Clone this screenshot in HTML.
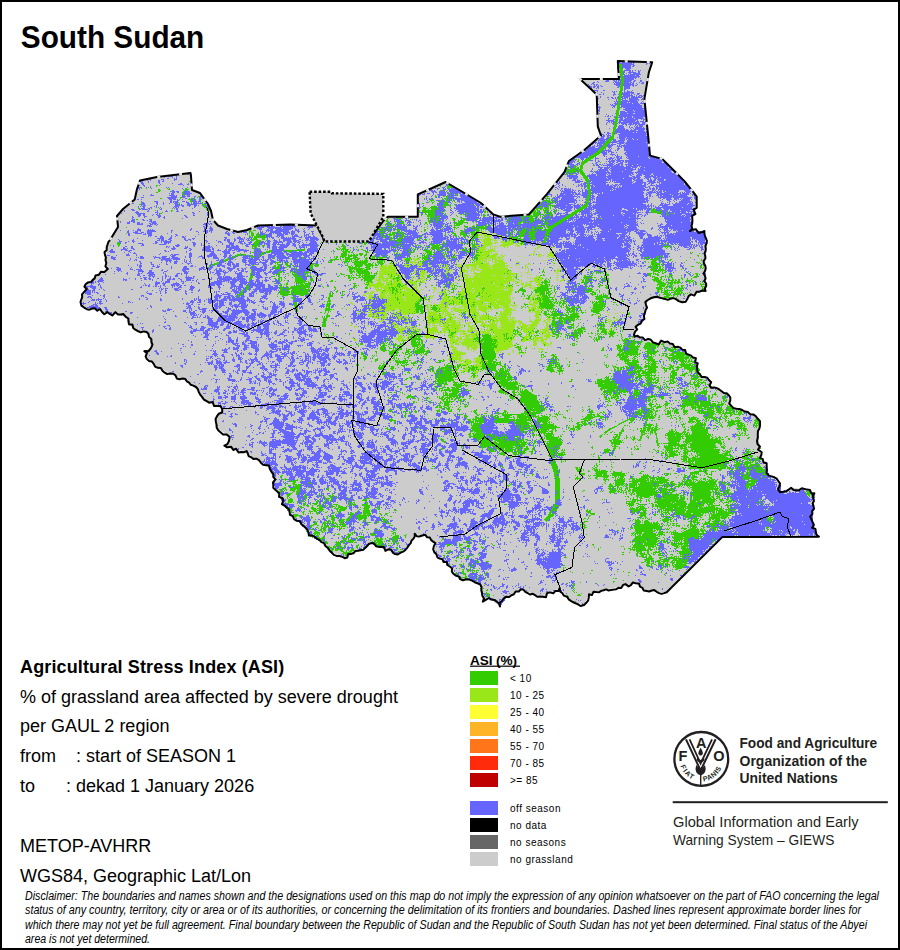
<!DOCTYPE html>
<html><head><meta charset="utf-8">
<style>
html,body{margin:0;padding:0;background:#fff;}
svg{display:block;}
text{font-family:"Liberation Sans",sans-serif;fill:#000;}
.lg{font-size:10px;letter-spacing:0.5px;}
.tx{font-size:18px;}
</style></head><body>
<svg width="900" height="950" viewBox="0 0 900 950">
<rect x="0" y="0" width="900" height="950" fill="#fff"/>
<g id="map">
<polygon points="140.0,180.5 157.0,177.0 190.5,173.0 191.0,176.0 192.0,190.0 200.0,193.0 208.0,204.0 211.0,211.0 213.0,220.0 218.0,225.5 227.0,229.0 238.0,232.0 247.0,230.0 258.0,225.5 275.5,225.0 290.0,224.4 316.7,225.6 323.3,237.8 324.4,241.5 366.7,241.5 370.0,239.0 383.3,221.0 387.8,216.7 417.8,216.7 417.8,194.4 425.6,191.0 445.6,182.0 461.0,191.0 481.0,203.0 493.3,214.4 500.0,216.7 528.9,214.4 546.7,194.4 564.4,172.2 568.9,161.0 584.4,150.0 601.0,135.6 597.8,126.7 596.7,94.4 580.0,78.9 618.9,78.9 617.8,61.0 652.2,62.2 648.9,72.2 644.4,98.9 648.9,143.3 650.0,155.6 662.2,158.9 675.6,172.2 684.4,181.1 693.3,192.2 696.7,196.7 696.7,207.8 692.2,215.6 690.0,231.0 704.4,231.0 705.6,251.0 705.6,291.0 691.0,294.4 682.2,302.2 675.6,298.9 660.0,297.8 647.8,300.0 645.6,310.0 644.4,318.9 635.6,326.7 634.4,336.7 655.6,343.3 664.4,342.2 677.8,346.7 691.1,355.6 697.8,363.3 700.0,374.4 708.9,380.0 711.1,387.8 726.7,393.3 731.1,405.6 742.2,410.0 753.3,414.4 760.0,421.1 760.0,425.6 757.8,434.4 760.0,446.7 760.0,457.8 766.7,466.7 768.9,475.6 780.0,483.3 780.0,492.2 791.1,487.8 804.4,488.9 814.4,493.3 812.2,511.1 812.2,527.8 818.9,536.7 722.2,537.1 666.7,592.2 646.7,591.1 640.0,586.7 635.6,583.2 606.0,589.4 589.0,594.3 584.0,605.0 572.0,601.6 567.0,596.7 559.8,588.0 542.7,596.7 520.7,589.4 506.0,596.7 500.0,606.5 488.9,598.0 482.8,601.6 480.3,584.5 469.3,579.6 460.0,579.0 446.8,562.0 434.5,552.6 435.4,543.1 429.8,537.4 414.7,533.7 409.0,545.0 397.7,554.4 378.8,546.9 371.2,543.1 358.0,550.7 344.8,558.2 329.7,550.7 324.0,543.1 308.9,535.6 301.3,524.2 290.0,514.8 284.4,505.6 275.6,490.0 273.3,474.4 268.9,465.6 253.3,458.9 246.7,451.1 233.3,450.0 224.4,445.6 228.9,441.1 226.7,434.4 216.7,427.8 215.6,418.9 222.2,408.9 206.7,401.1 200.0,394.4 193.3,385.6 175.6,375.6 157.8,367.8 146.7,358.9 144.4,351.1 151.1,347.8 148.9,336.7 146.7,332.0 137.8,331.0 129.0,324.4 125.5,316.7 117.8,314.4 102.0,312.0 100.0,309.0 84.4,307.8 80.5,302.0 82.0,294.4 86.7,289.0 84.4,286.7 95.5,275.5 104.4,272.0 107.8,269.0 105.5,260.0 106.7,250.0 110.0,240.0 118.0,227.0 117.0,216.0 123.0,209.0 134.7,199.5 137.0,189.0" fill="#cccccc" stroke="none"/>
<g fill="none" stroke-width="1" shape-rendering="crispEdges">
<path stroke="#6666ff" d="M619 62.5h1m2 0h13m11 0h1m2 0h1m2 0h1M618 63.5h14m1 0h1m12 0h2m1 0h1M617 64.5h2m3 0h12m12 0h1M617 65.5h2m3 0h9m2 0h2M617 66.5h2m3 0h9m1 0h2M617 67.5h2m3 0h9M617 68.5h1m4 0h1m2 0h6M617 69.5h1m8 0h4M618 70.5h1m5 0h7m1 0h1m2 0h1m2 0h1m1 0h1M618 71.5h1m4 0h2m4 0h2m1 0h1m5 0h2M623 72.5h2m3 0h8m2 0h2M618 73.5h1m4 0h1m2 0h1m2 0h2m2 0h7M619 74.5h1m3 0h2m3 0h1m1 0h11M624 75.5h11m1 0h3M619 76.5h2m2 0h17M619 77.5h2m3 0h13m1 0h1M588 78.5h1m1 0h1m1 0h1m11 0h7m4 0h3m1 0h1m4 0h10m1 0h1m4 0h1M594 79.5h2m1 0h1m6 0h8m3 0h6m3 0h10M606 80.5h3m4 0h2m1 0h1m1 0h3m3 0h8m2 0h2m4 0h2M597 81.5h1m7 0h4m5 0h3m1 0h1m1 0h1m3 0h7m2 0h2m5 0h2M593 82.5h2m3 0h1m14 0h1m1 0h6m3 0h5m1 0h2m1 0h1m5 0h1m2 0h2M592 83.5h2m20 0h1m1 0h5m3 0h7m1 0h2m2 0h1m4 0h3M586 84.5h1m1 0h1m2 0h1m1 0h2m1 0h2m16 0h6m3 0h11m3 0h1M587 85.5h1m1 0h1m4 0h1m1 0h1m1 0h1m1 0h1m15 0h4m3 0h8m1 0h2m1 0h2M588 86.5h4m1 0h3m1 0h2m2 0h2m15 0h2m4 0h6m3 0h1M589 87.5h1m1 0h1m1 0h2m2 0h2m18 0h2m5 0h6M591 88.5h1m4 0h1m1 0h1m25 0h6M591 89.5h1m32 0h2M594 90.5h4m5 0h2m17 0h1m1 0h1m2 0h1m4 0h1M597 91.5h1m14 0h1m1 0h1m1 0h1m7 0h1m2 0h3m1 0h1M601 92.5h1m11 0h2m7 0h1m1 0h10M597 93.5h1m5 0h1m10 0h1m7 0h8m1 0h3m3 0h3M597 94.5h1m1 0h2m2 0h1m9 0h3m2 0h1m3 0h8m1 0h1m2 0h1m2 0h2M613 95.5h1m9 0h10m3 0h1m2 0h3m1 0h2M600 96.5h1m17 0h1m3 0h8m1 0h4m1 0h1m1 0h2m1 0h2M600 97.5h1m6 0h2m2 0h2m2 0h1m1 0h1m3 0h2m1 0h4m1 0h1m1 0h11M597 98.5h2m13 0h2m1 0h1m1 0h1m4 0h4m1 0h1m1 0h9m4 0h1M597 99.5h1m10 0h1m7 0h1m4 0h2m2 0h1m3 0h10m2 0h2m1 0h1M596 100.5h1m19 0h1m5 0h6m1 0h8m1 0h1m4 0h1M596 101.5h1m17 0h1m1 0h2m3 0h17m4 0h1m1 0h1M596 102.5h1m18 0h1m1 0h1m3 0h6m1 0h1m1 0h8m3 0h1m1 0h1M614 103.5h4m3 0h11m1 0h6m1 0h5M596 104.5h1m1 0h1m11 0h1m1 0h1m2 0h2m3 0h20M597 105.5h1m13 0h5m5 0h21m2 0h1M596 106.5h1m2 0h1m13 0h2m6 0h21m3 0h1M597 107.5h4m11 0h1m1 0h1m5 0h2m1 0h19m2 0h2M599 108.5h1m25 0h21M597 109.5h1m1 0h1m23 0h20m1 0h2M598 110.5h2m25 0h8m1 0h12M597 111.5h1m1 0h1m20 0h5m2 0h7m1 0h11M620 112.5h26M597 113.5h1m1 0h1m15 0h1m4 0h7m1 0h5m2 0h11M606 114.5h1m13 0h25M608 115.5h1m3 0h1m6 0h26M605 116.5h1m1 0h2m1 0h1m3 0h1m4 0h13m1 0h12M614 117.5h1m3 0h5m1 0h2m1 0h5m1 0h10m3 0h1M608 118.5h2m10 0h3m2 0h9m1 0h9m2 0h1M608 119.5h1m4 0h2m4 0h4m1 0h14m3 0h1m1 0h2m1 0h1M606 120.5h8m5 0h17m1 0h1m5 0h1m2 0h1M608 121.5h2m1 0h4m4 0h2m2 0h12m1 0h3m1 0h4m1 0h1M607 122.5h1m1 0h1m1 0h1m1 0h1m4 0h21m3 0h5M606 123.5h1m5 0h2m3 0h1m1 0h1m1 0h6m2 0h3m1 0h7m2 0h3M606 124.5h1m6 0h1m8 0h2m1 0h2m1 0h6m1 0h2m1 0h7m1 0h1M619 125.5h4m3 0h1m3 0h1m4 0h1m1 0h1m1 0h4M618 126.5h6m5 0h1m4 0h1m1 0h2m1 0h4M613 127.5h1m4 0h6m5 0h1m1 0h2m2 0h7m1 0h1M609 128.5h1m7 0h8m5 0h1m2 0h1m1 0h10m1 0h2M616 129.5h9m1 0h2m3 0h1m2 0h11m1 0h2M616 130.5h13m1 0h6m2 0h6m3 0h1M615 131.5h30m1 0h2M604 132.5h1m2 0h2m6 0h18m1 0h2m1 0h11M601 133.5h1m5 0h4m4 0h2m3 0h26m1 0h1M601 134.5h3m2 0h1m1 0h1m9 0h30M601 135.5h1m1 0h2m2 0h4m8 0h27M601 136.5h4m2 0h2m1 0h1m8 0h29M601 137.5h3m3 0h3m7 0h1m1 0h7m1 0h21M599 138.5h5m2 0h3m10 0h6m1 0h6m1 0h16M596 139.5h1m2 0h9m5 0h3m4 0h5m1 0h1m1 0h5m1 0h3m1 0h11M595 140.5h1m2 0h7m1 0h1m6 0h3m2 0h7m2 0h22M594 141.5h1m3 0h1m1 0h6m6 0h12m3 0h22M593 142.5h4m1 0h7m5 0h7m2 0h6m1 0h20m1 0h2M593 143.5h1m1 0h1m1 0h7m5 0h1m2 0h1m4 0h7m1 0h24M592 144.5h1m4 0h1m1 0h3m1 0h1m4 0h2m1 0h5m3 0h2m3 0h1m1 0h23M590 145.5h1m3 0h1m2 0h6m4 0h6m4 0h1m1 0h1m1 0h27M589 146.5h2m1 0h3m1 0h2m1 0h3m5 0h5m5 0h5m1 0h25M587 147.5h1m1 0h6m3 0h3m7 0h3m7 0h1m2 0h1m2 0h24m1 0h1M587 148.5h13m5 0h1m3 0h1m1 0h1m5 0h3m4 0h26M585 149.5h1m1 0h12m6 0h1m2 0h1m1 0h1m6 0h2m5 0h26M584 150.5h14m5 0h8m4 0h1m1 0h1m6 0h26M585 151.5h12m5 0h3m1 0h1m1 0h4m14 0h24M581 152.5h1m1 0h13m5 0h6m1 0h1m2 0h3m2 0h1m8 0h25M580 153.5h14m8 0h5m4 0h1m12 0h2m1 0h23M578 154.5h1m1 0h13m10 0h4m3 0h5m2 0h1m7 0h26M577 155.5h14m12 0h2m7 0h1m2 0h1m1 0h1m8 0h24M577 156.5h11m1 0h1m14 0h1m1 0h1m9 0h4m1 0h1m5 0h11m1 0h10m3 0h1m1 0h1M575 157.5h13m7 0h1m14 0h2m2 0h1m1 0h3m1 0h2m4 0h1m1 0h20m1 0h6m3 0h1M573 158.5h2m5 0h4m2 0h1m8 0h4m7 0h1m1 0h6m3 0h5m5 0h22m1 0h9m1 0h3M571 159.5h4m6 0h3m11 0h1m10 0h2m1 0h2m1 0h1m2 0h1m1 0h3m9 0h34M569 160.5h1m1 0h3m1 0h1m6 0h1m7 0h3m2 0h1m2 0h1m10 0h1m1 0h4m1 0h8m1 0h37m1 0h1M568 161.5h7m20 0h1m2 0h2m6 0h1m1 0h7m2 0h4m1 0h2m1 0h37m1 0h1M568 162.5h5m1 0h1m4 0h1m16 0h2m11 0h2m1 0h2m2 0h2m2 0h3m2 0h2m1 0h34m2 0h3M569 163.5h3m5 0h3m12 0h1m2 0h2m7 0h1m1 0h1m2 0h4m1 0h1m3 0h5m5 0h40M568 164.5h6m2 0h2m1 0h1m13 0h1m2 0h2m1 0h2m1 0h1m4 0h7m2 0h4m1 0h2m2 0h12m1 0h31M570 165.5h4m1 0h1m1 0h1m16 0h1m1 0h3m4 0h10m1 0h6m1 0h2m3 0h1m1 0h4m1 0h36M567 166.5h2m1 0h4m24 0h2m7 0h1m1 0h15m2 0h12m1 0h1m1 0h29M570 167.5h4m24 0h5m1 0h6m1 0h20m1 0h5m3 0h4m1 0h23m1 0h2M565 168.5h2m4 0h1m2 0h1m17 0h1m7 0h2m2 0h5m1 0h23m2 0h1m2 0h1m1 0h30m1 0h1M566 169.5h1m1 0h1m2 0h1m20 0h1m5 0h10m1 0h1m1 0h14m1 0h10m2 0h35M576 170.5h2m13 0h1m5 0h1m1 0h9m2 0h23m5 0h6m1 0h29M565 171.5h1m2 0h1m9 0h1m11 0h3m1 0h1m1 0h10m1 0h2m2 0h11m1 0h9m5 0h34m2 0h1M564 172.5h2m1 0h2m4 0h2m2 0h1m15 0h1m1 0h15m1 0h23m1 0h37m2 0h1M563 173.5h2m3 0h3m1 0h2m1 0h2m1 0h1m13 0h1m3 0h11m1 0h25m3 0h1m1 0h14m1 0h22M187 174.5h2m374 0h1m1 0h1m1 0h1m1 0h1m6 0h2m11 0h1m1 0h5m1 0h9m1 0h1m1 0h1m1 0h20m1 0h2m3 0h5m1 0h8m2 0h25M176 175.5h1m390 0h10m10 0h9m1 0h9m2 0h21m1 0h2m4 0h6m3 0h5m1 0h2m1 0h25M168 176.5h5m3 0h1m390 0h11m9 0h42m3 0h3m1 0h4m4 0h12m1 0h23M164 177.5h1m7 0h1m3 0h1m392 0h9m11 0h17m1 0h25m1 0h8m4 0h6m2 0h7m1 0h20M167 178.5h2m5 0h1m1 0h1m390 0h1m1 0h3m1 0h4m12 0h18m1 0h15m1 0h12m1 0h3m4 0h1m1 0h3m1 0h1m3 0h3m1 0h24M147 179.5h1m1 0h2m10 0h3m10 0h3m396 0h3m1 0h1m3 0h1m8 0h21m1 0h20m1 0h2m1 0h7m4 0h2m1 0h2m2 0h2m1 0h7m2 0h17M140 180.5h2m5 0h1m2 0h1m7 0h2m3 0h1m10 0h1m397 0h4m1 0h3m9 0h20m1 0h1m1 0h20m2 0h9m5 0h4m1 0h3m2 0h6m1 0h18M140 181.5h3m5 0h1m9 0h2m2 0h2m395 0h1m15 0h8m6 0h2m1 0h14m4 0h1m1 0h1m1 0h1m1 0h16m1 0h1m2 0h7m4 0h8m2 0h1m1 0h24M141 182.5h2m5 0h1m9 0h2m285 0h1m110 0h2m1 0h1m15 0h5m4 0h2m3 0h1m1 0h17m1 0h1m4 0h19m2 0h11m3 0h7m1 0h3m1 0h25M139 183.5h1m1 0h3m15 0h1m12 0h1m7 0h2m6 0h1m254 0h1m2 0h1m110 0h3m21 0h1m1 0h4m2 0h17m14 0h12m1 0h10m1 0h2m2 0h2m1 0h3m5 0h1m1 0h23m1 0h1M142 184.5h2m16 0h1m17 0h5m4 0h2m3 0h1m253 0h2m107 0h2m1 0h1m3 0h1m10 0h1m4 0h1m1 0h2m1 0h3m6 0h14m1 0h2m3 0h1m2 0h3m1 0h23m2 0h2m1 0h1m3 0h1m4 0h1m2 0h25m1 0h1M138 185.5h2m3 0h2m38 0h1m8 0h1m253 0h2m107 0h1m3 0h1m2 0h1m15 0h2m1 0h2m1 0h3m3 0h3m1 0h15m1 0h2m1 0h4m1 0h1m1 0h1m1 0h24m4 0h5m1 0h32M144 186.5h1m5 0h1m41 0h1m252 0h1m112 0h1m6 0h1m10 0h1m1 0h1m2 0h2m1 0h3m4 0h3m1 0h18m1 0h2m1 0h1m1 0h1m2 0h24m2 0h2m5 0h34M138 187.5h3m5 0h1m3 0h1m15 0h1m1 0h1m18 0h1m254 0h3m8 0h2m100 0h2m2 0h1m24 0h2m5 0h24m2 0h1m1 0h25m1 0h3m1 0h1m3 0h1m2 0h2m1 0h30M138 188.5h2m11 0h1m30 0h1m252 0h1m1 0h2m4 0h1m1 0h1m3 0h1m1 0h6m100 0h1m3 0h2m1 0h3m1 0h1m1 0h1m10 0h1m2 0h1m6 0h21m1 0h32m4 0h2m1 0h3m1 0h2m1 0h32M139 189.5h1m45 0h1m245 0h1m5 0h1m5 0h3m2 0h10m97 0h1m2 0h1m2 0h1m2 0h7m1 0h1m9 0h1m2 0h2m3 0h23m1 0h1m1 0h30m1 0h2m1 0h1m1 0h3m1 0h1m1 0h33M172 190.5h2m12 0h1m242 0h4m1 0h1m6 0h1m1 0h1m5 0h10m101 0h1m1 0h1m1 0h7m1 0h2m1 0h1m2 0h2m2 0h1m2 0h3m3 0h19m1 0h1m1 0h32m1 0h3m3 0h2m1 0h1m2 0h1m1 0h2m1 0h16m5 0h7M170 191.5h1m1 0h3m1 0h3m5 0h6m241 0h5m3 0h6m1 0h1m2 0h13m87 0h1m11 0h12m1 0h1m3 0h1m1 0h1m1 0h1m2 0h3m4 0h51m6 0h4m1 0h1m1 0h2m1 0h3m1 0h2m1 0h13m6 0h8M172 192.5h3m2 0h2m5 0h6m242 0h2m1 0h2m2 0h7m1 0h1m2 0h14m84 0h2m11 0h1m1 0h13m3 0h1m2 0h6m3 0h11m1 0h41m3 0h9m1 0h5m2 0h14m2 0h1m1 0h1m1 0h1m1 0h4M169 193.5h1m1 0h3m9 0h9m6 0h1m225 0h1m2 0h3m3 0h1m5 0h7m1 0h1m1 0h1m1 0h3m1 0h3m1 0h2m1 0h2m83 0h1m1 0h1m10 0h11m1 0h2m1 0h2m1 0h2m2 0h6m3 0h3m1 0h2m1 0h1m1 0h2m1 0h41m2 0h1m1 0h4m4 0h3m1 0h21m1 0h7m1 0h1m2 0h1M151 194.5h1m19 0h3m10 0h6m230 0h1m1 0h3m8 0h1m3 0h9m2 0h6m1 0h1m4 0h6m80 0h6m5 0h1m2 0h4m1 0h9m1 0h6m1 0h6m4 0h1m4 0h46m3 0h2m1 0h2m6 0h13m1 0h8m1 0h9m3 0h2M143 195.5h1m6 0h4m15 0h6m1 0h1m5 0h2m3 0h3m10 0h2m215 0h3m12 0h1m5 0h8m1 0h1m1 0h1m1 0h5m1 0h1m2 0h8m77 0h3m3 0h1m5 0h1m1 0h14m1 0h1m2 0h1m3 0h6m3 0h4m4 0h46m2 0h1m2 0h2m5 0h3m1 0h2m1 0h9m1 0h5m1 0h8m5 0h1m1 0h2M171 196.5h6m5 0h4m1 0h3m4 0h2m4 0h3m215 0h1m7 0h1m4 0h1m6 0h2m8 0h6m6 0h10m74 0h2m5 0h1m3 0h1m1 0h20m1 0h2m3 0h4m3 0h1m1 0h3m2 0h47m3 0h1m1 0h2m1 0h1m5 0h1m1 0h28m6 0h1M141 197.5h3m23 0h10m5 0h3m9 0h1m4 0h5m222 0h1m9 0h1m1 0h2m1 0h1m6 0h2m1 0h6m4 0h11m71 0h1m10 0h1m1 0h4m2 0h12m3 0h1m1 0h1m3 0h4m3 0h4m2 0h48m2 0h2m10 0h14m1 0h19m2 0h2M168 198.5h8m9 0h2m4 0h2m1 0h1m4 0h2m1 0h1m1 0h1m221 0h1m2 0h1m1 0h2m11 0h1m3 0h6m1 0h19m69 0h1m1 0h1m3 0h1m2 0h6m1 0h1m1 0h13m2 0h1m9 0h1m3 0h1m1 0h3m1 0h52m1 0h1m10 0h1m2 0h2m1 0h5m3 0h5m2 0h1m1 0h8m3 0h3M137 199.5h2m2 0h1m27 0h3m1 0h3m1 0h1m4 0h1m8 0h2m1 0h1m4 0h2m223 0h1m1 0h1m2 0h2m1 0h1m9 0h1m4 0h1m1 0h1m3 0h1m1 0h20m67 0h2m10 0h4m3 0h15m9 0h1m3 0h4m1 0h1m1 0h52m14 0h1m3 0h6m2 0h3m1 0h1m1 0h1m1 0h8m1 0h1m3 0h1M170 200.5h2m5 0h2m13 0h4m3 0h1m227 0h1m8 0h4m1 0h4m4 0h1m1 0h1m1 0h1m3 0h3m1 0h15m65 0h1m1 0h1m7 0h1m1 0h4m2 0h18m2 0h1m2 0h1m6 0h2m1 0h1m3 0h49m1 0h3m11 0h1m6 0h3m3 0h1m2 0h1m4 0h9m6 0h1M141 201.5h1m12 0h4m12 0h2m1 0h5m4 0h3m1 0h1m6 0h4m1 0h3m5 0h1m233 0h5m1 0h1m1 0h2m7 0h3m1 0h1m2 0h13m67 0h2m6 0h1m2 0h20m1 0h1m8 0h1m4 0h1m2 0h2m1 0h52m14 0h1m6 0h2m3 0h1m4 0h13m4 0h1M142 202.5h2m12 0h2m5 0h1m6 0h2m1 0h1m1 0h3m8 0h3m4 0h4m1 0h1m7 0h2m209 0h2m7 0h2m11 0h4m5 0h3m8 0h1m1 0h1m3 0h12m63 0h1m1 0h5m8 0h3m1 0h16m1 0h1m7 0h2m3 0h2m1 0h54m1 0h1m13 0h1m5 0h1m1 0h1m6 0h1m2 0h12m1 0h1m2 0h2M131 203.5h3m7 0h4m11 0h2m5 0h1m5 0h1m4 0h4m9 0h3m1 0h1m1 0h9m2 0h4m209 0h3m18 0h6m7 0h1m10 0h17m62 0h6m1 0h3m1 0h1m2 0h1m1 0h12m5 0h2m12 0h4m4 0h47m8 0h1m9 0h3m1 0h1m3 0h1m2 0h1m2 0h13m1 0h4M141 204.5h4m12 0h1m5 0h1m11 0h3m1 0h1m1 0h1m5 0h3m1 0h6m10 0h2m208 0h3m17 0h6m7 0h1m3 0h1m1 0h1m1 0h13m1 0h2m1 0h6m57 0h2m1 0h8m7 0h17m1 0h1m2 0h2m1 0h1m1 0h1m1 0h1m3 0h3m2 0h1m1 0h51m2 0h1m2 0h1m8 0h3m1 0h6m3 0h14m1 0h5M141 205.5h1m1 0h3m10 0h1m18 0h5m1 0h3m3 0h4m3 0h3m1 0h1m3 0h1m2 0h4m208 0h3m3 0h1m13 0h6m6 0h1m6 0h18m2 0h4m2 0h1m53 0h6m1 0h4m8 0h11m1 0h4m2 0h7m1 0h2m6 0h3m1 0h53m1 0h2m1 0h2m1 0h1m5 0h9m5 0h22M138 206.5h1m3 0h3m9 0h1m1 0h1m17 0h5m3 0h2m5 0h1m4 0h2m10 0h4m207 0h3m2 0h1m16 0h4m1 0h1m11 0h20m1 0h2m1 0h2m2 0h1m50 0h3m1 0h1m2 0h6m6 0h19m1 0h7m7 0h3m1 0h58m1 0h1m1 0h1m1 0h1m2 0h1m3 0h31M138 207.5h1m4 0h2m5 0h2m4 0h1m3 0h1m12 0h1m1 0h2m1 0h1m15 0h1m13 0h2m207 0h3m15 0h2m1 0h6m6 0h1m3 0h1m1 0h20m1 0h2m1 0h3m1 0h2m49 0h2m1 0h2m2 0h1m3 0h1m8 0h4m1 0h13m1 0h6m6 0h1m1 0h59m1 0h1m2 0h1m3 0h27m1 0h9M141 208.5h4m3 0h2m11 0h1m12 0h1m1 0h2m14 0h1m15 0h3m208 0h1m18 0h6m10 0h25m55 0h2m4 0h1m14 0h1m2 0h7m1 0h6m2 0h1m1 0h3m6 0h7m1 0h29m2 0h9m1 0h2m1 0h14m2 0h2m1 0h5m2 0h29M131 209.5h3m5 0h2m1 0h6m1 0h1m10 0h2m14 0h2m30 0h1m1 0h1m225 0h1m2 0h6m5 0h1m5 0h20m1 0h2m1 0h2m1 0h2m69 0h1m6 0h2m1 0h7m3 0h1m9 0h10m2 0h26m5 0h9m1 0h6m1 0h2m1 0h4m5 0h6m2 0h5m1 0h24m1 0h1M124 210.5h1m7 0h3m13 0h1m8 0h1m8 0h1m10 0h1m3 0h2m28 0h1m223 0h10m5 0h2m3 0h1m2 0h21m1 0h2m1 0h1m63 0h1m3 0h1m4 0h1m6 0h9m10 0h8m1 0h1m3 0h26m1 0h4m2 0h11m1 0h1m1 0h1m3 0h4m6 0h4m2 0h6m2 0h10m1 0h9m4 0h1M124 211.5h1m11 0h2m9 0h2m8 0h1m7 0h3m8 0h3m20 0h1m8 0h1m226 0h6m1 0h2m8 0h1m4 0h19m1 0h7m55 0h1m7 0h1m5 0h2m11 0h4m10 0h11m2 0h1m3 0h40m9 0h3m10 0h1m1 0h5m1 0h1m1 0h1m2 0h14m1 0h8M135 212.5h4m16 0h3m34 0h2m13 0h1m212 0h3m12 0h6m9 0h2m1 0h1m5 0h5m1 0h11m2 0h5m56 0h2m5 0h3m5 0h1m3 0h1m6 0h3m11 0h1m1 0h9m1 0h1m3 0h26m2 0h18m1 0h1m2 0h6m11 0h4m1 0h13m1 0h5m2 0h1m2 0h1m1 0h1M121 213.5h1m14 0h9m12 0h1m1 0h1m33 0h2m12 0h2m212 0h2m12 0h9m8 0h1m5 0h6m1 0h1m1 0h1m1 0h10m2 0h1m9 0h1m48 0h1m14 0h1m1 0h5m1 0h2m1 0h2m13 0h11m1 0h28m1 0h1m2 0h8m1 0h2m1 0h1m8 0h2m12 0h1m1 0h5m1 0h3m2 0h1m1 0h17m1 0h1M137 214.5h4m2 0h2m8 0h1m2 0h2m1 0h1m33 0h1m13 0h1m227 0h8m1 0h1m6 0h1m12 0h2m1 0h13m3 0h1m4 0h1m1 0h1m2 0h1m44 0h1m6 0h1m1 0h3m6 0h3m1 0h1m4 0h4m6 0h2m1 0h2m1 0h3m1 0h1m1 0h3m1 0h2m1 0h2m2 0h24m1 0h13m2 0h4m3 0h1m1 0h1m13 0h1m1 0h3m1 0h1m1 0h13m3 0h7M138 215.5h3m2 0h2m7 0h1m4 0h4m23 0h2m7 0h2m12 0h2m212 0h1m13 0h3m1 0h6m1 0h1m3 0h1m16 0h13m1 0h1m5 0h2m4 0h1m27 0h1m18 0h1m2 0h2m1 0h1m1 0h1m3 0h1m3 0h1m3 0h7m8 0h3m4 0h2m1 0h1m1 0h6m4 0h16m1 0h9m1 0h12m1 0h2m3 0h1m1 0h2m16 0h4m1 0h14m1 0h3m1 0h6M132 216.5h1m5 0h2m4 0h3m11 0h3m3 0h1m20 0h2m216 0h1m1 0h1m29 0h1m4 0h8m17 0h12m1 0h1m10 0h2m6 0h2m4 0h6m1 0h7m1 0h2m1 0h1m2 0h1m11 0h1m9 0h4m1 0h2m2 0h11m6 0h1m1 0h1m1 0h3m1 0h6m1 0h5m6 0h2m1 0h35m1 0h2m2 0h1m2 0h1m15 0h1m1 0h22m1 0h7M132 217.5h2m10 0h1m13 0h2m3 0h2m21 0h2m19 0h2m187 0h2m1 0h1m3 0h1m1 0h1m27 0h1m1 0h2m1 0h2m1 0h7m13 0h1m5 0h12m1 0h1m2 0h3m1 0h6m1 0h5m6 0h2m1 0h2m1 0h10m1 0h1m2 0h4m7 0h1m6 0h7m1 0h13m6 0h9m1 0h3m1 0h11m1 0h1m1 0h31m1 0h6m1 0h1m26 0h26M132 218.5h1m31 0h1m17 0h1m210 0h2m2 0h1m4 0h1m2 0h2m24 0h2m1 0h1m1 0h1m3 0h6m1 0h1m17 0h16m1 0h12m1 0h2m4 0h2m2 0h2m2 0h1m1 0h10m3 0h5m6 0h2m1 0h1m4 0h6m1 0h12m7 0h5m2 0h1m1 0h13m3 0h1m1 0h3m3 0h39m23 0h26M132 219.5h3m7 0h2m5 0h1m1 0h1m242 0h4m1 0h2m5 0h1m5 0h1m1 0h1m1 0h1m14 0h1m2 0h2m2 0h6m2 0h1m14 0h1m4 0h10m4 0h1m1 0h13m1 0h1m1 0h2m1 0h2m2 0h2m2 0h5m1 0h7m2 0h4m7 0h1m1 0h1m1 0h1m1 0h1m3 0h2m3 0h1m1 0h9m7 0h5m1 0h18m2 0h1m1 0h40m1 0h1m27 0h26M131 220.5h3m9 0h2m2 0h1m2 0h2m242 0h1m1 0h4m1 0h1m3 0h4m7 0h1m2 0h2m9 0h3m1 0h2m3 0h1m2 0h2m23 0h10m2 0h24m6 0h9m1 0h3m1 0h1m1 0h1m1 0h2m6 0h6m1 0h1m2 0h2m1 0h11m6 0h6m1 0h1m1 0h1m1 0h60m6 0h1m22 0h1m1 0h23M120 221.5h1m8 0h1m1 0h4m14 0h3m1 0h3m53 0h2m179 0h1m3 0h1m1 0h4m5 0h1m2 0h3m7 0h1m12 0h2m1 0h2m1 0h7m10 0h1m17 0h2m2 0h4m2 0h7m2 0h2m1 0h7m5 0h2m1 0h2m1 0h9m3 0h6m4 0h9m2 0h1m1 0h11m6 0h3m1 0h1m4 0h1m1 0h18m1 0h42m1 0h1m27 0h25m1 0h1M120 222.5h1m6 0h3m3 0h2m2 0h3m11 0h5m51 0h1m180 0h2m7 0h5m5 0h5m1 0h1m6 0h1m9 0h1m1 0h4m2 0h5m3 0h1m3 0h1m25 0h1m1 0h8m1 0h5m2 0h2m3 0h1m1 0h2m5 0h10m7 0h1m2 0h2m2 0h11m2 0h1m2 0h8m6 0h7m1 0h19m1 0h2m1 0h28m1 0h15m3 0h1m25 0h15m1 0h10M127 223.5h3m7 0h3m1 0h2m6 0h2m1 0h5m47 0h5m1 0h2m176 0h1m1 0h1m6 0h1m1 0h1m7 0h1m1 0h1m10 0h1m12 0h12m2 0h2m1 0h1m3 0h1m23 0h11m1 0h3m2 0h1m1 0h1m1 0h5m2 0h1m1 0h5m1 0h4m5 0h6m1 0h3m1 0h7m1 0h2m5 0h5m7 0h75m1 0h1m3 0h1m1 0h1m13 0h1m3 0h1m5 0h25M137 224.5h6m7 0h3m1 0h2m1 0h1m45 0h5m1 0h1m1 0h1m78 0h1m95 0h2m2 0h1m5 0h6m1 0h2m3 0h3m9 0h1m9 0h2m1 0h9m1 0h1m1 0h3m30 0h8m2 0h2m1 0h1m2 0h2m3 0h5m4 0h6m1 0h3m2 0h18m3 0h4m2 0h6m6 0h24m1 0h1m1 0h12m1 0h27m1 0h11m22 0h3m3 0h26M147 225.5h4m5 0h1m48 0h3m51 0h1m2 0h6m1 0h8m6 0h8m1 0h4m12 0h5m3 0h1m71 0h1m4 0h1m2 0h6m1 0h2m2 0h4m2 0h1m3 0h1m1 0h1m11 0h1m1 0h9m3 0h1m1 0h1m1 0h2m25 0h7m1 0h1m3 0h1m6 0h1m1 0h9m2 0h28m1 0h1m3 0h1m6 0h3m6 0h16m1 0h9m3 0h1m2 0h4m1 0h30m1 0h2m2 0h9m20 0h3m4 0h6m1 0h20M147 226.5h1m1 0h3m51 0h2m1 0h2m2 0h1m9 0h1m35 0h4m1 0h9m1 0h4m5 0h2m1 0h13m12 0h5m3 0h1m69 0h4m1 0h1m1 0h13m7 0h2m1 0h2m3 0h1m8 0h1m3 0h9m2 0h5m1 0h1m26 0h1m8 0h4m4 0h24m1 0h1m1 0h10m2 0h3m1 0h1m1 0h2m1 0h2m11 0h21m1 0h6m4 0h8m1 0h28m2 0h9m2 0h1m19 0h1m1 0h32M204 227.5h2m4 0h2m45 0h7m3 0h14m1 0h11m1 0h1m12 0h6m4 0h1m62 0h2m2 0h3m3 0h1m1 0h1m2 0h1m1 0h10m8 0h2m15 0h1m1 0h1m1 0h6m1 0h1m2 0h5m16 0h1m1 0h2m1 0h1m1 0h1m1 0h1m10 0h5m1 0h5m1 0h7m2 0h8m1 0h8m1 0h6m2 0h2m8 0h1m9 0h20m1 0h9m1 0h10m4 0h25m1 0h2m1 0h9m15 0h1m6 0h9m1 0h22M138 228.5h1m52 0h1m12 0h2m3 0h4m44 0h5m6 0h6m1 0h7m1 0h10m2 0h1m8 0h1m4 0h1m72 0h1m2 0h4m2 0h1m1 0h1m3 0h10m6 0h4m15 0h1m2 0h6m3 0h8m15 0h5m2 0h1m3 0h1m7 0h25m1 0h2m1 0h3m2 0h2m1 0h2m2 0h2m1 0h2m3 0h1m2 0h1m6 0h1m7 0h20m2 0h10m2 0h5m6 0h1m1 0h26m1 0h10m14 0h2m6 0h1m2 0h1m1 0h4m1 0h22M137 229.5h4m7 0h1m1 0h1m1 0h1m37 0h2m12 0h2m4 0h3m13 0h1m22 0h2m8 0h3m5 0h2m1 0h3m3 0h15m4 0h2m1 0h1m4 0h1m4 0h1m71 0h1m3 0h2m1 0h1m1 0h3m1 0h3m4 0h5m1 0h1m2 0h1m5 0h2m14 0h3m2 0h2m2 0h1m1 0h9m1 0h1m12 0h10m11 0h1m1 0h19m1 0h4m1 0h1m1 0h7m4 0h2m1 0h1m6 0h3m1 0h1m11 0h15m1 0h5m2 0h11m1 0h2m1 0h3m1 0h2m5 0h9m1 0h28m12 0h1m6 0h1m1 0h1m2 0h5m3 0h1m1 0h18M120 230.5h1m7 0h1m4 0h1m3 0h4m6 0h8m16 0h2m17 0h1m13 0h4m1 0h4m34 0h1m12 0h1m5 0h7m2 0h14m3 0h1m2 0h4m5 0h1m77 0h1m1 0h1m2 0h2m1 0h2m2 0h1m6 0h11m1 0h3m1 0h1m12 0h5m1 0h7m1 0h5m1 0h1m1 0h1m12 0h10m13 0h19m1 0h5m3 0h1m1 0h2m1 0h1m4 0h1m1 0h2m1 0h1m2 0h2m1 0h4m3 0h1m7 0h14m1 0h7m1 0h10m2 0h3m12 0h32m1 0h3m1 0h6m14 0h1m4 0h5m1 0h1m2 0h3m1 0h5m1 0h8M127 231.5h2m6 0h3m2 0h1m6 0h9m15 0h1m24 0h2m5 0h5m1 0h1m1 0h1m14 0h2m15 0h4m13 0h1m1 0h1m3 0h1m1 0h1m1 0h19m2 0h4m2 0h3m3 0h2m6 0h3m62 0h6m2 0h2m2 0h1m1 0h1m7 0h1m5 0h12m15 0h15m2 0h5m10 0h9m18 0h17m1 0h2m1 0h2m5 0h1m1 0h1m6 0h2m2 0h1m5 0h9m5 0h15m4 0h4m3 0h8m1 0h1m1 0h1m2 0h1m3 0h1m1 0h1m2 0h8m1 0h17m1 0h4m3 0h3m1 0h1m1 0h6m14 0h1m3 0h1m1 0h2m1 0h1m6 0h1m1 0h16m2 0h9M127 232.5h2m4 0h5m3 0h3m3 0h5m19 0h1m26 0h1m6 0h3m3 0h1m13 0h2m1 0h1m3 0h2m7 0h1m1 0h4m13 0h3m2 0h1m4 0h11m2 0h7m1 0h4m3 0h1m5 0h2m6 0h1m62 0h3m9 0h1m6 0h1m2 0h1m2 0h1m5 0h1m1 0h9m1 0h1m7 0h1m2 0h13m3 0h1m1 0h3m2 0h1m12 0h3m22 0h17m1 0h2m2 0h1m4 0h2m7 0h2m8 0h10m4 0h16m2 0h1m1 0h3m3 0h9m1 0h1m1 0h1m2 0h2m3 0h1m1 0h1m2 0h27m1 0h1m6 0h7m3 0h1m14 0h8m7 0h22m1 0h6M128 233.5h2m5 0h7m3 0h1m1 0h5m15 0h1m38 0h1m18 0h5m3 0h2m12 0h1m12 0h5m4 0h3m1 0h1m1 0h7m1 0h5m1 0h1m1 0h4m9 0h1m4 0h1m2 0h2m61 0h6m2 0h4m9 0h3m4 0h3m1 0h11m6 0h4m2 0h13m22 0h2m1 0h2m26 0h11m1 0h3m1 0h1m3 0h1m1 0h1m6 0h4m6 0h10m4 0h17m1 0h1m1 0h4m1 0h1m2 0h2m1 0h4m7 0h1m2 0h1m3 0h1m1 0h16m6 0h5m2 0h1m6 0h10m1 0h1m11 0h1m2 0h1m1 0h2m1 0h2m1 0h2m1 0h32M128 234.5h2m13 0h3m2 0h4m23 0h2m21 0h1m28 0h3m15 0h1m1 0h1m11 0h6m1 0h6m5 0h7m1 0h3m3 0h3m1 0h2m7 0h1m1 0h3m3 0h1m61 0h7m1 0h1m3 0h1m9 0h5m4 0h6m1 0h6m5 0h3m1 0h16m5 0h1m2 0h1m14 0h1m23 0h1m6 0h9m2 0h2m2 0h1m1 0h1m1 0h4m5 0h2m1 0h1m6 0h10m5 0h26m1 0h1m1 0h7m2 0h1m3 0h1m1 0h1m1 0h22m1 0h7m3 0h1m8 0h7m2 0h4m13 0h2m1 0h7m1 0h30M128 235.5h2m18 0h4m9 0h1m9 0h1m4 0h2m50 0h2m30 0h2m4 0h6m5 0h7m8 0h1m1 0h4m6 0h3m1 0h1m4 0h1m60 0h7m2 0h1m1 0h3m7 0h3m2 0h2m5 0h1m2 0h10m1 0h2m2 0h1m6 0h11m1 0h1m4 0h2m15 0h1m26 0h1m3 0h1m3 0h6m1 0h3m4 0h2m7 0h6m4 0h1m1 0h9m3 0h1m1 0h20m1 0h2m1 0h3m3 0h4m1 0h1m1 0h1m1 0h4m4 0h22m1 0h5m1 0h1m1 0h1m10 0h5m3 0h5m5 0h1m2 0h2m1 0h1m1 0h40M148 236.5h1m1 0h1m4 0h2m3 0h3m8 0h1m3 0h1m6 0h2m1 0h1m9 0h1m8 0h1m1 0h1m32 0h1m18 0h1m7 0h6m4 0h2m1 0h1m1 0h3m8 0h7m2 0h1m2 0h1m1 0h1m1 0h3m2 0h2m58 0h3m1 0h4m1 0h1m2 0h5m4 0h5m1 0h1m4 0h7m1 0h9m2 0h2m1 0h1m3 0h1m1 0h10m2 0h3m2 0h2m1 0h1m1 0h1m2 0h1m8 0h1m25 0h7m1 0h1m3 0h4m3 0h4m2 0h1m5 0h4m7 0h10m2 0h23m1 0h5m2 0h7m1 0h1m1 0h6m1 0h1m1 0h22m1 0h8m1 0h1m9 0h4m5 0h4m2 0h4m1 0h1m1 0h1m3 0h40M160 237.5h4m6 0h2m10 0h3m39 0h3m10 0h4m3 0h1m4 0h3m14 0h2m1 0h1m1 0h3m4 0h1m2 0h4m1 0h1m1 0h1m1 0h1m1 0h3m4 0h3m3 0h12m56 0h2m1 0h7m3 0h3m5 0h1m1 0h2m3 0h1m2 0h2m1 0h12m5 0h3m6 0h13m1 0h2m1 0h1m2 0h1m2 0h1m4 0h2m1 0h1m3 0h1m5 0h1m19 0h5m2 0h1m1 0h2m4 0h1m14 0h6m1 0h1m3 0h9m5 0h11m1 0h2m2 0h2m2 0h1m4 0h19m4 0h20m2 0h6m2 0h4m9 0h3m5 0h13m4 0h1m1 0h23m2 0h13M137 238.5h1m19 0h7m5 0h3m12 0h2m6 0h3m30 0h2m7 0h1m2 0h6m1 0h1m2 0h3m17 0h1m4 0h2m7 0h15m9 0h4m1 0h8m4 0h1m49 0h3m1 0h2m1 0h4m2 0h5m3 0h4m5 0h1m1 0h11m2 0h1m2 0h2m3 0h1m6 0h16m2 0h3m1 0h10m11 0h3m16 0h3m1 0h2m2 0h8m9 0h1m4 0h6m6 0h8m3 0h2m1 0h9m7 0h4m4 0h1m1 0h18m2 0h6m3 0h12m1 0h7m1 0h4m3 0h1m6 0h3m1 0h1m1 0h15m2 0h1m1 0h26m1 0h13M118 239.5h1m14 0h1m25 0h1m1 0h3m4 0h3m13 0h2m2 0h3m2 0h1m30 0h2m1 0h3m4 0h2m3 0h5m2 0h1m1 0h1m1 0h2m15 0h1m6 0h1m4 0h1m3 0h8m1 0h4m3 0h2m5 0h3m1 0h9m4 0h1m47 0h3m2 0h14m4 0h1m6 0h13m8 0h1m9 0h14m1 0h2m1 0h9m2 0h6m6 0h1m1 0h4m23 0h5m2 0h1m5 0h1m7 0h7m2 0h1m2 0h8m4 0h2m1 0h12m4 0h3m7 0h19m2 0h6m1 0h19m1 0h3m1 0h4m11 0h17m1 0h1m2 0h1m1 0h25m1 0h1m1 0h1m1 0h9M119 240.5h1m12 0h2m8 0h1m14 0h3m1 0h3m1 0h2m3 0h2m13 0h3m2 0h1m14 0h2m9 0h1m7 0h2m1 0h3m4 0h2m3 0h1m1 0h1m1 0h1m3 0h3m17 0h3m3 0h4m2 0h1m3 0h8m2 0h6m3 0h1m2 0h3m1 0h6m1 0h2m52 0h4m6 0h7m2 0h2m1 0h1m2 0h1m6 0h12m4 0h3m2 0h1m1 0h1m7 0h10m3 0h4m1 0h1m1 0h4m1 0h1m1 0h2m2 0h1m1 0h2m6 0h1m1 0h2m25 0h1m1 0h2m2 0h1m6 0h1m6 0h8m3 0h10m2 0h13m16 0h20m1 0h7m2 0h27m1 0h1m1 0h1m7 0h48m4 0h2m1 0h7M119 241.5h3m6 0h1m3 0h3m20 0h2m4 0h1m1 0h8m35 0h2m10 0h3m6 0h3m4 0h1m4 0h5m6 0h2m9 0h3m3 0h4m3 0h4m1 0h3m1 0h2m2 0h5m1 0h4m1 0h3m9 0h6m53 0h4m4 0h2m1 0h8m1 0h8m4 0h3m1 0h8m1 0h1m6 0h3m7 0h11m5 0h10m1 0h1m2 0h2m1 0h1m1 0h2m1 0h2m5 0h4m25 0h2m8 0h3m6 0h12m1 0h2m2 0h2m4 0h11m5 0h2m1 0h1m1 0h2m5 0h49m1 0h4m1 0h2m1 0h2m8 0h17m1 0h6m1 0h22m1 0h2m2 0h2m2 0h6M119 242.5h2m4 0h2m6 0h1m21 0h3m3 0h1m2 0h7m21 0h3m11 0h1m11 0h1m1 0h2m6 0h4m1 0h1m4 0h4m2 0h1m3 0h4m8 0h5m2 0h3m3 0h10m4 0h5m2 0h2m1 0h3m2 0h1m3 0h1m3 0h7m41 0h3m8 0h3m1 0h1m1 0h3m5 0h15m1 0h15m5 0h7m3 0h1m1 0h1m1 0h9m1 0h1m2 0h11m1 0h2m2 0h4m1 0h2m7 0h1m3 0h1m33 0h2m1 0h1m6 0h8m1 0h3m1 0h1m1 0h1m2 0h1m3 0h3m1 0h8m2 0h2m1 0h1m1 0h4m1 0h1m2 0h1m1 0h50m1 0h2m1 0h1m1 0h1m2 0h1m7 0h15m1 0h2m1 0h2m1 0h2m1 0h24m1 0h1m3 0h1m1 0h8M120 243.5h1m4 0h1m12 0h5m10 0h1m1 0h2m7 0h3m1 0h1m24 0h3m5 0h1m6 0h2m12 0h1m6 0h5m6 0h3m1 0h2m3 0h2m8 0h4m1 0h6m3 0h4m1 0h1m3 0h1m3 0h4m2 0h3m4 0h1m3 0h1m5 0h8m3 0h1m7 0h1m7 0h1m22 0h2m7 0h13m1 0h17m3 0h3m1 0h1m2 0h7m3 0h2m2 0h1m2 0h1m4 0h9m5 0h12m1 0h1m2 0h1m3 0h1m1 0h1m1 0h1m1 0h1m5 0h1m46 0h3m1 0h3m1 0h3m1 0h3m2 0h12m1 0h18m2 0h48m2 0h5m1 0h1m3 0h1m8 0h11m1 0h2m1 0h6m4 0h1m1 0h3m1 0h2m1 0h1m1 0h12m7 0h1m1 0h6M142 244.5h2m15 0h7m11 0h2m14 0h3m5 0h1m20 0h1m6 0h5m8 0h1m3 0h4m1 0h3m5 0h3m2 0h1m1 0h4m2 0h4m1 0h8m1 0h4m3 0h3m2 0h1m3 0h16m18 0h1m9 0h1m23 0h25m1 0h1m3 0h13m4 0h1m11 0h1m3 0h1m6 0h1m1 0h2m1 0h18m1 0h1m7 0h1m3 0h3m2 0h1m43 0h3m2 0h1m1 0h1m2 0h2m1 0h2m1 0h12m1 0h1m1 0h2m1 0h3m1 0h1m1 0h7m1 0h1m1 0h5m1 0h42m1 0h6m4 0h2m6 0h12m1 0h4m2 0h2m1 0h2m1 0h2m2 0h3m1 0h1m2 0h15m1 0h1m1 0h1m1 0h1m1 0h3M113 245.5h1m27 0h3m31 0h5m13 0h2m6 0h1m1 0h1m4 0h2m6 0h1m9 0h4m1 0h3m2 0h2m7 0h3m11 0h1m7 0h3m3 0h3m4 0h9m3 0h4m3 0h1m1 0h17m29 0h2m22 0h1m1 0h23m1 0h3m1 0h1m1 0h8m1 0h2m5 0h1m4 0h1m1 0h1m1 0h2m12 0h3m1 0h17m18 0h2m42 0h1m6 0h1m1 0h1m10 0h1m2 0h3m1 0h2m1 0h7m1 0h15m1 0h1m1 0h42m1 0h7m7 0h1m2 0h25m2 0h2m9 0h11m1 0h1m1 0h2m1 0h2m1 0h1m1 0h1M113 246.5h1m11 0h2m4 0h2m33 0h2m1 0h1m3 0h1m2 0h3m6 0h1m1 0h1m6 0h1m10 0h5m1 0h1m14 0h4m1 0h8m7 0h3m10 0h1m3 0h1m3 0h3m2 0h5m2 0h9m6 0h2m3 0h2m1 0h3m1 0h1m3 0h8m27 0h1m14 0h2m9 0h19m1 0h1m1 0h3m1 0h2m1 0h1m1 0h9m2 0h4m1 0h1m2 0h1m6 0h1m13 0h20m13 0h1m2 0h2m1 0h1m68 0h1m2 0h2m1 0h6m2 0h57m1 0h1m3 0h5m6 0h2m2 0h1m1 0h20m7 0h2m6 0h1m2 0h1m1 0h4m2 0h3m1 0h1m1 0h2m2 0h1m1 0h2M123 247.5h2m6 0h2m33 0h1m1 0h1m4 0h2m10 0h3m15 0h8m1 0h1m13 0h13m16 0h1m7 0h1m3 0h3m2 0h5m1 0h9m9 0h1m2 0h6m1 0h1m3 0h7m3 0h1m29 0h1m2 0h1m12 0h2m3 0h19m1 0h1m1 0h1m2 0h5m2 0h7m5 0h2m1 0h3m1 0h1m2 0h1m1 0h3m4 0h1m5 0h1m1 0h1m2 0h1m1 0h1m1 0h14m11 0h1m1 0h1m48 0h1m25 0h1m4 0h6m2 0h19m1 0h38m2 0h6m3 0h1m4 0h25m7 0h1m3 0h1m3 0h1m5 0h5m1 0h2m1 0h2m5 0h3M123 248.5h3m1 0h1m3 0h3m37 0h5m8 0h3m2 0h2m12 0h7m2 0h2m12 0h1m2 0h11m15 0h3m1 0h1m9 0h1m2 0h5m2 0h5m12 0h1m3 0h1m7 0h10m48 0h2m3 0h1m1 0h9m2 0h2m2 0h2m1 0h1m1 0h1m1 0h1m1 0h1m1 0h12m6 0h1m4 0h1m17 0h3m4 0h2m1 0h14m2 0h1m4 0h4m2 0h2m82 0h1m7 0h6m1 0h52m1 0h2m6 0h2m1 0h3m1 0h18m13 0h1m1 0h1m11 0h2m1 0h1m1 0h1m6 0h2M111 249.5h2m8 0h6m6 0h2m37 0h3m15 0h2m10 0h9m1 0h2m4 0h1m6 0h2m1 0h4m2 0h10m1 0h1m8 0h5m1 0h1m4 0h1m1 0h1m4 0h12m14 0h1m2 0h1m5 0h11m5 0h1m29 0h2m1 0h1m10 0h1m4 0h10m3 0h1m3 0h1m1 0h5m1 0h2m4 0h5m2 0h1m1 0h1m4 0h1m2 0h1m1 0h1m1 0h1m1 0h1m6 0h1m2 0h1m4 0h1m2 0h2m1 0h1m2 0h4m2 0h3m1 0h1m5 0h1m7 0h3m82 0h2m3 0h1m1 0h21m1 0h41m1 0h1m2 0h1m3 0h1m2 0h2m1 0h20m8 0h1m2 0h1m4 0h1m7 0h3m11 0h3M110 250.5h3m8 0h1m3 0h3m1 0h3m32 0h2m4 0h1m18 0h2m11 0h9m2 0h1m3 0h4m3 0h3m1 0h3m1 0h3m1 0h1m1 0h11m6 0h6m11 0h12m8 0h1m14 0h11m15 0h1m19 0h1m4 0h1m8 0h1m1 0h1m1 0h17m1 0h5m1 0h1m2 0h1m1 0h2m1 0h3m1 0h2m1 0h2m1 0h1m20 0h1m2 0h1m2 0h1m1 0h2m3 0h1m2 0h3m1 0h1m1 0h2m6 0h1m2 0h1m4 0h1m1 0h1m84 0h2m1 0h3m1 0h64m8 0h4m2 0h21m10 0h1m1 0h1m23 0h1M109 251.5h6m13 0h2m35 0h2m1 0h1m17 0h1m19 0h8m8 0h8m7 0h3m4 0h3m3 0h1m3 0h8m10 0h10m2 0h3m5 0h4m3 0h3m3 0h13m16 0h1m17 0h1m21 0h17m2 0h3m1 0h1m4 0h7m1 0h1m25 0h6m3 0h1m1 0h5m2 0h1m2 0h1m1 0h6m5 0h1m1 0h1m1 0h1m1 0h1m79 0h1m4 0h69m3 0h1m6 0h2m1 0h22M110 252.5h5m9 0h1m5 0h1m3 0h1m51 0h1m3 0h1m20 0h3m9 0h7m3 0h2m9 0h1m9 0h3m1 0h4m2 0h1m6 0h12m1 0h3m3 0h13m1 0h5m1 0h4m59 0h17m12 0h6m3 0h1m22 0h1m1 0h5m6 0h5m4 0h1m1 0h1m1 0h7m1 0h1m1 0h5m82 0h1m1 0h6m1 0h61m1 0h1m4 0h1m7 0h24M128 253.5h1m4 0h3m24 0h1m28 0h3m18 0h5m9 0h6m3 0h1m16 0h1m3 0h7m3 0h2m5 0h13m2 0h3m2 0h16m2 0h5m62 0h12m8 0h1m5 0h8m10 0h2m12 0h9m2 0h1m2 0h1m1 0h2m6 0h1m1 0h5m1 0h1m1 0h5m82 0h71m2 0h1m1 0h1m1 0h2m2 0h1m2 0h1m2 0h27m22 0h1m10 0h1M126 254.5h3m7 0h1m22 0h1m11 0h2m1 0h5m10 0h3m17 0h7m4 0h1m3 0h3m3 0h1m10 0h1m12 0h4m1 0h2m7 0h4m2 0h10m2 0h21m2 0h3m63 0h12m5 0h1m1 0h3m1 0h12m25 0h8m3 0h1m1 0h1m1 0h3m1 0h1m4 0h6m1 0h2m2 0h3m1 0h1m61 0h1m18 0h72m1 0h2m2 0h3m5 0h26m1 0h2M107 255.5h3m6 0h1m9 0h4m6 0h1m33 0h1m1 0h4m13 0h3m9 0h1m5 0h10m7 0h3m2 0h3m9 0h1m1 0h1m1 0h3m1 0h1m2 0h1m1 0h6m8 0h8m1 0h7m3 0h1m1 0h13m1 0h7m1 0h1m6 0h1m56 0h5m1 0h2m1 0h2m1 0h1m6 0h3m1 0h1m1 0h1m1 0h7m13 0h1m5 0h3m2 0h10m3 0h6m1 0h2m1 0h10m2 0h6m55 0h1m25 0h14m1 0h58m1 0h1m1 0h1m2 0h3m3 0h20m1 0h2m1 0h4M111 256.5h2m27 0h3m10 0h1m1 0h1m6 0h5m4 0h4m10 0h1m3 0h3m7 0h4m4 0h5m1 0h4m6 0h4m2 0h2m1 0h1m1 0h1m1 0h1m6 0h8m4 0h4m1 0h1m1 0h2m4 0h7m1 0h10m2 0h13m3 0h5m4 0h3m59 0h4m3 0h3m1 0h1m8 0h1m1 0h8m2 0h3m18 0h1m1 0h14m2 0h4m1 0h1m1 0h1m4 0h4m8 0h1m1 0h1m82 0h61m1 0h9m1 0h2m4 0h1m1 0h2m4 0h8m1 0h6m3 0h1m1 0h1m2 0h4m1 0h1m10 0h1M111 257.5h5m20 0h1m1 0h1m1 0h4m10 0h6m1 0h5m3 0h1m2 0h6m7 0h1m3 0h2m7 0h1m3 0h2m4 0h1m4 0h5m6 0h2m2 0h4m2 0h1m7 0h6m1 0h1m3 0h7m2 0h2m4 0h6m3 0h12m3 0h6m1 0h3m2 0h3m1 0h2m3 0h1m16 0h1m24 0h1m21 0h1m8 0h3m6 0h11m1 0h1m20 0h2m4 0h10m3 0h1m1 0h1m1 0h1m4 0h1m1 0h6m7 0h2m1 0h1m82 0h11m1 0h35m1 0h10m3 0h9m6 0h1m7 0h2m2 0h1m2 0h1m1 0h6m2 0h2m1 0h1m1 0h5M111 258.5h4m15 0h1m9 0h4m10 0h1m4 0h2m1 0h8m1 0h9m10 0h1m11 0h2m9 0h6m5 0h1m4 0h5m9 0h10m1 0h5m4 0h1m4 0h3m1 0h1m4 0h12m3 0h4m3 0h4m1 0h2m3 0h1m2 0h4m2 0h1m21 0h1m36 0h1m9 0h2m5 0h8m25 0h5m2 0h12m2 0h3m1 0h3m1 0h1m1 0h4m12 0h1m78 0h1m4 0h10m1 0h10m1 0h17m1 0h31m12 0h4m1 0h1m1 0h2m1 0h2m6 0h3m3 0h1M113 259.5h3m14 0h1m4 0h2m24 0h10m2 0h7m4 0h1m5 0h1m27 0h1m2 0h3m5 0h4m2 0h1m6 0h4m3 0h11m1 0h1m1 0h1m1 0h1m1 0h2m1 0h2m5 0h1m1 0h4m3 0h1m5 0h20m1 0h1m1 0h1m6 0h1m62 0h1m1 0h2m6 0h1m1 0h5m26 0h1m1 0h1m2 0h10m1 0h2m5 0h2m1 0h4m1 0h1m50 0h1m39 0h2m5 0h2m1 0h3m1 0h12m1 0h27m1 0h6m1 0h1m3 0h11m1 0h2m6 0h3m16 0h1m3 0h1m1 0h1m3 0h1m1 0h1m26 0h1M129 260.5h1m4 0h1m1 0h1m24 0h2m2 0h7m4 0h1m7 0h1m1 0h1m3 0h1m14 0h1m10 0h3m1 0h3m6 0h2m11 0h5m1 0h9m2 0h1m2 0h6m2 0h4m3 0h8m1 0h2m5 0h16m2 0h1m1 0h1m3 0h1m5 0h1m5 0h1m1 0h1m63 0h1m1 0h1m3 0h2m2 0h1m20 0h6m1 0h6m1 0h2m1 0h2m2 0h1m1 0h7m2 0h1m51 0h1m37 0h2m3 0h1m3 0h48m1 0h5m6 0h5m1 0h5m1 0h1m6 0h2m21 0h1m1 0h3M139 261.5h2m25 0h2m1 0h2m3 0h4m6 0h1m1 0h1m2 0h2m14 0h1m5 0h1m7 0h6m3 0h4m10 0h4m2 0h8m4 0h1m4 0h3m3 0h5m4 0h3m1 0h4m3 0h1m1 0h19m4 0h2m2 0h1m2 0h1m72 0h1m3 0h1m3 0h1m1 0h1m1 0h1m15 0h6m1 0h18m2 0h1m2 0h2m2 0h1m92 0h1m9 0h18m1 0h14m1 0h11m1 0h2m1 0h1m3 0h1m2 0h1m1 0h12m1 0h2m4 0h1m1 0h1m3 0h1m14 0h1m1 0h4m3 0h1M140 262.5h1m9 0h2m9 0h1m4 0h1m3 0h1m3 0h3m8 0h2m3 0h1m20 0h1m7 0h5m4 0h5m10 0h4m2 0h9m1 0h8m3 0h5m5 0h1m1 0h1m2 0h1m1 0h1m5 0h18m5 0h2m24 0h1m3 0h1m51 0h1m3 0h1m5 0h1m9 0h1m4 0h5m1 0h20m2 0h1m1 0h2m13 0h1m78 0h1m10 0h1m1 0h44m1 0h1m1 0h3m4 0h17m1 0h2m2 0h1m5 0h2m12 0h1m2 0h1m2 0h7m2 0h1m3 0h1m5 0h1M140 263.5h2m9 0h1m14 0h1m7 0h3m5 0h1m4 0h3m1 0h1m14 0h2m3 0h1m7 0h3m3 0h1m1 0h4m1 0h2m2 0h3m6 0h1m3 0h7m2 0h1m3 0h4m4 0h3m12 0h1m5 0h1m2 0h4m1 0h11m2 0h1m2 0h3m3 0h1m74 0h1m1 0h1m3 0h1m1 0h1m1 0h3m13 0h1m1 0h3m3 0h10m1 0h7m3 0h2m1 0h1m61 0h3m14 0h1m6 0h1m8 0h2m10 0h33m1 0h4m1 0h3m4 0h5m1 0h2m1 0h20m2 0h1m3 0h2m19 0h1m3 0h5m1 0h1m7 0h2M137 264.5h1m2 0h1m10 0h3m5 0h1m6 0h2m20 0h1m16 0h3m2 0h2m5 0h5m5 0h4m1 0h3m1 0h3m6 0h5m1 0h3m1 0h4m4 0h4m3 0h2m9 0h2m7 0h2m2 0h2m1 0h1m1 0h11m28 0h2m1 0h1m54 0h3m1 0h2m8 0h2m4 0h1m6 0h5m1 0h7m1 0h1m5 0h1m1 0h1m1 0h3m3 0h1m1 0h2m90 0h1m14 0h29m2 0h2m1 0h2m1 0h3m1 0h2m2 0h4m4 0h18m1 0h3m26 0h9m1 0h1m6 0h1m20 0h1M128 265.5h1m8 0h1m1 0h3m11 0h1m3 0h1m33 0h2m17 0h1m1 0h2m3 0h8m3 0h3m2 0h6m6 0h1m2 0h3m12 0h4m1 0h1m11 0h2m8 0h1m4 0h3m1 0h11m4 0h1m27 0h1m2 0h1m50 0h6m1 0h2m2 0h2m2 0h2m1 0h3m5 0h6m4 0h6m2 0h1m1 0h2m1 0h1m3 0h1m1 0h3m107 0h1m1 0h27m3 0h6m1 0h2m2 0h1m2 0h5m1 0h1m2 0h19m1 0h1m3 0h2m2 0h2m10 0h1m6 0h1m1 0h6m2 0h1m6 0h2m1 0h1m19 0h1M139 266.5h3m10 0h3m2 0h3m11 0h1m12 0h3m3 0h3m2 0h1m7 0h1m6 0h3m4 0h3m2 0h3m5 0h1m2 0h6m12 0h5m6 0h1m1 0h3m13 0h2m1 0h1m5 0h2m2 0h17m31 0h1m56 0h6m6 0h8m1 0h2m1 0h6m3 0h8m3 0h2m4 0h1m1 0h3m2 0h1m106 0h19m1 0h1m1 0h4m4 0h4m2 0h5m2 0h1m1 0h4m6 0h11m2 0h1m3 0h1m3 0h1m1 0h2m1 0h1m6 0h1m14 0h7m1 0h1m6 0h3M116 267.5h3m12 0h1m7 0h2m15 0h3m12 0h1m11 0h4m14 0h4m2 0h2m1 0h3m11 0h1m2 0h3m3 0h3m10 0h1m3 0h1m1 0h5m3 0h3m1 0h3m3 0h1m1 0h3m5 0h5m5 0h1m8 0h11m14 0h1m74 0h7m1 0h1m1 0h8m9 0h5m2 0h4m1 0h3m8 0h1m1 0h3m2 0h1m1 0h1m1 0h2m60 0h1m26 0h2m10 0h1m1 0h1m1 0h9m2 0h2m7 0h2m7 0h1m12 0h2m1 0h1m3 0h3m1 0h1m1 0h9m1 0h1m1 0h1m15 0h3m6 0h1m7 0h9m8 0h2M111 268.5h1m5 0h4m9 0h1m9 0h1m10 0h2m18 0h1m11 0h6m10 0h5m2 0h6m4 0h1m2 0h2m6 0h8m2 0h2m2 0h2m1 0h2m4 0h12m2 0h3m5 0h2m6 0h5m6 0h4m4 0h11m2 0h1m87 0h15m1 0h7m1 0h8m1 0h1m1 0h1m1 0h1m1 0h1m2 0h1m3 0h1m2 0h3m3 0h1m3 0h1m1 0h1m77 0h1m12 0h1m9 0h2m1 0h1m1 0h7m1 0h5m30 0h1m2 0h2m1 0h5m1 0h1m7 0h2m9 0h1m5 0h1m17 0h2m1 0h8m7 0h1m1 0h2M116 269.5h5m9 0h3m3 0h6m20 0h1m19 0h7m10 0h3m1 0h3m2 0h3m4 0h2m2 0h3m6 0h5m4 0h2m3 0h2m1 0h1m6 0h14m4 0h3m3 0h3m1 0h2m1 0h1m7 0h6m1 0h12m2 0h2m85 0h11m1 0h3m3 0h14m2 0h1m1 0h9m5 0h1m3 0h2m1 0h2m73 0h2m6 0h1m22 0h2m3 0h11m1 0h2m24 0h1m2 0h4m3 0h1m4 0h3m33 0h1m8 0h2m1 0h3m1 0h1m12 0h1M117 270.5h4m13 0h1m3 0h5m6 0h3m9 0h2m4 0h1m14 0h4m13 0h1m9 0h1m4 0h1m1 0h6m1 0h2m4 0h3m6 0h2m1 0h3m8 0h14m4 0h1m3 0h7m1 0h4m4 0h3m1 0h1m1 0h13m2 0h2m1 0h1m4 0h1m80 0h14m2 0h3m5 0h1m2 0h7m1 0h8m1 0h2m2 0h1m6 0h2m1 0h1m72 0h1m19 0h1m2 0h1m5 0h1m1 0h2m1 0h11m10 0h1m7 0h7m4 0h1m6 0h1m8 0h1m45 0h6m2 0h1m8 0h1M114 271.5h1m3 0h1m2 0h1m16 0h6m5 0h3m12 0h3m16 0h4m1 0h1m21 0h1m5 0h8m1 0h1m2 0h1m1 0h1m3 0h1m1 0h1m4 0h3m1 0h3m4 0h3m2 0h5m1 0h1m5 0h3m1 0h6m4 0h1m7 0h1m1 0h3m1 0h1m1 0h6m1 0h1m5 0h4m83 0h1m1 0h12m3 0h1m1 0h1m1 0h1m6 0h6m2 0h2m1 0h5m1 0h2m9 0h2m103 0h1m1 0h2m1 0h12m2 0h1m10 0h3m1 0h1m3 0h5m63 0h1m1 0h4m14 0h1m1 0h1M127 272.5h1m10 0h1m3 0h1m5 0h6m9 0h1m20 0h4m22 0h1m1 0h2m2 0h4m3 0h5m7 0h1m3 0h3m4 0h1m5 0h8m4 0h2m2 0h3m1 0h6m5 0h2m10 0h9m6 0h1m1 0h5m81 0h1m1 0h11m5 0h3m8 0h1m1 0h3m1 0h7m1 0h3m4 0h1m4 0h5m81 0h1m26 0h10m1 0h1m1 0h1m1 0h1m5 0h2m1 0h2m7 0h2m38 0h1m33 0h1m13 0h1m2 0h1M114 273.5h1m11 0h2m10 0h2m1 0h1m5 0h7m9 0h1m1 0h1m11 0h3m1 0h1m2 0h4m22 0h1m4 0h6m3 0h2m9 0h7m10 0h3m1 0h4m4 0h4m4 0h2m1 0h3m19 0h4m1 0h3m1 0h1m3 0h1m3 0h4m3 0h5m70 0h1m5 0h8m6 0h3m12 0h8m2 0h4m2 0h3m3 0h5m107 0h11m1 0h1m2 0h2m55 0h4m2 0h3m1 0h1m21 0h3m16 0h1m13 0h2m1 0h1M105 274.5h1m21 0h1m9 0h3m9 0h6m10 0h1m10 0h2m3 0h1m4 0h1m27 0h1m2 0h4m3 0h1m12 0h5m9 0h9m5 0h2m6 0h1m9 0h1m9 0h1m3 0h7m1 0h1m9 0h8m13 0h1m67 0h6m5 0h5m9 0h2m1 0h1m1 0h2m2 0h1m2 0h4m2 0h6m1 0h4m106 0h2m1 0h11m1 0h1m1 0h1m5 0h2m1 0h1m52 0h5m23 0h1m12 0h2m3 0h2m14 0h1M137 275.5h3m3 0h2m3 0h5m1 0h1m10 0h2m8 0h3m8 0h1m30 0h3m4 0h1m12 0h6m8 0h1m1 0h2m1 0h5m5 0h1m9 0h1m22 0h2m1 0h3m11 0h3m1 0h1m18 0h1m58 0h1m6 0h4m1 0h1m7 0h2m11 0h1m2 0h4m2 0h6m1 0h6m1 0h2m2 0h1m104 0h1m5 0h9m66 0h4m36 0h2m4 0h1m1 0h1M140 276.5h1m8 0h2m1 0h3m7 0h1m2 0h2m1 0h1m1 0h1m4 0h3m8 0h1m1 0h1m4 0h2m23 0h4m1 0h1m1 0h5m7 0h8m1 0h2m7 0h7m9 0h1m6 0h1m6 0h1m11 0h1m1 0h1m2 0h4m2 0h3m91 0h1m2 0h5m6 0h3m16 0h2m1 0h1m2 0h5m2 0h6m2 0h1m1 0h2m101 0h3m4 0h9m10 0h2m1 0h1m38 0h1m13 0h1m1 0h2m18 0h1m5 0h1m12 0h1m13 0h1m6 0h1M101 277.5h1m41 0h4m2 0h1m3 0h1m8 0h1m2 0h1m4 0h1m14 0h7m1 0h1m17 0h1m6 0h4m1 0h9m2 0h1m1 0h7m13 0h7m2 0h3m1 0h2m30 0h6m3 0h2m93 0h6m8 0h1m7 0h2m5 0h1m6 0h1m1 0h6m2 0h3m1 0h2m105 0h2m5 0h8m65 0h1m41 0h1M100 278.5h3m20 0h1m5 0h1m5 0h1m4 0h2m2 0h2m2 0h3m6 0h2m3 0h1m2 0h1m3 0h2m2 0h2m3 0h2m6 0h8m15 0h1m1 0h1m5 0h15m1 0h3m1 0h8m12 0h3m5 0h1m3 0h1m33 0h4m13 0h1m85 0h4m8 0h2m6 0h1m8 0h2m5 0h4m1 0h7m1 0h1m114 0h7m11 0h1m2 0h1m8 0h1m1 0h1m1 0h1m38 0h1M99 279.5h4m20 0h4m8 0h1m8 0h3m2 0h2m1 0h1m9 0h1m4 0h4m1 0h3m5 0h2m4 0h5m6 0h1m4 0h3m4 0h3m5 0h1m1 0h27m5 0h1m4 0h3m6 0h2m3 0h1m4 0h2m26 0h4m11 0h1m1 0h1m80 0h1m4 0h1m1 0h1m1 0h1m23 0h3m1 0h1m2 0h2m1 0h10m5 0h1m110 0h5m13 0h4m9 0h2m40 0h2m21 0h1m1 0h2M98 280.5h6m19 0h1m1 0h2m14 0h1m10 0h1m9 0h1m4 0h3m11 0h1m4 0h5m1 0h2m2 0h1m20 0h5m1 0h7m2 0h7m1 0h5m1 0h1m3 0h4m2 0h4m2 0h1m1 0h5m6 0h4m9 0h1m16 0h1m12 0h3m91 0h1m13 0h1m2 0h1m8 0h16m4 0h1m105 0h1m3 0h6m15 0h3m1 0h4m5 0h3m1 0h1m36 0h1M92 281.5h2m1 0h1m1 0h6m53 0h1m4 0h1m3 0h5m11 0h3m1 0h1m10 0h1m17 0h11m1 0h1m1 0h1m1 0h7m2 0h8m2 0h4m2 0h5m2 0h1m2 0h2m5 0h2m1 0h4m9 0h1m24 0h1m92 0h2m30 0h1m1 0h8m1 0h2m2 0h1m115 0h4m2 0h1m13 0h1m5 0h1m3 0h2m2 0h1m37 0h1m1 0h3m41 0h1m7 0h1m6 0h2M91 282.5h3m1 0h1m2 0h1m4 0h1m51 0h5m3 0h1m1 0h5m6 0h1m6 0h1m7 0h1m6 0h1m12 0h11m6 0h1m1 0h6m4 0h14m1 0h1m1 0h6m13 0h4m30 0h1m2 0h1m12 0h1m78 0h1m1 0h1m28 0h11m2 0h3m116 0h1m1 0h6m8 0h1m3 0h1m1 0h3m9 0h1m4 0h1m22 0h1m10 0h1m24 0h1m15 0h1m3 0h1m8 0h1M91 283.5h3m5 0h1m44 0h1m10 0h5m2 0h4m7 0h6m3 0h2m14 0h2m10 0h12m8 0h5m5 0h7m3 0h6m1 0h6m12 0h5m16 0h1m13 0h1m95 0h1m18 0h1m12 0h5m1 0h1m1 0h1m2 0h2m115 0h10m1 0h1m8 0h2m2 0h2m6 0h2m2 0h1m23 0h2m41 0h1m23 0h1M91 284.5h1m6 0h2m45 0h1m3 0h1m5 0h3m5 0h2m6 0h9m29 0h6m1 0h6m9 0h4m4 0h4m1 0h2m1 0h18m3 0h2m8 0h1m17 0h1m13 0h1m16 0h1m22 0h1m54 0h2m5 0h1m23 0h1m1 0h3m2 0h1m1 0h6m116 0h2m1 0h1m1 0h1m1 0h3m2 0h1m4 0h1m39 0h1m3 0h1m9 0h1m47 0h2m5 0h1m1 0h1m9 0h1M85 285.5h1m4 0h3m5 0h1m1 0h1m42 0h1m1 0h2m1 0h2m5 0h2m3 0h1m2 0h2m6 0h4m1 0h3m1 0h2m2 0h2m5 0h1m16 0h7m2 0h3m3 0h1m7 0h5m3 0h4m3 0h1m1 0h1m1 0h15m3 0h3m3 0h4m3 0h1m14 0h1m12 0h1m8 0h3m6 0h2m15 0h2m2 0h1m62 0h2m23 0h1m1 0h2m6 0h4m107 0h1m1 0h1m8 0h1m3 0h1m1 0h2m4 0h3m2 0h1m3 0h1m1 0h2m6 0h1m27 0h3m57 0h1m1 0h2m2 0h1M84 286.5h12m4 0h1m40 0h1m6 0h2m3 0h1m1 0h2m1 0h1m1 0h1m4 0h1m6 0h1m1 0h1m2 0h1m1 0h2m9 0h4m14 0h3m7 0h2m11 0h12m6 0h4m2 0h10m3 0h5m2 0h3m40 0h3m24 0h1m79 0h1m12 0h3m4 0h5m106 0h1m8 0h9m1 0h2m1 0h6m2 0h2m1 0h1m1 0h3m30 0h6m1 0h1m10 0h2m1 0h1m22 0h1m18 0h1m2 0h1M85 287.5h3m2 0h6m4 0h2m38 0h2m18 0h1m11 0h1m5 0h4m8 0h5m13 0h4m6 0h3m9 0h3m1 0h1m1 0h1m1 0h6m1 0h1m3 0h4m3 0h5m1 0h3m3 0h10m1 0h1m3 0h3m1 0h1m12 0h1m10 0h1m128 0h1m5 0h1m1 0h2m107 0h3m5 0h9m1 0h2m1 0h8m24 0h1m5 0h1m7 0h1m10 0h1m6 0h2m25 0h2m15 0h1M85 288.5h3m4 0h4m5 0h1m57 0h1m1 0h1m1 0h1m1 0h3m6 0h5m11 0h4m16 0h3m6 0h1m10 0h2m2 0h1m1 0h5m2 0h3m3 0h2m4 0h6m1 0h16m1 0h1m6 0h1m6 0h1m56 0h3m17 0h1m77 0h1m108 0h2m9 0h2m1 0h15m24 0h2m3 0h2m6 0h1m10 0h3m6 0h1m38 0h1m2 0h2M86 289.5h3m4 0h2m4 0h1m3 0h1m27 0h2m28 0h2m2 0h1m8 0h4m1 0h2m8 0h4m6 0h1m19 0h1m12 0h3m1 0h1m1 0h4m2 0h2m2 0h3m2 0h24m6 0h3m14 0h1m1 0h1m10 0h1m35 0h1m1 0h1m90 0h1m2 0h1m111 0h1m1 0h1m6 0h1m1 0h5m1 0h11m1 0h3m26 0h2m17 0h2m51 0h1M85 290.5h6m1 0h3m9 0h1m47 0h1m6 0h1m1 0h1m3 0h2m8 0h4m6 0h1m5 0h2m5 0h2m32 0h5m1 0h3m3 0h2m3 0h1m4 0h3m2 0h13m2 0h1m1 0h1m1 0h1m4 0h1m2 0h2m14 0h1m6 0h1m24 0h1m94 0h1m11 0h2m10 0h1m113 0h4m1 0h1m1 0h1m2 0h8m1 0h1m29 0h1m65 0h1m7 0h1M84 291.5h7m1 0h1m1 0h1m52 0h1m12 0h1m4 0h1m19 0h2m11 0h1m15 0h1m1 0h1m1 0h2m11 0h1m1 0h6m1 0h1m2 0h4m5 0h5m2 0h13m7 0h1m7 0h1m21 0h1m21 0h1m17 0h1m14 0h3m75 0h1m15 0h1m108 0h1m1 0h1m5 0h1m1 0h8m114 0h1M85 292.5h6m1 0h1m1 0h1m1 0h2m48 0h1m9 0h1m3 0h1m4 0h2m18 0h1m5 0h2m21 0h1m1 0h1m8 0h3m6 0h6m3 0h3m5 0h4m5 0h4m1 0h3m1 0h2m8 0h1m13 0h1m38 0h1m7 0h1m11 0h2m3 0h1m6 0h2m194 0h3m2 0h3m1 0h1m2 0h14m1 0h1m43 0h3m6 0h1m14 0h3m11 0h1M85 293.5h6m6 0h2m48 0h5m8 0h1m4 0h1m19 0h2m29 0h1m4 0h1m1 0h1m3 0h4m4 0h3m1 0h1m3 0h1m5 0h5m2 0h1m7 0h4m1 0h2m21 0h1m16 0h1m30 0h1m8 0h1m2 0h1m2 0h2m59 0h1m25 0h2m111 0h1m6 0h4m1 0h1m5 0h1m3 0h8m5 0h1m28 0h1m12 0h1m2 0h1m19 0h3M87 294.5h4m13 0h1m44 0h3m34 0h1m29 0h3m3 0h8m5 0h1m7 0h1m5 0h3m1 0h1m11 0h3m1 0h1m14 0h1m7 0h1m5 0h1m7 0h1m37 0h1m3 0h1m3 0h3m19 0h4m48 0h1m15 0h1m13 0h1m104 0h5m5 0h1m3 0h11m23 0h1m9 0h2m2 0h1m7 0h1m18 0h1m5 0h1m16 0h1m6 0h1m2 0h1M92 295.5h1m7 0h1m2 0h2m36 0h3m17 0h1m53 0h7m6 0h5m3 0h2m1 0h1m1 0h3m5 0h5m9 0h4m26 0h3m9 0h3m1 0h2m10 0h3m23 0h2m5 0h1m3 0h2m14 0h2m48 0h1m1 0h1m12 0h1m1 0h2m22 0h1m94 0h1m1 0h6m4 0h1m1 0h5m1 0h3m1 0h3m34 0h3m33 0h1m22 0h1M82 296.5h1m5 0h3m12 0h2m13 0h1m22 0h1m1 0h1m54 0h1m15 0h7m3 0h6m1 0h3m2 0h2m3 0h4m4 0h5m7 0h6m15 0h1m10 0h6m6 0h3m3 0h1m11 0h1m23 0h1m4 0h9m1 0h1m11 0h2m1 0h2m47 0h1m12 0h3m23 0h1m91 0h3m1 0h1m2 0h2m1 0h12m1 0h1m1 0h6m17 0h1m14 0h3m61 0h1M81 297.5h1m5 0h2m1 0h2m12 0h1m13 0h2m25 0h2m51 0h1m15 0h4m1 0h2m3 0h2m1 0h4m1 0h3m2 0h7m3 0h1m14 0h4m17 0h2m10 0h1m1 0h1m9 0h1m1 0h1m13 0h1m17 0h2m10 0h5m2 0h5m7 0h5m1 0h1m50 0h1m10 0h1m120 0h1m2 0h2m1 0h5m1 0h2m1 0h3m3 0h7m33 0h1M91 298.5h1m6 0h1m4 0h1m35 0h1m7 0h1m12 0h1m21 0h1m11 0h1m1 0h1m1 0h1m9 0h1m1 0h1m4 0h3m1 0h1m3 0h8m1 0h12m3 0h2m11 0h3m1 0h4m15 0h1m10 0h8m5 0h3m12 0h1m30 0h3m4 0h5m9 0h1m1 0h4m2 0h1m56 0h3m119 0h1m3 0h1m1 0h12m1 0h7m1 0h1m19 0h1m13 0h1m6 0h1m7 0h1m45 0h2M92 299.5h3m1 0h6m3 0h1m33 0h1m6 0h2m12 0h2m20 0h1m11 0h1m1 0h1m1 0h3m5 0h1m1 0h3m3 0h4m3 0h6m2 0h16m2 0h3m10 0h1m5 0h1m16 0h1m11 0h7m6 0h3m8 0h1m1 0h2m30 0h2m2 0h9m3 0h2m2 0h2m1 0h1m1 0h3m1 0h5m41 0h2m7 0h2m1 0h1m115 0h1m8 0h5m1 0h8m1 0h2m1 0h3m26 0h1m1 0h2m6 0h1m1 0h1m2 0h1M91 300.5h4m1 0h1m1 0h1m1 0h1m5 0h1m53 0h2m29 0h2m1 0h2m2 0h3m3 0h1m3 0h19m2 0h23m2 0h1m5 0h2m31 0h9m6 0h3m45 0h2m1 0h5m1 0h1m3 0h2m1 0h13m1 0h1m179 0h5m1 0h13m1 0h1m18 0h1m22 0h2m7 0h1m1 0h1M89 301.5h1m9 0h3m4 0h1m21 0h2m60 0h4m5 0h2m3 0h1m3 0h8m1 0h1m1 0h5m7 0h1m1 0h2m3 0h8m1 0h1m1 0h1m1 0h3m5 0h6m5 0h2m7 0h3m1 0h1m9 0h9m6 0h3m8 0h1m35 0h3m8 0h1m2 0h1m1 0h16m178 0h9m1 0h5m1 0h5m16 0h4m5 0h1m26 0h1M83 302.5h1m4 0h1m6 0h1m3 0h2m27 0h1m1 0h1m1 0h1m54 0h1m2 0h4m3 0h4m7 0h7m2 0h1m1 0h5m1 0h1m3 0h3m7 0h7m3 0h1m1 0h5m5 0h3m6 0h1m1 0h1m1 0h1m5 0h4m9 0h1m5 0h3m7 0h3m45 0h1m8 0h1m2 0h2m2 0h3m1 0h8m1 0h1m58 0h2m121 0h17m20 0h1m23 0h2m5 0h1M81 303.5h5m9 0h1m1 0h1m1 0h4m19 0h1m60 0h1m2 0h4m2 0h1m16 0h2m4 0h3m1 0h5m5 0h3m7 0h7m7 0h2m18 0h2m4 0h6m4 0h3m1 0h1m4 0h6m8 0h1m48 0h1m2 0h1m1 0h1m1 0h2m2 0h12m60 0h2m123 0h5m1 0h2m3 0h4m36 0h1m9 0h1m3 0h3M83 304.5h1m9 0h4m3 0h1m85 0h3m2 0h2m5 0h2m4 0h1m9 0h4m1 0h5m5 0h3m2 0h3m1 0h2m1 0h5m1 0h1m15 0h1m9 0h3m3 0h6m4 0h5m4 0h4m9 0h2m9 0h3m8 0h2m11 0h1m1 0h2m11 0h1m6 0h1m2 0h11m63 0h1m3 0h1m120 0h4m4 0h1m1 0h1m24 0h1m14 0h2m12 0h1M82 305.5h1m8 0h3m1 0h3m52 0h1m37 0h3m23 0h4m1 0h6m5 0h1m1 0h7m2 0h7m10 0h1m14 0h3m1 0h1m3 0h4m7 0h1m4 0h1m22 0h4m8 0h2m13 0h1m1 0h1m4 0h1m7 0h1m1 0h19m1 0h1m5 0h1m177 0h7m2 0h2m42 0h1M89 306.5h9m52 0h2m34 0h1m1 0h3m3 0h1m3 0h1m13 0h1m1 0h8m9 0h2m1 0h13m15 0h2m6 0h1m1 0h6m1 0h1m3 0h2m14 0h1m1 0h2m16 0h6m6 0h3m21 0h1m6 0h5m1 0h1m2 0h9m1 0h3m61 0h1m132 0h1M85 307.5h1m1 0h13m4 0h3m44 0h1m35 0h4m7 0h2m12 0h1m2 0h3m1 0h2m5 0h1m1 0h1m3 0h1m2 0h3m3 0h6m16 0h1m1 0h1m1 0h1m4 0h7m3 0h2m15 0h4m18 0h1m1 0h1m7 0h2m21 0h3m7 0h3m1 0h1m3 0h7m3 0h4m186 0h1m34 0h1m35 0h1M92 308.5h7m6 0h2m40 0h1m20 0h1m17 0h2m1 0h3m6 0h2m2 0h5m5 0h6m1 0h1m8 0h3m5 0h1m4 0h4m18 0h3m1 0h1m4 0h6m3 0h1m3 0h1m9 0h1m3 0h2m1 0h1m50 0h1m2 0h1m6 0h8m1 0h5m1 0h1m2 0h4m173 0h1m10 0h1m6 0h3m1 0h1m27 0h1m34 0h1M105 309.5h3m59 0h5m17 0h1m1 0h1m7 0h7m9 0h2m10 0h4m2 0h2m1 0h1m1 0h1m3 0h5m5 0h5m8 0h3m4 0h5m3 0h2m12 0h2m18 0h1m41 0h1m1 0h1m1 0h1m1 0h5m2 0h1m4 0h1m2 0h2m5 0h1m171 0h1m1 0h1m18 0h1m30 0h2M106 310.5h2m54 0h2m1 0h1m1 0h3m13 0h3m3 0h1m1 0h1m3 0h2m5 0h4m3 0h1m1 0h4m1 0h2m9 0h2m2 0h17m4 0h3m16 0h6m3 0h2m71 0h1m1 0h4m1 0h1m1 0h4m3 0h1m1 0h3m1 0h2m1 0h1m3 0h2m9 0h1m6 0h1m156 0h2m1 0h1m15 0h2m29 0h1M105 311.5h2m18 0h2m36 0h3m7 0h1m9 0h3m3 0h2m2 0h2m5 0h1m1 0h4m6 0h1m2 0h4m3 0h2m1 0h4m3 0h17m4 0h3m15 0h6m1 0h4m13 0h1m41 0h2m14 0h3m3 0h2m2 0h5m6 0h11m172 0h4m8 0h1m8 0h1M110 312.5h2m18 0h3m53 0h1m2 0h6m7 0h3m6 0h1m5 0h2m4 0h5m4 0h10m1 0h7m4 0h2m4 0h2m8 0h7m1 0h1m1 0h2m14 0h1m40 0h1m15 0h3m5 0h2m1 0h1m7 0h4m14 0h1m5 0h1m3 0h1m157 0h5M110 313.5h2m18 0h2m34 0h1m23 0h6m7 0h1m15 0h3m3 0h3m3 0h9m4 0h5m2 0h5m1 0h1m1 0h5m6 0h5m3 0h1m3 0h1m3 0h1m1 0h3m4 0h2m40 0h3m12 0h5m3 0h5m8 0h1m3 0h1m9 0h1m3 0h3m4 0h3m8 0h1m52 0h1m178 0h4M190 314.5h5m1 0h1m1 0h1m2 0h1m18 0h2m5 0h1m1 0h1m1 0h7m7 0h4m2 0h5m1 0h9m2 0h5m1 0h4m7 0h2m1 0h3m47 0h3m10 0h6m1 0h1m1 0h7m6 0h1m3 0h2m2 0h2m5 0h1m5 0h3m3 0h2m60 0h1m1 0h2m95 0h3m58 0h1m19 0h3M121 315.5h1m1 0h3m49 0h1m15 0h1m1 0h4m3 0h1m4 0h1m1 0h1m11 0h9m1 0h7m1 0h1m7 0h3m1 0h7m1 0h10m1 0h3m3 0h2m2 0h2m5 0h4m4 0h1m42 0h3m2 0h1m11 0h4m1 0h5m1 0h2m12 0h1m1 0h2m1 0h1m6 0h1m1 0h1m5 0h1m1 0h2m6 0h1m54 0h1m8 0h1m2 0h1m84 0h2m60 0h1m1 0h1m14 0h3m1 0h1M163 316.5h1m11 0h2m15 0h2m3 0h1m2 0h1m4 0h1m1 0h2m10 0h18m4 0h1m5 0h8m3 0h2m1 0h5m2 0h3m2 0h4m1 0h1m4 0h1m1 0h4m13 0h1m1 0h1m30 0h2m13 0h1m2 0h3m1 0h8m7 0h2m2 0h1m1 0h1m11 0h1m1 0h1m1 0h1m1 0h1m6 0h1m4 0h1m8 0h1m12 0h1m1 0h1m30 0h3m1 0h1m3 0h1m133 0h2m13 0h1m1 0h1m7 0h1m8 0h2m3 0h1M137 317.5h1m49 0h1m4 0h4m1 0h1m1 0h1m3 0h3m1 0h3m8 0h9m1 0h10m2 0h1m1 0h3m1 0h10m3 0h4m1 0h1m4 0h1m3 0h3m8 0h4m6 0h3m4 0h2m50 0h12m22 0h1m1 0h7m1 0h1m4 0h2m5 0h1m2 0h1m5 0h1m43 0h1m1 0h4m93 0h1m9 0h1m26 0h1m3 0h2m25 0h3m8 0h1m3 0h1M164 318.5h1m26 0h2m14 0h6m5 0h17m1 0h1m2 0h1m2 0h3m1 0h9m8 0h1m5 0h2m3 0h1m1 0h1m7 0h2m1 0h1m9 0h5m3 0h1m9 0h1m15 0h3m17 0h17m1 0h1m8 0h1m2 0h1m5 0h1m1 0h2m2 0h3m1 0h1m3 0h1m2 0h2m2 0h1m2 0h1m32 0h2m18 0h2m1 0h1m130 0h2m1 0h2m17 0h2m2 0h3m3 0h1M165 319.5h1m42 0h4m5 0h18m3 0h1m3 0h3m1 0h3m2 0h5m5 0h1m7 0h3m27 0h4m50 0h2m2 0h2m1 0h2m6 0h1m5 0h1m6 0h1m1 0h1m1 0h8m5 0h1m2 0h1m2 0h3m1 0h2m1 0h1m2 0h1m25 0h6m122 0h1m31 0h3m16 0h1m5 0h2m12 0h4M208 320.5h5m4 0h18m3 0h1m7 0h3m3 0h3m3 0h1m1 0h1m1 0h2m1 0h6m4 0h1m1 0h1m7 0h1m1 0h1m10 0h3m52 0h2m2 0h1m2 0h1m3 0h1m24 0h7m2 0h1m2 0h5m3 0h1m1 0h1m3 0h1m26 0h1m1 0h1m20 0h1m1 0h1m91 0h1m6 0h2m3 0h1m15 0h1m10 0h1m1 0h1m17 0h1m1 0h1m19 0h2M165 321.5h1m42 0h5m3 0h4m1 0h10m1 0h1m3 0h6m4 0h3m3 0h1m5 0h1m1 0h3m1 0h6m3 0h1m3 0h2m6 0h1m12 0h5m50 0h3m5 0h4m3 0h1m1 0h3m1 0h1m8 0h2m4 0h2m1 0h2m1 0h5m1 0h3m5 0h1m1 0h6m23 0h1m24 0h1m91 0h1m1 0h1m6 0h2m30 0h1m1 0h2m3 0h1m8 0h1m2 0h3m1 0h2m1 0h2m12 0h4M164 322.5h2m18 0h2m8 0h3m4 0h2m5 0h10m3 0h11m2 0h7m6 0h1m4 0h2m2 0h1m1 0h1m1 0h3m4 0h2m4 0h1m3 0h2m6 0h3m11 0h3m20 0h1m28 0h1m2 0h1m6 0h2m1 0h1m3 0h4m1 0h1m1 0h1m6 0h4m3 0h4m3 0h1m1 0h1m1 0h1m1 0h6m1 0h7m26 0h1m2 0h1m110 0h1m1 0h3m5 0h2m1 0h1m42 0h1m1 0h12m12 0h1M140 323.5h1m1 0h1m43 0h1m9 0h1m11 0h10m3 0h3m4 0h3m1 0h10m6 0h1m2 0h6m3 0h1m4 0h5m3 0h2m3 0h3m7 0h1m8 0h5m31 0h1m1 0h1m16 0h1m5 0h1m2 0h1m2 0h1m3 0h1m1 0h5m1 0h2m6 0h2m1 0h5m5 0h3m1 0h1m1 0h1m1 0h3m3 0h6m26 0h1m112 0h2m8 0h3m14 0h1m16 0h1m12 0h3m1 0h2m1 0h6M137 324.5h1m57 0h2m10 0h11m2 0h4m3 0h2m1 0h1m1 0h1m1 0h9m1 0h2m1 0h3m2 0h4m5 0h9m4 0h1m1 0h1m3 0h2m17 0h3m2 0h1m1 0h1m49 0h1m5 0h1m5 0h1m1 0h5m5 0h6m5 0h2m2 0h1m2 0h4m9 0h5m11 0h1m129 0h1m1 0h3m37 0h1m15 0h4m1 0h2m2 0h1M159 325.5h1m7 0h3m18 0h1m1 0h1m18 0h8m3 0h3m4 0h2m1 0h1m3 0h1m1 0h1m1 0h8m1 0h3m1 0h5m2 0h2m3 0h6m9 0h1m1 0h1m1 0h2m15 0h2m1 0h6m27 0h2m1 0h1m25 0h1m6 0h1m1 0h1m1 0h11m1 0h1m3 0h1m1 0h1m7 0h1m9 0h4m61 0h1m72 0h2m6 0h2m2 0h3m19 0h1m11 0h1m3 0h3m12 0h2m4 0h1M163 326.5h3m3 0h1m20 0h2m9 0h3m7 0h8m7 0h5m5 0h13m2 0h2m4 0h4m2 0h6m32 0h3m4 0h3m8 0h1m38 0h1m1 0h1m3 0h1m8 0h1m1 0h1m2 0h11m2 0h3m12 0h1m7 0h1m1 0h1m132 0h2m7 0h6m4 0h3m22 0h1m1 0h1m16 0h1m1 0h1M141 327.5h3m20 0h1m5 0h1m18 0h3m9 0h5m6 0h1m1 0h5m7 0h4m4 0h1m1 0h1m1 0h7m1 0h4m1 0h2m4 0h4m3 0h5m19 0h1m5 0h1m4 0h5m4 0h3m8 0h1m41 0h4m6 0h1m3 0h1m1 0h6m2 0h1m2 0h5m12 0h1m6 0h2m135 0h2m1 0h1m3 0h3m1 0h2m7 0h1m12 0h1m33 0h1m7 0h1M142 328.5h1m22 0h2m2 0h2m20 0h2m3 0h1m3 0h5m3 0h5m1 0h1m2 0h1m6 0h6m3 0h1m4 0h4m5 0h5m1 0h1m3 0h4m2 0h6m19 0h1m5 0h3m1 0h6m4 0h4m1 0h3m2 0h2m41 0h1m1 0h1m1 0h1m8 0h1m2 0h4m4 0h1m2 0h2m1 0h4m12 0h1m1 0h1m140 0h1m7 0h6m1 0h1m4 0h1M142 329.5h1m10 0h1m15 0h2m22 0h4m3 0h4m3 0h3m3 0h2m1 0h1m6 0h3m13 0h4m4 0h2m1 0h1m2 0h16m14 0h1m1 0h1m8 0h2m1 0h5m1 0h1m1 0h1m2 0h9m6 0h1m39 0h1m10 0h6m1 0h1m1 0h1m1 0h3m1 0h7m12 0h2m3 0h1m135 0h3m5 0h4m1 0h3m1 0h1m49 0h1M152 330.5h2m37 0h1m1 0h11m1 0h5m1 0h1m11 0h2m8 0h2m1 0h1m2 0h4m4 0h1m3 0h13m1 0h4m7 0h1m7 0h3m7 0h4m1 0h3m1 0h3m3 0h8m33 0h2m6 0h2m1 0h1m10 0h8m2 0h1m1 0h11m1 0h1m7 0h2m1 0h4m4 0h1m135 0h1m2 0h1m2 0h2m1 0h1m3 0h2M152 331.5h2m36 0h6m7 0h1m1 0h3m21 0h2m2 0h4m4 0h3m9 0h1m2 0h7m1 0h5m6 0h2m6 0h2m3 0h1m3 0h2m3 0h10m2 0h1m1 0h1m1 0h5m40 0h2m1 0h2m2 0h1m5 0h16m2 0h9m4 0h4m1 0h2m1 0h3m1 0h1m7 0h1m49 0h1m83 0h3m7 0h1m53 0h1M146 332.5h1m5 0h1m37 0h3m10 0h5m11 0h1m8 0h4m1 0h4m6 0h2m1 0h2m3 0h2m5 0h5m1 0h6m1 0h1m2 0h3m5 0h3m3 0h1m3 0h2m3 0h9m52 0h5m7 0h28m1 0h1m5 0h3m3 0h1m2 0h1m7 0h2m47 0h3m83 0h1m8 0h1m4 0h2m4 0h1M191 333.5h2m10 0h5m1 0h1m11 0h1m6 0h3m8 0h6m1 0h2m12 0h9m5 0h3m3 0h3m15 0h8m5 0h1m8 0h2m23 0h1m16 0h4m2 0h8m1 0h22m4 0h2m3 0h1m1 0h1m10 0h4m54 0h1m74 0h1m3 0h1m10 0h1m1 0h2m3 0h1m57 0h1M201 334.5h1m3 0h4m17 0h1m15 0h6m12 0h3m1 0h6m5 0h1m3 0h5m8 0h1m6 0h3m2 0h4m1 0h2m9 0h1m43 0h2m3 0h27m25 0h4m54 0h2m1 0h1m90 0h1m54 0h3m2 0h2M193 335.5h1m11 0h4m17 0h3m15 0h5m12 0h1m4 0h3m8 0h3m4 0h3m12 0h1m5 0h1m1 0h1m1 0h1m1 0h2m46 0h1m2 0h5m1 0h7m2 0h10m3 0h6m7 0h1m2 0h1m159 0h2m12 0h1m48 0h2m2 0h2M195 336.5h1m8 0h4m7 0h3m10 0h1m15 0h6m11 0h1m4 0h3m15 0h1m8 0h1m5 0h2m4 0h1m3 0h3m22 0h1m1 0h2m23 0h14m2 0h11m1 0h4m1 0h2m26 0h1m146 0h5m6 0h1m20 0h1m26 0h3m3 0h1M203 337.5h5m7 0h1m12 0h3m6 0h1m9 0h3m6 0h3m1 0h2m6 0h1m3 0h1m20 0h1m4 0h1m2 0h1m1 0h1m7 0h1m24 0h2m15 0h1m7 0h13m2 0h10m3 0h1m1 0h2m177 0h1m2 0h1m27 0h1m2 0h1m32 0h1M207 338.5h1m12 0h1m7 0h3m6 0h1m8 0h4m16 0h1m1 0h3m22 0h1m4 0h3m1 0h3m36 0h1m12 0h1m4 0h1m2 0h10m4 0h7m1 0h3m1 0h4m48 0h2m125 0h1m1 0h1m1 0h2m28 0h1M206 339.5h3m13 0h1m5 0h4m4 0h2m8 0h3m8 0h1m10 0h3m9 0h1m3 0h1m1 0h1m13 0h5m1 0h3m51 0h13m1 0h11m2 0h2m1 0h1m48 0h3m130 0h1m1 0h1m26 0h1m32 0h1m6 0h2M188 340.5h1m29 0h1m9 0h6m2 0h2m7 0h7m17 0h1m5 0h2m7 0h4m7 0h2m1 0h1m1 0h5m23 0h1m30 0h1m1 0h1m1 0h12m1 0h7m1 0h2m2 0h2m1 0h1m34 0h1m146 0h2m51 0h3m12 0h1m2 0h1M191 341.5h1m23 0h1m10 0h1m1 0h6m2 0h2m5 0h1m1 0h2m3 0h7m12 0h1m4 0h3m2 0h2m1 0h3m1 0h2m3 0h6m4 0h2m9 0h2m14 0h1m6 0h1m14 0h2m7 0h12m3 0h9m1 0h2m5 0h2m33 0h1m11 0h2m4 0h1m183 0h2m1 0h1m3 0h1m1 0h1M191 342.5h1m34 0h1m1 0h2m1 0h3m2 0h1m5 0h2m1 0h1m4 0h7m14 0h1m1 0h1m2 0h1m1 0h8m2 0h5m11 0h1m4 0h3m6 0h1m11 0h1m24 0h1m5 0h2m1 0h10m2 0h6m1 0h1m5 0h2m34 0h1m200 0h1m1 0h2m1 0h1m5 0h2M178 343.5h1m36 0h1m16 0h7m3 0h3m3 0h9m14 0h3m4 0h5m3 0h1m2 0h4m14 0h6m6 0h1m11 0h2m25 0h1m3 0h1m5 0h3m5 0h3m1 0h2m9 0h1m1 0h1m45 0h1m185 0h1m1 0h1m1 0h1m9 0h1M182 344.5h2m7 0h2m20 0h1m12 0h1m6 0h3m1 0h1m4 0h4m5 0h4m1 0h1m1 0h1m9 0h9m5 0h1m3 0h2m1 0h1m1 0h1m15 0h1m1 0h3m16 0h3m36 0h4m3 0h1m1 0h2m1 0h1m11 0h3m30 0h1m5 0h3m175 0h1m18 0h3m8 0h1M191 345.5h2m12 0h1m7 0h1m21 0h5m4 0h5m2 0h6m1 0h1m10 0h8m5 0h1m1 0h6m7 0h4m1 0h1m4 0h5m11 0h2m20 0h1m19 0h1m1 0h11m46 0h1m19 0h1m182 0h1m22 0h1M183 346.5h1m1 0h1m26 0h1m24 0h3m4 0h3m4 0h6m1 0h1m10 0h9m1 0h1m2 0h1m1 0h6m8 0h1m1 0h1m10 0h1m14 0h1m18 0h1m20 0h8m1 0h1m1 0h1m5 0h1m9 0h1m30 0h1m19 0h2m161 0h1m16 0h1m2 0h1m25 0h1M190 347.5h1m38 0h1m3 0h2m1 0h3m5 0h5m2 0h7m12 0h7m5 0h1m1 0h6m21 0h3m6 0h2m4 0h1m4 0h1m2 0h3m18 0h1m13 0h2m1 0h4m17 0h2m2 0h1m29 0h1m129 0h4m47 0h1m15 0h4m37 0h1m1 0h1M171 348.5h1m8 0h2m30 0h1m12 0h1m2 0h2m3 0h6m4 0h4m6 0h6m12 0h3m1 0h1m1 0h4m1 0h5m1 0h1m21 0h5m3 0h3m4 0h5m4 0h4m24 0h6m3 0h2m4 0h1m6 0h1m175 0h1m47 0h1m1 0h2m12 0h5m1 0h1m20 0h1m1 0h1m10 0h1m2 0h1m12 0h1M150 349.5h1m71 0h1m1 0h4m5 0h5m5 0h4m8 0h4m13 0h6m1 0h2m1 0h8m21 0h5m1 0h7m1 0h4m7 0h1m5 0h1m3 0h1m7 0h2m4 0h1m2 0h1m3 0h2m16 0h1m224 0h2m11 0h5m9 0h1m15 0h1m11 0h1m5 0h1m6 0h3M155 350.5h2m23 0h1m25 0h1m3 0h2m1 0h1m1 0h1m6 0h5m10 0h2m2 0h1m2 0h1m10 0h4m11 0h2m4 0h2m1 0h2m3 0h1m3 0h1m22 0h7m1 0h1m1 0h1m1 0h6m7 0h1m8 0h1m8 0h3m9 0h1m2 0h1m236 0h1m2 0h1m1 0h1m12 0h1m2 0h2m23 0h1m12 0h2m8 0h1m2 0h3M144 351.5h1m9 0h3m4 0h1m33 0h1m17 0h3m8 0h3m10 0h1m17 0h3m8 0h1m2 0h8m10 0h2m4 0h2m3 0h1m12 0h11m3 0h3m8 0h1m11 0h3m3 0h3m1 0h1m5 0h1m1 0h1m45 0h2m15 0h1m1 0h1m9 0h4m179 0h1m28 0h1m20 0h3m5 0h3M156 352.5h2m23 0h1m32 0h2m7 0h5m7 0h1m5 0h1m7 0h1m6 0h1m9 0h2m1 0h1m1 0h3m6 0h2m2 0h2m2 0h1m1 0h1m1 0h3m8 0h2m7 0h7m4 0h2m2 0h1m7 0h3m1 0h1m1 0h1m6 0h3m3 0h5m5 0h3m46 0h1m15 0h2m12 0h1m5 0h1m1 0h1m125 0h1m64 0h1m1 0h1m28 0h1m12 0h1M156 353.5h3m35 0h1m18 0h4m18 0h2m3 0h2m1 0h1m4 0h4m3 0h2m8 0h4m1 0h2m10 0h3m1 0h3m1 0h5m1 0h1m8 0h1m1 0h1m4 0h1m1 0h1m1 0h5m1 0h4m2 0h1m6 0h1m1 0h7m3 0h4m7 0h1m5 0h3m45 0h1m29 0h2m5 0h4m49 0h2m161 0h1M157 354.5h2m34 0h2m17 0h6m4 0h2m7 0h2m3 0h1m1 0h1m2 0h1m1 0h1m5 0h3m2 0h3m7 0h8m3 0h3m3 0h6m4 0h2m12 0h1m1 0h2m4 0h3m1 0h3m1 0h8m5 0h1m1 0h4m1 0h4m3 0h2m3 0h4m8 0h3m46 0h1m1 0h2m24 0h1m6 0h2m48 0h4m140 0h3M149 355.5h1m21 0h1m42 0h3m4 0h3m8 0h1m3 0h4m16 0h1m6 0h6m1 0h2m3 0h5m4 0h3m5 0h2m3 0h1m7 0h2m1 0h1m4 0h3m1 0h3m1 0h3m1 0h4m3 0h1m1 0h2m3 0h3m1 0h2m2 0h3m2 0h4m11 0h1m31 0h1m16 0h1m30 0h1m51 0h1m2 0h1m18 0h1m121 0h1m1 0h1m1 0h1M167 356.5h1m2 0h2m34 0h1m1 0h1m1 0h3m2 0h1m1 0h1m4 0h3m11 0h1m1 0h2m15 0h1m6 0h3m1 0h2m1 0h3m3 0h11m1 0h1m3 0h2m6 0h3m3 0h6m2 0h9m2 0h5m4 0h4m16 0h3m67 0h1m27 0h1m48 0h3m18 0h1m121 0h5M210 357.5h2m12 0h1m8 0h1m4 0h4m13 0h2m4 0h2m4 0h2m1 0h3m4 0h4m2 0h1m4 0h1m2 0h3m3 0h1m7 0h2m1 0h1m1 0h1m1 0h4m1 0h12m3 0h4m13 0h1m4 0h1m62 0h1m5 0h1m26 0h1m50 0h2m141 0h1m46 0h2M206 358.5h3m1 0h1m1 0h1m4 0h3m4 0h1m8 0h1m4 0h3m1 0h1m7 0h1m3 0h3m4 0h1m5 0h2m8 0h7m5 0h1m1 0h3m2 0h3m1 0h1m4 0h4m1 0h1m2 0h3m2 0h12m3 0h2m17 0h1m1 0h1m15 0h1m46 0h2m2 0h2m8 0h1m70 0h1m50 0h1m90 0h2M184 359.5h2m20 0h1m8 0h2m3 0h1m3 0h1m7 0h3m3 0h4m6 0h1m1 0h8m3 0h1m6 0h1m7 0h6m8 0h1m1 0h3m7 0h1m2 0h2m1 0h1m1 0h1m1 0h3m4 0h7m2 0h3m3 0h1m3 0h2m3 0h2m5 0h1m70 0h3m9 0h3m110 0h1m1 0h2m1 0h1m1 0h3m2 0h1m24 0h1m90 0h1M184 360.5h1m1 0h1m19 0h2m4 0h1m3 0h2m1 0h1m3 0h2m1 0h1m5 0h3m5 0h1m4 0h2m2 0h1m1 0h3m1 0h3m19 0h5m8 0h1m1 0h3m5 0h3m1 0h5m1 0h1m2 0h2m5 0h7m2 0h1m6 0h1m2 0h1m3 0h3m4 0h1m3 0h1m62 0h2m2 0h2m11 0h1m15 0h1m3 0h1m93 0h1m5 0h1m104 0h1m6 0h1m8 0h1m18 0h1M184 361.5h1m1 0h1m24 0h2m3 0h5m4 0h2m6 0h2m5 0h2m3 0h2m4 0h4m1 0h4m8 0h1m1 0h1m1 0h3m3 0h4m9 0h4m7 0h4m2 0h3m6 0h4m2 0h4m3 0h1m5 0h6m3 0h2m3 0h1m1 0h3m31 0h2m29 0h1m3 0h1m1 0h1m11 0h1m14 0h1m3 0h1m54 0h2m36 0h5m1 0h1m105 0h2m13 0h1m1 0h1m17 0h1M175 362.5h1m10 0h1m18 0h1m1 0h6m3 0h6m1 0h7m10 0h1m1 0h1m2 0h2m4 0h3m4 0h2m1 0h1m10 0h2m5 0h1m10 0h4m5 0h5m3 0h2m1 0h1m1 0h1m7 0h7m10 0h5m2 0h4m38 0h2m29 0h1m4 0h1m3 0h1m12 0h2m9 0h1m3 0h1m54 0h1m44 0h1m27 0h1m77 0h1m12 0h1m2 0h1m17 0h1M175 363.5h1m8 0h2m22 0h5m3 0h6m2 0h2m20 0h2m1 0h4m6 0h2m1 0h1m3 0h1m4 0h1m3 0h1m1 0h1m1 0h1m10 0h3m6 0h1m3 0h1m3 0h2m3 0h1m4 0h1m2 0h5m3 0h3m8 0h1m3 0h5m1 0h1m1 0h1m70 0h1m115 0h2m7 0h1m1 0h2m2 0h3m118 0h1m1 0h1m17 0h2M185 364.5h1m14 0h1m7 0h2m1 0h1m1 0h1m3 0h1m1 0h5m13 0h3m10 0h1m6 0h4m1 0h1m12 0h3m8 0h1m3 0h3m7 0h3m3 0h2m13 0h4m2 0h3m13 0h1m1 0h1m158 0h2m34 0h1m1 0h1m98 0h1m21 0h1M180 365.5h3m31 0h3m1 0h2m1 0h3m12 0h4m9 0h2m6 0h1m4 0h2m6 0h10m8 0h4m1 0h3m10 0h2m13 0h4m1 0h1m1 0h2m55 0h1m32 0h4m85 0h1m3 0h1m5 0h1m21 0h1m2 0h1m6 0h1m12 0h1m68 0h1m33 0h1m28 0h1M181 366.5h2m31 0h3m2 0h5m10 0h6m6 0h4m12 0h3m5 0h2m3 0h2m11 0h3m1 0h3m11 0h2m13 0h1m1 0h1m28 0h1m98 0h1m56 0h1m9 0h2m22 0h2m17 0h2m66 0h1m1 0h4m5 0h1m52 0h1m1 0h1M182 367.5h1m31 0h4m1 0h4m14 0h1m1 0h1m6 0h3m4 0h1m6 0h5m6 0h6m2 0h1m6 0h1m21 0h1m16 0h1m19 0h2m57 0h1m15 0h2m7 0h1m19 0h2m57 0h3m119 0h4M215 368.5h2m2 0h5m14 0h2m6 0h2m12 0h7m8 0h1m9 0h2m7 0h1m13 0h1m8 0h1m1 0h1m1 0h1m1 0h3m8 0h1m10 0h3m56 0h6m1 0h1m7 0h2m11 0h1m17 0h1m37 0h2m19 0h1m11 0h2m20 0h1m79 0h2m5 0h4m62 0h1M215 369.5h2m4 0h4m13 0h2m6 0h1m15 0h1m1 0h4m6 0h3m10 0h2m3 0h3m1 0h1m5 0h1m12 0h1m1 0h1m3 0h1m1 0h4m6 0h2m11 0h2m32 0h1m2 0h3m16 0h1m1 0h7m6 0h1m1 0h1m7 0h2m1 0h1m1 0h1m5 0h1m2 0h1m45 0h2m11 0h1m18 0h1m1 0h3m103 0h6m1 0h1m5 0h1m41 0h1m12 0h2M201 370.5h1m13 0h1m5 0h5m7 0h1m3 0h3m2 0h5m3 0h1m12 0h1m1 0h2m6 0h1m1 0h3m9 0h3m2 0h3m1 0h2m4 0h3m1 0h2m5 0h1m1 0h3m1 0h8m1 0h1m18 0h1m45 0h1m10 0h7m14 0h1m2 0h1m11 0h2m6 0h1m1 0h1m36 0h3m1 0h1m28 0h6m3 0h1m10 0h2m72 0h1m5 0h1m1 0h4m1 0h6M172 371.5h2m26 0h3m19 0h3m8 0h1m1 0h1m1 0h1m4 0h4m4 0h1m16 0h1m5 0h1m1 0h1m10 0h3m1 0h4m3 0h1m6 0h1m1 0h6m3 0h1m2 0h4m2 0h6m48 0h2m3 0h1m18 0h1m34 0h2m1 0h2m47 0h1m1 0h1m16 0h1m10 0h3m1 0h1m1 0h1m2 0h2m10 0h1m73 0h1m1 0h3m1 0h1m1 0h5m1 0h1m53 0h2M200 372.5h1m21 0h4m10 0h2m5 0h3m1 0h5m10 0h2m4 0h1m1 0h1m4 0h1m10 0h3m3 0h1m6 0h2m3 0h1m1 0h4m1 0h1m1 0h3m2 0h3m4 0h5m57 0h3m12 0h1m23 0h1m13 0h2m43 0h1m3 0h1m1 0h2m23 0h1m2 0h3m93 0h5m2 0h4m1 0h1m5 0h1M229 373.5h2m6 0h2m3 0h1m6 0h3m6 0h1m4 0h1m5 0h3m1 0h1m11 0h4m6 0h1m1 0h5m4 0h3m6 0h1m3 0h1m4 0h3m7 0h3m31 0h1m16 0h5m1 0h4m5 0h1m1 0h1m15 0h1m2 0h2m3 0h1m10 0h2m1 0h1m1 0h1m44 0h1m5 0h1m7 0h1m16 0h1m1 0h2m91 0h8m1 0h6m2 0h1m1 0h1m1 0h1m56 0h1m2 0h3M175 374.5h1m21 0h2m15 0h1m9 0h1m5 0h1m11 0h1m15 0h1m4 0h2m4 0h3m1 0h4m17 0h9m2 0h3m3 0h1m7 0h1m4 0h4m2 0h4m2 0h1m30 0h3m5 0h1m9 0h6m1 0h3m3 0h3m10 0h1m3 0h1m4 0h1m1 0h1m12 0h1m1 0h1m80 0h1m1 0h1m93 0h14m2 0h5m55 0h1m2 0h1m4 0h1M214 375.5h2m13 0h3m10 0h1m13 0h1m4 0h3m5 0h1m1 0h5m9 0h1m3 0h1m4 0h6m1 0h5m1 0h1m11 0h2m2 0h3m3 0h5m30 0h1m5 0h1m3 0h1m9 0h9m1 0h1m4 0h2m14 0h2m1 0h1m12 0h2m3 0h1m56 0h1m5 0h1m1 0h1m2 0h1m13 0h1m95 0h15m1 0h2m61 0h1m3 0h1M190 376.5h1m38 0h3m22 0h3m4 0h5m1 0h5m3 0h1m19 0h5m2 0h6m1 0h1m6 0h2m12 0h4m23 0h2m2 0h1m1 0h1m9 0h3m8 0h3m1 0h9m1 0h3m12 0h7m16 0h1m5 0h1m56 0h1m14 0h2m95 0h1m2 0h18m1 0h1m58 0h1M229 377.5h1m1 0h1m9 0h1m6 0h1m3 0h1m2 0h2m5 0h10m14 0h4m5 0h6m1 0h4m2 0h1m5 0h5m11 0h3m1 0h1m22 0h3m3 0h2m20 0h3m1 0h8m16 0h2m1 0h3m11 0h1m6 0h1m75 0h4m96 0h21m2 0h1m39 0h1m1 0h4m12 0h1m2 0h1m3 0h1M213 378.5h1m13 0h3m11 0h1m7 0h3m4 0h4m4 0h4m1 0h1m5 0h2m13 0h1m5 0h5m2 0h8m4 0h4m7 0h1m3 0h2m3 0h3m16 0h3m1 0h3m2 0h3m19 0h1m1 0h1m1 0h1m3 0h2m1 0h1m1 0h5m13 0h3m5 0h1m89 0h3m95 0h1m1 0h17m4 0h2m2 0h1m1 0h1m34 0h2m1 0h1m1 0h1M185 379.5h1m25 0h1m3 0h3m1 0h1m8 0h7m5 0h2m4 0h6m5 0h3m4 0h3m1 0h1m1 0h1m4 0h3m1 0h2m8 0h4m3 0h9m1 0h5m6 0h1m6 0h2m1 0h2m1 0h1m5 0h2m17 0h2m7 0h1m11 0h1m1 0h4m5 0h1m1 0h3m1 0h1m7 0h2m14 0h2m8 0h1m1 0h1m1 0h1m83 0h2m69 0h1m1 0h1m1 0h1m20 0h17m4 0h1m3 0h1m5 0h1m34 0h6m23 0h1M185 380.5h1m30 0h1m11 0h8m4 0h1m8 0h2m4 0h1m2 0h3m3 0h3m1 0h3m5 0h1m3 0h1m6 0h1m2 0h3m5 0h7m1 0h6m5 0h1m5 0h2m12 0h1m5 0h1m12 0h2m26 0h3m2 0h1m9 0h4m21 0h2m59 0h1m1 0h3m21 0h1m76 0h2m24 0h1m1 0h12m2 0h4m1 0h1m3 0h3m4 0h1m31 0h4m24 0h1M216 381.5h1m15 0h3m1 0h1m1 0h1m10 0h3m1 0h1m1 0h1m4 0h1m5 0h1m1 0h4m7 0h3m3 0h1m3 0h5m5 0h1m1 0h1m2 0h8m11 0h2m3 0h1m12 0h3m12 0h1m18 0h2m5 0h7m1 0h4m6 0h2m21 0h1m1 0h2m6 0h2m29 0h1m12 0h1m2 0h2m1 0h1m1 0h1m3 0h1m4 0h1m35 0h2m56 0h4m19 0h1m3 0h19m6 0h4m4 0h1m32 0h2m1 0h1M194 382.5h1m20 0h2m33 0h2m2 0h2m3 0h1m8 0h4m11 0h1m1 0h1m3 0h6m2 0h1m7 0h9m1 0h1m7 0h1m25 0h1m6 0h6m8 0h1m5 0h1m3 0h12m9 0h2m8 0h3m7 0h1m1 0h3m7 0h1m41 0h1m1 0h4m8 0h1m4 0h1m66 0h1m49 0h1m2 0h16m2 0h1m6 0h6m5 0h1m27 0h1m2 0h1m2 0h3M199 383.5h1m32 0h1m16 0h2m1 0h1m1 0h2m1 0h1m1 0h1m9 0h1m2 0h3m8 0h1m5 0h9m1 0h1m4 0h6m1 0h4m9 0h1m3 0h1m3 0h1m8 0h3m11 0h7m4 0h1m3 0h2m1 0h3m2 0h1m1 0h1m1 0h9m5 0h2m3 0h2m8 0h2m8 0h1m1 0h1m1 0h1m1 0h1m4 0h1m3 0h1m5 0h1m36 0h2m1 0h2m5 0h5m54 0h1m12 0h1m54 0h21m1 0h3m1 0h1m5 0h2m29 0h4m1 0h2m1 0h2M236 384.5h1m22 0h1m9 0h1m3 0h1m1 0h1m7 0h1m7 0h3m3 0h3m4 0h13m6 0h2m5 0h1m12 0h2m1 0h1m10 0h6m5 0h1m2 0h1m1 0h3m1 0h2m3 0h8m1 0h1m1 0h3m5 0h3m7 0h2m9 0h4m3 0h5m5 0h1m24 0h1m17 0h1m5 0h5m4 0h1m50 0h1m71 0h16m1 0h4m8 0h1m1 0h2m16 0h1m8 0h2m1 0h2m2 0h1m1 0h1m12 0h1M205 385.5h3m28 0h1m22 0h1m23 0h1m6 0h5m2 0h3m7 0h11m3 0h5m2 0h4m11 0h4m3 0h1m8 0h3m5 0h1m5 0h8m1 0h6m5 0h1m15 0h3m8 0h6m2 0h4m6 0h1m1 0h1m38 0h1m3 0h2m2 0h5m30 0h2m4 0h5m39 0h2m41 0h1m2 0h21m1 0h1m9 0h5m25 0h1m1 0h6m15 0h1m1 0h1M204 386.5h2m1 0h1m9 0h1m1 0h1m7 0h1m1 0h1m1 0h1m2 0h4m30 0h1m16 0h2m3 0h5m3 0h2m7 0h9m5 0h1m1 0h4m1 0h4m14 0h2m7 0h2m3 0h3m5 0h2m3 0h6m1 0h5m1 0h3m3 0h3m10 0h6m10 0h6m2 0h3m3 0h5m49 0h3m34 0h6m40 0h2m44 0h16m1 0h3m3 0h1m1 0h2m4 0h3m2 0h1m7 0h1m4 0h1m14 0h3m2 0h2m17 0h1M204 387.5h3m10 0h3m8 0h2m3 0h3m1 0h1m13 0h4m11 0h2m2 0h2m13 0h7m7 0h2m11 0h2m1 0h1m1 0h6m2 0h7m1 0h2m6 0h1m2 0h1m1 0h2m7 0h1m5 0h4m3 0h3m3 0h5m2 0h6m3 0h2m1 0h1m12 0h2m1 0h3m6 0h5m3 0h4m1 0h1m4 0h1m6 0h1m19 0h1m25 0h3m33 0h1m5 0h1m39 0h1m45 0h4m1 0h2m1 0h8m1 0h1m1 0h4m4 0h2m2 0h6m2 0h1m3 0h1m1 0h1m16 0h3m16 0h1m12 0h1M201 388.5h1m1 0h4m10 0h2m15 0h2m1 0h1m5 0h3m5 0h4m7 0h3m4 0h4m3 0h1m9 0h4m1 0h1m2 0h1m3 0h6m3 0h2m3 0h1m3 0h1m1 0h3m3 0h4m2 0h2m8 0h2m5 0h2m13 0h4m2 0h3m4 0h3m3 0h4m3 0h6m6 0h2m10 0h1m1 0h4m3 0h2m4 0h1m3 0h3m27 0h4m25 0h2m39 0h1m86 0h1m1 0h1m1 0h2m1 0h10m1 0h2m6 0h10m6 0h1m2 0h1m5 0h1m7 0h1m3 0h1m30 0h2M201 389.5h6m8 0h5m8 0h1m3 0h2m1 0h2m5 0h3m2 0h7m15 0h8m11 0h4m4 0h4m1 0h1m1 0h1m15 0h2m5 0h3m2 0h2m7 0h4m3 0h1m1 0h1m12 0h4m3 0h2m4 0h1m1 0h1m3 0h4m3 0h2m1 0h3m6 0h2m5 0h1m1 0h4m2 0h2m3 0h3m1 0h1m1 0h3m2 0h4m26 0h1m1 0h3m24 0h1m84 0h1m35 0h1m5 0h3m2 0h2m2 0h6m3 0h4m1 0h14m6 0h2m11 0h1m21 0h1m10 0h1m8 0h1M214 390.5h5m5 0h2m2 0h1m3 0h2m2 0h1m1 0h1m2 0h5m6 0h3m1 0h2m1 0h1m1 0h1m1 0h1m5 0h3m1 0h4m12 0h2m4 0h3m4 0h4m13 0h3m3 0h1m2 0h1m11 0h2m17 0h2m1 0h3m11 0h2m7 0h1m2 0h6m1 0h2m3 0h1m6 0h4m6 0h1m1 0h1m1 0h1m2 0h1m8 0h3m25 0h1m1 0h2m149 0h1m4 0h1m6 0h5m10 0h1m1 0h8m9 0h1m8 0h2m2 0h1m3 0h1m1 0h1m3 0h1M214 391.5h5m6 0h2m4 0h5m5 0h3m12 0h1m6 0h1m5 0h2m2 0h2m28 0h4m12 0h2m7 0h3m12 0h6m12 0h5m9 0h3m6 0h2m10 0h3m7 0h1m3 0h1m14 0h1m7 0h2m26 0h8m24 0h1m1 0h1m108 0h1m1 0h1m6 0h1m3 0h1m10 0h3m1 0h1m7 0h1m1 0h11m5 0h1m2 0h1m17 0h2m23 0h1m5 0h1M216 392.5h1m1 0h2m3 0h3m6 0h2m4 0h1m1 0h6m4 0h3m1 0h2m6 0h1m4 0h1m1 0h1m2 0h2m21 0h1m6 0h5m11 0h9m13 0h1m2 0h7m13 0h1m5 0h1m5 0h3m6 0h2m5 0h1m4 0h1m27 0h2m5 0h1m4 0h1m24 0h8m10 0h1m1 0h1m13 0h1m10 0h1m106 0h2m4 0h1m9 0h4m7 0h2m1 0h11m6 0h4m11 0h3m1 0h1M203 393.5h3m5 0h1m6 0h2m3 0h3m1 0h1m1 0h1m2 0h1m1 0h1m3 0h1m3 0h2m6 0h6m10 0h1m2 0h6m10 0h3m7 0h3m1 0h1m2 0h5m11 0h1m1 0h3m1 0h3m17 0h6m8 0h3m16 0h1m6 0h1m11 0h1m27 0h3m1 0h1m2 0h2m3 0h1m23 0h10m38 0h2m96 0h1m7 0h2m3 0h1m1 0h1m7 0h3m8 0h6m1 0h1m3 0h2m7 0h1m1 0h8m2 0h1m2 0h6M218 394.5h2m7 0h1m7 0h2m1 0h1m1 0h1m1 0h2m6 0h1m1 0h4m1 0h1m8 0h2m3 0h5m8 0h3m8 0h3m2 0h4m12 0h1m2 0h8m12 0h2m1 0h10m1 0h1m3 0h5m25 0h1m5 0h4m27 0h1m1 0h2m4 0h1m4 0h1m21 0h2m1 0h6m137 0h1m24 0h2m1 0h1m6 0h1m1 0h5m4 0h2m1 0h3m1 0h10m2 0h1m9 0h1m18 0h2M224 395.5h2m8 0h2m7 0h2m12 0h1m3 0h1m7 0h1m1 0h3m1 0h1m1 0h3m3 0h6m7 0h3m1 0h5m11 0h1m1 0h8m3 0h1m1 0h1m7 0h1m2 0h1m3 0h7m4 0h2m2 0h1m21 0h1m3 0h2m3 0h6m17 0h1m43 0h2m1 0h3m1 0h1m2 0h2m67 0h2m66 0h2m12 0h1m9 0h1m1 0h1m3 0h1m1 0h1m1 0h6m10 0h1m1 0h10m1 0h1m17 0h1m7 0h1m1 0h3m1 0h4m20 0h1m1 0h1M202 396.5h1m10 0h1m4 0h4m3 0h3m3 0h5m4 0h6m9 0h1m13 0h3m5 0h2m2 0h7m13 0h2m1 0h1m3 0h1m9 0h6m3 0h4m4 0h2m2 0h6m1 0h1m3 0h2m4 0h4m1 0h1m6 0h1m15 0h1m6 0h8m15 0h3m42 0h1m3 0h1m17 0h2m4 0h2m117 0h1m13 0h1m8 0h5m2 0h1m1 0h1m1 0h9m7 0h2m1 0h1m1 0h1m19 0h2m2 0h4m7 0h3m2 0h4m21 0h2M203 397.5h1m14 0h4m1 0h5m3 0h5m4 0h7m8 0h3m12 0h1m9 0h1m3 0h4m9 0h1m1 0h3m4 0h1m7 0h2m2 0h6m4 0h2m4 0h1m4 0h3m8 0h2m4 0h4m1 0h1m5 0h2m3 0h4m14 0h1m2 0h1m3 0h2m18 0h1m5 0h1m3 0h1m31 0h1m22 0h2m4 0h1m8 0h1m2 0h1m46 0h1m58 0h1m14 0h1m6 0h6m4 0h9m12 0h1m9 0h3m8 0h4m1 0h3m9 0h7m1 0h2m18 0h1m1 0h1M213 398.5h1m4 0h4m3 0h1m5 0h5m4 0h7m8 0h4m19 0h9m9 0h5m13 0h5m13 0h3m3 0h5m1 0h1m4 0h3m5 0h5m4 0h3m3 0h3m17 0h3m15 0h1m2 0h1m10 0h2m30 0h1m88 0h3m51 0h1m23 0h1m4 0h1m1 0h3m1 0h1m1 0h4m1 0h6m23 0h1m10 0h6m10 0h10m16 0h1M213 399.5h2m7 0h1m8 0h5m5 0h4m11 0h5m18 0h7m1 0h1m1 0h1m6 0h5m15 0h2m4 0h4m7 0h2m4 0h8m12 0h5m3 0h2m2 0h5m3 0h1m4 0h1m3 0h1m3 0h5m1 0h1m1 0h1m9 0h1m11 0h1m53 0h1m6 0h2m23 0h1m30 0h1m5 0h1m74 0h5m2 0h9m1 0h7m2 0h1m34 0h1m6 0h1m7 0h11M213 400.5h1m20 0h1m7 0h7m9 0h2m14 0h9m15 0h1m5 0h1m5 0h1m1 0h4m5 0h4m14 0h4m1 0h1m1 0h1m13 0h3m2 0h1m1 0h3m1 0h3m4 0h1m8 0h6m3 0h1m27 0h1m1 0h1m36 0h1m19 0h1m24 0h1m36 0h1m54 0h1m18 0h2m2 0h2m2 0h20m1 0h1m20 0h2m1 0h1m16 0h1m10 0h1m2 0h4m3 0h1M212 401.5h2m7 0h2m2 0h1m5 0h1m1 0h2m6 0h8m7 0h5m11 0h1m4 0h7m16 0h1m1 0h4m4 0h6m6 0h1m17 0h2m2 0h1m11 0h1m2 0h2m3 0h2m5 0h5m1 0h3m8 0h4m30 0h1m5 0h1m1 0h1m25 0h2m4 0h2m77 0h1m3 0h1m1 0h2m49 0h1m6 0h1m11 0h1m9 0h10m1 0h8m20 0h1m3 0h1m11 0h1m11 0h3m4 0h1m23 0h1M218 402.5h3m4 0h3m7 0h1m5 0h10m7 0h3m7 0h1m1 0h1m3 0h1m1 0h7m18 0h4m4 0h8m2 0h4m1 0h1m7 0h1m3 0h1m9 0h1m2 0h2m7 0h2m3 0h4m4 0h8m1 0h1m7 0h5m11 0h1m4 0h1m16 0h1m2 0h1m1 0h1m1 0h1m1 0h1m21 0h1m10 0h1m49 0h1m22 0h1m2 0h3m56 0h1m12 0h6m2 0h7m1 0h5m1 0h7m1 0h1m31 0h1m16 0h1m14 0h1M212 403.5h1m5 0h3m1 0h4m10 0h1m4 0h4m1 0h7m6 0h1m5 0h4m7 0h7m13 0h1m5 0h3m4 0h11m16 0h1m7 0h1m4 0h3m7 0h1m2 0h3m6 0h9m8 0h1m1 0h3m1 0h2m3 0h1m1 0h5m1 0h1m1 0h4m20 0h1m2 0h1m1 0h1m24 0h1m41 0h1m37 0h1m2 0h3m51 0h1m2 0h1m13 0h1m1 0h2m5 0h9m1 0h1m2 0h6M218 404.5h1m1 0h1m3 0h1m18 0h4m1 0h3m10 0h8m3 0h5m1 0h3m14 0h1m6 0h3m3 0h1m2 0h5m1 0h4m19 0h1m10 0h3m1 0h1m1 0h1m4 0h3m8 0h8m5 0h3m2 0h2m1 0h1m1 0h6m1 0h3m1 0h6m13 0h1m6 0h3m18 0h1m9 0h1m1 0h1m24 0h1m15 0h1m36 0h6m49 0h1m2 0h1m1 0h1m10 0h1m1 0h1m2 0h1m4 0h22m33 0h1m1 0h1m27 0h1M218 405.5h3m18 0h1m1 0h1m6 0h3m2 0h1m4 0h1m1 0h6m1 0h2m2 0h6m2 0h3m7 0h2m4 0h2m1 0h1m1 0h1m1 0h4m7 0h3m30 0h5m1 0h5m4 0h2m11 0h5m13 0h1m1 0h1m1 0h6m1 0h10m9 0h1m5 0h1m4 0h1m3 0h2m50 0h3m30 0h3m16 0h1m1 0h2m2 0h3m47 0h6m13 0h1m2 0h1m4 0h22m31 0h3M218 406.5h2m3 0h3m4 0h3m25 0h1m1 0h3m1 0h1m2 0h7m1 0h3m1 0h5m1 0h1m8 0h3m1 0h3m2 0h4m1 0h1m14 0h1m15 0h1m1 0h1m4 0h3m3 0h5m5 0h1m10 0h9m2 0h1m7 0h3m3 0h4m3 0h4m5 0h2m6 0h1m3 0h4m93 0h1m22 0h2m1 0h4m14 0h2m1 0h1m26 0h6m1 0h1m15 0h1m1 0h15m1 0h8m32 0h1m26 0h1m4 0h1m1 0h1m4 0h3M223 407.5h2m4 0h2m1 0h1m21 0h1m5 0h3m4 0h8m4 0h2m1 0h1m1 0h2m8 0h5m4 0h3m3 0h1m27 0h1m1 0h1m1 0h1m6 0h2m2 0h3m6 0h1m4 0h2m5 0h4m2 0h6m7 0h3m2 0h11m2 0h2m1 0h3m4 0h3m3 0h3m1 0h2m54 0h2m36 0h2m14 0h1m2 0h1m3 0h1m2 0h2m45 0h3m5 0h1m14 0h1m1 0h18m1 0h1m1 0h2m30 0h1m34 0h2m6 0h2M223 408.5h2m35 0h2m4 0h10m2 0h1m6 0h1m9 0h2m4 0h1m1 0h3m2 0h1m1 0h1m10 0h4m13 0h4m19 0h1m4 0h2m6 0h4m1 0h4m1 0h1m8 0h1m5 0h3m4 0h1m1 0h3m3 0h1m5 0h2m3 0h7m11 0h2m41 0h1m11 0h2m42 0h1m6 0h1m48 0h2m20 0h1m1 0h1m1 0h13m5 0h4m27 0h1m2 0h1m50 0h1m8 0h1M234 409.5h1m32 0h2m3 0h3m3 0h1m16 0h3m1 0h1m1 0h3m13 0h10m11 0h2m1 0h3m23 0h1m5 0h5m1 0h6m5 0h4m6 0h2m4 0h1m2 0h1m1 0h1m1 0h2m6 0h2m4 0h5m11 0h1m43 0h1m5 0h2m2 0h2m27 0h2m13 0h1m7 0h4m35 0h1m9 0h1m8 0h1m12 0h1m1 0h2m1 0h13m4 0h1m1 0h3m1 0h2m27 0h1m24 0h1m15 0h1M246 410.5h1m19 0h1m4 0h4m1 0h5m4 0h2m8 0h1m3 0h8m5 0h1m1 0h1m2 0h2m3 0h6m12 0h4m2 0h2m3 0h1m24 0h2m1 0h1m4 0h1m3 0h1m7 0h1m9 0h2m3 0h1m6 0h2m3 0h2m6 0h1m9 0h1m54 0h3m28 0h1m13 0h2m7 0h3m1 0h1m32 0h1m1 0h1m18 0h1m12 0h1m1 0h3m2 0h6m9 0h5m54 0h2m22 0h1m6 0h1M228 411.5h2m25 0h1m16 0h9m5 0h4m1 0h1m5 0h8m1 0h1m5 0h2m2 0h3m4 0h5m9 0h6m3 0h2m3 0h2m1 0h3m1 0h1m5 0h4m4 0h2m1 0h3m6 0h1m7 0h1m1 0h3m4 0h1m4 0h1m4 0h2m5 0h1m3 0h4m16 0h4m41 0h1m4 0h4m1 0h1m52 0h1m3 0h1m34 0h1m18 0h3m10 0h1m1 0h9m1 0h1m1 0h1m9 0h2m1 0h1m85 0h1m10 0h1M255 412.5h2m14 0h9m9 0h3m2 0h1m3 0h8m5 0h8m3 0h4m1 0h1m3 0h1m7 0h5m1 0h7m3 0h4m3 0h1m1 0h4m5 0h1m1 0h6m12 0h4m1 0h1m2 0h1m3 0h1m5 0h1m11 0h2m17 0h6m44 0h1m2 0h1m93 0h1m19 0h2m13 0h3m2 0h5m1 0h2m6 0h1m1 0h2m97 0h1M223 413.5h3m5 0h2m2 0h1m19 0h1m13 0h2m2 0h1m1 0h5m2 0h1m5 0h4m2 0h1m5 0h4m6 0h5m2 0h3m3 0h7m3 0h2m1 0h1m1 0h13m4 0h6m1 0h1m2 0h3m5 0h8m1 0h4m1 0h1m9 0h3m1 0h1m8 0h1m13 0h1m11 0h5m2 0h5m1 0h1m7 0h1m5 0h1m1 0h1m26 0h1m1 0h2m2 0h2m32 0h1m8 0h1m66 0h2m1 0h1m14 0h2m1 0h2m1 0h3m1 0h2m5 0h4m59 0h2m36 0h1m1 0h1M225 414.5h1m4 0h2m3 0h3m19 0h2m18 0h4m1 0h3m2 0h2m1 0h3m1 0h1m6 0h4m4 0h7m1 0h3m1 0h1m1 0h1m1 0h3m4 0h3m3 0h11m1 0h1m5 0h10m8 0h6m2 0h3m2 0h2m13 0h1m7 0h1m1 0h1m11 0h1m11 0h5m3 0h3m8 0h1m1 0h2m6 0h1m15 0h2m8 0h1m111 0h1m1 0h2m1 0h2m1 0h1m13 0h2m1 0h3m1 0h2m10 0h1m62 0h2m33 0h1m3 0h1m3 0h1m2 0h1M231 415.5h1m47 0h2m2 0h6m2 0h3m8 0h3m4 0h7m3 0h1m5 0h4m3 0h1m5 0h1m1 0h4m2 0h3m1 0h3m4 0h3m1 0h1m1 0h1m9 0h3m3 0h1m2 0h6m1 0h2m10 0h2m5 0h7m5 0h1m1 0h1m13 0h5m13 0h2m1 0h1m30 0h1m3 0h1m40 0h1m70 0h2m1 0h1m1 0h1m16 0h7m1 0h4m3 0h4m59 0h4m38 0h1m3 0h1m2 0h1M229 416.5h4m30 0h1m15 0h1m3 0h5m3 0h1m9 0h4m4 0h9m5 0h1m1 0h1m2 0h2m1 0h1m4 0h3m1 0h4m1 0h3m4 0h3m2 0h3m1 0h1m6 0h1m2 0h5m7 0h9m9 0h2m5 0h7m5 0h3m1 0h1m13 0h2m15 0h5m22 0h1m1 0h1m1 0h1m1 0h1m1 0h1m1 0h1m112 0h4m2 0h1m15 0h1m1 0h9m3 0h1m1 0h2m1 0h1m56 0h1m2 0h1m42 0h2M231 417.5h1m32 0h2m9 0h1m7 0h4m12 0h3m5 0h13m5 0h1m1 0h5m3 0h4m1 0h3m9 0h2m3 0h3m1 0h1m6 0h1m1 0h5m8 0h10m8 0h3m7 0h6m4 0h2m19 0h1m13 0h4m2 0h1m1 0h1m18 0h3m2 0h2m1 0h3m3 0h1m35 0h1m70 0h2m1 0h2m18 0h1m1 0h1m4 0h3m1 0h4m1 0h2m64 0h1m6 0h2m1 0h1m23 0h3m1 0h4M264 418.5h1m1 0h4m4 0h3m6 0h5m11 0h4m4 0h12m9 0h4m3 0h3m1 0h4m9 0h3m2 0h7m2 0h8m9 0h6m22 0h7m2 0h6m10 0h1m3 0h5m4 0h1m6 0h4m4 0h2m18 0h2m3 0h5m111 0h1m21 0h1m1 0h1m10 0h1m78 0h2m22 0h8M264 419.5h4m6 0h5m3 0h6m9 0h6m4 0h3m2 0h3m1 0h5m5 0h5m4 0h3m6 0h1m7 0h2m3 0h9m2 0h4m2 0h1m10 0h1m1 0h3m17 0h1m2 0h7m3 0h2m1 0h4m8 0h2m3 0h7m1 0h2m1 0h1m2 0h5m4 0h3m17 0h6m1 0h6m1 0h1m34 0h3m2 0h1m58 0h1m1 0h2m2 0h1m19 0h1m10 0h1m2 0h1m3 0h1m1 0h1m2 0h1m1 0h1m55 0h1m39 0h2m3 0h2M223 420.5h1m38 0h1m2 0h2m6 0h6m4 0h3m7 0h1m4 0h6m8 0h2m3 0h2m1 0h2m4 0h5m3 0h3m9 0h1m1 0h1m3 0h2m3 0h9m3 0h6m14 0h1m16 0h11m3 0h2m2 0h3m2 0h3m3 0h10m3 0h3m1 0h5m7 0h1m19 0h10m40 0h2m1 0h1m53 0h1m4 0h1m2 0h2m41 0h1m8 0h1m50 0h1m9 0h2m2 0h1m27 0h1m2 0h1m1 0h3M215 421.5h1m6 0h2m36 0h3m1 0h3m6 0h7m1 0h1m1 0h2m8 0h3m1 0h1m1 0h1m1 0h1m14 0h6m2 0h8m1 0h3m2 0h1m7 0h3m1 0h4m3 0h9m31 0h3m7 0h8m2 0h5m2 0h8m3 0h5m1 0h6m4 0h2m3 0h3m7 0h4m14 0h3m1 0h6m16 0h3m3 0h1m16 0h4m54 0h1m23 0h1m29 0h1m64 0h2m7 0h1m25 0h2m1 0h1M215 422.5h1m44 0h2m4 0h1m5 0h12m10 0h1m3 0h4m6 0h1m8 0h10m1 0h8m10 0h7m3 0h5m1 0h4m29 0h1m1 0h1m1 0h3m7 0h3m2 0h1m1 0h6m3 0h4m1 0h2m3 0h4m12 0h4m1 0h3m1 0h1m5 0h4m14 0h11m15 0h4m20 0h3m1 0h1m50 0h1m7 0h5m32 0h1m10 0h1m64 0h1m39 0h1m9 0h1M232 423.5h1m1 0h2m30 0h1m3 0h14m1 0h3m13 0h1m6 0h1m8 0h3m1 0h1m2 0h1m1 0h1m1 0h1m1 0h7m2 0h1m2 0h1m1 0h1m1 0h7m3 0h10m3 0h1m18 0h2m5 0h1m1 0h1m1 0h3m7 0h4m1 0h8m3 0h4m1 0h2m3 0h4m9 0h2m1 0h7m3 0h1m4 0h1m1 0h1m15 0h10m2 0h1m11 0h6m20 0h3m1 0h1m49 0h2m7 0h6m40 0h2m65 0h1m6 0h1m10 0h1M233 424.5h4m13 0h1m9 0h1m8 0h3m1 0h11m2 0h4m2 0h1m14 0h3m9 0h1m3 0h1m2 0h1m1 0h1m2 0h5m3 0h1m5 0h5m3 0h1m2 0h3m2 0h5m11 0h3m17 0h1m12 0h1m4 0h7m8 0h8m5 0h1m2 0h12m3 0h2m18 0h14m5 0h1m2 0h1m8 0h3m1 0h1m18 0h2m1 0h2m1 0h1m48 0h1m6 0h6m41 0h1m64 0h3M217 425.5h1m17 0h2m14 0h2m7 0h1m6 0h1m5 0h11m1 0h8m16 0h3m12 0h1m1 0h2m6 0h2m3 0h2m1 0h2m3 0h3m3 0h1m3 0h3m1 0h5m3 0h1m7 0h3m8 0h2m12 0h1m7 0h1m4 0h2m2 0h7m5 0h7m2 0h6m1 0h11m3 0h1m1 0h4m12 0h1m1 0h15m13 0h6m1 0h1m1 0h1m1 0h1m3 0h1m1 0h1m8 0h4m28 0h1m14 0h1m15 0h1m1 0h1m2 0h1m39 0h2m26 0h1m3 0h1m2 0h1m21 0h1m1 0h1m5 0h1m1 0h2m41 0h1M235 426.5h2m13 0h2m7 0h2m5 0h1m7 0h9m3 0h9m1 0h1m3 0h1m8 0h1m1 0h2m8 0h3m3 0h3m9 0h4m4 0h2m1 0h1m1 0h4m3 0h8m3 0h4m9 0h1m1 0h1m3 0h1m24 0h5m1 0h5m6 0h4m5 0h20m1 0h7m12 0h7m1 0h6m2 0h1m13 0h7m1 0h1m1 0h1m11 0h1m3 0h5m55 0h1m1 0h5m1 0h1m73 0h1m37 0h2m35 0h1M245 427.5h1m12 0h2m8 0h1m5 0h9m2 0h12m1 0h2m17 0h1m3 0h4m3 0h2m10 0h1m1 0h1m6 0h2m8 0h1m1 0h3m1 0h1m1 0h7m16 0h5m10 0h2m3 0h8m1 0h8m6 0h1m7 0h5m2 0h1m1 0h5m1 0h13m9 0h1m1 0h18m6 0h1m5 0h7m1 0h1m1 0h1m3 0h1m3 0h1m2 0h1m4 0h3m1 0h2m24 0h1m25 0h1m5 0h1m1 0h2m73 0h1m32 0h2m6 0h1M229 428.5h1m21 0h1m6 0h3m7 0h1m5 0h1m1 0h6m3 0h8m3 0h1m3 0h3m3 0h1m8 0h9m5 0h2m8 0h4m11 0h1m3 0h1m1 0h4m6 0h5m3 0h1m3 0h1m7 0h6m10 0h2m3 0h4m2 0h1m1 0h9m2 0h1m9 0h5m5 0h1m3 0h1m1 0h12m13 0h17m7 0h1m5 0h8m5 0h3m6 0h1m4 0h1m23 0h1m36 0h1m106 0h1m1 0h1m1 0h1M229 429.5h2m28 0h1m4 0h1m7 0h1m5 0h6m1 0h8m13 0h1m6 0h3m1 0h4m8 0h1m8 0h1m1 0h3m1 0h1m2 0h1m1 0h1m1 0h1m9 0h4m5 0h9m2 0h1m9 0h5m9 0h1m1 0h1m3 0h5m7 0h4m1 0h1m1 0h1m9 0h5m1 0h1m1 0h3m3 0h17m10 0h12m3 0h1m7 0h1m1 0h1m1 0h9m1 0h2m10 0h3m184 0h1m19 0h1m1 0h1M229 430.5h3m21 0h1m19 0h4m2 0h7m5 0h2m7 0h2m2 0h5m4 0h2m4 0h2m3 0h1m13 0h3m1 0h1m6 0h6m3 0h1m2 0h2m7 0h4m2 0h2m3 0h1m7 0h2m2 0h2m3 0h1m6 0h1m1 0h1m3 0h6m6 0h2m5 0h1m9 0h2m2 0h9m2 0h12m3 0h1m11 0h16m10 0h12m8 0h5m180 0h1M232 431.5h1m32 0h1m7 0h2m5 0h9m2 0h2m11 0h3m1 0h3m3 0h1m5 0h1m1 0h1m10 0h3m2 0h8m3 0h1m4 0h2m2 0h1m12 0h2m3 0h2m8 0h4m8 0h1m11 0h2m2 0h3m2 0h3m2 0h1m5 0h1m14 0h6m4 0h1m7 0h2m5 0h1m11 0h17m1 0h2m3 0h16m2 0h1m3 0h1m1 0h1m40 0h2m1 0h1M232 432.5h1m19 0h1m6 0h2m2 0h1m9 0h2m3 0h3m1 0h12m6 0h1m3 0h3m8 0h1m4 0h2m11 0h2m2 0h3m1 0h1m7 0h1m3 0h8m1 0h1m7 0h1m1 0h2m7 0h2m1 0h3m2 0h2m14 0h1m4 0h2m2 0h2m1 0h1m1 0h1m1 0h1m1 0h3m18 0h10m1 0h1m1 0h1m24 0h10m1 0h11m1 0h16m2 0h1m2 0h1m2 0h1m41 0h1M259 433.5h1m2 0h2m7 0h4m3 0h1m4 0h12m4 0h7m9 0h1m3 0h4m10 0h3m1 0h1m15 0h5m1 0h5m8 0h2m2 0h3m2 0h1m1 0h3m2 0h1m16 0h1m2 0h4m8 0h2m6 0h1m1 0h4m1 0h1m1 0h1m6 0h4m1 0h1m3 0h4m3 0h2m22 0h7m1 0h7m1 0h5m1 0h17m3 0h1m1 0h1m1 0h1m1 0h2m5 0h1m31 0h1m163 0h1M256 434.5h2m14 0h2m6 0h1m3 0h12m2 0h6m1 0h1m9 0h8m6 0h3m5 0h1m15 0h9m1 0h1m9 0h4m3 0h8m4 0h1m10 0h4m3 0h2m9 0h3m5 0h9m6 0h3m4 0h1m3 0h1m3 0h3m22 0h1m1 0h1m5 0h1m2 0h8m2 0h19m1 0h1m1 0h1m1 0h1m10 0h1m29 0h3m1 0h1m157 0h4M231 435.5h3m14 0h2m22 0h2m10 0h10m3 0h3m3 0h1m4 0h3m3 0h14m1 0h4m10 0h1m4 0h1m1 0h1m5 0h7m11 0h3m7 0h5m4 0h2m8 0h3m6 0h3m6 0h3m8 0h8m9 0h1m5 0h1m2 0h1m1 0h4m20 0h1m2 0h1m1 0h1m3 0h2m1 0h5m1 0h3m1 0h1m1 0h17m5 0h1m40 0h1m1 0h1m16 0h1m142 0h2M231 436.5h1m15 0h3m22 0h2m7 0h19m4 0h6m3 0h1m1 0h5m2 0h12m5 0h1m2 0h3m3 0h1m8 0h5m16 0h1m1 0h1m1 0h1m3 0h3m4 0h1m8 0h3m5 0h1m2 0h2m1 0h1m5 0h4m6 0h8m1 0h1m1 0h1m11 0h2m5 0h1m8 0h1m12 0h2m1 0h3m4 0h1m3 0h4m2 0h1m2 0h7m6 0h1m1 0h2m3 0h2m1 0h1m41 0h1m17 0h1m141 0h4M231 437.5h3m15 0h1m20 0h4m1 0h1m7 0h12m1 0h3m6 0h6m1 0h2m9 0h8m1 0h2m5 0h6m5 0h1m6 0h6m23 0h3m3 0h2m8 0h3m8 0h2m6 0h3m1 0h1m6 0h5m46 0h1m2 0h2m1 0h4m1 0h1m13 0h7m4 0h2m1 0h2m6 0h1m2 0h1m8 0h1m29 0h2m16 0h1m143 0h1M252 438.5h2m31 0h9m1 0h3m7 0h4m2 0h4m4 0h1m4 0h12m2 0h1m1 0h5m14 0h3m25 0h6m9 0h3m8 0h1m7 0h2m2 0h3m3 0h6m10 0h1m25 0h3m12 0h1m1 0h2m6 0h2m2 0h1m1 0h1m3 0h6m2 0h3m1 0h1m1 0h1M232 439.5h1m18 0h2m19 0h4m3 0h1m3 0h11m3 0h1m7 0h4m3 0h4m3 0h1m6 0h17m1 0h1m12 0h3m3 0h1m8 0h1m15 0h7m8 0h2m3 0h1m1 0h1m1 0h3m5 0h5m2 0h2m2 0h7m3 0h1m8 0h4m13 0h2m2 0h6m12 0h1m1 0h1m12 0h1m1 0h2m1 0h6m3 0h3m11 0h1m28 0h1M246 440.5h1m3 0h1m9 0h1m11 0h2m1 0h6m1 0h16m5 0h1m2 0h5m2 0h3m10 0h3m1 0h7m1 0h1m1 0h4m13 0h1m4 0h1m5 0h3m1 0h1m3 0h1m11 0h8m12 0h1m1 0h4m3 0h4m1 0h3m1 0h1m1 0h1m4 0h5m3 0h1m8 0h6m3 0h1m7 0h2m5 0h2m1 0h1m11 0h3m14 0h1m2 0h2m1 0h3m1 0h1m12 0h2m1 0h1m5 0h2m22 0h1M259 441.5h3m2 0h1m5 0h25m1 0h1m6 0h1m1 0h7m1 0h3m10 0h2m1 0h1m1 0h2m3 0h1m4 0h7m9 0h1m3 0h2m6 0h1m1 0h2m2 0h2m14 0h6m9 0h8m1 0h4m10 0h2m2 0h5m13 0h2m1 0h1m2 0h1m10 0h1m4 0h4m27 0h1m11 0h1m19 0h5M251 442.5h3m3 0h1m1 0h8m2 0h28m5 0h1m1 0h10m13 0h1m1 0h4m2 0h3m8 0h1m1 0h1m9 0h6m3 0h7m1 0h1m14 0h8m3 0h6m1 0h5m4 0h1m7 0h2m2 0h3m1 0h2m1 0h1m8 0h2m7 0h4m1 0h1m56 0h1m12 0h2m1 0h1m4 0h6m26 0h1M249 443.5h1m2 0h1m6 0h1m1 0h6m2 0h12m1 0h14m4 0h3m1 0h4m3 0h3m10 0h1m1 0h6m13 0h2m1 0h1m1 0h1m8 0h5m3 0h3m1 0h3m17 0h5m1 0h1m3 0h10m10 0h5m2 0h4m2 0h1m3 0h3m5 0h3m2 0h9m4 0h1m16 0h1m35 0h1m11 0h1m8 0h2m27 0h2m1 0h1M245 444.5h1m3 0h4m9 0h3m2 0h1m1 0h12m6 0h9m6 0h1m2 0h3m1 0h4m11 0h5m3 0h1m4 0h1m7 0h2m1 0h1m1 0h1m8 0h5m2 0h9m16 0h3m1 0h1m1 0h1m3 0h5m2 0h2m12 0h9m6 0h4m9 0h8m1 0h1m3 0h3m62 0h3m8 0h1m1 0h1m1 0h1M249 445.5h2m1 0h1m10 0h4m2 0h12m6 0h2m1 0h5m4 0h1m5 0h1m1 0h1m1 0h3m12 0h5m17 0h1m1 0h2m8 0h4m1 0h1m3 0h8m11 0h3m4 0h1m1 0h1m7 0h1m1 0h3m13 0h5m1 0h4m5 0h7m1 0h1m4 0h9m6 0h1m5 0h1m46 0h1m1 0h1m9 0h4m4 0h1m1 0h1m16 0h1m1 0h1M251 446.5h2m11 0h1m4 0h8m6 0h1m5 0h1m1 0h4m4 0h1m5 0h8m3 0h3m5 0h3m1 0h1m9 0h2m9 0h2m6 0h4m5 0h9m1 0h1m3 0h1m1 0h1m2 0h4m6 0h1m8 0h4m6 0h3m4 0h8m6 0h3m3 0h5m3 0h8m6 0h1m1 0h3m1 0h1m8 0h3m7 0h1m4 0h2m24 0h1m19 0h1m6 0h1m8 0h1m1 0h1M242 447.5h2m8 0h1m16 0h1m2 0h6m3 0h3m8 0h4m11 0h6m14 0h2m9 0h2m10 0h2m6 0h2m3 0h2m2 0h8m1 0h1m8 0h5m8 0h1m3 0h2m2 0h2m5 0h3m5 0h4m9 0h3m5 0h4m2 0h2m1 0h6m6 0h1m1 0h5m9 0h2m4 0h1m2 0h1m1 0h2m1 0h2m25 0h2m12 0h1m14 0h1m3 0h1m1 0h1m1 0h1m69 0h1m108 0h1M236 448.5h1m1 0h1m30 0h1m1 0h1m1 0h1m1 0h1m11 0h2m4 0h4m10 0h5m6 0h3m7 0h2m8 0h2m10 0h1m11 0h3m6 0h2m1 0h1m1 0h1m3 0h2m1 0h1m3 0h3m2 0h1m5 0h1m3 0h6m3 0h1m3 0h2m3 0h8m4 0h1m2 0h2m6 0h2m7 0h5m6 0h1m2 0h2m1 0h1m17 0h1m3 0h1m1 0h2m16 0h1m9 0h1m12 0h1m16 0h1m1 0h1m181 0h2m7 0h1m1 0h1M232 449.5h1m5 0h1m30 0h5m1 0h1m7 0h1m1 0h5m1 0h6m4 0h1m1 0h1m3 0h6m6 0h2m11 0h1m8 0h1m9 0h1m21 0h4m6 0h3m1 0h5m7 0h3m1 0h1m11 0h1m3 0h11m2 0h1m1 0h1m1 0h1m2 0h2m6 0h1m4 0h5m5 0h1m23 0h2m5 0h3m19 0h1m2 0h1m2 0h1m12 0h1m18 0h2m1 0h1m16 0h1m161 0h1M269 450.5h3m12 0h8m5 0h1m1 0h3m1 0h1m5 0h1m1 0h1m6 0h5m18 0h1m1 0h3m5 0h3m13 0h1m4 0h6m3 0h1m1 0h3m3 0h3m3 0h3m1 0h1m3 0h2m10 0h2m3 0h1m1 0h6m6 0h3m2 0h2m4 0h3m1 0h1m1 0h5m8 0h1m8 0h1m7 0h2m4 0h2m6 0h2m23 0h2m31 0h1m2 0h1m55 0h2m111 0h1m6 0h1m2 0h2m6 0h1m1 0h1M250 451.5h2m9 0h1m7 0h3m10 0h5m2 0h3m6 0h4m9 0h3m3 0h4m1 0h1m1 0h1m15 0h4m1 0h2m3 0h4m11 0h7m1 0h3m1 0h1m4 0h4m4 0h10m3 0h2m11 0h1m3 0h1m1 0h6m3 0h1m7 0h3m3 0h11m8 0h1m7 0h1m8 0h3m5 0h1m7 0h1m16 0h2m19 0h2m2 0h1m16 0h1m55 0h1m132 0h1m4 0h1M251 452.5h1m9 0h1m7 0h3m12 0h1m13 0h3m11 0h3m1 0h5m2 0h3m15 0h1m4 0h1m4 0h1m1 0h2m9 0h9m1 0h1m2 0h3m1 0h1m1 0h3m5 0h1m3 0h3m18 0h1m3 0h7m12 0h3m3 0h8m10 0h1m7 0h8m1 0h6m3 0h2m6 0h2m22 0h1m13 0h1m18 0h1m45 0h1m2 0h2m5 0h3m44 0h2m74 0h1m8 0h3m2 0h1M261 453.5h2m2 0h1m3 0h7m20 0h5m10 0h9m4 0h4m13 0h1m8 0h3m8 0h11m6 0h2m6 0h1m7 0h2m3 0h2m4 0h5m7 0h1m5 0h3m6 0h1m3 0h1m2 0h4m6 0h3m11 0h2m10 0h7m7 0h1m1 0h1m5 0h1m1 0h1m20 0h2m12 0h2m18 0h1m2 0h1m45 0h1m5 0h4m130 0h1M262 454.5h3m8 0h3m4 0h1m16 0h4m1 0h2m3 0h1m6 0h6m4 0h6m9 0h3m2 0h1m17 0h13m1 0h4m1 0h1m4 0h5m5 0h1m3 0h1m2 0h1m1 0h5m4 0h4m5 0h2m7 0h2m6 0h4m5 0h2m11 0h3m9 0h9m37 0h2m18 0h2m12 0h1m54 0h1m2 0h1m48 0h1m3 0h1m64 0h1M261 455.5h3m1 0h2m6 0h3m9 0h3m9 0h5m1 0h1m3 0h3m4 0h7m3 0h8m7 0h1m11 0h5m6 0h1m1 0h11m1 0h3m7 0h1m3 0h3m1 0h1m6 0h7m1 0h1m1 0h3m8 0h2m3 0h1m5 0h1m2 0h2m3 0h4m4 0h5m20 0h14m1 0h2m2 0h1m1 0h1m1 0h1m20 0h4m31 0h2m1 0h1m43 0h2m7 0h2m138 0h1M267 456.5h1m5 0h1m1 0h1m3 0h2m5 0h6m6 0h2m1 0h1m1 0h3m3 0h1m2 0h10m1 0h10m5 0h2m1 0h3m7 0h2m2 0h1m4 0h23m6 0h4m3 0h2m5 0h5m1 0h1m1 0h4m8 0h5m7 0h1m6 0h2m4 0h7m3 0h1m19 0h13m3 0h2m10 0h1m11 0h3m3 0h5m22 0h1m2 0h1m1 0h2m1 0h1m1 0h1m103 0h1m65 0h1m4 0h1M266 457.5h4m1 0h3m1 0h1m3 0h1m6 0h5m1 0h1m5 0h2m1 0h6m1 0h12m3 0h10m6 0h1m2 0h2m4 0h6m6 0h13m1 0h9m7 0h3m3 0h1m7 0h4m1 0h1m1 0h3m9 0h4m9 0h2m10 0h1m1 0h1m1 0h3m1 0h3m1 0h2m15 0h14m4 0h2m9 0h3m9 0h3m2 0h2m1 0h3m22 0h1m3 0h1m2 0h3m1 0h1m99 0h1m1 0h1m82 0h2M266 458.5h10m10 0h6m1 0h4m1 0h1m3 0h5m3 0h10m3 0h10m5 0h2m3 0h1m3 0h7m6 0h11m1 0h1m1 0h9m5 0h7m6 0h1m1 0h6m3 0h1m12 0h2m1 0h1m1 0h2m2 0h4m9 0h4m7 0h5m20 0h7m6 0h1m8 0h5m5 0h6m6 0h3m19 0h2m1 0h1m7 0h2m83 0h1m90 0h1m1 0h1m9 0h2m2 0h2M264 459.5h1m1 0h4m2 0h1m2 0h1m9 0h7m1 0h3m2 0h1m2 0h6m1 0h11m3 0h1m1 0h6m7 0h2m4 0h3m2 0h7m5 0h1m1 0h1m1 0h9m2 0h6m1 0h2m2 0h6m1 0h3m3 0h10m1 0h3m15 0h1m1 0h7m10 0h3m2 0h1m3 0h1m1 0h5m19 0h7m6 0h1m9 0h1m1 0h1m5 0h1m3 0h3m7 0h1m21 0h3m1 0h1m4 0h1m76 0h1m30 0h1m69 0h2m2 0h1m11 0h3M264 460.5h1m1 0h1m1 0h3m1 0h2m1 0h1m9 0h1m1 0h7m7 0h5m1 0h15m4 0h4m14 0h10m4 0h11m1 0h3m2 0h4m3 0h10m1 0h1m3 0h3m1 0h1m1 0h9m8 0h1m5 0h10m11 0h6m5 0h3m17 0h2m1 0h7m7 0h1m1 0h1m7 0h1m3 0h1m3 0h1m2 0h5m6 0h1m21 0h3m58 0h1m50 0h2m11 0h2m60 0h2m1 0h1m3 0h1m5 0h1m2 0h2m3 0h1m1 0h1M262 461.5h3m1 0h4m1 0h5m11 0h5m3 0h1m6 0h3m2 0h5m4 0h1m1 0h4m5 0h4m13 0h1m1 0h7m1 0h1m5 0h7m2 0h3m3 0h6m3 0h4m5 0h2m2 0h3m4 0h3m1 0h1m1 0h2m15 0h1m1 0h1m1 0h5m3 0h1m6 0h3m3 0h1m5 0h2m2 0h3m14 0h9m2 0h2m7 0h1m5 0h1m4 0h2m1 0h2m1 0h4m29 0h3m2 0h1m84 0h2m5 0h1m7 0h1m77 0h1m4 0h1m3 0h2m16 0h2M263 462.5h1m1 0h11m11 0h3m1 0h2m1 0h1m1 0h1m3 0h4m3 0h2m3 0h1m2 0h7m1 0h1m1 0h1m1 0h1m1 0h3m14 0h6m3 0h2m3 0h12m5 0h1m3 0h1m2 0h3m6 0h1m1 0h4m7 0h1m2 0h2m3 0h1m3 0h3m4 0h1m1 0h1m4 0h1m1 0h2m3 0h1m7 0h1m3 0h1m6 0h9m12 0h2m2 0h8m3 0h1m4 0h2m8 0h3m4 0h6m1 0h1m1 0h1m22 0h2m3 0h1m83 0h1m1 0h1m5 0h2m13 0h1m69 0h1m11 0h1m16 0h1M264 463.5h13m14 0h2m2 0h1m11 0h1m8 0h2m5 0h4m7 0h1m7 0h3m3 0h4m3 0h2m4 0h11m1 0h1m3 0h5m2 0h3m5 0h4m12 0h1m1 0h1m1 0h4m2 0h2m18 0h3m4 0h4m8 0h11m15 0h1m3 0h3m4 0h1m3 0h4m8 0h2m4 0h8m25 0h2m87 0h1m86 0h2m15 0h1m13 0h2m2 0h2m1 0h2M266 464.5h12m6 0h1m6 0h3m18 0h2m1 0h3m12 0h3m9 0h2m2 0h1m4 0h1m3 0h3m5 0h2m5 0h3m1 0h1m2 0h6m1 0h3m3 0h6m12 0h3m1 0h5m15 0h1m5 0h3m4 0h3m8 0h11m26 0h3m2 0h5m6 0h3m5 0h10m2 0h3m104 0h3m85 0h2m5 0h1m8 0h3M268 465.5h4m3 0h3m6 0h1m7 0h2m1 0h1m3 0h3m1 0h1m3 0h1m5 0h2m1 0h3m11 0h5m15 0h1m1 0h1m1 0h5m1 0h1m2 0h2m7 0h12m1 0h1m4 0h6m12 0h11m18 0h4m1 0h1m1 0h5m6 0h5m1 0h7m17 0h1m7 0h3m2 0h3m1 0h1m6 0h4m4 0h15m101 0h1m2 0h3m6 0h1m16 0h1m61 0h1m4 0h1m1 0h1m1 0h2m5 0h2m1 0h1m11 0h1m1 0h1M269 466.5h2m1 0h1m1 0h2m8 0h2m7 0h8m1 0h4m8 0h1m1 0h2m10 0h8m4 0h1m11 0h12m8 0h1m1 0h9m2 0h1m1 0h1m2 0h4m2 0h1m1 0h1m11 0h1m2 0h7m4 0h2m10 0h3m7 0h2m7 0h1m1 0h1m1 0h1m4 0h4m6 0h2m14 0h2m2 0h3m3 0h1m8 0h4m6 0h5m2 0h4m27 0h1m48 0h1m26 0h1m1 0h2m1 0h1m4 0h2m8 0h1m71 0h1m4 0h2m2 0h1m3 0h1m1 0h5m7 0h2m1 0h1m1 0h2m5 0h1M269 467.5h3m1 0h4m3 0h3m1 0h3m3 0h1m1 0h14m1 0h1m4 0h1m3 0h4m1 0h1m5 0h3m1 0h11m6 0h1m1 0h1m1 0h2m2 0h7m3 0h1m7 0h9m3 0h9m1 0h3m15 0h1m1 0h4m3 0h3m9 0h3m7 0h4m6 0h3m7 0h2m1 0h1m4 0h1m1 0h2m13 0h2m1 0h1m1 0h1m4 0h1m8 0h5m1 0h1m5 0h2m1 0h6m4 0h2m97 0h1m1 0h1m9 0h1m39 0h1m44 0h1m1 0h2m3 0h8m2 0h2m2 0h2m4 0h1m6 0h2M270 468.5h7m4 0h1m3 0h6m1 0h6m1 0h2m1 0h4m1 0h1m1 0h1m1 0h3m14 0h12m4 0h3m5 0h2m5 0h4m1 0h3m5 0h8m6 0h9m2 0h4m11 0h1m2 0h12m7 0h3m1 0h1m4 0h1m3 0h2m16 0h2m1 0h1m8 0h1m1 0h4m18 0h2m5 0h6m11 0h3m116 0h1m14 0h1m8 0h2m1 0h1m5 0h4m8 0h1m40 0h1m2 0h1m5 0h7m1 0h2m1 0h1m1 0h1m12 0h1M270 469.5h8m4 0h3m1 0h15m2 0h3m4 0h9m9 0h1m1 0h1m1 0h8m3 0h1m7 0h2m7 0h1m4 0h2m6 0h5m1 0h1m6 0h9m3 0h5m1 0h1m2 0h1m1 0h1m1 0h1m1 0h1m1 0h7m1 0h4m1 0h1m9 0h1m4 0h1m1 0h1m2 0h2m18 0h1m4 0h1m3 0h4m20 0h4m8 0h2m3 0h4m2 0h3m2 0h1m1 0h3m10 0h1m1 0h1m12 0h1m99 0h1m7 0h3m7 0h4m2 0h2m5 0h1m3 0h1m8 0h1m33 0h1m1 0h7m6 0h4m9 0h3M271 470.5h2m1 0h5m5 0h1m1 0h1m1 0h2m1 0h1m1 0h13m3 0h8m2 0h1m6 0h1m1 0h12m1 0h1m2 0h1m6 0h2m6 0h1m5 0h4m1 0h7m2 0h1m5 0h12m3 0h2m6 0h3m3 0h8m4 0h3m9 0h3m2 0h1m5 0h1m27 0h3m1 0h4m15 0h5m20 0h3m3 0h2m26 0h1m93 0h2m3 0h1m18 0h8m45 0h3m2 0h10m5 0h2m1 0h3m3 0h1m1 0h1m3 0h1m1 0h1M273 471.5h1m1 0h5m2 0h10m1 0h1m2 0h21m1 0h2m4 0h4m1 0h16m5 0h3m13 0h11m8 0h4m5 0h3m5 0h3m11 0h3m1 0h1m5 0h1m13 0h2m3 0h1m11 0h1m18 0h3m4 0h1m15 0h5m11 0h4m1 0h1m3 0h1m1 0h1m3 0h4m3 0h1m19 0h1m1 0h1m92 0h1m6 0h1m16 0h9m20 0h1m21 0h3m3 0h1m1 0h3m1 0h2m1 0h4m4 0h5m10 0h2M273 472.5h8m1 0h10m3 0h9m2 0h9m11 0h8m2 0h3m3 0h4m4 0h1m10 0h1m5 0h2m1 0h5m11 0h2m7 0h2m19 0h1m1 0h1m21 0h2m15 0h2m4 0h1m1 0h1m12 0h2m11 0h1m25 0h2m3 0h1m1 0h3m3 0h3m26 0h1m97 0h2m19 0h2m47 0h1m1 0h2m2 0h7m2 0h2m6 0h7m5 0h2m2 0h1M273 473.5h1m1 0h1m1 0h2m3 0h2m2 0h7m3 0h7m3 0h8m12 0h8m2 0h3m2 0h6m5 0h1m1 0h2m3 0h3m4 0h2m3 0h4m2 0h2m16 0h2m57 0h6m18 0h3m9 0h2m7 0h1m3 0h2m2 0h2m7 0h3m5 0h1m4 0h3m4 0h2m11 0h1m178 0h4m1 0h8m6 0h1m2 0h13m2 0h4M273 474.5h3m2 0h1m7 0h7m2 0h9m2 0h9m3 0h1m7 0h7m3 0h2m17 0h2m2 0h3m4 0h4m1 0h6m18 0h2m40 0h1m15 0h1m2 0h2m17 0h2m1 0h4m13 0h1m3 0h1m3 0h3m2 0h2m6 0h2m4 0h3m11 0h3m18 0h2m74 0h1m28 0h1m1 0h1m55 0h1m6 0h1m1 0h3m1 0h11m3 0h1m2 0h12M273 475.5h3m11 0h1m1 0h4m2 0h7m1 0h2m1 0h3m2 0h3m4 0h1m3 0h2m2 0h2m8 0h2m1 0h2m14 0h2m2 0h2m5 0h10m9 0h1m3 0h3m30 0h1m30 0h5m15 0h1m1 0h1m22 0h2m3 0h6m7 0h2m6 0h1m11 0h3m18 0h2m94 0h1m35 0h1m30 0h1m1 0h2m3 0h1m1 0h1m3 0h6m3 0h1m6 0h10m1 0h4m1 0h2M273 476.5h3m14 0h6m2 0h7m1 0h2m5 0h1m3 0h2m3 0h1m4 0h4m8 0h1m15 0h1m4 0h3m3 0h1m1 0h8m2 0h1m3 0h1m2 0h3m53 0h1m12 0h4m2 0h4m1 0h1m5 0h1m1 0h1m1 0h1m1 0h1m9 0h1m7 0h2m1 0h3m2 0h5m6 0h1m1 0h1m7 0h1m10 0h5m3 0h1m3 0h1m82 0h2m21 0h1m4 0h1m29 0h2m32 0h2m7 0h1m1 0h10m6 0h1m1 0h10m1 0h7M274 477.5h1m6 0h1m7 0h6m3 0h1m2 0h9m7 0h2m2 0h4m1 0h1m1 0h4m1 0h2m6 0h1m9 0h1m10 0h1m1 0h1m1 0h9m3 0h6m1 0h3m3 0h1m49 0h2m13 0h1m3 0h4m7 0h5m12 0h1m1 0h1m2 0h1m1 0h1m2 0h1m4 0h5m18 0h1m9 0h5m2 0h1m1 0h3m21 0h1m12 0h2m46 0h2m20 0h1m32 0h1m2 0h2m32 0h3m8 0h1m1 0h8m9 0h9m1 0h2m2 0h5M289 478.5h6m5 0h3m2 0h6m2 0h2m5 0h3m6 0h6m19 0h1m7 0h3m2 0h1m1 0h3m2 0h1m1 0h8m2 0h2m68 0h3m1 0h4m6 0h2m1 0h3m1 0h2m9 0h5m2 0h1m7 0h6m30 0h1m1 0h1m1 0h1m1 0h1m8 0h1m27 0h1m1 0h1m102 0h2m33 0h3m8 0h1m1 0h8m10 0h4m1 0h3m1 0h6m2 0h1M274 479.5h1m1 0h1m2 0h1m1 0h2m5 0h7m7 0h8m3 0h2m4 0h5m1 0h1m3 0h8m26 0h11m1 0h1m1 0h1m3 0h1m1 0h1m1 0h3m73 0h2m3 0h1m5 0h3m2 0h3m8 0h1m1 0h4m5 0h1m3 0h6m8 0h1m167 0h1m2 0h1m28 0h1m4 0h1m12 0h8m1 0h1m3 0h1m4 0h1m1 0h1m1 0h14m1 0h3M274 480.5h1m5 0h2m7 0h1m1 0h1m1 0h1m11 0h6m1 0h4m3 0h5m1 0h1m1 0h1m2 0h6m1 0h1m8 0h1m7 0h3m6 0h5m1 0h1m1 0h7m1 0h1m6 0h3m56 0h3m10 0h1m1 0h1m1 0h6m2 0h1m1 0h4m1 0h4m3 0h1m2 0h8m5 0h1m1 0h1m2 0h4m4 0h1m1 0h1m17 0h1m80 0h1m107 0h1m9 0h1m2 0h1m1 0h8m3 0h1m9 0h13m1 0h4M274 481.5h1m5 0h2m5 0h2m11 0h1m1 0h9m1 0h3m4 0h7m3 0h10m3 0h2m1 0h2m7 0h3m3 0h1m3 0h6m7 0h1m1 0h1m1 0h1m1 0h1m2 0h2m1 0h4m30 0h1m20 0h5m9 0h3m4 0h3m2 0h1m1 0h1m7 0h3m1 0h5m1 0h6m3 0h4m6 0h1m2 0h2m1 0h1m1 0h1m1 0h1m7 0h4m4 0h1m149 0h1m34 0h1m1 0h1m4 0h1m3 0h15m1 0h1m8 0h18M274 482.5h1m4 0h2m2 0h1m1 0h1m14 0h8m2 0h7m3 0h8m1 0h1m1 0h1m1 0h6m2 0h6m6 0h4m2 0h1m4 0h2m3 0h1m5 0h8m1 0h8m4 0h2m45 0h3m1 0h1m17 0h3m2 0h2m6 0h1m1 0h1m1 0h1m1 0h1m1 0h1m3 0h7m3 0h3m7 0h6m4 0h2m4 0h4m18 0h1m130 0h1m39 0h1m1 0h1m2 0h1m3 0h2m2 0h4m1 0h9m1 0h1m8 0h1m1 0h19M274 483.5h8m2 0h1m2 0h1m13 0h8m3 0h5m3 0h6m1 0h1m1 0h1m3 0h6m4 0h4m6 0h8m5 0h4m3 0h2m1 0h2m1 0h1m1 0h14m48 0h3m2 0h6m5 0h1m1 0h1m3 0h2m4 0h1m4 0h6m4 0h1m3 0h2m3 0h3m1 0h2m8 0h1m3 0h3m3 0h3m5 0h3m7 0h1m10 0h1m77 0h1m26 0h2m1 0h1m10 0h1m17 0h1m34 0h2m3 0h1m1 0h1m4 0h1m2 0h3m1 0h8m9 0h19M274 484.5h8m21 0h10m1 0h3m4 0h2m4 0h1m3 0h1m1 0h1m1 0h5m1 0h1m2 0h1m1 0h1m3 0h12m4 0h4m4 0h3m4 0h11m3 0h1m49 0h1m1 0h3m3 0h3m5 0h1m4 0h2m7 0h3m7 0h2m13 0h1m11 0h4m3 0h2m6 0h2m19 0h2m77 0h1m27 0h1m9 0h1m2 0h2m1 0h1m12 0h1m34 0h2m1 0h2m6 0h6m1 0h9m10 0h21M274 485.5h8m18 0h4m1 0h8m5 0h1m8 0h3m1 0h2m4 0h4m2 0h1m8 0h2m1 0h6m6 0h3m2 0h2m7 0h3m3 0h6m35 0h1m17 0h4m10 0h2m5 0h1m7 0h3m8 0h1m4 0h1m7 0h2m12 0h3m1 0h4m7 0h3m3 0h3m2 0h1m8 0h2m104 0h1m7 0h1m1 0h1m6 0h2m46 0h6m3 0h1m1 0h8m1 0h5m1 0h1m8 0h21m1 0h1m1 0h1m1 0h1M275 486.5h4m10 0h2m2 0h1m7 0h1m2 0h10m4 0h2m7 0h2m2 0h3m4 0h7m1 0h1m3 0h4m4 0h4m6 0h2m1 0h1m1 0h1m7 0h3m6 0h2m3 0h1m48 0h8m3 0h3m2 0h1m1 0h1m13 0h1m19 0h1m18 0h1m1 0h4m1 0h1m5 0h2m9 0h2m57 0h1m1 0h3m9 0h1m13 0h1m37 0h1m6 0h2m48 0h5m4 0h5m1 0h3m1 0h6m5 0h5m1 0h20m1 0h3M275 487.5h4m10 0h5m6 0h2m4 0h1m2 0h1m1 0h3m4 0h2m7 0h1m4 0h2m4 0h3m1 0h5m1 0h1m3 0h1m2 0h2m1 0h3m6 0h1m4 0h3m5 0h1m41 0h1m3 0h1m17 0h1m1 0h1m1 0h1m2 0h2m4 0h7m3 0h1m4 0h1m4 0h1m1 0h1m8 0h4m4 0h1m5 0h2m9 0h2m2 0h3m8 0h5m8 0h2m55 0h3m60 0h1m9 0h1m11 0h1m37 0h5m5 0h1m1 0h2m1 0h10m5 0h1m1 0h23m1 0h4M275 488.5h3m22 0h2m1 0h3m5 0h1m1 0h2m9 0h1m1 0h1m7 0h2m2 0h3m3 0h3m3 0h1m1 0h7m1 0h2m3 0h3m3 0h7m8 0h2m38 0h1m17 0h5m2 0h2m4 0h8m2 0h1m3 0h1m3 0h4m9 0h3m14 0h4m4 0h3m1 0h1m4 0h3m4 0h1m1 0h2m9 0h3m51 0h7m9 0h2m45 0h1m1 0h1m10 0h1m1 0h2m44 0h6m7 0h2m1 0h10m1 0h1m3 0h1m1 0h23m1 0h4M275 489.5h1m5 0h1m1 0h1m16 0h3m1 0h1m6 0h1m1 0h1m1 0h1m2 0h5m1 0h1m9 0h2m3 0h2m2 0h4m5 0h10m4 0h3m2 0h7m7 0h1m3 0h1m3 0h2m24 0h3m5 0h1m16 0h3m14 0h12m1 0h6m6 0h1m1 0h4m10 0h1m2 0h4m3 0h5m13 0h3m9 0h5m16 0h1m31 0h3m3 0h1m10 0h1m48 0h1m9 0h1m2 0h1m47 0h4m11 0h10m2 0h1m1 0h5m1 0h19m1 0h4m18 0h1m2 0h3M281 490.5h1m18 0h6m4 0h2m1 0h2m3 0h3m1 0h1m12 0h1m3 0h8m2 0h14m3 0h2m3 0h5m1 0h1m7 0h1m1 0h1m1 0h1m29 0h2m21 0h6m9 0h1m3 0h5m3 0h3m1 0h7m10 0h1m13 0h6m3 0h5m8 0h1m1 0h1m1 0h3m9 0h6m7 0h1m38 0h1m2 0h1m3 0h1m1 0h1m55 0h2m13 0h1m6 0h3m1 0h1m2 0h1m31 0h4m3 0h1m6 0h1m2 0h44m3 0h1m1 0h1m12 0h1m1 0h3M283 491.5h1m16 0h6m3 0h6m4 0h1m1 0h1m12 0h1m6 0h6m2 0h1m7 0h2m7 0h2m1 0h1m1 0h6m14 0h1m27 0h4m20 0h1m2 0h1m14 0h1m1 0h1m3 0h13m1 0h1m6 0h1m7 0h1m3 0h3m1 0h7m4 0h3m2 0h2m5 0h5m10 0h7m8 0h1m5 0h1m30 0h1m2 0h1m58 0h1m3 0h1m8 0h1m14 0h1m1 0h1m28 0h1m7 0h2m9 0h15m1 0h7m1 0h3m1 0h19m1 0h2m5 0h1m5 0h2m2 0h5m2 0h1M277 492.5h1m1 0h1m1 0h3m1 0h3m11 0h8m1 0h10m3 0h1m12 0h2m4 0h6m3 0h3m4 0h1m8 0h2m1 0h10m11 0h3m28 0h3m35 0h1m3 0h2m5 0h1m1 0h8m9 0h1m1 0h1m1 0h1m4 0h1m4 0h8m4 0h3m4 0h1m1 0h1m4 0h3m11 0h7m6 0h1m1 0h1m5 0h1m31 0h2m84 0h1m1 0h1m1 0h4m1 0h1m1 0h1m22 0h1m3 0h1m3 0h2m9 0h51m1 0h1m2 0h2m1 0h2m1 0h1m3 0h6M281 493.5h7m10 0h1m1 0h5m2 0h3m1 0h1m2 0h3m4 0h3m3 0h3m3 0h2m3 0h8m4 0h2m4 0h1m9 0h11m2 0h2m10 0h1m28 0h3m25 0h1m11 0h1m10 0h8m5 0h1m5 0h1m1 0h1m8 0h11m11 0h1m4 0h2m12 0h6m7 0h1m1 0h1m37 0h2m18 0h2m48 0h2m1 0h1m11 0h1m3 0h1m2 0h2m27 0h1m10 0h1m3 0h1m1 0h14m1 0h36m3 0h20M281 494.5h3m14 0h6m2 0h8m1 0h2m4 0h1m1 0h1m3 0h1m11 0h7m8 0h1m1 0h1m9 0h1m1 0h8m2 0h4m13 0h1m26 0h2m26 0h1m9 0h1m12 0h1m9 0h2m8 0h1m5 0h2m1 0h17m138 0h3m5 0h1m3 0h1m14 0h1m2 0h1m27 0h1m2 0h1m5 0h2m2 0h1m2 0h31m2 0h1m1 0h40M281 495.5h2m14 0h3m1 0h2m3 0h7m4 0h1m1 0h1m1 0h1m1 0h1m5 0h1m8 0h4m1 0h4m4 0h4m7 0h1m3 0h4m1 0h4m5 0h1m1 0h2m2 0h1m44 0h1m17 0h3m4 0h1m2 0h2m13 0h1m4 0h1m3 0h2m12 0h4m1 0h18m35 0h1m100 0h1m1 0h3m22 0h1m3 0h1m2 0h2m29 0h1m4 0h1m1 0h2m1 0h76m6 0h2M279 496.5h1m17 0h7m5 0h2m5 0h2m1 0h3m1 0h1m8 0h1m1 0h1m1 0h1m1 0h1m1 0h6m5 0h2m5 0h2m3 0h5m1 0h8m3 0h3m5 0h3m59 0h3m9 0h1m1 0h1m15 0h5m12 0h14m1 0h1m2 0h5m29 0h1m13 0h1m19 0h2m71 0h6m1 0h1m27 0h1m32 0h13m1 0h8m1 0h16m2 0h43M279 497.5h3m15 0h2m1 0h3m1 0h1m3 0h4m5 0h2m2 0h1m1 0h2m7 0h4m2 0h9m3 0h3m5 0h2m1 0h1m2 0h5m1 0h6m6 0h1m5 0h3m12 0h1m45 0h3m9 0h1m8 0h1m1 0h1m7 0h3m3 0h1m11 0h16m1 0h6m9 0h1m2 0h1m15 0h1m13 0h1m94 0h3m66 0h1m3 0h15m1 0h15m3 0h44m2 0h2m1 0h1M280 498.5h4m14 0h7m4 0h1m4 0h1m5 0h1m1 0h3m8 0h4m1 0h13m1 0h1m5 0h4m2 0h2m7 0h6m8 0h4m12 0h2m28 0h1m14 0h4m16 0h2m11 0h3m7 0h1m7 0h1m1 0h1m1 0h8m1 0h1m3 0h5m4 0h3m5 0h1m2 0h4m3 0h1m18 0h1m96 0h1m21 0h1m40 0h1m1 0h2m4 0h1m1 0h27m1 0h2m3 0h45m2 0h1M281 499.5h3m1 0h1m12 0h3m1 0h3m3 0h1m5 0h3m3 0h1m1 0h1m1 0h1m1 0h1m5 0h4m3 0h3m2 0h10m32 0h4m12 0h1m1 0h1m13 0h1m29 0h4m8 0h1m6 0h1m1 0h3m2 0h3m14 0h1m8 0h2m1 0h11m2 0h5m5 0h1m7 0h1m1 0h1m3 0h4m14 0h2m9 0h1m17 0h1m18 0h1m51 0h1m31 0h1m41 0h6m1 0h21m1 0h1m1 0h3m2 0h45M281 500.5h5m12 0h3m2 0h1m4 0h1m6 0h1m4 0h3m3 0h1m5 0h4m4 0h1m4 0h2m2 0h3m1 0h1m15 0h1m12 0h2m4 0h1m1 0h4m1 0h1m6 0h1m13 0h1m1 0h2m27 0h4m4 0h2m3 0h1m4 0h12m1 0h1m11 0h2m9 0h1m1 0h6m2 0h2m3 0h5m4 0h1m14 0h1m2 0h1m3 0h1m8 0h5m24 0h2m1 0h1m17 0h1m125 0h3m1 0h2m1 0h11m1 0h8m3 0h1m6 0h7m1 0h33m1 0h1M282 501.5h3m13 0h3m2 0h2m3 0h1m10 0h4m3 0h3m2 0h5m10 0h1m2 0h3m14 0h1m2 0h3m5 0h7m7 0h4m13 0h1m8 0h2m10 0h1m9 0h1m9 0h1m4 0h2m3 0h2m3 0h15m21 0h15m1 0h2m16 0h1m2 0h1m1 0h1m1 0h2m13 0h1m1 0h2m46 0h1m74 0h1m39 0h1m14 0h23m1 0h5m5 0h3m1 0h37M282 502.5h2m14 0h3m7 0h1m1 0h1m8 0h2m4 0h6m2 0h1m12 0h1m1 0h1m16 0h1m3 0h3m5 0h5m3 0h4m1 0h1m3 0h2m3 0h1m5 0h1m10 0h1m36 0h3m2 0h2m3 0h11m2 0h3m4 0h1m17 0h4m3 0h15m1 0h3m1 0h1m8 0h3m16 0h6m41 0h2m1 0h4m90 0h1m35 0h1m1 0h19m1 0h1m2 0h2m1 0h1m6 0h37m4 0h1M283 503.5h4m12 0h3m1 0h1m4 0h2m3 0h1m5 0h2m3 0h8m14 0h1m1 0h1m1 0h1m13 0h2m4 0h3m3 0h5m4 0h3m5 0h1m22 0h1m29 0h1m6 0h2m7 0h8m1 0h3m2 0h6m1 0h1m25 0h10m1 0h1m2 0h1m1 0h3m10 0h3m14 0h6m41 0h1m95 0h3m31 0h1m2 0h1m1 0h1m2 0h19m1 0h3m6 0h1m2 0h1m1 0h27m1 0h6M283 504.5h11m7 0h1m5 0h1m14 0h2m1 0h1m2 0h3m17 0h1m1 0h1m19 0h3m2 0h6m2 0h2m1 0h5m8 0h2m43 0h3m7 0h1m8 0h1m1 0h5m2 0h2m2 0h1m1 0h1m2 0h1m13 0h2m11 0h11m2 0h1m5 0h1m7 0h1m1 0h3m4 0h1m8 0h1m2 0h6m16 0h1m66 0h2m85 0h3m2 0h3m1 0h8m1 0h6m1 0h2m2 0h2m2 0h4m5 0h36m2 0h1M285 505.5h3m1 0h5m24 0h1m3 0h3m4 0h3m19 0h1m3 0h3m13 0h5m1 0h1m1 0h1m3 0h1m3 0h1m3 0h1m8 0h1m43 0h3m7 0h1m8 0h7m2 0h2m2 0h3m2 0h2m6 0h2m4 0h1m13 0h9m1 0h1m4 0h1m9 0h7m12 0h1m5 0h2m23 0h1m145 0h9m1 0h8m1 0h8m1 0h5m1 0h1m1 0h1m1 0h1m3 0h1m1 0h40M285 506.5h2m2 0h6m5 0h1m6 0h1m14 0h3m4 0h2m15 0h1m2 0h3m2 0h4m17 0h1m1 0h1m1 0h1m6 0h1m1 0h1m1 0h1m54 0h2m16 0h7m5 0h2m1 0h1m8 0h1m2 0h2m3 0h1m12 0h9m1 0h1m16 0h7m4 0h2m3 0h2m5 0h1m24 0h2m111 0h1m33 0h2m2 0h2m1 0h11m1 0h65M289 507.5h4m5 0h1m25 0h2m1 0h4m18 0h3m1 0h1m1 0h3m17 0h2m4 0h1m4 0h1m5 0h1m31 0h1m14 0h1m6 0h1m6 0h3m2 0h1m4 0h5m9 0h3m3 0h1m25 0h6m11 0h1m5 0h1m1 0h7m3 0h8m3 0h3m22 0h2m1 0h2m63 0h1m3 0h1m40 0h1m37 0h17m1 0h19m1 0h44M289 508.5h1m1 0h1m5 0h3m4 0h1m21 0h3m5 0h1m14 0h3m5 0h1m21 0h1m5 0h1m1 0h3m34 0h1m14 0h1m13 0h3m4 0h8m11 0h5m8 0h5m12 0h1m1 0h2m1 0h1m11 0h1m5 0h8m2 0h1m4 0h5m4 0h1m27 0h1m26 0h1m111 0h1m6 0h5m1 0h31m1 0h45M297 509.5h4m3 0h1m1 0h1m21 0h2m1 0h1m18 0h2m20 0h4m9 0h1m9 0h1m43 0h1m1 0h1m7 0h1m2 0h5m1 0h14m1 0h1m17 0h3m15 0h1m1 0h1m14 0h1m5 0h2m1 0h2m2 0h1m2 0h5m1 0h3m2 0h1m27 0h1m9 0h1m15 0h1m44 0h1m2 0h1m2 0h1m16 0h1m55 0h1m3 0h1m2 0h26m1 0h1m2 0h45M287 510.5h1m7 0h6m30 0h2m18 0h1m6 0h1m13 0h5m64 0h2m3 0h1m1 0h3m2 0h4m1 0h1m1 0h10m3 0h1m15 0h5m15 0h1m3 0h1m14 0h6m1 0h1m2 0h5m1 0h2m3 0h2m79 0h2m27 0h1m13 0h2m56 0h1m6 0h30m1 0h44M296 511.5h1m2 0h1m1 0h1m17 0h1m1 0h1m10 0h1m25 0h2m12 0h5m62 0h6m3 0h1m2 0h2m2 0h4m1 0h6m2 0h3m1 0h1m11 0h1m4 0h5m18 0h1m13 0h7m4 0h1m2 0h1m3 0h1m7 0h2m1 0h2m74 0h1m6 0h2m12 0h1m2 0h1m1 0h1m51 0h1m20 0h37m1 0h45M293 512.5h1m25 0h2m11 0h1m6 0h2m7 0h1m8 0h5m10 0h5m16 0h1m46 0h5m1 0h3m5 0h1m1 0h1m1 0h1m1 0h6m1 0h2m1 0h1m1 0h1m15 0h5m8 0h2m3 0h2m1 0h1m2 0h2m13 0h4m1 0h1m2 0h1m3 0h2m3 0h2m6 0h4m24 0h1m27 0h1m3 0h1m17 0h2m2 0h1m2 0h2m5 0h1m7 0h2m1 0h1m1 0h1m14 0h1m1 0h1m35 0h1m22 0h1m1 0h2m1 0h55m1 0h19M319 513.5h1m1 0h1m9 0h2m6 0h3m6 0h1m6 0h5m1 0h1m10 0h1m3 0h1m64 0h1m4 0h3m6 0h1m4 0h3m2 0h1m4 0h6m8 0h9m8 0h2m2 0h3m4 0h1m14 0h1m1 0h1m8 0h2m4 0h2m7 0h1m1 0h2m29 0h1m22 0h1m23 0h1m3 0h2m11 0h1m1 0h1m20 0h2m60 0h2m2 0h1m1 0h72M291 514.5h1m1 0h1m27 0h2m7 0h1m6 0h8m3 0h1m5 0h4m76 0h3m4 0h1m5 0h1m13 0h1m11 0h3m6 0h10m9 0h2m1 0h3m5 0h1m15 0h1m1 0h1m1 0h1m2 0h2m1 0h2m4 0h2m9 0h1m30 0h2m43 0h2m2 0h1m13 0h1m3 0h1m6 0h1m1 0h1m8 0h3m6 0h1m54 0h2m2 0h74M292 515.5h1m8 0h1m5 0h2m19 0h1m1 0h1m5 0h8m8 0h5m13 0h2m1 0h2m6 0h1m2 0h1m50 0h1m4 0h3m4 0h1m1 0h1m31 0h10m6 0h1m3 0h3m2 0h1m1 0h5m1 0h1m4 0h5m1 0h2m1 0h1m3 0h1m1 0h1m4 0h3m14 0h2m28 0h1m76 0h1m2 0h1m3 0h2m4 0h2m1 0h1m2 0h2m9 0h2m40 0h6m1 0h29m1 0h30m1 0h10M292 516.5h1m7 0h3m3 0h3m14 0h1m5 0h2m5 0h9m7 0h4m14 0h6m25 0h1m34 0h1m4 0h2m2 0h2m3 0h1m3 0h1m25 0h11m4 0h3m2 0h4m7 0h3m4 0h5m1 0h4m4 0h1m2 0h1m3 0h1m1 0h1m13 0h1m3 0h1m3 0h1m15 0h1m19 0h1m62 0h1m9 0h3m1 0h4m3 0h2m7 0h3m37 0h36m5 0h40M301 517.5h9m13 0h1m12 0h1m1 0h1m1 0h2m6 0h1m3 0h5m14 0h9m21 0h1m24 0h1m15 0h1m10 0h2m27 0h3m2 0h4m5 0h2m1 0h5m4 0h1m2 0h3m6 0h8m4 0h1m2 0h1m1 0h1m3 0h1m17 0h1m2 0h1m6 0h4m26 0h1m39 0h1m1 0h1m9 0h1m13 0h2m1 0h2m8 0h3m2 0h1m7 0h3m2 0h1m35 0h36m6 0h39M296 518.5h1m4 0h1m1 0h7m13 0h2m13 0h1m1 0h1m9 0h4m1 0h3m7 0h1m5 0h2m3 0h5m42 0h1m18 0h1m10 0h2m3 0h1m14 0h2m6 0h4m3 0h3m3 0h11m19 0h3m5 0h8m13 0h1m4 0h6m6 0h1m56 0h4m37 0h1m7 0h1m1 0h1m1 0h1m2 0h2m4 0h3m39 0h2m1 0h33m7 0h39M296 519.5h1m5 0h9m7 0h2m2 0h4m8 0h1m4 0h2m9 0h5m1 0h1m14 0h3m2 0h5m7 0h1m27 0h1m6 0h2m27 0h3m4 0h1m11 0h3m6 0h4m10 0h11m6 0h2m1 0h1m13 0h14m7 0h1m9 0h5m4 0h1m1 0h2m61 0h1m17 0h1m22 0h3m6 0h2m6 0h1m32 0h1m4 0h38m7 0h39M297 520.5h6m1 0h7m9 0h1m3 0h3m7 0h1m4 0h1m9 0h7m9 0h1m5 0h3m1 0h7m5 0h1m2 0h3m60 0h2m4 0h2m10 0h4m5 0h3m3 0h1m6 0h8m1 0h4m6 0h3m11 0h2m1 0h1m1 0h4m2 0h1m2 0h2m6 0h2m9 0h5m4 0h4m58 0h1m45 0h1m14 0h1m31 0h1m5 0h31m1 0h5m1 0h2m4 0h40M299 521.5h4m1 0h1m1 0h4m4 0h1m5 0h2m6 0h1m15 0h1m1 0h1m1 0h9m8 0h1m9 0h2m5 0h1m2 0h1m1 0h2m1 0h2m26 0h2m5 0h3m10 0h1m13 0h1m1 0h1m4 0h1m10 0h7m2 0h4m2 0h3m5 0h12m1 0h2m1 0h1m1 0h6m1 0h1m5 0h10m5 0h1m18 0h7m2 0h7m89 0h1m12 0h1m14 0h1m24 0h1m1 0h1m3 0h1m2 0h1m1 0h1m1 0h2m1 0h27m1 0h9m2 0h4m1 0h26m1 0h10M299 522.5h5m3 0h3m3 0h2m5 0h2m21 0h1m1 0h7m1 0h2m2 0h2m3 0h5m7 0h3m8 0h2m29 0h1m1 0h3m17 0h2m14 0h3m14 0h7m2 0h3m1 0h3m5 0h13m1 0h4m1 0h1m1 0h6m6 0h5m1 0h1m1 0h1m1 0h9m11 0h1m3 0h10m4 0h1m2 0h2m2 0h1m16 0h1m15 0h1m104 0h1m5 0h2m2 0h1m1 0h3m1 0h37m2 0h1m1 0h38M300 523.5h1m3 0h1m2 0h3m13 0h1m3 0h1m1 0h2m12 0h1m2 0h5m2 0h1m10 0h3m8 0h1m6 0h4m4 0h1m25 0h2m3 0h1m11 0h1m5 0h2m9 0h7m7 0h2m4 0h8m1 0h6m8 0h4m1 0h10m3 0h1m3 0h5m6 0h1m1 0h1m4 0h9m1 0h2m1 0h1m9 0h1m6 0h2m1 0h1m4 0h6m56 0h2m27 0h1m62 0h1m1 0h2m1 0h29m1 0h1m1 0h9m2 0h40M307 524.5h3m17 0h1m1 0h1m2 0h2m12 0h2m1 0h3m1 0h1m10 0h4m15 0h3m46 0h2m4 0h5m6 0h9m5 0h4m3 0h6m2 0h5m7 0h1m1 0h1m1 0h5m2 0h6m9 0h4m2 0h1m3 0h1m3 0h1m2 0h7m1 0h1m1 0h2m1 0h1m1 0h1m4 0h1m2 0h4m3 0h4m1 0h2m1 0h3m2 0h1m55 0h1m2 0h1m61 0h1m1 0h1m16 0h4m4 0h3m2 0h32m1 0h42m1 0h8M302 525.5h2m2 0h4m17 0h2m1 0h1m2 0h2m5 0h1m8 0h2m12 0h3m1 0h1m14 0h4m3 0h1m42 0h3m5 0h1m6 0h10m8 0h2m3 0h6m1 0h6m5 0h4m1 0h1m1 0h4m3 0h2m1 0h2m9 0h4m5 0h5m3 0h1m1 0h5m1 0h1m1 0h1m2 0h1m1 0h1m5 0h1m1 0h1m2 0h1m1 0h6m2 0h2m1 0h6m27 0h1m25 0h1m30 0h1m44 0h3m7 0h2m1 0h2m1 0h2m2 0h2m1 0h83M302 526.5h2m3 0h3m39 0h2m2 0h1m9 0h1m17 0h9m29 0h1m12 0h3m3 0h1m8 0h12m7 0h1m2 0h11m1 0h2m1 0h1m1 0h7m2 0h1m1 0h2m3 0h1m6 0h1m3 0h3m1 0h3m3 0h1m1 0h14m3 0h1m3 0h1m1 0h1m4 0h1m2 0h1m1 0h2m2 0h5m3 0h1m1 0h7m52 0h1m29 0h1m31 0h1m12 0h5m3 0h14m1 0h37m1 0h23m1 0h22M307 527.5h4m21 0h1m16 0h1m1 0h4m4 0h1m3 0h2m15 0h2m3 0h7m2 0h1m23 0h2m11 0h4m14 0h1m1 0h5m1 0h2m10 0h4m1 0h5m3 0h5m1 0h6m1 0h1m1 0h1m4 0h1m1 0h2m7 0h3m8 0h1m1 0h4m1 0h5m10 0h1m9 0h1m2 0h3m1 0h1m2 0h1m4 0h3m1 0h5m1 0h1m17 0h1m22 0h1m8 0h1m77 0h1m3 0h1m5 0h1m1 0h8m3 0h33m5 0h20m2 0h21M308 528.5h3m2 0h1m1 0h1m7 0h1m5 0h5m17 0h3m1 0h1m3 0h2m14 0h1m9 0h3m3 0h5m22 0h2m13 0h1m14 0h4m1 0h3m4 0h1m1 0h1m4 0h4m1 0h7m3 0h3m3 0h1m1 0h4m7 0h2m11 0h4m8 0h8m1 0h1m1 0h1m8 0h1m5 0h3m3 0h2m1 0h3m1 0h1m5 0h10m41 0h3m36 0h1m48 0h1m8 0h9m1 0h1m3 0h32m1 0h1m5 0h19m1 0h22M308 529.5h2m3 0h4m11 0h5m4 0h1m1 0h1m9 0h5m3 0h1m16 0h4m1 0h1m7 0h1m4 0h3m24 0h1m12 0h2m8 0h3m1 0h4m3 0h2m5 0h1m6 0h10m1 0h1m4 0h2m7 0h2m6 0h5m9 0h3m7 0h1m2 0h5m1 0h2m1 0h1m9 0h1m6 0h2m2 0h4m2 0h1m7 0h4m1 0h4m29 0h1m1 0h2m10 0h1m6 0h1m30 0h4m44 0h2m1 0h2m6 0h1m1 0h3m1 0h2m2 0h1m1 0h2m1 0h30m5 0h1m1 0h22m1 0h2m1 0h16M318 530.5h2m9 0h4m6 0h1m9 0h4m9 0h1m12 0h2m3 0h2m11 0h1m32 0h2m17 0h4m5 0h2m2 0h5m4 0h3m4 0h1m17 0h2m5 0h4m11 0h1m6 0h1m2 0h8m1 0h2m17 0h3m2 0h1m1 0h5m9 0h1m1 0h3m3 0h1m27 0h6m6 0h1m1 0h1m83 0h1m1 0h1m2 0h2m4 0h11m1 0h2m1 0h2m1 0h27m8 0h8m1 0h1m1 0h11m2 0h2m1 0h17M310 531.5h2m17 0h3m17 0h2m23 0h9m42 0h1m17 0h6m6 0h9m5 0h1m5 0h1m16 0h3m5 0h3m3 0h1m1 0h1m11 0h1m3 0h2m1 0h1m2 0h2m1 0h2m11 0h1m5 0h3m3 0h1m1 0h1m1 0h1m6 0h1m3 0h1m38 0h1m1 0h4m3 0h1m1 0h1m38 0h1m43 0h1m1 0h3m1 0h3m1 0h1m1 0h8m1 0h7m1 0h32m3 0h1m1 0h10m1 0h13m2 0h18M309 532.5h3m13 0h1m1 0h6m21 0h3m10 0h1m6 0h8m43 0h1m18 0h3m6 0h11m11 0h3m14 0h3m2 0h1m9 0h2m14 0h6m1 0h5m2 0h1m15 0h5m1 0h1m2 0h2m3 0h1m3 0h1m1 0h1m38 0h2m1 0h1m1 0h2m33 0h1m3 0h1m49 0h26m2 0h2m2 0h29m3 0h1m1 0h7m1 0h16m2 0h18M309 533.5h3m13 0h1m1 0h1m28 0h2m1 0h1m1 0h1m8 0h1m3 0h10m39 0h1m21 0h2m6 0h4m2 0h3m12 0h4m3 0h1m11 0h1m3 0h1m1 0h3m19 0h7m3 0h4m1 0h1m16 0h2m4 0h4m2 0h1m3 0h2m10 0h1m32 0h2m1 0h1m2 0h1m85 0h75m1 0h4m1 0h8m4 0h14m1 0h1m1 0h1M311 534.5h2m12 0h1m30 0h2m3 0h1m1 0h1m4 0h1m8 0h7m62 0h1m6 0h2m1 0h5m11 0h8m4 0h1m12 0h1m12 0h2m10 0h5m3 0h2m1 0h5m14 0h3m4 0h4m1 0h1m15 0h1m25 0h1m2 0h1m1 0h1m2 0h2m6 0h1m80 0h67m1 0h14m1 0h1m2 0h6m5 0h9m1 0h3m1 0h1m1 0h2M313 535.5h1m10 0h1m8 0h2m9 0h2m10 0h2m5 0h1m4 0h1m6 0h9m53 0h1m14 0h4m1 0h4m2 0h2m5 0h3m3 0h2m2 0h1m20 0h3m17 0h4m2 0h2m1 0h1m1 0h7m10 0h1m1 0h4m2 0h1m1 0h1m2 0h1m7 0h1m8 0h1m1 0h2m22 0h3m6 0h1m5 0h1m1 0h1m80 0h31m2 0h1m1 0h11m1 0h22m2 0h1m2 0h2m1 0h6m6 0h1m5 0h1m1 0h13m1 0h1m1 0h2M315 536.5h3m6 0h1m17 0h1m1 0h1m20 0h5m5 0h8m17 0h1m38 0h1m1 0h1m1 0h1m9 0h8m2 0h3m2 0h2m10 0h1m4 0h1m16 0h1m18 0h6m8 0h5m9 0h7m2 0h3m1 0h1m16 0h2m1 0h1m22 0h4m11 0h1m48 0h1m28 0h1m3 0h1m1 0h25m1 0h2m1 0h1m4 0h10m2 0h7m1 0h1m1 0h2m1 0h4m2 0h5m1 0h1m3 0h1m1 0h6m8 0h1m3 0h7m1 0h1m2 0h3m1 0h1M314 537.5h3m21 0h1m3 0h3m4 0h1m1 0h1m11 0h4m1 0h2m6 0h1m3 0h2m18 0h2m37 0h1m1 0h3m9 0h8m3 0h7m8 0h2m6 0h2m31 0h9m6 0h5m10 0h5m1 0h2m2 0h1m1 0h1m15 0h6m20 0h5m1 0h1m10 0h2m45 0h2m21 0h3m4 0h1m4 0h20M314 538.5h4m13 0h2m5 0h1m9 0h1m2 0h4m4 0h2m3 0h1m25 0h2m4 0h1m2 0h3m41 0h1m1 0h1m7 0h10m1 0h7m8 0h1m20 0h1m16 0h2m2 0h4m3 0h1m8 0h3m9 0h2m1 0h4m1 0h1m1 0h5m15 0h1m1 0h1m30 0h1m6 0h4m24 0h1m8 0h1m10 0h1m21 0h5m4 0h1m2 0h11m1 0h1m1 0h7M316 539.5h3m3 0h3m18 0h1m8 0h4m2 0h7m26 0h2m8 0h3m40 0h7m1 0h9m1 0h1m1 0h6m9 0h3m18 0h1m20 0h8m7 0h4m10 0h5m2 0h4m1 0h1m3 0h1m13 0h1m39 0h1m26 0h2m18 0h3m18 0h5m1 0h5m2 0h11m1 0h8M318 540.5h1m4 0h2m20 0h1m8 0h1m3 0h3m2 0h2m1 0h1m19 0h3m4 0h1m3 0h1m1 0h1m1 0h3m40 0h7m1 0h10m4 0h4m1 0h5m3 0h2m1 0h3m12 0h1m2 0h1m17 0h2m1 0h1m1 0h7m7 0h1m1 0h1m11 0h10m5 0h1m12 0h2m38 0h1m12 0h2m33 0h1m2 0h1m17 0h19m1 0h5m1 0h1m2 0h2M321 541.5h1m3 0h1m14 0h2m3 0h1m17 0h3m20 0h1m8 0h3m4 0h2m40 0h14m11 0h1m3 0h5m1 0h7m10 0h1m22 0h1m6 0h1m1 0h1m7 0h2m9 0h1m2 0h4m3 0h5m2 0h4m13 0h1m2 0h1m54 0h1m20 0h2m27 0h23m1 0h1m1 0h4M325 542.5h1m15 0h1m4 0h2m1 0h1m6 0h1m6 0h3m7 0h2m19 0h1m10 0h1m28 0h2m2 0h3m1 0h14m7 0h2m3 0h4m2 0h1m2 0h1m4 0h3m12 0h1m6 0h1m5 0h1m11 0h2m1 0h2m9 0h1m12 0h1m2 0h2m1 0h6m3 0h4m93 0h1m5 0h1m1 0h1m4 0h1m14 0h23m5 0h1M340 543.5h1m3 0h4m15 0h1m1 0h1m8 0h1m8 0h1m1 0h1m8 0h1m11 0h1m32 0h18m11 0h3m3 0h1m6 0h4m13 0h1m1 0h1m3 0h1m21 0h1m7 0h3m9 0h1m3 0h1m5 0h4m5 0h1m16 0h1m56 0h2m17 0h5m11 0h1m14 0h22m5 0h1M335 544.5h1m4 0h1m5 0h1m4 0h1m12 0h4m5 0h1m8 0h2m1 0h1m7 0h2m11 0h3m26 0h11m4 0h1m2 0h4m17 0h3m5 0h1m1 0h1m13 0h3m3 0h1m1 0h1m19 0h1m7 0h3m9 0h1m7 0h1m1 0h4m27 0h1m72 0h4m25 0h22m1 0h1m1 0h2M325 545.5h1m18 0h1m6 0h2m11 0h1m1 0h1m12 0h1m5 0h2m5 0h1m6 0h1m7 0h2m31 0h5m9 0h3m16 0h3m11 0h3m35 0h2m7 0h3m17 0h7m1 0h4m13 0h2m5 0h2m70 0h6m25 0h20M336 546.5h1m1 0h1m1 0h1m7 0h1m3 0h1m8 0h1m3 0h1m12 0h4m1 0h4m3 0h2m7 0h1m36 0h1m2 0h6m28 0h1m11 0h3m3 0h1m7 0h1m16 0h1m8 0h1m28 0h5m2 0h2m1 0h1m22 0h1m72 0h1m1 0h2m4 0h1m20 0h23M337 547.5h2m5 0h2m1 0h6m6 0h1m3 0h2m15 0h6m3 0h5m5 0h2m38 0h3m1 0h1m12 0h2m5 0h3m6 0h4m9 0h2m5 0h2m3 0h1m1 0h1m34 0h1m3 0h1m19 0h1m2 0h2m23 0h1m72 0h5m25 0h19m1 0h1m1 0h1M331 548.5h2m3 0h1m1 0h1m2 0h2m1 0h1m2 0h3m2 0h1m6 0h2m22 0h2m4 0h1m12 0h4m35 0h1m1 0h1m21 0h1m1 0h3m3 0h5m6 0h2m7 0h1m6 0h1m35 0h2m20 0h2m1 0h3m95 0h1m1 0h5m4 0h1m18 0h19m1 0h1M347 549.5h2m9 0h3m32 0h3m1 0h1m4 0h1m37 0h3m13 0h1m4 0h1m5 0h1m1 0h1m2 0h5m6 0h4m48 0h3m1 0h1m1 0h1m1 0h1m8 0h1m1 0h1m2 0h5m78 0h1m17 0h3m1 0h2m2 0h1m8 0h1m14 0h16M330 550.5h1m63 0h3m44 0h1m12 0h3m4 0h1m1 0h1m3 0h1m1 0h2m3 0h2m6 0h3m18 0h3m7 0h1m22 0h3m3 0h1m2 0h1m6 0h1m5 0h3m100 0h2m1 0h1m8 0h1m2 0h2m12 0h13m1 0h1m1 0h1M393 551.5h2m41 0h1m4 0h2m4 0h1m3 0h2m3 0h2m1 0h1m1 0h1m1 0h1m5 0h3m10 0h3m28 0h1m21 0h2m2 0h1m3 0h1m3 0h1m4 0h2m1 0h1m2 0h3m100 0h1m3 0h1m7 0h1m17 0h1m1 0h12m1 0h1M395 552.5h3m37 0h2m4 0h1m7 0h4m3 0h1m1 0h2m1 0h3m6 0h1m8 0h4m30 0h1m15 0h1m6 0h2m4 0h3m4 0h14m99 0h2m1 0h2m24 0h2m1 0h9m2 0h2M348 553.5h1m86 0h1m12 0h2m2 0h1m5 0h1m10 0h3m7 0h8m42 0h1m6 0h1m1 0h2m1 0h2m1 0h2m3 0h12m1 0h2m21 0h1m77 0h1m2 0h1m21 0h2m3 0h11m1 0h1M341 554.5h1m1 0h1m3 0h2m89 0h1m19 0h2m9 0h1m1 0h3m6 0h7m19 0h1m1 0h1m19 0h2m8 0h1m1 0h5m2 0h15m2 0h2m21 0h1m74 0h1m1 0h1m19 0h2m1 0h2m3 0h11M343 555.5h1m94 0h3m6 0h1m8 0h3m4 0h1m5 0h3m9 0h5m22 0h1m28 0h7m5 0h12m1 0h4m71 0h1m24 0h2m1 0h2m18 0h1m2 0h1m1 0h10M439 556.5h3m4 0h3m5 0h2m1 0h1m3 0h1m18 0h6m19 0h1m31 0h4m1 0h1m2 0h1m1 0h15m21 0h1m3 0h1m1 0h1m76 0h1m17 0h1m1 0h14m1 0h1M443 557.5h1m2 0h2m4 0h3m13 0h1m10 0h7m51 0h3m3 0h1m1 0h2m1 0h13m3 0h1m79 0h1m21 0h1m17 0h2m3 0h1m1 0h7M443 558.5h3m1 0h3m16 0h1m1 0h1m2 0h1m3 0h3m1 0h5m34 0h1m18 0h5m1 0h18m45 0h3m56 0h1m14 0h1m2 0h4m1 0h1m1 0h8M445 559.5h1m1 0h4m14 0h4m1 0h2m1 0h1m3 0h5m24 0h3m9 0h1m12 0h1m4 0h25m44 0h1m60 0h2m16 0h1m3 0h10M444 560.5h1m1 0h4m16 0h1m3 0h4m1 0h1m1 0h1m2 0h3m21 0h3m28 0h7m1 0h1m1 0h16m44 0h1m82 0h6m1 0h1M446 561.5h4m11 0h1m4 0h1m3 0h6m1 0h1m3 0h2m21 0h1m1 0h1m16 0h1m13 0h9m1 0h15m32 0h1m10 0h1m1 0h3m1 0h1m3 0h1m6 0h1m29 0h2m29 0h1m3 0h9M446 562.5h2m21 0h7m5 0h7m33 0h3m13 0h23m46 0h6m1 0h1m3 0h1m71 0h3m2 0h1M448 563.5h2m19 0h3m1 0h16m18 0h1m28 0h26m33 0h1m1 0h1m10 0h2m1 0h3m3 0h1m70 0h3M448 564.5h1m20 0h3m1 0h3m1 0h10m1 0h3m16 0h1m16 0h1m12 0h3m1 0h22m46 0h3m8 0h1m38 0h1m1 0h1m3 0h1M453 565.5h3m5 0h3m5 0h3m2 0h2m3 0h13m47 0h1m2 0h18m1 0h2m45 0h3m28 0h1m18 0h4m3 0h1M452 566.5h4m6 0h3m5 0h2m1 0h3m4 0h12m34 0h2m15 0h18m78 0h2m8 0h3m6 0h4m2 0h2m1 0h1m16 0h5M453 567.5h1m7 0h3m8 0h3m6 0h10m17 0h1m5 0h1m25 0h1m2 0h18m48 0h3m27 0h3m9 0h2m5 0h1m1 0h2m22 0h6M456 568.5h1m9 0h1m6 0h1m7 0h7m1 0h2m18 0h1m3 0h3m9 0h2m16 0h1m1 0h5m3 0h4m52 0h1m1 0h2m26 0h4m9 0h1m3 0h1m3 0h2m25 0h1M466 569.5h2m2 0h1m1 0h1m8 0h6m1 0h1m10 0h2m10 0h6m8 0h1m18 0h1m2 0h2m2 0h1m1 0h1m56 0h2m5 0h2m17 0h1m19 0h3m8 0h1m18 0h1m1 0h1M454 570.5h1m15 0h1m12 0h1m14 0h1m4 0h1m5 0h1m1 0h5m31 0h3m1 0h4m2 0h1m53 0h1m24 0h2m5 0h1m18 0h1m5 0h1m1 0h1m8 0h1M454 571.5h1m15 0h1m11 0h3m26 0h2m33 0h4m2 0h1m6 0h1m81 0h1M458 572.5h3m15 0h1m7 0h1m46 0h1m15 0h2m1 0h2m4 0h3m81 0h2m24 0h1M456 573.5h1m1 0h1m1 0h2m8 0h7m7 0h1m1 0h3m42 0h1m15 0h3m3 0h2m87 0h1m23 0h1M457 574.5h2m10 0h9m4 0h1m3 0h3m65 0h2m55 0h1m2 0h1m25 0h6m18 0h1m18 0h2M468 575.5h3m1 0h1m1 0h3m2 0h4m3 0h3m10 0h1m42 0h1m5 0h3m2 0h3m54 0h1m24 0h1m8 0h2m24 0h1m9 0h2M460 576.5h1m7 0h9m2 0h3m1 0h1m3 0h2m9 0h2m30 0h2m14 0h5m1 0h5M460 577.5h1m8 0h1m1 0h6m2 0h5m1 0h1m2 0h1m16 0h1m1 0h2m37 0h3m1 0h3m2 0h2M468 578.5h9m1 0h7m18 0h1m47 0h1m1 0h1m1 0h2m113 0h3M471 579.5h4m3 0h6m6 0h1m12 0h2m1 0h1m48 0h1m82 0h2m30 0h3M472 580.5h5m1 0h4m4 0h1m54 0h1m1 0h1m8 0h4m15 0h1m66 0h3m30 0h2M473 581.5h2m3 0h3m59 0h2m12 0h1m16 0h4m11 0h1m52 0h3M477 582.5h4m4 0h1m54 0h3m9 0h1m16 0h1m1 0h3m12 0h1m53 0h1m17 0h1M478 583.5h3m3 0h2m16 0h1m15 0h1m20 0h2m21 0h2m3 0h1m4 0h1m1 0h1m20 0h1m43 0h1M480 584.5h1m5 0h1m1 0h1m2 0h1m10 0h3m13 0h1m19 0h1m6 0h1m15 0h2m2 0h2m4 0h1m25 0h1m6 0h1m34 0h1M480 585.5h1m3 0h1m2 0h2m2 0h1m1 0h1m8 0h2m3 0h1m8 0h1m1 0h1m6 0h1m41 0h1m1 0h4m25 0h1m4 0h1m35 0h1M493 586.5h2m5 0h4m2 0h2m4 0h1m2 0h1m4 0h1m2 0h1m42 0h1m2 0h2m1 0h1M493 587.5h2m1 0h1m2 0h1m6 0h2m10 0h3m2 0h1m5 0h1m41 0h1M494 588.5h2m2 0h2m6 0h1m6 0h1m6 0h3m19 0h2m27 0h1m90 0h1M490 589.5h2m5 0h1m43 0h3m2 0h1m16 0h1m9 0h1m88 0h1M491 590.5h1m12 0h2m20 0h1m13 0h3m10 0h2m6 0h1m1 0h1M502 591.5h7m31 0h1m1 0h1m3 0h2M482 592.5h1m20 0h4M482 593.5h3m16 0h1m3 0h2m2 0h1m30 0h1m5 0h1m19 0h1M484 594.5h2m1 0h1m1 0h1M484 595.5h1m18 0h1M485 596.5h1m1 0h1m1 0h1m14 0h1M489 598.5h4m11 0h2M499 599.5h2m3 0h1m71 0h1M499 600.5h1m3 0h2m73 0h1m1 0h1M497 601.5h1m1 0h5M499 602.5h1m1 0h2M499 603.5h1m1 0h1m80 0h1M499 604.5h1m1 0h1m80 0h1M584 605.5h1"/>
<path stroke="#33cc00" d="M619 64.5h3M619 65.5h3M619 66.5h3M619 67.5h3M620 68.5h2M620 69.5h3M620 70.5h3M620 71.5h3M620 72.5h3M620 73.5h3M620 74.5h3M620 75.5h3M621 76.5h2M621 77.5h3M621 78.5h3M621 79.5h3M621 80.5h3M621 81.5h3M621 82.5h3M621 83.5h3M620 84.5h3M620 85.5h3M620 86.5h3M620 87.5h3M620 88.5h3M620 89.5h3M620 90.5h2M619 91.5h3M619 92.5h3M619 93.5h3M619 94.5h3M619 95.5h3M619 96.5h3M618 97.5h3M618 98.5h3M618 99.5h3M618 100.5h3M618 101.5h3M618 102.5h3M618 103.5h3M617 104.5h3M617 105.5h3M617 106.5h3M617 107.5h3M617 108.5h3M617 109.5h3M616 110.5h3M616 111.5h3M616 112.5h3M616 113.5h3M616 114.5h3M616 115.5h3M615 116.5h3M615 117.5h3M615 118.5h3M615 119.5h3M615 120.5h3M615 121.5h3M614 122.5h3M614 123.5h3M614 124.5h3M614 125.5h3M614 126.5h3M614 127.5h2M613 128.5h3M613 129.5h3M613 130.5h3M613 131.5h2M612 132.5h3M612 133.5h3M612 134.5h3M612 135.5h2M611 136.5h3M610 137.5h4M609 138.5h5M608 139.5h5M607 140.5h5M606 141.5h5M605 142.5h5M604 143.5h5M604 144.5h4M603 145.5h4M602 146.5h5M601 147.5h5M600 148.5h5M599 149.5h5M598 150.5h5M597 151.5h5M596 152.5h5M594 153.5h6M593 154.5h6M591 155.5h6M590 156.5h6M588 157.5h6M572 158.5h1m14 0h6M575 159.5h2m1 0h1m6 0h6M578 160.5h1m5 0h6M577 161.5h2m3 0h6M581 162.5h6m13 0h1M581 163.5h4M567 164.5h1m13 0h3M568 165.5h1m5 0h1m5 0h3m10 0h1m7 0h1M569 166.5h1m4 0h3m3 0h3M566 167.5h1m1 0h2m4 0h2m1 0h2m1 0h3M567 168.5h1m2 0h1m1 0h2m1 0h4m1 0h3M567 169.5h1m1 0h2m1 0h10M565 170.5h11m2 0h5M566 171.5h2m1 0h9m1 0h4m12 0h1M566 172.5h1m2 0h4m2 0h1m2 0h1m1 0h4M566 173.5h2m3 0h1m2 0h1m5 0h5M564 174.5h1m1 0h1m3 0h3m8 0h4M582 175.5h4M583 176.5h4M583 177.5h5M584 178.5h4M585 179.5h4M191 180.5h1m393 0h4M189 181.5h3m394 0h3M586 182.5h3M447 183.5h1m139 0h2M441 184.5h1m6 0h2m137 0h3M156 185.5h2m1 0h1m280 0h1m7 0h2m137 0h3M156 186.5h1m283 0h1m6 0h5m135 0h3M141 187.5h1m6 0h1m298 0h6m134 0h3M141 188.5h1m4 0h1m20 0h1m1 0h1m15 0h2m252 0h1m7 0h2m138 0h3M158 189.5h2m8 0h2m13 0h1m2 0h3m399 0h2M158 190.5h3m23 0h2m1 0h1m252 0h1m1 0h1m1 0h1m2 0h1m140 0h3M158 191.5h2m11 0h1m11 0h1m404 0h3M156 192.5h2m24 0h2m264 0h1m139 0h3M182 193.5h1m265 0h1m1 0h1m3 0h1m133 0h3M182 194.5h2m272 0h2m130 0h3M135 195.5h1m48 0h1m250 0h1m12 0h1m1 0h1m5 0h1m11 0h1m118 0h3M198 196.5h2m235 0h2m6 0h2m1 0h2m98 0h3m38 0h3M180 197.5h2m15 0h1m237 0h1m10 0h2m2 0h1m96 0h1m5 0h1m33 0h3M160 198.5h2m18 0h1m8 0h1m3 0h1m230 0h1m17 0h1m2 0h3m6 0h1m87 0h1m3 0h3m38 0h3M179 199.5h1m8 0h3m2 0h1m1 0h1m5 0h1m229 0h1m1 0h1m9 0h1m1 0h2m1 0h1m1 0h2m94 0h1m2 0h1m1 0h2m33 0h3M190 200.5h2m8 0h1m229 0h4m6 0h1m5 0h3m1 0h1m3 0h1m87 0h1m1 0h6m2 0h1m4 0h1m28 0h3M190 201.5h3m236 0h1m1 0h1m2 0h1m3 0h2m5 0h1m1 0h1m4 0h1m1 0h1m85 0h4m2 0h5m2 0h2m31 0h3M141 202.5h1m36 0h1m12 0h1m8 0h1m1 0h1m225 0h1m3 0h2m9 0h5m7 0h1m83 0h1m1 0h1m5 0h8m31 0h3M179 203.5h1m22 0h1m219 0h2m8 0h1m4 0h1m6 0h4m90 0h3m6 0h1m3 0h1m33 0h3M139 204.5h2m37 0h1m11 0h1m11 0h4m237 0h6m6 0h1m15 0h1m65 0h1m2 0h1m8 0h2m34 0h3M203 205.5h2m229 0h1m8 0h6m1 0h1m4 0h1m18 0h1m67 0h1m4 0h8m28 0h5M140 206.5h1m62 0h3m225 0h6m1 0h1m4 0h1m1 0h1m4 0h1m87 0h1m1 0h2m6 0h1m1 0h1m1 0h2m28 0h6M158 207.5h1m45 0h4m212 0h1m2 0h3m4 0h5m2 0h1m6 0h2m88 0h1m2 0h1m2 0h2m2 0h2m1 0h2m1 0h1m3 0h1m25 0h6M138 208.5h2m11 0h1m7 0h1m12 0h1m33 0h2m215 0h5m1 0h1m1 0h7m13 0h1m81 0h1m2 0h4m1 0h2m1 0h5m1 0h1m28 0h6m66 0h1M206 209.5h2m1 0h1m213 0h3m2 0h1m2 0h5m1 0h2m37 0h1m56 0h2m1 0h2m2 0h2m1 0h1m1 0h4m4 0h1m2 0h1m20 0h6m68 0h5M155 210.5h1m15 0h2m34 0h3m209 0h1m2 0h13m10 0h1m39 0h1m46 0h4m1 0h3m3 0h4m1 0h1m5 0h2m2 0h1m16 0h7m69 0h5m4 0h2M171 211.5h1m247 0h1m2 0h13m6 0h1m2 0h1m39 0h2m1 0h1m43 0h5m1 0h2m5 0h3m1 0h1m1 0h1m4 0h2m17 0h6m16 0h1m54 0h8m1 0h1m5 0h1M162 212.5h1m256 0h1m3 0h12m6 0h2m21 0h1m11 0h1m7 0h2m1 0h1m42 0h9m5 0h2m3 0h3m3 0h1m16 0h6m73 0h11m4 0h1M160 213.5h2m263 0h1m2 0h7m10 0h1m20 0h1m1 0h1m60 0h3m1 0h7m4 0h1m1 0h6m2 0h1m16 0h6m80 0h3m1 0h1m5 0h1m3 0h2M421 214.5h2m2 0h2m1 0h7m10 0h1m14 0h2m1 0h1m2 0h1m14 0h1m2 0h1m2 0h1m40 0h3m2 0h5m1 0h5m2 0h1m3 0h3m16 0h6m87 0h1m3 0h1m1 0h1M427 215.5h8m3 0h1m6 0h1m10 0h1m8 0h2m16 0h3m28 0h3m2 0h2m1 0h5m1 0h4m1 0h6m6 0h1m1 0h1m1 0h3m15 0h7m92 0h1M387 216.5h3m5 0h5m1 0h1m8 0h1m16 0h8m1 0h4m17 0h1m25 0h2m24 0h1m7 0h1m2 0h1m1 0h2m1 0h11m1 0h1m2 0h1m1 0h1m1 0h2m4 0h1m15 0h6M387 217.5h1m10 0h1m1 0h1m5 0h1m21 0h1m1 0h3m1 0h1m2 0h1m22 0h1m25 0h1m20 0h1m2 0h1m10 0h1m1 0h2m4 0h4m2 0h1m1 0h1m2 0h1m1 0h1m7 0h1m13 0h6M388 218.5h1m6 0h2m1 0h4m6 0h1m18 0h4m2 0h1m1 0h1m1 0h3m12 0h3m6 0h4m43 0h1m1 0h1m10 0h3m5 0h6m7 0h1m6 0h1m12 0h7m30 0h2M136 219.5h2m12 0h1m234 0h1m1 0h1m10 0h1m11 0h1m17 0h1m1 0h1m1 0h2m2 0h2m15 0h3m7 0h3m10 0h2m29 0h2m5 0h1m7 0h2m4 0h6m2 0h1m1 0h1m3 0h1m1 0h1m2 0h3m11 0h6M134 220.5h1m249 0h4m12 0h1m8 0h1m18 0h2m3 0h1m2 0h3m1 0h1m4 0h1m7 0h2m3 0h1m1 0h5m1 0h1m40 0h2m9 0h1m3 0h1m1 0h1m1 0h1m2 0h6m6 0h1m1 0h1m3 0h1m11 0h6M386 221.5h3m6 0h1m4 0h4m24 0h3m2 0h1m2 0h1m21 0h6m11 0h1m13 0h1m18 0h1m2 0h1m9 0h3m6 0h4m9 0h2m1 0h1m11 0h6M387 222.5h1m7 0h1m6 0h2m21 0h2m2 0h1m1 0h1m4 0h2m15 0h4m1 0h10m5 0h1m33 0h1m10 0h4m1 0h2m1 0h2m2 0h2m12 0h1m1 0h2m8 0h6M386 223.5h2m1 0h1m1 0h1m3 0h1m2 0h1m1 0h4m21 0h2m2 0h1m25 0h8m4 0h1m50 0h3m8 0h1m3 0h1m7 0h1m2 0h5m5 0h7M385 224.5h1m2 0h2m1 0h1m1 0h2m11 0h1m17 0h1m2 0h1m14 0h1m11 0h1m1 0h6m14 0h2m8 0h1m27 0h1m3 0h2m25 0h2m6 0h6M380 225.5h1m4 0h1m1 0h1m1 0h4m2 0h1m46 0h1m8 0h1m2 0h6m4 0h1m8 0h1m9 0h1m1 0h2m2 0h2m1 0h1m14 0h1m28 0h1m1 0h3m1 0h3m1 0h2m3 0h6M390 226.5h1m1 0h1m13 0h1m20 0h1m16 0h1m9 0h1m9 0h4m4 0h3m1 0h2m1 0h5m1 0h2m32 0h1m12 0h2m3 0h1m1 0h1m6 0h10M126 227.5h1m255 0h2m3 0h3m1 0h1m32 0h1m28 0h3m1 0h2m6 0h2m4 0h1m1 0h1m1 0h1m1 0h10m38 0h1m6 0h2m2 0h7m2 0h1m1 0h7M379 228.5h1m1 0h1m1 0h2m4 0h2m3 0h2m31 0h1m14 0h1m11 0h1m1 0h1m7 0h1m7 0h2m1 0h3m1 0h7m28 0h1m3 0h2m2 0h1m2 0h2m2 0h1m2 0h3m1 0h2m1 0h4m5 0h5M377 229.5h3m1 0h3m2 0h1m1 0h1m7 0h4m5 0h1m18 0h2m15 0h1m12 0h1m9 0h1m10 0h4m2 0h1m1 0h1m1 0h1m1 0h1m24 0h1m1 0h1m7 0h4m2 0h1m1 0h6m3 0h1m1 0h1m2 0h8M249 230.5h2m2 0h3m121 0h1m1 0h3m1 0h1m1 0h2m2 0h1m3 0h1m3 0h3m24 0h2m34 0h3m1 0h1m10 0h5m1 0h1m32 0h1m5 0h1m1 0h4m1 0h1m2 0h1m1 0h2m2 0h1m4 0h3m1 0h7M249 231.5h3m130 0h2m5 0h1m7 0h1m1 0h1m1 0h1m19 0h1m2 0h1m29 0h1m6 0h2m9 0h3m1 0h3m10 0h1m17 0h1m5 0h1m3 0h1m1 0h1m1 0h6m2 0h2m1 0h5m9 0h5M249 232.5h1m1 0h2m5 0h1m120 0h6m5 0h1m1 0h2m1 0h2m1 0h2m1 0h3m47 0h1m1 0h1m6 0h5m3 0h1m1 0h9m28 0h1m2 0h2m2 0h1m4 0h7m2 0h8m10 0h4M126 233.5h1m122 0h1m1 0h3m3 0h2m122 0h2m6 0h2m1 0h4m3 0h4m42 0h1m6 0h4m4 0h5m2 0h1m3 0h7m29 0h1m3 0h1m5 0h1m1 0h6m4 0h6m10 0h4M251 234.5h3m2 0h3m6 0h1m115 0h1m1 0h1m3 0h8m6 0h3m18 0h1m22 0h1m8 0h2m4 0h6m5 0h7m32 0h2m8 0h5m2 0h1m1 0h6m10 0h5M249 235.5h1m1 0h3m2 0h4m2 0h4m115 0h2m1 0h1m4 0h3m1 0h2m3 0h2m2 0h3m15 0h1m24 0h1m7 0h4m3 0h1m2 0h3m1 0h1m1 0h1m2 0h6m34 0h1m5 0h6m6 0h4m1 0h1m9 0h3m1 0h1M249 236.5h2m1 0h1m1 0h4m1 0h7m115 0h1m1 0h2m8 0h1m5 0h1m1 0h4m51 0h1m6 0h3m2 0h1m2 0h7m31 0h3m4 0h2m1 0h5m4 0h7m10 0h2M252 237.5h1m1 0h12m117 0h3m3 0h3m1 0h1m5 0h2m1 0h1m3 0h1m12 0h3m37 0h1m5 0h1m4 0h1m1 0h2m1 0h3m32 0h8m2 0h1m9 0h1m1 0h3m9 0h3m1 0h1M251 238.5h1m1 0h4m5 0h3m110 0h1m14 0h3m4 0h5m1 0h1m15 0h1m45 0h1m5 0h4m35 0h9m1 0h1m2 0h1m6 0h6m8 0h3M252 239.5h6m4 0h3m125 0h2m5 0h4m16 0h3m4 0h3m2 0h1m37 0h1m2 0h3m38 0h4m1 0h7m7 0h2m1 0h2m9 0h3M251 240.5h3m2 0h5m5 0h1m56 0h1m67 0h1m1 0h2m1 0h6m15 0h1m8 0h1m41 0h6m1 0h1m37 0h3m1 0h6m9 0h1m11 0h2M255 241.5h6m4 0h1m57 0h1m49 0h1m23 0h4m3 0h1m38 0h1m2 0h1m21 0h1m3 0h1m1 0h1m38 0h1m4 0h1m1 0h4m19 0h3M117 242.5h2m135 0h6m61 0h3m7 0h7m5 0h1m19 0h3m16 0h1m15 0h1m45 0h1m16 0h1m7 0h2m1 0h1m1 0h1m38 0h1m4 0h1m2 0h3m19 0h3M117 243.5h3m133 0h6m86 0h1m15 0h2m1 0h3m32 0h3m28 0h1m11 0h3m17 0h1m1 0h1m1 0h1m1 0h1m3 0h1m1 0h1m1 0h1m43 0h3m4 0h1m137 0h1m1 0h1M117 244.5h3m134 0h5m83 0h2m20 0h2m29 0h1m1 0h3m15 0h1m14 0h3m1 0h1m1 0h2m1 0h1m1 0h1m2 0h1m22 0h1m2 0h1m2 0h3m45 0h1m1 0h2m138 0h1m2 0h1m9 0h1M110 245.5h1m7 0h2m132 0h7m3 0h3m53 0h1m23 0h3m16 0h1m34 0h1m3 0h1m1 0h1m12 0h2m1 0h1m1 0h1m10 0h9m5 0h1m24 0h1m1 0h3m191 0h2m2 0h1M118 246.5h1m133 0h5m1 0h1m3 0h1m75 0h1m2 0h4m11 0h1m6 0h1m28 0h1m3 0h1m4 0h1m18 0h1m5 0h2m1 0h1m2 0h7m1 0h2m30 0h3m188 0h7m3 0h1M252 247.5h1m1 0h1m1 0h1m82 0h1m3 0h3m11 0h1m34 0h1m1 0h2m6 0h1m8 0h1m5 0h1m5 0h1m7 0h3m1 0h5m1 0h1m1 0h1m2 0h1m18 0h1m6 0h2m1 0h1m189 0h1m1 0h1m3 0h1M252 248.5h3m3 0h1m45 0h1m31 0h2m2 0h1m1 0h4m7 0h1m57 0h1m1 0h1m1 0h1m2 0h1m6 0h1m1 0h1m3 0h9m5 0h2m18 0h1m3 0h1m196 0h1m4 0h1M259 249.5h1m37 0h1m1 0h2m1 0h3m32 0h3m1 0h8m9 0h1m2 0h2m21 0h1m14 0h1m8 0h2m4 0h2m9 0h1m1 0h1m2 0h1m1 0h1m1 0h1m2 0h3m2 0h2m2 0h1m1 0h1m13 0h4m2 0h6M254 250.5h1m14 0h3m12 0h8m1 0h12m36 0h1m1 0h1m1 0h3m2 0h1m6 0h1m5 0h3m4 0h1m23 0h1m1 0h1m9 0h1m2 0h1m4 0h1m8 0h7m1 0h1m6 0h2m1 0h1m2 0h1m1 0h1m1 0h1m13 0h2m1 0h2m2 0h2m5 0h3M266 251.5h6m11 0h1m3 0h5m4 0h1m21 0h1m12 0h1m1 0h1m8 0h8m15 0h3m5 0h1m35 0h1m1 0h1m1 0h2m10 0h7m2 0h1m7 0h1m22 0h5M250 252.5h1m1 0h2m3 0h1m4 0h2m1 0h5m19 0h1m28 0h1m24 0h4m1 0h2m1 0h2m13 0h3m25 0h1m2 0h1m10 0h3m1 0h2m12 0h6m1 0h1m1 0h1m5 0h1m1 0h1m1 0h1m21 0h1m1 0h1m6 0h3m1 0h2m208 0h1m1 0h1M240 253.5h1m20 0h3m54 0h1m14 0h1m7 0h6m6 0h1m5 0h4m3 0h1m6 0h1m20 0h1m2 0h1m1 0h1m1 0h1m8 0h1m12 0h1m1 0h1m1 0h5m11 0h1m3 0h1m17 0h1m7 0h2m194 0h1m20 0h1m8 0h1M237 254.5h4m1 0h4m12 0h1m2 0h3m77 0h6m1 0h1m2 0h1m1 0h2m1 0h2m1 0h4m2 0h2m30 0h1m12 0h1m11 0h1m1 0h1m2 0h8m9 0h1m24 0h1m3 0h1m2 0h2M235 255.5h6m1 0h1m1 0h1m3 0h1m1 0h2m8 0h2m22 0h1m56 0h6m1 0h10m2 0h2m2 0h3m7 0h1m8 0h1m2 0h1m10 0h1m1 0h1m1 0h1m7 0h1m7 0h1m5 0h2m1 0h2m3 0h1m11 0h2m21 0h1m8 0h5m8 0h1m171 0h1m36 0h2M233 256.5h1m1 0h1m1 0h1m13 0h4m4 0h1m74 0h1m1 0h2m2 0h6m2 0h4m1 0h4m7 0h1m5 0h5m4 0h1m5 0h1m3 0h1m6 0h1m17 0h1m2 0h1m4 0h1m1 0h4m1 0h1m14 0h1m7 0h1m2 0h1m18 0h3m10 0h1m161 0h1m6 0h3m1 0h1m1 0h1m35 0h1M232 257.5h2m1 0h1m15 0h2m21 0h1m27 0h2m20 0h1m9 0h1m1 0h2m2 0h1m1 0h2m1 0h5m3 0h2m1 0h2m6 0h1m1 0h1m3 0h1m1 0h3m1 0h1m1 0h8m3 0h1m19 0h2m8 0h2m1 0h6m4 0h2m10 0h1m7 0h3m18 0h1m1 0h3m166 0h1m1 0h2m1 0h1m6 0h2m2 0h1m1 0h1m27 0h1M227 258.5h2m44 0h2m14 0h1m6 0h1m6 0h1m7 0h1m23 0h2m8 0h11m1 0h3m5 0h3m3 0h4m1 0h1m2 0h4m23 0h5m7 0h1m3 0h5m6 0h1m21 0h1m13 0h1m2 0h1m2 0h3m167 0h1m1 0h1m6 0h5M225 259.5h4m101 0h9m1 0h1m2 0h1m1 0h7m2 0h5m6 0h2m3 0h1m1 0h1m1 0h9m1 0h1m20 0h5m1 0h1m10 0h1m1 0h4m1 0h1m23 0h1m18 0h1m1 0h1m1 0h2m14 0h1m62 0h1m88 0h1m1 0h3m1 0h5m1 0h3m11 0h2m29 0h1M223 260.5h5m102 0h1m1 0h1m1 0h1m6 0h1m3 0h3m1 0h1m1 0h1m1 0h1m1 0h3m2 0h1m1 0h1m1 0h4m2 0h1m6 0h1m1 0h6m7 0h1m13 0h4m13 0h1m1 0h1m6 0h1m37 0h1m2 0h1m2 0h1m78 0h1m96 0h5m1 0h1m1 0h1m8 0h2m15 0h1m14 0h1M225 261.5h1m53 0h1m48 0h1m1 0h2m11 0h7m1 0h1m2 0h14m9 0h6m1 0h1m6 0h1m1 0h1m13 0h1m12 0h1m1 0h2m6 0h1m43 0h1m170 0h1m5 0h5m4 0h1m11 0h1M217 262.5h2m56 0h5m4 0h1m1 0h1m1 0h1m39 0h4m12 0h2m2 0h1m3 0h16m5 0h1m3 0h6m1 0h1m6 0h1m14 0h2m14 0h1m47 0h1m1 0h1m172 0h1m2 0h1m2 0h5m4 0h1m23 0h1m11 0h2m1 0h1M214 263.5h5m56 0h1m1 0h1m4 0h1m3 0h2m2 0h1m19 0h2m1 0h2m29 0h1m2 0h1m6 0h13m1 0h3m1 0h1m2 0h1m2 0h6m6 0h1m1 0h1m30 0h1m3 0h3m51 0h2m71 0h1m96 0h9m2 0h1m35 0h1m1 0h1M212 264.5h5m37 0h1m22 0h4m4 0h3m22 0h4m1 0h4m28 0h1m6 0h9m1 0h9m2 0h2m1 0h1m1 0h3m10 0h2m256 0h9m1 0h2m39 0h1M209 265.5h1m1 0h1m2 0h1m37 0h2m20 0h2m2 0h2m6 0h4m2 0h2m16 0h3m2 0h4m27 0h2m3 0h1m3 0h8m2 0h9m1 0h3m3 0h1m11 0h1m8 0h1m35 0h1m211 0h1m1 0h4m1 0h1m1 0h1m2 0h1m8 0h1m28 0h2M209 266.5h1m63 0h3m1 0h3m7 0h2m21 0h3m2 0h3m30 0h3m1 0h1m2 0h7m4 0h5m1 0h1m21 0h1m50 0h1m202 0h2m1 0h10m1 0h1m28 0h3m6 0h2M209 267.5h1m41 0h1m23 0h5m5 0h2m2 0h1m4 0h1m1 0h1m13 0h3m35 0h9m1 0h2m5 0h5m2 0h1m2 0h2m67 0h1m106 0h1m47 0h1m51 0h6m2 0h2m2 0h1m36 0h2m1 0h1M274 268.5h6m15 0h2m13 0h2m37 0h15m2 0h5m228 0h2m2 0h1m1 0h2m44 0h7m1 0h2m1 0h1m19 0h1m17 0h1m1 0h1M251 269.5h1m23 0h1m3 0h1m7 0h1m9 0h1m12 0h2m35 0h1m1 0h4m1 0h9m1 0h6m173 0h1m44 0h2m10 0h1m49 0h6m2 0h6m17 0h1M251 270.5h1m43 0h1m13 0h1m3 0h1m35 0h3m1 0h1m2 0h12m140 0h1m1 0h1m32 0h1m44 0h1m62 0h15M251 271.5h1m27 0h4m7 0h1m1 0h1m3 0h1m1 0h1m6 0h1m1 0h2m40 0h6m1 0h13m8 0h1m129 0h1m34 0h2m51 0h3m5 0h2m48 0h6m1 0h1m1 0h1m2 0h1M251 272.5h1m26 0h4m8 0h1m1 0h3m9 0h6m40 0h3m1 0h1m2 0h13m1 0h1m4 0h1m165 0h1m1 0h1m35 0h1m12 0h1m2 0h3m2 0h2m3 0h1m46 0h1m4 0h2m2 0h1m1 0h2m4 0h1m15 0h1M250 273.5h2m22 0h1m3 0h2m7 0h2m3 0h1m1 0h3m4 0h1m3 0h1m1 0h1m28 0h1m3 0h2m8 0h2m4 0h1m1 0h12m1 0h1m2 0h3m34 0h1m1 0h1m90 0h1m2 0h1m82 0h3m3 0h1m1 0h1m1 0h1m2 0h1m2 0h1m41 0h4m1 0h3m1 0h1m4 0h2m25 0h1m5 0h3M250 274.5h1m23 0h1m1 0h4m5 0h1m6 0h1m1 0h3m7 0h1m2 0h1m2 0h1m30 0h4m7 0h1m3 0h1m2 0h2m1 0h1m1 0h6m4 0h1m1 0h1m11 0h1m2 0h1m19 0h1m33 0h1m70 0h1m26 0h1m48 0h1m13 0h3m39 0h3m2 0h1m1 0h4m10 0h2m22 0h1m2 0h2m1 0h1M250 275.5h1m1 0h1m25 0h2m8 0h1m4 0h6m2 0h1m3 0h1m1 0h2m1 0h1m10 0h1m24 0h4m1 0h1m1 0h1m2 0h5m1 0h14m15 0h1m35 0h3m2 0h1m13 0h1m69 0h1m23 0h2m1 0h2m39 0h2m3 0h1m1 0h2m11 0h1m1 0h3m39 0h3m6 0h2m6 0h1m3 0h4m8 0h1m14 0h2M250 276.5h3m19 0h3m4 0h1m14 0h3m1 0h1m1 0h2m4 0h2m3 0h1m1 0h1m23 0h2m5 0h1m3 0h2m1 0h1m7 0h1m1 0h2m1 0h11m16 0h1m2 0h1m3 0h1m28 0h4m2 0h1m12 0h1m69 0h1m67 0h3m2 0h1m1 0h1m9 0h1m2 0h1m1 0h1m43 0h1m1 0h3m6 0h3m3 0h1m1 0h2m20 0h1m2 0h4M250 277.5h3m26 0h3m2 0h1m7 0h1m2 0h6m47 0h3m1 0h4m2 0h3m1 0h13m15 0h1m5 0h4m11 0h1m1 0h1m15 0h1m6 0h1m78 0h2m22 0h1m10 0h1m32 0h10m1 0h2m5 0h1m2 0h2m46 0h1m1 0h4m2 0h2m3 0h1m2 0h2m1 0h2m8 0h1m11 0h4M249 278.5h3m22 0h2m2 0h2m1 0h1m3 0h1m9 0h8m7 0h3m4 0h1m30 0h2m1 0h1m1 0h1m2 0h2m5 0h11m19 0h6m31 0h1m15 0h1m69 0h1m25 0h1m3 0h1m3 0h1m12 0h1m20 0h4m1 0h2m12 0h1m1 0h1m1 0h2m45 0h5m2 0h1m6 0h1m3 0h1m8 0h2m4 0h1m3 0h1M249 279.5h2m27 0h2m1 0h1m13 0h8m7 0h3m37 0h1m2 0h1m7 0h2m1 0h9m20 0h1m3 0h1m1 0h1m30 0h1m6 0h1m80 0h1m19 0h1m6 0h1m2 0h1m32 0h1m1 0h1m1 0h3m4 0h2m2 0h1m1 0h1m4 0h6m43 0h7m1 0h2m2 0h1m7 0h2m1 0h1m2 0h2m2 0h1m4 0h1m3 0h1M249 280.5h1m29 0h1m1 0h1m2 0h1m2 0h1m7 0h10m5 0h4m17 0h2m16 0h2m10 0h1m2 0h8m25 0h2m145 0h3m2 0h1m32 0h2m1 0h4m12 0h1m3 0h1m1 0h2m44 0h8m2 0h1m2 0h1m1 0h6m1 0h2m1 0h2m6 0h5m1 0h2m9 0h1M274 281.5h1m4 0h2m14 0h12m1 0h1m2 0h1m18 0h3m2 0h1m28 0h1m2 0h5m19 0h1m5 0h1m18 0h1m3 0h1m121 0h1m1 0h4m1 0h1m17 0h2m13 0h2m1 0h4m1 0h2m10 0h1m1 0h2m1 0h2m45 0h1m1 0h6m5 0h1m3 0h2m1 0h2m1 0h3m5 0h2m1 0h2m1 0h2m1 0h1m5 0h1M287 282.5h1m6 0h1m1 0h9m3 0h2m56 0h3m2 0h2m47 0h2m25 0h1m43 0h1m17 0h1m7 0h1m23 0h9m19 0h1m11 0h3m1 0h3m12 0h2m6 0h1m48 0h7m3 0h14m8 0h2m2 0h1m2 0h1m5 0h1M248 283.5h2m24 0h1m5 0h1m5 0h2m9 0h6m1 0h6m43 0h3m8 0h1m3 0h1m22 0h1m6 0h2m19 0h1m27 0h2m8 0h1m51 0h1m32 0h1m1 0h3m31 0h2m4 0h2m21 0h1m50 0h8m2 0h1m1 0h3m1 0h2m1 0h2m2 0h1m7 0h1m5 0h2m3 0h1m2 0h1m1 0h1M280 284.5h2m2 0h1m1 0h2m10 0h1m1 0h4m1 0h5m11 0h1m32 0h1m10 0h4m19 0h1m2 0h1m5 0h4m18 0h2m23 0h1m8 0h1m47 0h1m10 0h1m27 0h2m3 0h5m35 0h2m4 0h1m6 0h1m1 0h1m6 0h2m48 0h9m1 0h2m1 0h3m23 0h1m3 0h5M247 285.5h1m1 0h1m29 0h2m5 0h1m7 0h1m2 0h12m45 0h3m1 0h1m8 0h1m29 0h1m1 0h2m2 0h1m15 0h1m11 0h2m12 0h1m6 0h1m1 0h3m51 0h4m6 0h1m22 0h7m1 0h1m2 0h1m20 0h1m2 0h1m1 0h1m7 0h1m3 0h1m9 0h3m2 0h2m50 0h1m1 0h6m2 0h1m1 0h3m1 0h1m4 0h1m2 0h3m17 0h1m3 0h1M246 286.5h3m31 0h2m1 0h1m2 0h2m3 0h19m12 0h1m4 0h2m5 0h1m18 0h3m10 0h1m30 0h3m1 0h2m41 0h1m9 0h1m2 0h1m1 0h2m45 0h1m2 0h1m2 0h1m27 0h9m2 0h1m2 0h1m19 0h1m9 0h2m12 0h2m6 0h2m51 0h6m1 0h2m1 0h4m5 0h1m2 0h2m18 0h5M246 287.5h3m29 0h1m1 0h3m3 0h1m1 0h1m1 0h10m1 0h9m13 0h1m10 0h2m17 0h2m1 0h1m8 0h3m21 0h1m1 0h3m1 0h1m3 0h1m26 0h1m16 0h2m7 0h1m1 0h1m28 0h1m38 0h1m14 0h11m6 0h1m31 0h1m1 0h1m3 0h1m6 0h1m5 0h4m47 0h6m3 0h3m3 0h2m2 0h1m2 0h2m1 0h2m1 0h1m17 0h1m1 0h2M246 288.5h3m31 0h6m1 0h6m1 0h12m2 0h1m1 0h1m24 0h1m18 0h1m10 0h3m21 0h1m2 0h3m1 0h1m15 0h1m39 0h3m1 0h1m25 0h3m35 0h3m14 0h15m2 0h1m31 0h1m1 0h4m14 0h2m48 0h7m1 0h1m1 0h1m4 0h2m1 0h2m1 0h5m1 0h1m18 0h4M243 289.5h1m2 0h2m32 0h3m3 0h4m2 0h8m1 0h1m1 0h7m25 0h1m56 0h3m1 0h2m2 0h1m11 0h1m38 0h3m1 0h1m26 0h1m36 0h6m10 0h14m5 0h2m17 0h1m11 0h1m3 0h4m4 0h1m59 0h5m2 0h1m2 0h1m3 0h2m1 0h1m1 0h6m1 0h1m18 0h4M242 290.5h2m2 0h1m33 0h3m1 0h2m2 0h1m2 0h11m1 0h6m28 0h1m45 0h2m5 0h1m1 0h2m1 0h2m19 0h1m31 0h1m34 0h1m34 0h8m8 0h15m2 0h1m2 0h1m18 0h1m11 0h1m1 0h5m4 0h1m2 0h1m8 0h2m47 0h2m2 0h2m1 0h10m1 0h7m19 0h5M241 291.5h2m37 0h7m1 0h2m1 0h18m21 0h1m5 0h2m4 0h3m47 0h1m3 0h2m51 0h1m3 0h1m61 0h1m1 0h2m3 0h4m5 0h1m3 0h10m1 0h1m1 0h3m3 0h1m1 0h1m14 0h4m10 0h9m5 0h1m8 0h2m47 0h3m1 0h1m2 0h4m6 0h8m19 0h2m2 0h1M240 292.5h3m35 0h1m1 0h10m1 0h2m1 0h14m22 0h1m5 0h1m5 0h1m39 0h1m9 0h2m3 0h1m2 0h1m44 0h1m5 0h3m12 0h1m12 0h1m2 0h1m32 0h2m1 0h1m4 0h1m8 0h1m2 0h4m1 0h5m1 0h4m2 0h1m2 0h1m30 0h1m1 0h1m3 0h4m3 0h1m8 0h1m49 0h1m2 0h7m3 0h5m1 0h3m1 0h2m6 0h1M240 293.5h3m35 0h1m1 0h9m2 0h1m1 0h16m20 0h2m1 0h2m8 0h1m49 0h1m2 0h1m53 0h1m16 0h1m2 0h1m8 0h2m6 0h1m35 0h2m7 0h1m7 0h6m1 0h3m1 0h2m39 0h2m1 0h2m7 0h1m4 0h1m55 0h5m1 0h1m3 0h8m1 0h1m1 0h1m1 0h1M237 294.5h6m34 0h1m2 0h4m1 0h7m1 0h5m1 0h7m1 0h3m4 0h1m14 0h2m1 0h1m9 0h1m52 0h1m7 0h1m39 0h1m2 0h1m11 0h3m6 0h1m11 0h1m42 0h2m7 0h1m8 0h5m1 0h1m1 0h3m40 0h5m1 0h1m3 0h1m1 0h1m1 0h1m2 0h1m1 0h2m47 0h1m3 0h8m3 0h6m4 0h1m4 0h1M238 295.5h1m1 0h1m41 0h6m4 0h1m7 0h4m25 0h4m8 0h3m59 0h1m8 0h1m6 0h1m26 0h1m12 0h1m6 0h1m10 0h3m10 0h1m33 0h1m2 0h1m1 0h2m6 0h2m1 0h1m1 0h5m1 0h2m4 0h1m37 0h1m4 0h1m1 0h3m1 0h5m51 0h1m6 0h4m1 0h1m1 0h2m2 0h1m5 0h1M235 296.5h1m2 0h2m37 0h1m5 0h1m45 0h4m91 0h1m24 0h1m2 0h1m1 0h1m3 0h2m1 0h3m12 0h2m4 0h1m5 0h1m32 0h1m2 0h1m3 0h2m12 0h6m1 0h1m4 0h1m40 0h10m1 0h2m56 0h5m4 0h1m3 0h1M236 297.5h1m54 0h4m31 0h1m1 0h2m65 0h1m1 0h1m22 0h1m2 0h3m22 0h1m5 0h1m1 0h3m2 0h2m2 0h1m62 0h2m7 0h3m1 0h1m1 0h11m12 0h1m29 0h14m53 0h10m3 0h1M280 298.5h2m10 0h2m34 0h2m67 0h1m22 0h3m1 0h2m30 0h2m1 0h1m2 0h1m2 0h1m3 0h1m56 0h4m3 0h1m1 0h3m1 0h2m1 0h7m3 0h1m2 0h1m4 0h1m1 0h1m1 0h1m1 0h1m28 0h8m3 0h2m1 0h1M293 299.5h2m33 0h2m67 0h2m19 0h1m1 0h2m3 0h2m32 0h4m2 0h1m62 0h1m3 0h2m1 0h1m1 0h4m1 0h8m1 0h3m1 0h1m4 0h1m3 0h1m5 0h1m25 0h8m2 0h1m14 0h1m56 0h1M328 300.5h3m66 0h1m21 0h4m26 0h1m2 0h1m8 0h1m77 0h3m1 0h8m2 0h1m2 0h1m4 0h4m6 0h1m27 0h5m9 0h1m8 0h1M324 301.5h1m2 0h4m85 0h1m1 0h3m32 0h1m7 0h2m75 0h1m1 0h1m2 0h10m2 0h2m1 0h1m1 0h1m2 0h2m9 0h1m15 0h1m1 0h1m1 0h1m1 0h1m1 0h4m16 0h1m3 0h2m56 0h1M294 302.5h3m20 0h1m9 0h1m1 0h1m69 0h1m17 0h2m34 0h1m5 0h1m1 0h2m10 0h2m7 0h1m31 0h1m24 0h2m1 0h10m1 0h3m1 0h1m1 0h3m1 0h2m1 0h1m25 0h2m1 0h9m9 0h3M294 303.5h3m25 0h1m4 0h4m68 0h1m15 0h5m2 0h1m27 0h2m1 0h1m7 0h2m27 0h1m23 0h1m9 0h1m14 0h10m1 0h3m1 0h1m1 0h2m1 0h2m1 0h4m26 0h1m1 0h4m1 0h7m16 0h1M294 304.5h3m29 0h5m84 0h4m2 0h2m30 0h1m18 0h3m15 0h1m33 0h4m11 0h15m5 0h1m2 0h2m2 0h1m1 0h1m24 0h12m8 0h1m2 0h1M294 305.5h3m29 0h4m5 0h1m79 0h7m3 0h2m4 0h1m1 0h2m1 0h2m35 0h1m51 0h1m14 0h15m4 0h1m1 0h1m1 0h1m2 0h1m26 0h12m12 0h1M294 306.5h3m29 0h4m14 0h1m70 0h9m1 0h1m7 0h3m35 0h1m1 0h1m14 0h3m30 0h1m1 0h1m3 0h1m11 0h15m2 0h1m3 0h2m3 0h3m1 0h1m2 0h3m2 0h1m1 0h1m13 0h13M295 307.5h3m28 0h1m1 0h2m84 0h1m1 0h8m7 0h6m53 0h1m31 0h1m2 0h1m13 0h1m1 0h12m8 0h1m1 0h1m2 0h3m2 0h1m1 0h4m1 0h3m9 0h1m2 0h10m1 0h1M296 308.5h2m27 0h5m12 0h1m73 0h7m1 0h1m7 0h6m1 0h1m81 0h1m18 0h2m1 0h1m1 0h10m11 0h3m1 0h5m17 0h12M296 309.5h2m27 0h7m1 0h1m12 0h1m62 0h1m5 0h8m1 0h1m6 0h6m2 0h1m93 0h1m7 0h1m5 0h1m1 0h1m1 0h1m1 0h1m1 0h1m9 0h1m1 0h4m1 0h5m3 0h1m10 0h1m1 0h10M295 310.5h3m27 0h5m86 0h3m1 0h5m9 0h2m2 0h1m90 0h2m2 0h1m8 0h1m4 0h2m4 0h1m1 0h1m10 0h4m1 0h4m4 0h3m3 0h1m5 0h11m1 0h1M296 311.5h2m27 0h1m2 0h1m1 0h1m83 0h1m1 0h3m1 0h5m11 0h2m1 0h1m25 0h1m75 0h1m2 0h3m1 0h1m1 0h1m1 0h5m10 0h1m2 0h5m1 0h1m4 0h1m9 0h9M320 312.5h2m3 0h1m2 0h1m87 0h3m2 0h3m1 0h2m34 0h1m1 0h2m31 0h1m44 0h1m2 0h3m4 0h2m1 0h3m9 0h3m1 0h2m1 0h2m1 0h1m4 0h3m1 0h1m7 0h6m30 0h1M324 313.5h1m2 0h1m69 0h1m14 0h1m1 0h1m5 0h3m16 0h1m23 0h3m8 0h1m11 0h1m9 0h2m45 0h4m1 0h1m3 0h11m1 0h1m3 0h1m3 0h7m3 0h1m13 0h4m28 0h2M327 314.5h1m125 0h1m5 0h1m14 0h1m11 0h1m1 0h1m50 0h2m3 0h6m1 0h10m4 0h2m1 0h1m1 0h8m14 0h2m1 0h1m4 0h1m27 0h2M326 315.5h4m109 0h2m20 0h1m2 0h1m4 0h1m4 0h1m20 0h1m49 0h2m3 0h10m2 0h6m2 0h9m12 0h2m7 0h1M306 316.5h1m15 0h1m1 0h1m1 0h4m15 0h1m123 0h1m18 0h1m58 0h1m1 0h1m3 0h4m3 0h2m4 0h14m18 0h2m25 0h1m2 0h1M306 317.5h1m15 0h1m1 0h1m1 0h2m15 0h1m88 0h1m6 0h2m9 0h1m17 0h1m6 0h1m72 0h2m2 0h3m2 0h1m1 0h2m1 0h2m1 0h6m1 0h7m21 0h1m3 0h1m8 0h2M316 318.5h2m5 0h4m104 0h3m39 0h1m14 0h1m63 0h4m1 0h18m2 0h1m28 0h1M316 319.5h1m6 0h4m90 0h2m11 0h1m1 0h1m1 0h2m1 0h1m12 0h1m40 0h1m61 0h2m4 0h3m1 0h5m1 0h6m1 0h1m1 0h1m1 0h1m24 0h1m14 0h2M323 320.5h4m96 0h1m3 0h1m4 0h2m56 0h1m2 0h1m58 0h3m3 0h1m1 0h3m1 0h2m2 0h3m1 0h3m30 0h2m12 0h1M314 321.5h1m8 0h3m107 0h1m54 0h1m63 0h5m1 0h1m1 0h6m2 0h3m2 0h1M323 322.5h3m6 0h1m93 0h2m124 0h4m1 0h1m3 0h2m1 0h2m2 0h1m1 0h1m9 0h1m18 0h1m1 0h3m1 0h2m6 0h1M323 323.5h3m100 0h1m124 0h5m2 0h5m1 0h2m7 0h1m4 0h1m18 0h1m1 0h1m1 0h1m1 0h1m8 0h1M322 324.5h4m93 0h1m131 0h6m1 0h1m3 0h2m4 0h6m23 0h2m1 0h5m6 0h3M322 325.5h4m90 0h1m2 0h1m6 0h1m21 0h1m15 0h1m87 0h5m2 0h2m10 0h3m4 0h1m18 0h2m3 0h3m6 0h1m4 0h1m1 0h1M313 326.5h1m8 0h4m12 0h1m86 0h2m37 0h1m18 0h1m68 0h1m1 0h4m9 0h1m3 0h1m1 0h1m3 0h1m3 0h1m16 0h1m1 0h5m5 0h1m4 0h1m2 0h1M313 327.5h1m111 0h3m19 0h1m36 0h1m32 0h1m3 0h1m31 0h1m1 0h1m3 0h1m7 0h2m1 0h4m2 0h1m4 0h1m1 0h2m12 0h1m2 0h2m1 0h1m16 0h1m1 0h1M455 328.5h1m62 0h2m14 0h1m16 0h2m2 0h3m10 0h2m1 0h1m1 0h1m4 0h7m12 0h1m1 0h6m6 0h1m8 0h1M419 329.5h1m28 0h1m35 0h1m6 0h2m21 0h1m2 0h1m3 0h1m30 0h5m18 0h1m1 0h5m1 0h3m12 0h1m1 0h7m4 0h1M449 330.5h1m40 0h1m22 0h5m14 0h1m4 0h2m13 0h1m3 0h1m15 0h1m1 0h9m14 0h2m3 0h4m5 0h1m1 0h1m6 0h1m1 0h1M409 331.5h1m3 0h1m1 0h4m21 0h1m8 0h1m5 0h1m57 0h1m1 0h1m1 0h2m9 0h1m4 0h1m1 0h4m13 0h4m3 0h1m14 0h3m1 0h5m1 0h2m11 0h2m2 0h6m2 0h5m8 0h1M333 332.5h1m75 0h1m3 0h1m1 0h2m32 0h1m1 0h5m37 0h1m21 0h1m1 0h2m1 0h1m8 0h2m4 0h3m14 0h2m1 0h2m1 0h2m13 0h4m1 0h5m8 0h1m9 0h6m3 0h6m1 0h1M324 333.5h1m7 0h2m15 0h1m57 0h1m4 0h2m1 0h3m1 0h1m31 0h3m52 0h2m5 0h2m2 0h1m3 0h1m7 0h1m6 0h1m2 0h1m2 0h1m9 0h2m1 0h1m3 0h3m5 0h2m4 0h3m1 0h4m1 0h1m5 0h1m2 0h2m2 0h1m1 0h2m1 0h1m3 0h3m1 0h7m5 0h1M324 334.5h1m1 0h2m5 0h1m15 0h1m46 0h1m12 0h1m1 0h1m2 0h1m1 0h1m32 0h1m1 0h2m23 0h1m1 0h1m6 0h4m1 0h1m12 0h2m1 0h1m7 0h2m2 0h4m7 0h1m23 0h6m2 0h1m3 0h2m1 0h1m2 0h2m1 0h4m1 0h2m16 0h1m1 0h1m1 0h1m1 0h1m1 0h2m2 0h5m7 0h1M325 335.5h1m2 0h1m3 0h2m77 0h2m1 0h7m11 0h1m11 0h1m3 0h1m1 0h2m24 0h1m5 0h9m13 0h1m1 0h1m5 0h1m6 0h2m8 0h1m1 0h1m2 0h1m1 0h3m17 0h3m9 0h11m16 0h1m2 0h1m11 0h3m4 0h1m3 0h1M326 336.5h1m1 0h1m81 0h12m30 0h1m24 0h1m4 0h9m5 0h1m7 0h1m1 0h1m7 0h1m5 0h2m8 0h2m3 0h1m16 0h3m2 0h2m1 0h1m4 0h1m1 0h1m6 0h4m11 0h2m7 0h3m2 0h1m5 0h2m1 0h2m7 0h1m9 0h2M332 337.5h1m54 0h1m20 0h1m1 0h7m1 0h2m30 0h1m25 0h5m2 0h8m3 0h1m11 0h1m1 0h1m1 0h2m1 0h1m8 0h2m6 0h1m25 0h2m7 0h1m1 0h1m1 0h1m4 0h4m13 0h1m2 0h1m1 0h1m1 0h3m1 0h2m5 0h1m12 0h1m6 0h1m2 0h1M327 338.5h2m58 0h1m4 0h1m15 0h1m1 0h11m12 0h1m40 0h7m1 0h10m12 0h1m1 0h3m1 0h2m11 0h1m5 0h2m2 0h1m22 0h1m17 0h1m2 0h2m15 0h1m1 0h1m1 0h2m21 0h1m3 0h3m1 0h2M329 339.5h1m55 0h2m2 0h1m20 0h12m51 0h3m1 0h2m2 0h16m8 0h1m1 0h1m3 0h1m9 0h2m3 0h2m3 0h1m31 0h1m12 0h1m16 0h1m1 0h5m22 0h1m1 0h5M329 340.5h1m56 0h2m14 0h1m1 0h1m1 0h1m4 0h5m2 0h2m1 0h2m53 0h1m1 0h15m1 0h3m24 0h1m72 0h1m1 0h2m21 0h1m2 0h4m3 0h6M383 341.5h1m6 0h1m12 0h1m7 0h5m1 0h1m1 0h1m1 0h2m18 0h1m31 0h1m1 0h1m1 0h6m1 0h13m7 0h1m4 0h1m66 0h2m16 0h1m2 0h1m25 0h5m2 0h1m1 0h3m1 0h1m1 0h5M331 342.5h2m49 0h1m2 0h1m1 0h1m4 0h1m10 0h1m1 0h2m4 0h9m1 0h2m30 0h1m25 0h3m1 0h9m1 0h1m1 0h1m1 0h1m126 0h2m1 0h1m2 0h1m1 0h5m2 0h3m5 0h3M356 343.5h1m3 0h2m20 0h3m1 0h1m2 0h1m5 0h1m4 0h1m1 0h3m6 0h6m1 0h2m1 0h2m56 0h1m1 0h15m20 0h1m55 0h3m48 0h2m1 0h1m1 0h1m1 0h6m1 0h2m1 0h1m4 0h12m5 0h2M356 344.5h2m2 0h3m17 0h1m2 0h2m3 0h2m4 0h3m3 0h2m9 0h10m1 0h2m55 0h1m1 0h14m2 0h1m19 0h2m25 0h1m25 0h1m1 0h1m1 0h1m1 0h1m41 0h1m1 0h1m3 0h3m3 0h5m5 0h1m4 0h14m2 0h3M350 345.5h2m6 0h1m21 0h1m1 0h5m3 0h1m2 0h3m1 0h3m1 0h3m8 0h7m1 0h1m1 0h2m58 0h15m17 0h2m28 0h1m27 0h3m41 0h4m1 0h1m1 0h4m1 0h7m2 0h1m1 0h1m4 0h6m1 0h8m4 0h1M358 346.5h1m22 0h2m1 0h1m3 0h1m5 0h1m2 0h6m9 0h6m1 0h1m1 0h3m57 0h11m1 0h4m20 0h2m1 0h1m96 0h5m1 0h1m1 0h2m1 0h12m4 0h9m1 0h2m1 0h2m4 0h2M340 347.5h4m36 0h6m3 0h1m5 0h1m4 0h2m12 0h1m2 0h2m1 0h5m56 0h16m18 0h6m5 0h1m76 0h1m13 0h4m2 0h1m4 0h11m4 0h13m1 0h1m6 0h1m1 0h1m4 0h5M342 348.5h1m31 0h1m5 0h4m1 0h1m3 0h3m1 0h1m1 0h7m4 0h1m7 0h1m1 0h2m1 0h5m4 0h1m52 0h13m24 0h1m1 0h1m4 0h2m7 0h1m67 0h2m13 0h4m1 0h2m5 0h1m1 0h7m6 0h7m1 0h1m1 0h2m6 0h1m2 0h2m1 0h3m1 0h1m1 0h2M380 349.5h5m8 0h1m1 0h7m4 0h1m1 0h3m2 0h2m2 0h8m57 0h12m24 0h3m81 0h2m13 0h1m1 0h4m5 0h9m1 0h1m6 0h1m1 0h6m1 0h1m11 0h1m1 0h3m1 0h6M381 350.5h6m1 0h1m3 0h7m7 0h3m4 0h1m1 0h10m2 0h3m50 0h1m2 0h11m25 0h1m1 0h1m3 0h1m75 0h3m14 0h6m1 0h2m2 0h9m2 0h1m6 0h5m1 0h2m2 0h1m10 0h6m3 0h1M375 351.5h2m6 0h2m4 0h9m8 0h4m1 0h1m2 0h15m51 0h15m26 0h1m20 0h1m76 0h4m2 0h13m7 0h8m1 0h5m5 0h2m4 0h4m3 0h3M361 352.5h2m13 0h1m12 0h10m3 0h1m2 0h4m1 0h2m2 0h10m2 0h3m53 0h13m24 0h5m1 0h1m15 0h1m3 0h2m31 0h1m40 0h2m1 0h16m9 0h10m15 0h1m1 0h10M361 353.5h3m12 0h1m12 0h9m5 0h1m1 0h1m2 0h2m3 0h1m1 0h5m1 0h1m1 0h1m1 0h3m52 0h16m83 0h1m38 0h2m1 0h17m1 0h2m4 0h11m6 0h3m1 0h1m2 0h1m1 0h14M361 354.5h3m25 0h5m2 0h1m8 0h3m1 0h1m1 0h1m8 0h1m3 0h3m53 0h16m45 0h3m8 0h2m1 0h1m51 0h1m9 0h7m1 0h15m7 0h2m1 0h2m1 0h2m4 0h1m3 0h1m2 0h2m2 0h4m2 0h11M351 355.5h1m11 0h3m6 0h1m1 0h1m1 0h1m14 0h7m11 0h3m2 0h1m6 0h1m4 0h1m23 0h1m28 0h17m45 0h1m1 0h1m7 0h4m49 0h2m11 0h11m2 0h2m1 0h1m1 0h1m1 0h1m8 0h1m1 0h1m2 0h1m3 0h1m3 0h1m2 0h2m1 0h2m2 0h16m1 0h4M363 356.5h4m6 0h1m16 0h1m1 0h1m1 0h1m9 0h1m3 0h2m40 0h1m28 0h17m45 0h1m2 0h2m7 0h4m50 0h1m8 0h1m2 0h2m1 0h7m5 0h3m2 0h1m8 0h4m1 0h1m7 0h1m3 0h3m4 0h12m1 0h5m1 0h1M360 357.5h1m3 0h3m5 0h1m20 0h2m1 0h1m10 0h2m13 0h1m58 0h15m2 0h1m42 0h1m1 0h1m8 0h2m1 0h2m49 0h1m12 0h9m5 0h2m2 0h1m8 0h7m14 0h22m1 0h1M360 358.5h1m2 0h4m5 0h1m4 0h1m11 0h2m1 0h3m1 0h1m1 0h1m5 0h2m2 0h1m41 0h1m30 0h14m56 0h2m2 0h3m8 0h1m53 0h7m1 0h1m3 0h1m1 0h2m12 0h5m15 0h21m1 0h1m1 0h2M364 359.5h2m9 0h3m16 0h1m3 0h1m6 0h1m14 0h1m9 0h1m12 0h1m6 0h1m30 0h13m1 0h2m44 0h1m8 0h1m1 0h1m3 0h1m63 0h9m4 0h2m2 0h1m5 0h1m1 0h10m5 0h2m7 0h1m1 0h3m2 0h2m1 0h5m1 0h2m2 0h1m1 0h1M364 360.5h1m10 0h3m9 0h4m2 0h1m1 0h3m1 0h1m3 0h5m1 0h2m27 0h4m1 0h2m37 0h1m5 0h5m3 0h1m53 0h4m1 0h2m1 0h1m58 0h1m4 0h1m1 0h7m1 0h6m9 0h8m14 0h1m1 0h3m4 0h7m1 0h1m1 0h2m1 0h1M371 361.5h1m3 0h1m7 0h1m4 0h1m6 0h11m1 0h1m7 0h2m1 0h3m18 0h2m1 0h2m21 0h1m15 0h2m2 0h1m1 0h9m4 0h1m51 0h1m1 0h3m12 0h1m54 0h5m3 0h7m6 0h1m2 0h2m1 0h7m5 0h1m7 0h1m1 0h1m1 0h1m1 0h1m2 0h7m1 0h6m1 0h1M384 362.5h1m5 0h1m5 0h12m3 0h1m1 0h3m4 0h2m14 0h3m17 0h1m23 0h1m1 0h2m2 0h1m1 0h4m1 0h8m48 0h5m1 0h4m10 0h1m34 0h1m20 0h1m1 0h12m6 0h1m2 0h1m1 0h1m1 0h4m7 0h1m10 0h1m2 0h1m3 0h3m1 0h1m1 0h2m3 0h2m1 0h1M381 363.5h1m1 0h1m13 0h2m1 0h1m1 0h3m1 0h1m4 0h6m31 0h2m30 0h1m1 0h13m1 0h2m1 0h2m4 0h1m42 0h1m2 0h2m3 0h2m1 0h1m16 0h2m47 0h12m9 0h4m1 0h6m1 0h1m4 0h1m17 0h4m1 0h1m2 0h3M356 364.5h3m24 0h3m1 0h1m7 0h1m1 0h2m2 0h1m3 0h4m4 0h1m6 0h1m23 0h1m2 0h1m9 0h1m1 0h2m6 0h1m14 0h19m40 0h1m7 0h3m1 0h1m1 0h5m7 0h1m1 0h1m34 0h1m1 0h1m9 0h1m10 0h12m6 0h1m2 0h1m1 0h6m13 0h2m5 0h1m2 0h12m1 0h4M356 365.5h3m20 0h2m1 0h3m4 0h1m7 0h1m3 0h4m1 0h1m6 0h2m29 0h1m1 0h7m4 0h4m1 0h4m5 0h1m1 0h1m8 0h15m3 0h2m2 0h2m42 0h1m1 0h4m1 0h2m1 0h2m1 0h1m7 0h1m35 0h2m1 0h1m3 0h1m15 0h3m1 0h7m6 0h5m1 0h5m5 0h1m8 0h2m1 0h1m6 0h13m2 0h2M357 366.5h1m21 0h1m1 0h5m3 0h1m1 0h3m9 0h2m13 0h1m11 0h3m6 0h1m5 0h6m1 0h4m1 0h3m1 0h1m6 0h1m2 0h3m2 0h1m4 0h15m6 0h4m38 0h1m1 0h1m1 0h4m3 0h6m7 0h2m36 0h1m1 0h1m4 0h3m7 0h1m1 0h3m2 0h1m4 0h5m4 0h14m4 0h1m5 0h1m1 0h4m3 0h2m2 0h9m1 0h2m1 0h1m1 0h2M363 367.5h1m14 0h7m6 0h3m4 0h1m13 0h1m4 0h2m13 0h2m5 0h1m1 0h8m2 0h5m1 0h2m2 0h1m6 0h3m1 0h6m4 0h14m6 0h1m1 0h2m41 0h9m1 0h1m1 0h3m44 0h2m5 0h1m1 0h4m1 0h4m2 0h4m4 0h8m2 0h3m1 0h10m3 0h1m1 0h2m4 0h4m2 0h7m2 0h14M378 368.5h6m6 0h4m1 0h1m21 0h1m12 0h2m1 0h1m4 0h12m1 0h1m1 0h1m1 0h1m2 0h1m4 0h2m4 0h6m1 0h1m4 0h7m2 0h6m4 0h4m1 0h1m1 0h1m39 0h6m4 0h5m1 0h1m50 0h1m2 0h2m1 0h2m4 0h4m4 0h9m5 0h8m6 0h9m1 0h2m3 0h2m5 0h12m1 0h2M361 369.5h1m17 0h1m1 0h2m8 0h2m36 0h1m1 0h1m1 0h1m3 0h1m1 0h2m1 0h2m1 0h7m1 0h5m10 0h2m1 0h4m1 0h3m1 0h2m1 0h1m1 0h2m2 0h7m2 0h1m2 0h3m1 0h1m1 0h3m36 0h8m5 0h3m52 0h2m1 0h2m1 0h2m1 0h1m2 0h1m8 0h2m1 0h1m2 0h1m3 0h11m8 0h1m1 0h1m2 0h2m2 0h1m2 0h3m5 0h1m2 0h8m2 0h3M361 370.5h1m20 0h2m8 0h1m36 0h2m1 0h2m2 0h4m2 0h6m1 0h1m1 0h4m1 0h1m11 0h2m1 0h3m1 0h1m2 0h1m3 0h1m7 0h1m1 0h5m2 0h5m1 0h3m1 0h1m37 0h7m3 0h7m13 0h1m1 0h1m31 0h1m3 0h1m1 0h3m6 0h1m6 0h3m1 0h7m1 0h1m2 0h9m7 0h3m5 0h6m11 0h4m2 0h2m1 0h2M381 371.5h2m3 0h1m17 0h1m3 0h1m21 0h1m1 0h2m2 0h1m2 0h1m2 0h10m3 0h1m8 0h1m3 0h2m3 0h1m6 0h1m6 0h2m1 0h1m4 0h3m1 0h9m42 0h5m3 0h5m52 0h1m3 0h1m9 0h12m1 0h4m1 0h9m9 0h2m4 0h4m14 0h3m3 0h2m1 0h1M373 372.5h1m9 0h4m20 0h3m24 0h1m1 0h4m2 0h10m1 0h2m1 0h2m3 0h1m1 0h1m4 0h1m3 0h1m14 0h1m8 0h11m1 0h1m42 0h1m4 0h1m2 0h1m60 0h1m5 0h1m1 0h5m1 0h6m2 0h14m2 0h1m5 0h1m6 0h6m9 0h1m2 0h1m1 0h1m3 0h4M367 373.5h1m14 0h3m24 0h1m24 0h3m2 0h1m1 0h1m1 0h16m12 0h5m10 0h1m1 0h2m5 0h6m1 0h8m49 0h1m2 0h1m46 0h2m17 0h2m1 0h1m1 0h1m1 0h2m1 0h2m1 0h11m2 0h1m15 0h1m1 0h5m5 0h1m1 0h4m9 0h2m1 0h1M378 374.5h1m3 0h3m17 0h1m2 0h1m30 0h1m1 0h17m3 0h1m14 0h2m14 0h1m1 0h1m1 0h1m1 0h15m49 0h1m36 0h1m16 0h1m14 0h2m6 0h5m2 0h1m1 0h5m1 0h1m3 0h1m14 0h1m1 0h5m5 0h4m8 0h1m1 0h2m1 0h2M435 375.5h1m1 0h15m1 0h6m13 0h4m1 0h1m12 0h1m4 0h4m1 0h1m1 0h2m1 0h2m1 0h3m102 0h1m15 0h1m2 0h2m1 0h1m2 0h18m2 0h1m11 0h7m3 0h5m3 0h1m1 0h3m1 0h3m4 0h1M427 376.5h1m7 0h1m1 0h5m1 0h15m13 0h1m1 0h2m18 0h6m1 0h12m94 0h1m1 0h1m4 0h1m18 0h1m3 0h6m3 0h1m1 0h3m1 0h1m2 0h1m15 0h5m9 0h1m6 0h1m1 0h7m1 0h1M409 377.5h3m7 0h1m15 0h2m1 0h16m1 0h2m16 0h2m19 0h12m1 0h6m92 0h4m26 0h1m1 0h4m4 0h7m2 0h1m1 0h3m2 0h1m2 0h1m3 0h1m1 0h5m16 0h1m1 0h1m1 0h2m1 0h1M406 378.5h2m2 0h2m7 0h1m15 0h2m1 0h15m41 0h12m1 0h5m89 0h1m2 0h1m1 0h3m1 0h1m2 0h1m18 0h1m4 0h1m2 0h1m5 0h7m1 0h2m2 0h1m11 0h1m1 0h4m4 0h1m10 0h7M382 379.5h1m22 0h2m4 0h1m7 0h2m15 0h18m1 0h1m1 0h1m36 0h1m1 0h19m56 0h2m24 0h5m3 0h6m17 0h3m2 0h2m3 0h2m1 0h1m3 0h1m1 0h9m1 0h2m11 0h4m17 0h6m1 0h5M404 380.5h1m30 0h1m1 0h17m9 0h1m31 0h1m1 0h1m2 0h10m5 0h1m55 0h1m25 0h13m2 0h2m1 0h1m12 0h2m6 0h2m9 0h5m1 0h1m2 0h3m5 0h1m4 0h5m2 0h1m13 0h1m4 0h1m1 0h2m1 0h2m2 0h2M435 381.5h12m1 0h3m2 0h2m7 0h2m32 0h12m2 0h1m2 0h1m1 0h2m52 0h3m23 0h1m1 0h14m1 0h3m20 0h1m1 0h1m8 0h2m1 0h3m3 0h1m1 0h2m7 0h3m1 0h1m1 0h3m1 0h1m8 0h1m4 0h1m3 0h1m1 0h1m1 0h2m3 0h1M415 382.5h1m19 0h1m2 0h6m1 0h2m6 0h5m3 0h1m1 0h1m33 0h21m77 0h1m1 0h14m1 0h2m16 0h2m4 0h1m10 0h3m1 0h7m5 0h2m5 0h2m1 0h3m13 0h2m2 0h3m1 0h2m1 0h6M431 383.5h1m3 0h1m1 0h5m1 0h4m7 0h3m1 0h1m1 0h4m33 0h21m1 0h1m75 0h8m1 0h12m25 0h1m3 0h3m2 0h2m1 0h1m1 0h2m2 0h1m5 0h1m3 0h5m3 0h1m11 0h2m2 0h2m2 0h3m1 0h2m2 0h1M404 384.5h3m27 0h1m2 0h2m1 0h2m2 0h4m5 0h9m36 0h2m1 0h17m3 0h1m76 0h19m1 0h2m21 0h2m1 0h1m1 0h3m1 0h1m12 0h2m1 0h1m19 0h1m1 0h1m1 0h3m1 0h5m6 0h1m1 0h2M432 385.5h1m4 0h1m1 0h1m1 0h1m2 0h1m8 0h11m1 0h3m31 0h17m2 0h4m2 0h1m73 0h17m1 0h1m24 0h2m1 0h2m1 0h3m5 0h2m3 0h1m5 0h1m9 0h3m15 0h6m10 0h1M397 386.5h2m35 0h1m5 0h2m2 0h1m10 0h7m4 0h1m31 0h1m1 0h2m1 0h14m1 0h1m1 0h1m1 0h3m73 0h20m24 0h1m3 0h1m1 0h1m3 0h2m1 0h1m1 0h2m1 0h1m3 0h1m1 0h1m11 0h1m11 0h1m4 0h5m10 0h2M397 387.5h1m37 0h1m1 0h1m4 0h1m1 0h2m1 0h2m2 0h4m1 0h5m39 0h1m2 0h2m1 0h13m5 0h1m76 0h16m4 0h1m2 0h1m21 0h1m10 0h3m4 0h2m1 0h3m1 0h2m1 0h1m11 0h1m5 0h1m2 0h1m8 0h4M409 388.5h1m24 0h1m1 0h1m2 0h4m4 0h3m2 0h7m41 0h1m1 0h1m2 0h14m1 0h1m79 0h18m1 0h1m1 0h1m2 0h1m10 0h1m22 0h2m1 0h1m4 0h1m11 0h1m1 0h1m1 0h1m1 0h1m1 0h1m6 0h1m2 0h1m6 0h2M435 389.5h2m2 0h1m2 0h1m1 0h6m1 0h10m5 0h2m32 0h2m5 0h12m1 0h1m1 0h1m2 0h2m4 0h2m67 0h3m1 0h1m2 0h4m1 0h3m1 0h1m3 0h2m2 0h2m8 0h1m24 0h1m2 0h1m1 0h1m3 0h1m15 0h1m3 0h1m7 0h1m3 0h1m2 0h1M436 390.5h1m2 0h1m1 0h18m3 0h1m2 0h2m1 0h3m28 0h5m3 0h1m5 0h2m3 0h1m1 0h1m1 0h1m1 0h4m4 0h1m68 0h1m2 0h10m1 0h4m1 0h6m8 0h6m11 0h2m6 0h1m5 0h1m16 0h1m1 0h4m15 0h4m9 0h1M399 391.5h1m9 0h1m31 0h1m3 0h1m3 0h2m1 0h9m37 0h7m7 0h3m2 0h1m2 0h9m3 0h1m70 0h1m1 0h1m1 0h6m1 0h3m2 0h9m6 0h4m1 0h1m25 0h1m17 0h4m7 0h2m5 0h3m1 0h3M389 392.5h2m3 0h2m4 0h1m1 0h1m40 0h1m1 0h2m5 0h7m40 0h7m6 0h5m1 0h1m1 0h11m17 0h1m54 0h9m3 0h4m1 0h2m1 0h3m1 0h1m6 0h6m17 0h1m1 0h1m5 0h1m1 0h1m13 0h4m1 0h2m2 0h1m4 0h1m2 0h9m8 0h1M402 393.5h1m40 0h1m1 0h3m1 0h9m1 0h1m41 0h1m1 0h1m1 0h3m5 0h2m4 0h1m1 0h11m70 0h1m1 0h1m2 0h1m1 0h3m1 0h1m2 0h3m13 0h8m9 0h1m5 0h1m26 0h15m1 0h9m7 0h2m9 0h1M391 394.5h1m12 0h1m5 0h1m32 0h1m1 0h3m1 0h8m1 0h1m46 0h1m1 0h1m5 0h3m2 0h16m67 0h1m1 0h2m2 0h4m2 0h7m3 0h3m8 0h6m17 0h1m25 0h12m1 0h3m3 0h1m1 0h3m5 0h5m8 0h2M399 395.5h1m8 0h3m32 0h16m50 0h3m1 0h3m1 0h1m2 0h17m9 0h1m21 0h1m35 0h1m5 0h1m1 0h2m1 0h3m7 0h1m3 0h1m1 0h1m1 0h3m1 0h1m1 0h1m11 0h4m13 0h1m1 0h1m9 0h1m2 0h1m2 0h1m1 0h6m2 0h1m3 0h1m4 0h1m2 0h2m2 0h1m2 0h1m8 0h1M407 396.5h7m8 0h1m14 0h1m1 0h1m2 0h2m3 0h1m1 0h9m2 0h3m6 0h3m37 0h5m7 0h16m11 0h1m19 0h2m34 0h2m5 0h1m1 0h6m15 0h1m2 0h1m1 0h1m9 0h7m2 0h1m1 0h1m1 0h2m25 0h5m1 0h1m3 0h2m4 0h1m2 0h2m2 0h1m4 0h1m4 0h4M388 397.5h1m17 0h4m1 0h4m11 0h1m1 0h1m8 0h1m1 0h1m1 0h3m1 0h7m1 0h2m1 0h3m1 0h1m1 0h2m6 0h1m39 0h4m3 0h1m3 0h16m6 0h1m29 0h1m30 0h2m2 0h1m2 0h5m1 0h2m15 0h3m10 0h6m1 0h1m5 0h4m20 0h1m3 0h9m7 0h1m3 0h2m1 0h2m9 0h3m1 0h1M389 398.5h2m16 0h1m4 0h1m1 0h2m2 0h1m7 0h2m1 0h1m9 0h4m1 0h2m1 0h3m1 0h2m2 0h1m1 0h3m9 0h1m3 0h1m36 0h5m2 0h1m2 0h17m68 0h2m1 0h2m1 0h2m1 0h1m1 0h3m10 0h1m3 0h1m1 0h1m4 0h1m6 0h3m5 0h1m5 0h3m23 0h10m11 0h2m1 0h1m10 0h1m1 0h2M418 399.5h1m7 0h1m14 0h4m1 0h2m1 0h1m1 0h2m1 0h2m2 0h1m1 0h2m1 0h3m46 0h1m4 0h1m1 0h18m9 0h1m58 0h3m1 0h1m5 0h2m19 0h1m7 0h2m2 0h3m2 0h3m6 0h1m20 0h5m1 0h7m12 0h2m13 0h2m1 0h1M418 400.5h1m6 0h1m1 0h1m3 0h1m10 0h2m2 0h2m1 0h1m4 0h1m3 0h4m2 0h1m45 0h1m9 0h18m8 0h1m61 0h2m6 0h3m28 0h1m1 0h2m1 0h1m3 0h1m18 0h2m2 0h1m2 0h7m1 0h10m1 0h2m5 0h2m13 0h4M413 401.5h2m14 0h1m10 0h1m2 0h11m6 0h2m3 0h1m54 0h19m1 0h1m65 0h2m1 0h2m5 0h1m29 0h1m1 0h2m2 0h1m2 0h1m9 0h1m17 0h11m3 0h4m1 0h8m2 0h2m1 0h1m1 0h1m3 0h1m1 0h1m2 0h1M379 402.5h1m33 0h2m1 0h1m13 0h1m1 0h1m7 0h2m2 0h6m1 0h1m8 0h1m6 0h1m53 0h19m68 0h1m22 0h1m18 0h1m1 0h1m13 0h2m13 0h1m1 0h12m1 0h3m1 0h10m8 0h2m1 0h1m2 0h1M413 403.5h1m16 0h1m8 0h2m1 0h1m1 0h5m11 0h1m1 0h1m5 0h1m51 0h1m3 0h15m2 0h2m70 0h1m7 0h1m13 0h1m13 0h3m4 0h1m8 0h5m3 0h1m8 0h17m1 0h11m1 0h4m2 0h1m2 0h3M439 404.5h1m4 0h6m1 0h1m8 0h1m4 0h1m2 0h1m51 0h2m2 0h16m1 0h1m10 0h1m54 0h1m40 0h6m2 0h2m1 0h1m4 0h4m3 0h1m11 0h16m1 0h10m1 0h5m1 0h7m1 0h1M439 405.5h2m3 0h5m9 0h1m6 0h1m1 0h1m57 0h16m1 0h1m64 0h2m1 0h2m37 0h3m3 0h1m3 0h1m3 0h1m1 0h3m12 0h14m1 0h28m4 0h1m2 0h2M396 406.5h2m12 0h1m25 0h2m1 0h3m1 0h2m2 0h2m1 0h1m5 0h1m3 0h1m3 0h4m58 0h18m44 0h2m16 0h1m39 0h1m3 0h2m1 0h3m1 0h5m3 0h1m14 0h6m1 0h1m3 0h5m1 0h8m1 0h3m2 0h1m1 0h4m4 0h1m5 0h5M408 407.5h1m26 0h3m1 0h3m2 0h3m1 0h2m2 0h1m6 0h1m5 0h1m60 0h14m1 0h2m2 0h2m6 0h1m28 0h1m59 0h1m2 0h2m4 0h2m3 0h5m4 0h1m3 0h1m1 0h1m10 0h3m6 0h11m2 0h6m2 0h2m1 0h3m2 0h2m4 0h5m1 0h2M390 408.5h1m14 0h1m35 0h2m3 0h4m8 0h1m67 0h7m1 0h8m1 0h3m43 0h1m51 0h1m4 0h6m1 0h1m2 0h2m8 0h2m1 0h1m2 0h1m1 0h1m6 0h2m1 0h1m7 0h4m2 0h8m1 0h7m1 0h7m4 0h1m1 0h6m3 0h2M389 409.5h1m15 0h1m1 0h1m31 0h1m2 0h1m1 0h1m2 0h3m1 0h1m5 0h4m15 0h1m47 0h1m3 0h13m1 0h3m1 0h1m22 0h1m12 0h1m6 0h2m48 0h1m1 0h1m1 0h1m3 0h1m3 0h3m11 0h1m7 0h1m1 0h2m1 0h1m2 0h1m1 0h2m5 0h1m1 0h1m2 0h1m2 0h2m1 0h1m2 0h8m1 0h1m2 0h2m1 0h4m2 0h9m5 0h2M380 410.5h2m1 0h1m5 0h3m8 0h1m14 0h1m20 0h4m8 0h1m1 0h2m7 0h1m14 0h3m27 0h2m19 0h2m1 0h13m2 0h2m21 0h2m15 0h1m7 0h2m45 0h5m5 0h4m1 0h2m1 0h2m1 0h1m4 0h1m2 0h2m1 0h1m1 0h1m1 0h4m5 0h5m7 0h7m5 0h7m2 0h6m1 0h1m3 0h6m1 0h1m1 0h1m1 0h1m1 0h3M381 411.5h1m7 0h3m11 0h3m1 0h1m1 0h1m4 0h3m20 0h3m1 0h1m6 0h4m7 0h1m11 0h1m1 0h3m10 0h1m17 0h3m17 0h7m2 0h2m1 0h7m16 0h1m7 0h1m14 0h1m7 0h3m10 0h1m32 0h4m1 0h4m2 0h1m1 0h4m2 0h3m7 0h1m1 0h4m1 0h1m1 0h4m5 0h5m10 0h17m2 0h4m1 0h2m2 0h1m2 0h2m1 0h2m2 0h2m1 0h3m2 0h1M381 412.5h1m10 0h1m10 0h1m5 0h2m4 0h2m8 0h1m11 0h1m3 0h1m32 0h3m19 0h3m4 0h3m1 0h1m16 0h3m1 0h13m17 0h1m29 0h1m1 0h4m6 0h2m1 0h2m29 0h1m2 0h6m1 0h1m2 0h6m2 0h1m11 0h4m3 0h5m4 0h4m10 0h3m1 0h13m2 0h6m1 0h1m1 0h10m1 0h1m1 0h4m1 0h1M405 413.5h2m2 0h1m43 0h1m21 0h2m7 0h3m9 0h2m2 0h4m1 0h1m1 0h1m13 0h11m1 0h7m14 0h1m1 0h1m1 0h1m31 0h2m5 0h1m1 0h1m2 0h1m2 0h1m25 0h1m3 0h1m2 0h4m5 0h3m1 0h1m1 0h1m1 0h1m9 0h1m1 0h4m3 0h1m1 0h3m5 0h2m1 0h1m11 0h7m2 0h7m4 0h2m1 0h10m1 0h2m3 0h4m3 0h1M394 414.5h1m10 0h1m5 0h1m15 0h1m26 0h1m4 0h4m13 0h2m1 0h1m12 0h1m5 0h1m3 0h22m1 0h11m10 0h1m2 0h2m4 0h3m1 0h2m1 0h1m24 0h8m2 0h2m35 0h8m3 0h8m2 0h2m5 0h1m2 0h4m1 0h1m12 0h2m1 0h1m17 0h3m2 0h5m1 0h1m2 0h1m2 0h1m2 0h2m4 0h3m1 0h7m2 0h1M381 415.5h1m12 0h1m9 0h2m53 0h1m4 0h3m10 0h2m2 0h1m1 0h2m1 0h1m3 0h2m3 0h3m4 0h10m5 0h9m1 0h6m1 0h2m2 0h1m2 0h2m1 0h1m5 0h1m6 0h1m29 0h5m1 0h2m2 0h3m33 0h1m5 0h2m4 0h5m1 0h2m1 0h2m3 0h1m10 0h2m1 0h1m1 0h1m3 0h1m23 0h1m4 0h5m8 0h1m2 0h1m1 0h1m3 0h2m7 0h1M404 416.5h2m58 0h4m7 0h2m4 0h1m1 0h1m7 0h1m1 0h3m1 0h2m1 0h1m3 0h6m3 0h1m3 0h22m3 0h6m1 0h1m2 0h1m1 0h2m7 0h1m18 0h1m3 0h7m1 0h10m34 0h1m3 0h1m2 0h1m1 0h7m1 0h1m3 0h1m7 0h3m1 0h1m6 0h1m14 0h1m10 0h2m1 0h6m2 0h1m4 0h2m2 0h4m2 0h1M405 417.5h1m59 0h2m8 0h4m1 0h3m11 0h3m1 0h1m5 0h8m1 0h2m2 0h15m3 0h2m1 0h11m7 0h1m6 0h3m19 0h10m5 0h4m2 0h1m24 0h3m11 0h10m3 0h2m11 0h1m2 0h2m3 0h2m7 0h2m1 0h6m7 0h5m1 0h5m5 0h1m1 0h1m2 0h2m9 0h3M391 418.5h1m36 0h1m5 0h1m31 0h1m6 0h1m1 0h9m2 0h1m7 0h15m5 0h1m2 0h1m1 0h8m1 0h4m5 0h13m15 0h1m3 0h1m1 0h1m11 0h10m6 0h3m5 0h1m22 0h5m7 0h6m1 0h5m16 0h1m1 0h1m3 0h1m2 0h2m1 0h1m6 0h7m1 0h2m6 0h3m1 0h1m1 0h6m1 0h1m4 0h2m1 0h1m1 0h1m6 0h1m1 0h1m1 0h1m17 0h1M390 419.5h3m39 0h1m5 0h1m28 0h4m1 0h5m1 0h5m13 0h1m1 0h17m1 0h15m7 0h10m1 0h1m7 0h1m23 0h6m1 0h3m12 0h1m1 0h1m1 0h1m19 0h6m1 0h1m9 0h1m1 0h1m11 0h2m16 0h1m3 0h1m8 0h9m7 0h2m1 0h1m4 0h4m2 0h3m3 0h1m5 0h1m6 0h1m16 0h3M390 420.5h6m55 0h1m16 0h3m2 0h1m1 0h9m10 0h39m5 0h11m22 0h1m12 0h6m15 0h1m19 0h3m2 0h4m5 0h1m3 0h1m2 0h2m4 0h1m1 0h1m24 0h1m9 0h4m3 0h5m3 0h1m1 0h1m1 0h1m2 0h1m3 0h1m1 0h1m1 0h1m5 0h2m1 0h1m2 0h3m1 0h6m13 0h6M390 421.5h2m2 0h2m67 0h1m6 0h4m1 0h9m10 0h16m3 0h2m2 0h10m3 0h1m1 0h1m4 0h11m1 0h1m19 0h1m2 0h1m8 0h5m1 0h1m6 0h1m1 0h1m5 0h1m20 0h3m5 0h2m13 0h1m29 0h1m5 0h1m5 0h7m1 0h4m5 0h2m6 0h1m2 0h2m7 0h1m2 0h12m15 0h5M394 422.5h1m34 0h1m12 0h1m5 0h1m6 0h1m7 0h1m6 0h4m1 0h1m1 0h1m1 0h5m11 0h15m4 0h15m2 0h1m5 0h1m1 0h2m1 0h5m1 0h2m1 0h1m25 0h3m1 0h2m1 0h2m2 0h1m1 0h2m1 0h2m1 0h1m24 0h3m5 0h3m14 0h1m24 0h1m4 0h1m3 0h1m7 0h3m1 0h2m1 0h1m1 0h4m1 0h1m1 0h1m10 0h1m2 0h2m2 0h1m4 0h8m2 0h5m5 0h1m6 0h2m1 0h3M394 423.5h1m47 0h1m4 0h1m21 0h1m1 0h1m1 0h9m32 0h17m6 0h1m1 0h1m3 0h5m1 0h1m3 0h1m22 0h3m3 0h5m3 0h1m1 0h1m3 0h1m22 0h3m7 0h1m15 0h2m2 0h1m6 0h1m26 0h1m1 0h1m5 0h1m4 0h7m1 0h2m10 0h1m3 0h1m8 0h6m1 0h8m10 0h7M471 424.5h1m1 0h8m36 0h12m2 0h1m2 0h1m2 0h1m2 0h1m1 0h12m23 0h5m1 0h5m1 0h1m1 0h1m1 0h2m23 0h2m25 0h8m3 0h1m24 0h4m10 0h11m13 0h1m1 0h1m6 0h8m1 0h2m1 0h3m1 0h1m2 0h1m5 0h2m1 0h1m1 0h1m1 0h1M471 425.5h8m1 0h1m34 0h1m1 0h1m1 0h1m1 0h3m1 0h1m1 0h3m1 0h4m4 0h15m1 0h1m10 0h1m2 0h1m3 0h1m3 0h3m1 0h1m2 0h2m4 0h1m3 0h1m1 0h1m20 0h1m6 0h2m1 0h1m17 0h7m1 0h1m2 0h2m24 0h1m9 0h1m1 0h6m1 0h1m1 0h3m7 0h3m4 0h2m5 0h6m4 0h8m9 0h5M394 426.5h1m77 0h8m7 0h1m29 0h1m1 0h1m1 0h11m1 0h3m5 0h16m9 0h1m6 0h1m1 0h7m32 0h3m12 0h1m14 0h2m2 0h3m4 0h2m25 0h1m1 0h1m5 0h13m1 0h1m16 0h2m4 0h1m1 0h2m6 0h6m1 0h2m9 0h2m2 0h1M387 427.5h1m30 0h1m18 0h1m33 0h7m1 0h1m37 0h1m1 0h1m1 0h3m1 0h3m1 0h1m3 0h3m3 0h1m2 0h18m8 0h2m3 0h1m1 0h5m22 0h1m9 0h3m8 0h1m19 0h8m1 0h2m1 0h3m25 0h2m3 0h1m2 0h14m1 0h2m10 0h1m3 0h1m15 0h4m1 0h2m9 0h1m1 0h1M385 428.5h3m27 0h2m20 0h1m33 0h10m38 0h5m3 0h4m1 0h1m1 0h2m4 0h16m12 0h1m1 0h5m2 0h4m21 0h1m6 0h4m9 0h1m14 0h1m2 0h2m1 0h3m1 0h6m1 0h3m2 0h1m2 0h1m22 0h1m4 0h15m2 0h1m1 0h1m3 0h3m13 0h1m6 0h11M387 429.5h4m29 0h1m24 0h1m26 0h9m36 0h1m2 0h8m1 0h1m3 0h4m1 0h11m3 0h2m1 0h1m10 0h1m3 0h5m1 0h1m1 0h2m28 0h3m11 0h2m6 0h1m6 0h1m3 0h1m1 0h3m1 0h3m1 0h8m12 0h2m2 0h1m8 0h2m2 0h1m2 0h17m30 0h1m2 0h1m1 0h4m12 0h1M425 430.5h2m44 0h11m38 0h4m9 0h4m1 0h2m1 0h6m1 0h1m2 0h2m2 0h2m12 0h1m3 0h2m2 0h1m29 0h3m11 0h3m9 0h1m6 0h6m1 0h3m1 0h6m12 0h1m1 0h2m2 0h1m8 0h1m2 0h2m2 0h17m33 0h1m1 0h3m1 0h1M442 431.5h3m26 0h2m1 0h8m39 0h2m1 0h3m3 0h1m1 0h1m1 0h1m1 0h1m1 0h10m1 0h4m2 0h1m7 0h2m28 0h1m11 0h3m4 0h1m8 0h3m16 0h5m1 0h1m1 0h1m1 0h3m1 0h2m13 0h6m1 0h1m6 0h3m6 0h16m30 0h1m5 0h2M470 432.5h1m3 0h1m1 0h6m39 0h2m1 0h2m4 0h1m1 0h2m5 0h7m2 0h1m2 0h2m51 0h3m3 0h2m2 0h1m4 0h3m19 0h4m5 0h3m1 0h2m12 0h6m1 0h4m3 0h4m1 0h2m3 0h16m31 0h1m2 0h1m2 0h1M469 433.5h2m1 0h2m1 0h9m41 0h1m15 0h1m1 0h10m52 0h1m13 0h3m19 0h2m1 0h3m1 0h1m1 0h1m1 0h1m2 0h2m9 0h17m1 0h1m1 0h2m1 0h1m2 0h17m30 0h1m1 0h2m1 0h2M468 434.5h3m2 0h11m1 0h1m1 0h5m1 0h2m8 0h2m27 0h3m1 0h1m1 0h2m4 0h1m1 0h8m8 0h1m39 0h1m1 0h1m2 0h1m6 0h4m1 0h2m20 0h4m5 0h1m4 0h2m8 0h1m1 0h15m1 0h5m1 0h1m1 0h16m1 0h3m1 0h1m23 0h2m2 0h1m4 0h1m2 0h1M469 435.5h2m2 0h11m2 0h1m1 0h1m1 0h3m2 0h1m5 0h1m3 0h1m1 0h1m24 0h3m1 0h1m1 0h2m4 0h8m1 0h1m6 0h1m39 0h2m14 0h2m1 0h2m5 0h1m14 0h2m4 0h1m8 0h1m8 0h10m1 0h5m1 0h1m2 0h26m1 0h1m23 0h5m1 0h1m1 0h1m1 0h2M451 436.5h1m17 0h2m1 0h12m2 0h1m3 0h4m1 0h3m4 0h2m1 0h2m7 0h4m1 0h1m13 0h1m5 0h3m3 0h9m4 0h1m1 0h2m37 0h3m11 0h1m1 0h5m6 0h1m5 0h1m1 0h1m5 0h2m4 0h1m1 0h1m7 0h1m11 0h16m1 0h25m1 0h1m3 0h1m3 0h1m6 0h2M438 437.5h1m12 0h1m17 0h2m2 0h10m1 0h2m2 0h1m4 0h1m1 0h13m9 0h2m25 0h1m1 0h13m41 0h1m12 0h4m1 0h2m6 0h2m2 0h1m2 0h2m5 0h2m5 0h2m7 0h1m8 0h1m2 0h13m1 0h1m3 0h24m2 0h2m2 0h1m1 0h3m1 0h1m2 0h1m12 0h2m8 0h2m8 0h1M438 438.5h1m2 0h1m34 0h12m1 0h1m2 0h6m2 0h2m1 0h1m1 0h3m6 0h2m3 0h1m3 0h1m16 0h1m1 0h1m1 0h1m1 0h12m1 0h2m53 0h2m1 0h3m4 0h1m1 0h1m4 0h1m1 0h3m4 0h2m6 0h1m7 0h2m9 0h14m1 0h2m2 0h24m1 0h2m2 0h3m1 0h2m7 0h2m9 0h1m7 0h2M440 439.5h1m1 0h2m33 0h4m1 0h7m1 0h1m1 0h12m1 0h1m2 0h1m6 0h3m3 0h3m1 0h3m8 0h1m3 0h4m2 0h15m51 0h7m13 0h3m2 0h1m1 0h2m16 0h1m10 0h13m4 0h33m1 0h1m1 0h3m4 0h2m8 0h2M442 440.5h2m32 0h1m1 0h1m1 0h9m3 0h1m2 0h11m1 0h2m2 0h1m3 0h1m1 0h7m3 0h2m5 0h2m7 0h1m5 0h12m48 0h3m1 0h8m1 0h1m10 0h1m4 0h3m15 0h2m10 0h12m5 0h36M442 441.5h4m32 0h14m2 0h2m1 0h7m1 0h11m1 0h5m1 0h2m1 0h1m4 0h1m2 0h2m5 0h1m1 0h3m1 0h15m48 0h2m1 0h9m34 0h2m11 0h11m3 0h38m2 0h1m12 0h1M444 442.5h1m35 0h17m2 0h17m1 0h10m7 0h2m8 0h1m2 0h1m1 0h14m25 0h1m22 0h11m1 0h1m11 0h1m20 0h2m10 0h9m1 0h1m4 0h1m1 0h5m2 0h30m1 0h1M480 443.5h1m1 0h35m1 0h2m1 0h5m1 0h2m2 0h1m1 0h2m2 0h1m6 0h1m1 0h16m49 0h9m37 0h3m1 0h1m1 0h16m5 0h1m1 0h2m1 0h27m2 0h4m2 0h1M480 444.5h47m6 0h1m11 0h1m1 0h15m50 0h1m1 0h6m20 0h1m16 0h2m9 0h12m1 0h6m1 0h1m1 0h25m5 0h2m1 0h1M463 445.5h1m1 0h1m14 0h37m1 0h1m1 0h5m8 0h1m1 0h1m9 0h11m1 0h1m1 0h2m50 0h1m2 0h2m20 0h1m20 0h2m5 0h1m1 0h1m1 0h19m3 0h26m4 0h1m3 0h1M461 446.5h2m18 0h7m1 0h2m1 0h1m2 0h18m2 0h4m1 0h5m1 0h2m5 0h1m1 0h1m11 0h8m1 0h1m1 0h2m32 0h1m19 0h6m16 0h1m2 0h1m2 0h1m18 0h1m4 0h9m1 0h2m2 0h8m2 0h1m1 0h26m5 0h3m1 0h1M461 447.5h1m19 0h4m2 0h1m1 0h1m5 0h20m1 0h4m2 0h1m3 0h2m5 0h1m13 0h2m1 0h3m1 0h1m1 0h1m1 0h2m31 0h2m21 0h2m3 0h1m14 0h1m23 0h1m5 0h9m2 0h1m1 0h2m1 0h3m1 0h3m1 0h30m3 0h4m6 0h1M441 448.5h2m19 0h1m19 0h1m5 0h3m1 0h1m2 0h9m1 0h6m1 0h1m2 0h6m1 0h1m1 0h5m3 0h2m13 0h4m1 0h1m1 0h6m32 0h1m14 0h1m5 0h3m3 0h1m11 0h1m3 0h1m1 0h2m26 0h14m1 0h7m4 0h23m1 0h1m7 0h2m5 0h2m28 0h1M441 449.5h2m39 0h1m5 0h5m3 0h1m1 0h6m1 0h10m2 0h1m1 0h2m3 0h5m3 0h2m13 0h6m2 0h1m1 0h2m3 0h1m1 0h1m39 0h6m3 0h2m16 0h1m2 0h1m1 0h3m14 0h2m8 0h1m2 0h7m5 0h1m2 0h1m2 0h4m3 0h29m9 0h1m16 0h4m3 0h1M489 450.5h5m5 0h14m1 0h2m1 0h3m3 0h4m5 0h1m1 0h2m11 0h6m1 0h2m1 0h1m3 0h2m1 0h1m39 0h7m3 0h1m40 0h1m1 0h2m6 0h8m1 0h1m1 0h2m5 0h3m1 0h2m1 0h3m1 0h26m2 0h1m4 0h1m2 0h1m15 0h1m1 0h1M490 451.5h6m3 0h1m2 0h1m2 0h8m3 0h9m4 0h4m15 0h8m2 0h1m4 0h1m40 0h5m4 0h1m35 0h1m6 0h1m1 0h1m2 0h1m3 0h1m1 0h1m1 0h9m2 0h1m3 0h7m1 0h27m4 0h2m1 0h5m15 0h4m2 0h2M501 452.5h6m1 0h1m3 0h5m1 0h3m1 0h4m5 0h2m16 0h5m1 0h3m3 0h4m40 0h5m3 0h1m17 0h1m20 0h1m9 0h2m1 0h2m1 0h7m1 0h1m1 0h2m3 0h5m6 0h1m1 0h24m5 0h5m16 0h1m1 0h2m1 0h1M500 453.5h6m7 0h4m1 0h2m2 0h3m6 0h2m16 0h5m1 0h2m1 0h5m1 0h1m29 0h1m7 0h1m2 0h1m7 0h1m42 0h1m4 0h3m1 0h2m2 0h7m3 0h1m3 0h5m3 0h1m4 0h2m1 0h20m3 0h6m1 0h1m14 0h5m1 0h4M498 454.5h1m1 0h5m8 0h6m3 0h1m8 0h1m17 0h5m1 0h2m1 0h8m25 0h1m1 0h1m17 0h1m19 0h2m33 0h2m1 0h9m1 0h1m1 0h1m2 0h2m1 0h1m3 0h1m5 0h26m1 0h4m1 0h1m12 0h1m1 0h5M503 455.5h2m3 0h3m4 0h1m32 0h5m2 0h1m1 0h7m34 0h1m13 0h1m48 0h2m2 0h3m1 0h9m5 0h4m2 0h1m2 0h1m2 0h1m1 0h35m12 0h5m1 0h3M508 456.5h1m1 0h1m38 0h1m2 0h2m39 0h1m4 0h1m16 0h1m37 0h1m13 0h7m7 0h7m5 0h1m1 0h3m2 0h26m4 0h1m1 0h1m10 0h5m1 0h4m4 0h1M427 457.5h2m80 0h3m40 0h3m2 0h1m3 0h1m36 0h2m66 0h2m1 0h1m3 0h1m9 0h6m3 0h4m1 0h1m1 0h29m2 0h1m1 0h2m8 0h5m3 0h2m5 0h2m1 0h1M556 458.5h1m41 0h2m65 0h3m13 0h1m1 0h4m1 0h46m8 0h6m3 0h1m2 0h7M552 459.5h1m1 0h1m43 0h2m65 0h1m15 0h6m1 0h3m1 0h42m1 0h1m8 0h8m3 0h6M552 460.5h3m6 0h1m3 0h1m33 0h1m55 0h3m25 0h4m1 0h39m6 0h3m2 0h1m1 0h1m1 0h1m4 0h1m2 0h2m2 0h3m1 0h1M430 461.5h1m121 0h2m1 0h1m5 0h1m1 0h1m1 0h1m33 0h1m2 0h1m79 0h3m1 0h8m1 0h32m1 0h1m5 0h1m1 0h1m2 0h2m4 0h4m1 0h1m1 0h2m1 0h1m2 0h1M424 462.5h1m125 0h3m1 0h2m5 0h1m37 0h1m11 0h1m1 0h1m36 0h1m27 0h1m6 0h2m1 0h3m1 0h1m2 0h34m5 0h6m3 0h10m2 0h3M551 463.5h5m40 0h1m39 0h1m6 0h1m32 0h3m10 0h5m1 0h30m2 0h2m7 0h6m2 0h7m4 0h1m2 0h1M551 464.5h6m39 0h1m2 0h1m11 0h1m64 0h4m8 0h36m2 0h1m7 0h6m3 0h5m2 0h10M501 465.5h1m49 0h6m37 0h1m1 0h2m79 0h2m9 0h4m1 0h31m1 0h2m8 0h5m4 0h1m1 0h2m1 0h6m1 0h1m1 0h2M432 466.5h3m66 0h2m49 0h5m37 0h1m2 0h1m13 0h1m65 0h3m8 0h37m1 0h2m7 0h3m1 0h1m5 0h7m2 0h1m1 0h1m2 0h2M502 467.5h2m48 0h6m17 0h3m1 0h1m1 0h1m10 0h1m2 0h2m15 0h1m69 0h2m5 0h30m1 0h6m1 0h3m5 0h2m8 0h2m2 0h2m2 0h4m1 0h4m1 0h1M431 468.5h2m119 0h6m18 0h2m1 0h3m11 0h2m1 0h1m86 0h2m3 0h1m1 0h13m1 0h22m1 0h3m1 0h2m2 0h4m7 0h1m2 0h1m1 0h1m1 0h10M527 469.5h1m25 0h5m18 0h6m1 0h1m8 0h1m1 0h4m1 0h1m11 0h1m87 0h2m3 0h3m11 0h4m7 0h1m1 0h2m3 0h1m1 0h1m7 0h6m4 0h9M534 470.5h1m18 0h6m18 0h5m1 0h1m4 0h1m5 0h4m1 0h1m1 0h5m67 0h1m12 0h1m12 0h3m1 0h5m11 0h2m13 0h1m12 0h3m2 0h1m3 0h3m1 0h1m1 0h3M553 471.5h4m1 0h1m18 0h5m6 0h2m5 0h13m2 0h1m2 0h2m6 0h1m19 0h3m50 0h11m1 0h1m4 0h3m1 0h1m14 0h3m5 0h1m8 0h1m1 0h1m5 0h10M520 472.5h2m32 0h5m20 0h2m15 0h11m6 0h9m6 0h1m11 0h1m49 0h9m5 0h3m4 0h1m19 0h2m8 0h1m4 0h4m7 0h5m2 0h2M274 473.5h1m252 0h1m4 0h1m21 0h5m20 0h6m10 0h12m4 0h14m1 0h1m12 0h3m22 0h5m1 0h1m3 0h3m13 0h9m6 0h3m3 0h1m15 0h1m4 0h1m8 0h3m2 0h1m1 0h2m13 0h2M532 474.5h2m20 0h3m22 0h6m11 0h6m1 0h4m5 0h13m18 0h1m1 0h1m1 0h1m18 0h3m1 0h1m10 0h1m2 0h1m5 0h3m1 0h1m1 0h1m1 0h1m1 0h1m5 0h2m1 0h3m20 0h1m11 0h3m1 0h2m12 0h6M281 475.5h2m244 0h2m3 0h1m21 0h3m18 0h1m6 0h1m5 0h1m1 0h1m2 0h9m1 0h6m1 0h1m1 0h14m4 0h1m12 0h6m16 0h3m10 0h1m5 0h3m3 0h1m1 0h3m5 0h1m3 0h1m6 0h1m18 0h1m8 0h1m1 0h1m1 0h6m10 0h1m4 0h1m2 0h2M280 476.5h2m272 0h5m18 0h1m2 0h1m1 0h1m6 0h1m6 0h13m5 0h3m1 0h1m1 0h4m8 0h2m7 0h10m6 0h1m3 0h1m22 0h2m1 0h1m2 0h1m1 0h5m10 0h2m16 0h1m4 0h1m12 0h6M280 477.5h1m274 0h4m17 0h2m17 0h3m5 0h5m4 0h2m1 0h1m2 0h1m1 0h4m8 0h1m8 0h7m1 0h3m1 0h4m1 0h7m11 0h1m6 0h2m1 0h2m3 0h7m10 0h4m18 0h3m10 0h9m9 0h1m2 0h2M281 478.5h1m3 0h1m269 0h5m15 0h7m6 0h1m1 0h1m4 0h2m7 0h1m1 0h1m8 0h1m1 0h1m1 0h4m1 0h1m5 0h5m1 0h1m2 0h10m1 0h5m1 0h9m3 0h1m14 0h2m6 0h3m7 0h1m1 0h3m4 0h2m19 0h1m2 0h1m8 0h10m4 0h1m3 0h1M283 479.5h5m9 0h1m3 0h1m253 0h5m15 0h1m1 0h1m1 0h2m16 0h1m5 0h6m6 0h1m1 0h8m4 0h1m2 0h3m1 0h10m1 0h2m1 0h1m1 0h3m1 0h12m15 0h2m2 0h1m1 0h2m1 0h5m3 0h1m2 0h3m1 0h1m1 0h1m1 0h4m15 0h1m12 0h1m1 0h3m3 0h2m1 0h1m1 0h1m14 0h1M285 480.5h1m4 0h1m1 0h1m1 0h4m3 0h1m201 0h1m51 0h5m20 0h1m23 0h2m2 0h1m6 0h10m7 0h17m1 0h4m1 0h1m1 0h1m1 0h10m13 0h1m1 0h1m1 0h6m1 0h1m2 0h2m1 0h1m1 0h1m3 0h1m2 0h6m1 0h2m13 0h1m18 0h9M283 481.5h1m5 0h7m5 0h1m201 0h1m51 0h5m45 0h1m9 0h10m4 0h18m1 0h1m1 0h17m4 0h3m8 0h3m1 0h6m1 0h1m1 0h1m2 0h7m1 0h11m2 0h1m1 0h1m2 0h1m21 0h1m1 0h8M293 482.5h3m12 0h2m245 0h5m44 0h1m10 0h9m8 0h6m2 0h29m1 0h3m5 0h1m2 0h2m1 0h4m1 0h6m2 0h11m1 0h7m2 0h1m1 0h1m1 0h2m1 0h2m19 0h1m1 0h1m2 0h5M285 483.5h2m5 0h3m14 0h3m199 0h1m43 0h5m45 0h1m4 0h1m2 0h1m1 0h10m4 0h8m1 0h1m1 0h13m2 0h1m1 0h6m1 0h1m1 0h1m1 0h1m1 0h5m4 0h4m1 0h1m1 0h30m3 0h1m2 0h3m3 0h2m17 0h8M285 484.5h1m7 0h4m1 0h4m208 0h2m43 0h5m42 0h1m6 0h3m3 0h9m1 0h2m2 0h8m1 0h17m1 0h3m4 0h2m1 0h2m2 0h1m1 0h5m1 0h6m1 0h32m4 0h1m2 0h1m1 0h4m16 0h9m24 0h1M285 485.5h1m2 0h3m2 0h1m1 0h5m206 0h4m11 0h1m33 0h5m49 0h4m2 0h5m1 0h2m1 0h1m1 0h2m1 0h8m2 0h15m1 0h7m1 0h1m1 0h6m2 0h2m3 0h3m1 0h1m1 0h1m1 0h29m1 0h1m8 0h1m3 0h1m14 0h1m1 0h8M288 486.5h1m5 0h7m207 0h1m12 0h1m33 0h5m48 0h4m1 0h3m1 0h2m4 0h1m1 0h1m3 0h6m1 0h1m1 0h21m3 0h1m2 0h6m4 0h5m1 0h1m5 0h1m1 0h1m2 0h26m1 0h1m26 0h3m1 0h1M284 487.5h2m8 0h6m8 0h1m1 0h1m17 0h1m192 0h1m33 0h5m49 0h2m1 0h2m3 0h2m1 0h2m4 0h2m1 0h24m1 0h2m1 0h1m1 0h2m3 0h1m1 0h2m6 0h2m2 0h1m9 0h1m1 0h24m1 0h1m1 0h1m1 0h1m7 0h1m1 0h1m16 0h5M282 488.5h4m4 0h10m27 0h2m226 0h5m48 0h4m2 0h2m1 0h1m1 0h1m1 0h1m3 0h3m1 0h1m3 0h24m1 0h1m1 0h1m1 0h5m3 0h2m1 0h1m15 0h1m2 0h27m8 0h1m18 0h1m2 0h2M279 489.5h2m1 0h1m2 0h2m3 0h6m1 0h3m6 0h1m19 0h3m226 0h5m49 0h3m1 0h3m1 0h1m1 0h3m3 0h1m1 0h1m1 0h2m1 0h24m2 0h3m1 0h9m1 0h2m17 0h27m1 0h2m6 0h3m6 0h1m10 0h1m8 0h1M280 490.5h1m1 0h1m1 0h1m1 0h1m3 0h5m2 0h3m28 0h1m227 0h4m23 0h2m25 0h7m1 0h1m2 0h2m1 0h2m2 0h3m1 0h23m1 0h2m3 0h6m1 0h6m1 0h2m15 0h18m2 0h1m2 0h3m1 0h1m4 0h3m1 0h2M279 491.5h4m10 0h2m1 0h4m22 0h1m7 0h1m224 0h2m1 0h2m22 0h1m17 0h1m1 0h1m6 0h7m1 0h3m1 0h1m1 0h1m2 0h1m1 0h2m2 0h24m2 0h1m2 0h7m4 0h3m8 0h1m7 0h1m1 0h18m1 0h2m2 0h1m1 0h1m1 0h3m2 0h4m75 0h1m2 0h4M278 492.5h1m1 0h1m11 0h1m3 0h3m257 0h1m1 0h2m49 0h6m3 0h1m1 0h2m1 0h1m1 0h2m3 0h1m1 0h2m2 0h37m11 0h1m6 0h1m1 0h19m1 0h2m1 0h3m6 0h4m1 0h1m74 0h1m1 0h5M288 493.5h4m4 0h2m1 0h1m5 0h1m13 0h1m12 0h1m223 0h1m1 0h2m50 0h1m3 0h1m8 0h1m2 0h1m2 0h1m1 0h2m1 0h1m1 0h22m2 0h1m1 0h3m2 0h1m2 0h2m4 0h1m2 0h1m3 0h1m6 0h21m2 0h1m1 0h1m1 0h5m1 0h4m1 0h3m1 0h1m14 0h1m59 0h7M278 494.5h1m7 0h5m5 0h2m7 0h1m13 0h1m12 0h1m5 0h1m7 0h1m177 0h2m29 0h5m66 0h1m3 0h2m1 0h2m2 0h20m5 0h3m1 0h3m1 0h9m4 0h1m1 0h1m4 0h21m2 0h1m2 0h2m1 0h1m1 0h3m2 0h1m2 0h2m75 0h4m1 0h4M278 495.5h1m8 0h3m14 0h2m12 0h1m1 0h1m1 0h1m5 0h1m1 0h1m1 0h2m222 0h4m71 0h1m4 0h17m1 0h2m1 0h1m4 0h17m1 0h3m9 0h19m2 0h1m3 0h1m1 0h2m2 0h2m83 0h2M287 496.5h2m15 0h3m11 0h1m5 0h1m4 0h3m1 0h1m1 0h1m219 0h5m65 0h1m1 0h2m7 0h3m1 0h10m4 0h2m6 0h1m1 0h14m2 0h2m1 0h2m5 0h1m2 0h17m1 0h3m2 0h4m89 0h1m3 0h2M287 497.5h1m1 0h1m9 0h1m3 0h1m1 0h2m18 0h1m4 0h2m4 0h2m9 0h1m207 0h5m68 0h1m4 0h1m3 0h1m1 0h3m2 0h5m1 0h1m3 0h1m1 0h2m3 0h18m1 0h5m5 0h2m1 0h18m1 0h2m3 0h3m8 0h1m1 0h1m15 0h1m66 0h1M287 498.5h1m2 0h2m13 0h2m18 0h5m1 0h2m18 0h1m14 0h4m185 0h5m70 0h1m2 0h1m3 0h1m2 0h3m6 0h1m4 0h5m1 0h2m1 0h16m1 0h1m1 0h3m2 0h1m2 0h2m1 0h19m1 0h2m1 0h2m1 0h1m7 0h2m2 0h1m27 0h1M288 499.5h5m12 0h1m13 0h1m5 0h1m1 0h2m2 0h1m31 0h4m188 0h3m21 0h1m22 0h1m1 0h1m21 0h1m3 0h1m1 0h6m2 0h1m5 0h1m1 0h1m6 0h3m1 0h19m1 0h6m2 0h1m3 0h1m1 0h8m1 0h14m3 0h4m3 0h3m2 0h1m28 0h1M288 500.5h5m8 0h2m2 0h1m11 0h2m6 0h1m1 0h2m1 0h2m16 0h1m3 0h1m1 0h1m7 0h5m188 0h1m20 0h1m55 0h4m1 0h5m4 0h1m1 0h2m5 0h1m1 0h27m6 0h10m2 0h13m1 0h1m3 0h4m3 0h1m1 0h3m3 0h1m14 0h1m9 0h1m2 0h1M288 501.5h5m4 0h1m3 0h2m13 0h3m5 0h2m4 0h1m16 0h2m16 0h1m189 0h1m1 0h1m68 0h10m1 0h1m2 0h1m5 0h1m2 0h1m5 0h26m1 0h4m4 0h6m1 0h18m5 0h1m5 0h1m1 0h4m1 0h3m23 0h1M285 502.5h1m2 0h4m1 0h1m3 0h1m3 0h1m3 0h1m10 0h2m5 0h2m12 0h1m11 0h3m1 0h2m11 0h2m187 0h1m70 0h1m2 0h1m1 0h4m5 0h1m13 0h17m1 0h3m1 0h10m4 0h10m1 0h13m5 0h1m2 0h1m1 0h5m1 0h1m2 0h1m23 0h1m1 0h2M287 503.5h2m8 0h1m6 0h2m4 0h1m1 0h1m1 0h4m5 0h1m25 0h1m1 0h2m1 0h1m11 0h2m258 0h8m2 0h3m10 0h1m1 0h2m4 0h16m1 0h13m2 0h9m3 0h4m1 0h2m1 0h4m1 0h1m8 0h1m4 0h1m5 0h1m24 0h1m3 0h1M303 504.5h3m4 0h1m3 0h3m2 0h2m10 0h1m1 0h5m11 0h1m1 0h5m6 0h6m136 0h3m47 0h2m72 0h6m4 0h7m7 0h2m1 0h2m1 0h29m1 0h16m3 0h6m6 0h1m6 0h2m2 0h2m3 0h2m12 0h1m10 0h1m2 0h1m5 0h1M284 505.5h1m13 0h1m4 0h2m1 0h3m3 0h1m4 0h1m1 0h3m3 0h1m1 0h1m4 0h1m3 0h1m1 0h2m7 0h1m1 0h2m2 0h2m7 0h8m15 0h1m168 0h5m68 0h1m1 0h5m3 0h1m2 0h1m1 0h1m1 0h1m7 0h2m1 0h31m2 0h16m4 0h2m1 0h9m5 0h5M287 506.5h1m11 0h1m1 0h1m6 0h1m3 0h1m4 0h1m1 0h3m3 0h2m4 0h4m1 0h1m1 0h5m5 0h1m15 0h6m8 0h1m174 0h5m71 0h1m1 0h1m6 0h6m8 0h2m1 0h23m1 0h17m1 0h5m1 0h1m2 0h1m1 0h7m6 0h1m5 0h2m7 0h1m11 0h1M285 507.5h4m11 0h4m7 0h3m5 0h5m7 0h2m2 0h1m2 0h9m11 0h1m1 0h1m3 0h6m7 0h3m172 0h3m3 0h1m71 0h1m1 0h1m3 0h3m1 0h5m12 0h1m1 0h7m1 0h19m1 0h6m1 0h4m1 0h4m1 0h11m1 0h2m3 0h1m5 0h2m1 0h1M286 508.5h3m1 0h1m10 0h1m9 0h5m1 0h6m12 0h4m1 0h7m16 0h6m5 0h1m2 0h2m173 0h4m1 0h1m72 0h5m1 0h2m1 0h8m7 0h1m2 0h1m2 0h13m1 0h10m1 0h13m1 0h23m6 0h2m5 0h1m31 0h1M287 509.5h5m20 0h5m2 0h5m12 0h2m1 0h7m13 0h2m3 0h5m7 0h1m1 0h2m14 0h1m156 0h2m1 0h3m30 0h1m41 0h15m1 0h1m13 0h3m1 0h1m1 0h10m1 0h10m2 0h30m1 0h4m2 0h6m1 0h3M290 510.5h3m16 0h1m3 0h3m1 0h6m14 0h1m1 0h6m18 0h7m1 0h1m17 0h1m4 0h3m154 0h6m29 0h2m1 0h2m41 0h9m1 0h5m11 0h1m2 0h1m1 0h10m2 0h11m1 0h28m1 0h8m2 0h1m1 0h3m1 0h3m33 0h1M291 511.5h1m11 0h2m4 0h4m1 0h3m3 0h1m2 0h1m3 0h1m9 0h4m16 0h1m5 0h7m1 0h1m7 0h1m170 0h2m2 0h1m31 0h5m39 0h1m1 0h6m5 0h3m12 0h2m1 0h2m2 0h1m1 0h2m2 0h2m2 0h10m1 0h23m1 0h5m1 0h1m1 0h9m1 0h2m37 0h1M289 512.5h1m1 0h2m9 0h2m6 0h1m5 0h3m6 0h2m6 0h2m3 0h1m11 0h2m3 0h2m6 0h7m19 0h1m5 0h1m153 0h3m35 0h4m41 0h2m2 0h1m2 0h5m1 0h1m13 0h1m1 0h1m1 0h6m6 0h10m1 0h23m3 0h3m1 0h1m1 0h15m1 0h1m58 0h1M303 513.5h1m4 0h1m1 0h1m1 0h1m3 0h3m14 0h1m2 0h1m1 0h1m11 0h4m6 0h1m2 0h8m8 0h2m4 0h3m161 0h2m1 0h1m1 0h1m33 0h1m1 0h5m37 0h1m1 0h1m5 0h7m8 0h1m5 0h2m2 0h2m1 0h2m5 0h16m2 0h8m1 0h2m1 0h1m2 0h1m1 0h2m1 0h2m1 0h18M294 514.5h4m5 0h1m1 0h1m11 0h1m17 0h1m13 0h5m4 0h3m2 0h3m1 0h4m9 0h2m3 0h2m161 0h6m37 0h4m45 0h6m8 0h2m1 0h1m3 0h1m1 0h1m1 0h1m1 0h1m1 0h1m4 0h6m1 0h22m6 0h1m1 0h18m3 0h1M293 515.5h8m30 0h3m1 0h1m14 0h2m5 0h13m17 0h1m160 0h6m33 0h1m1 0h2m48 0h7m8 0h2m5 0h1m10 0h2m4 0h1m2 0h1m2 0h9m2 0h8m2 0h1m3 0h1m1 0h20M293 516.5h4m2 0h1m11 0h1m14 0h2m3 0h3m15 0h3m4 0h11m1 0h1m10 0h1m10 0h2m155 0h6m36 0h1m50 0h3m1 0h2m15 0h1m1 0h7m5 0h1m9 0h7m3 0h6m8 0h1m1 0h9m1 0h7m42 0h1M293 517.5h1m1 0h1m4 0h1m10 0h2m14 0h1m3 0h5m1 0h1m11 0h3m5 0h10m14 0h3m162 0h5m37 0h1m48 0h2m1 0h1m4 0h2m16 0h1m3 0h1m2 0h2m1 0h1m3 0h1m7 0h6m3 0h2m4 0h2m7 0h18m1 0h1m40 0h4M311 518.5h1m14 0h2m3 0h4m2 0h1m3 0h1m5 0h3m4 0h1m3 0h7m1 0h1m15 0h1m1 0h1m160 0h5m34 0h2m2 0h1m49 0h1m1 0h1m1 0h2m1 0h1m1 0h1m1 0h1m10 0h1m3 0h4m2 0h1m1 0h1m12 0h1m2 0h1m3 0h7m10 0h11m1 0h5m2 0h1m38 0h4m2 0h1M315 519.5h1m15 0h3m7 0h4m1 0h4m8 0h4m2 0h2m15 0h6m140 0h1m16 0h5m34 0h1m3 0h1m47 0h1m1 0h2m9 0h2m12 0h10m13 0h1m1 0h2m3 0h1m1 0h4m2 0h1m1 0h2m4 0h3m1 0h2m1 0h5m47 0h7M328 520.5h2m2 0h2m4 0h1m1 0h4m2 0h3m10 0h1m3 0h2m18 0h4m158 0h3m51 0h1m32 0h1m2 0h5m2 0h1m2 0h3m12 0h1m1 0h7m1 0h1m2 0h1m16 0h1m2 0h5m1 0h1m9 0h2m3 0h7m1 0h1m2 0h1m40 0h1m2 0h3M313 521.5h1m1 0h1m1 0h1m6 0h1m1 0h2m1 0h2m1 0h2m5 0h5m3 0h1m15 0h2m12 0h2m2 0h1m1 0h2m1 0h1m159 0h1m34 0h1m2 0h4m41 0h1m5 0h6m3 0h5m8 0h1m6 0h4m2 0h2m1 0h1m14 0h3m1 0h4m1 0h1m7 0h1m2 0h2m2 0h4m1 0h1m1 0h1m1 0h1m1 0h2m44 0h2M315 522.5h2m6 0h3m1 0h2m1 0h1m1 0h2m1 0h1m3 0h4m24 0h4m6 0h2m4 0h2m2 0h2m192 0h4m50 0h6m1 0h1m1 0h6m1 0h1m1 0h2m1 0h2m6 0h1m2 0h2m21 0h2m1 0h7m5 0h5m3 0h5m2 0h2m1 0h1m47 0h2M314 523.5h3m5 0h1m1 0h3m1 0h1m2 0h6m3 0h3m1 0h1m6 0h1m15 0h1m6 0h1m1 0h1m9 0h4m192 0h2m51 0h5m4 0h8m1 0h6m2 0h1m5 0h1m2 0h1m1 0h3m1 0h2m12 0h2m2 0h1m2 0h2m3 0h1m1 0h20m48 0h1M301 524.5h1m11 0h4m5 0h1m1 0h2m5 0h1m4 0h2m1 0h7m14 0h1m7 0h1m211 0h2m1 0h2m31 0h1m19 0h22m1 0h1m1 0h1m1 0h1m3 0h1m2 0h1m2 0h1m2 0h1m11 0h1m1 0h3m1 0h3m6 0h5m1 0h7m4 0h4m3 0h1M310 525.5h4m3 0h2m3 0h1m1 0h3m4 0h2m2 0h1m1 0h1m4 0h4m16 0h1m27 0h3m116 0h1m70 0h1m3 0h2m47 0h27m4 0h1m1 0h1m1 0h2m2 0h3m1 0h4m4 0h1m2 0h2m1 0h6m7 0h1m6 0h7m5 0h1m2 0h2M310 526.5h2m9 0h2m1 0h5m2 0h9m1 0h5m5 0h1m228 0h1m1 0h3m49 0h27m1 0h1m5 0h1m7 0h1m1 0h2m7 0h1m2 0h3m1 0h3m4 0h3m7 0h3m14 0h1m37 0h1M311 527.5h1m4 0h2m3 0h1m1 0h4m1 0h3m3 0h1m2 0h1m1 0h1m1 0h1m5 0h1m36 0h1m199 0h3m43 0h1m1 0h1m1 0h28m9 0h1m10 0h1m5 0h1m1 0h1m1 0h5m6 0h2m2 0h2m2 0h2m1 0h5m1 0h1m45 0h3M307 528.5h1m4 0h1m5 0h1m2 0h2m1 0h2m2 0h1m10 0h3m1 0h2m19 0h1m11 0h1m7 0h1m11 0h1m186 0h2m43 0h1m2 0h2m1 0h27m4 0h1m1 0h1m1 0h1m11 0h6m3 0h6m1 0h1m3 0h1m1 0h1m7 0h5m1 0h1m10 0h1m38 0h1M306 529.5h2m2 0h3m7 0h2m1 0h3m14 0h1m25 0h1m1 0h1m27 0h1m184 0h1m53 0h18m1 0h1m1 0h5m5 0h3m15 0h2m2 0h11m1 0h3m1 0h1m6 0h1m2 0h2m1 0h1m7 0h1m41 0h2m2 0h1M314 530.5h2m4 0h2m1 0h3m2 0h1m25 0h1m19 0h1m2 0h3m14 0h2m114 0h1m72 0h1m33 0h2m16 0h18m1 0h2m1 0h1m1 0h2m13 0h2m7 0h1m2 0h13m1 0h6m4 0h2m2 0h2m1 0h1m46 0h1m2 0h1M306 531.5h2m7 0h3m3 0h2m1 0h1m3 0h1m25 0h1m36 0h2m242 0h20m4 0h3m5 0h1m2 0h1m2 0h1m1 0h1m5 0h1m2 0h16m1 0h3m1 0h1m1 0h1m18 0h1M314 532.5h6m2 0h2m26 0h1m1 0h2m6 0h1m1 0h1m10 0h1m19 0h3m120 0h1m116 0h2m1 0h6m2 0h8m6 0h7m1 0h2m1 0h1m1 0h7m4 0h17m3 0h2m32 0h1m42 0h1M313 533.5h7m11 0h1m3 0h1m2 0h1m9 0h1m2 0h2m1 0h1m16 0h3m18 0h2m1 0h1m119 0h1m115 0h3m1 0h7m1 0h13m2 0h5m8 0h1m1 0h33M308 534.5h3m3 0h2m1 0h1m1 0h1m14 0h1m2 0h3m7 0h4m1 0h1m6 0h1m10 0h6m17 0h1m1 0h1m10 0h1m179 0h1m45 0h1m1 0h2m1 0h1m1 0h2m1 0h14m1 0h8m6 0h32M308 535.5h1m1 0h1m3 0h1m1 0h3m29 0h3m20 0h4m16 0h1m3 0h4m5 0h2m225 0h1m1 0h1m1 0h1m2 0h3m1 0h16m1 0h1m1 0h1m2 0h1m9 0h25m1 0h1m33 0h1M310 536.5h2m6 0h1m4 0h1m17 0h1m4 0h4m8 0h6m29 0h6m6 0h1m36 0h1m192 0h21m2 0h2m12 0h1m1 0h24m1 0h3m32 0h1m2 0h1M312 537.5h1m4 0h3m2 0h3m21 0h3m7 0h1m3 0h3m12 0h1m1 0h1m9 0h1m4 0h7m6 0h1m79 0h1m149 0h23m5 0h1m8 0h11m1 0h7m3 0h4m2 0h2M318 538.5h7m17 0h5m8 0h3m3 0h3m10 0h1m1 0h3m1 0h3m2 0h1m3 0h1m2 0h4m1 0h2m43 0h1m30 0h1m9 0h1m150 0h13m1 0h8m1 0h3m4 0h1m1 0h1m6 0h16m5 0h4m1 0h2m11 0h1m1 0h1M320 539.5h2m22 0h3m1 0h1m1 0h2m5 0h1m10 0h1m7 0h7m2 0h1m3 0h2m2 0h5m44 0h2m26 0h2m13 0h1m147 0h14m2 0h9m6 0h1m9 0h9m1 0h4m5 0h1m18 0h1M319 540.5h4m18 0h4m3 0h6m1 0h1m1 0h1m3 0h2m7 0h1m3 0h8m7 0h1m2 0h1m1 0h3m44 0h1m43 0h1m148 0h23m1 0h2m1 0h4m1 0h1m5 0h8m1 0h1m1 0h5m19 0h1m5 0h1m1 0h1M320 541.5h1m2 0h2m1 0h1m9 0h1m1 0h1m3 0h3m1 0h8m18 0h1m1 0h2m1 0h6m1 0h1m3 0h2m2 0h3m71 0h3m1 0h1m159 0h1m1 0h7m1 0h6m1 0h12m4 0h5m2 0h1m3 0h4m1 0h1m1 0h1m2 0h5m23 0h1M323 542.5h2m1 0h2m7 0h6m1 0h3m3 0h1m1 0h3m1 0h2m16 0h1m2 0h8m10 0h1m1 0h2m1 0h1m57 0h1m8 0h3m162 0h1m1 0h1m2 0h22m2 0h2m2 0h3m2 0h1m2 0h2m3 0h1m1 0h1m1 0h2m2 0h5m23 0h1M324 543.5h4m8 0h4m3 0h1m27 0h3m1 0h2m1 0h5m5 0h1m2 0h1m1 0h1m2 0h3m60 0h1m7 0h1m3 0h1m7 0h1m11 0h1m143 0h4m2 0h2m1 0h12m1 0h1m9 0h2m2 0h3m1 0h14m22 0h1M325 544.5h1m10 0h4m5 0h1m12 0h1m15 0h8m2 0h1m12 0h1m48 0h4m1 0h1m7 0h4m6 0h1m10 0h1m11 0h1m99 0h2m38 0h1m1 0h9m1 0h14m13 0h6m1 0h5m1 0h4m23 0h1M334 545.5h1m1 0h5m4 0h1m10 0h3m17 0h3m1 0h5m3 0h3m6 0h1m49 0h3m2 0h1m6 0h3m5 0h3m23 0h2m98 0h1m39 0h21m1 0h1m1 0h1m14 0h7m2 0h1m1 0h6M327 546.5h3m3 0h3m1 0h1m1 0h1m1 0h1m2 0h2m10 0h2m6 0h1m17 0h1m64 0h1m11 0h1m5 0h5m11 0h1m139 0h1m1 0h1m6 0h1m2 0h12m1 0h1m1 0h8m3 0h1m1 0h1m12 0h4m1 0h1m1 0h8m23 0h1M328 547.5h4m1 0h3m3 0h5m12 0h2m38 0h2m62 0h1m7 0h1m12 0h3m110 0h1m5 0h1m31 0h13m3 0h3m1 0h2m2 0h1m1 0h1m17 0h3m2 0h5m1 0h1M328 548.5h3m2 0h1m1 0h1m1 0h1m1 0h2m2 0h1m7 0h1m1 0h1m3 0h1m3 0h1m34 0h2m63 0h4m17 0h1m115 0h1m25 0h1m3 0h3m1 0h1m1 0h1m1 0h10m2 0h3m5 0h1m1 0h1m1 0h1m13 0h3m4 0h8M329 549.5h1m1 0h3m1 0h8m8 0h3m36 0h2m4 0h1m3 0h2m58 0h1m1 0h1m101 0h1m33 0h1m25 0h1m5 0h10m1 0h5m1 0h6m1 0h1m1 0h1m25 0h8M331 550.5h2m2 0h3m2 0h3m3 0h1m1 0h1m1 0h5m36 0h2m56 0h2m9 0h1m1 0h1m110 0h1m2 0h1m21 0h1m31 0h1m2 0h2m1 0h13m1 0h2m7 0h1m22 0h8M331 551.5h2m8 0h3m2 0h1m2 0h3m46 0h4m42 0h2m2 0h3m9 0h1m25 0h1m149 0h6m5 0h2m6 0h2m1 0h3m8 0h1m1 0h1m3 0h1m1 0h14M343 552.5h8m1 0h1m94 0h2m11 0h1m161 0h2m5 0h1m7 0h2m1 0h2m2 0h1m2 0h2m4 0h7m19 0h12m2 0h1M342 553.5h6m1 0h1m1 0h3m42 0h1m49 0h2m12 0h1m17 0h1m157 0h2m1 0h6m2 0h2m2 0h1m1 0h1m1 0h1m3 0h4m1 0h1m12 0h1m1 0h9m2 0h2M345 554.5h2m2 0h1m47 0h1m53 0h1m9 0h1m8 0h1m7 0h1m143 0h2m12 0h2m2 0h7m1 0h2m3 0h2m3 0h3m6 0h1m2 0h3m7 0h4m2 0h1m2 0h3M345 555.5h2m96 0h2m3 0h1m11 0h1m1 0h1m3 0h3m3 0h1m6 0h1m156 0h1m4 0h3m2 0h1m2 0h2m7 0h4m10 0h1m7 0h1m1 0h3m1 0h2m1 0h1M444 556.5h1m13 0h1m3 0h1m4 0h3m3 0h1m91 0h1m71 0h1m1 0h5m1 0h2m2 0h3m11 0h2m6 0h1m2 0h3m1 0h1m1 0h4m1 0h1M345 557.5h2m97 0h1m11 0h3m5 0h1m1 0h2m97 0h2m75 0h2m1 0h2m1 0h4m7 0h4m4 0h8m1 0h1m1 0h1m3 0h2m2 0h3m11 0h1M344 558.5h1m111 0h1m3 0h2m5 0h1m178 0h8m5 0h2m3 0h1m1 0h1m1 0h12m1 0h2m4 0h1m1 0h1M472 559.5h1m171 0h9m7 0h6m2 0h2m3 0h4m1 0h6m1 0h3M455 560.5h2m17 0h1m1 0h1m168 0h5m1 0h3m3 0h4m2 0h6m3 0h16M445 561.5h1m10 0h1m19 0h1m1 0h1m7 0h3m155 0h2m1 0h3m1 0h1m3 0h5m1 0h8m2 0h2m1 0h1m1 0h7m1 0h3M476 562.5h3m162 0h3m2 0h4m3 0h1m1 0h1m2 0h3m2 0h2m2 0h1m2 0h5m1 0h11M463 563.5h1m4 0h1m178 0h3m1 0h3m4 0h6m1 0h3m4 0h2m2 0h7m1 0h4M449 564.5h1m2 0h1m6 0h3m1 0h1m4 0h1m3 0h1m14 0h1m3 0h1m154 0h3m2 0h1m2 0h2m2 0h1m1 0h1m1 0h2m2 0h4m2 0h1m1 0h12M448 565.5h1m11 0h1m7 0h1m3 0h2m89 0h2m81 0h4m1 0h1m4 0h1m5 0h2m2 0h2m1 0h1m2 0h2m1 0h12M449 566.5h1m10 0h2m6 0h1m3 0h1m174 0h2m3 0h1m10 0h1m2 0h1m2 0h1m3 0h11M450 567.5h1m13 0h1m5 0h2m91 0h1m1 0h1m84 0h1m11 0h2m1 0h1m1 0h1m5 0h1m1 0h9M451 568.5h2m6 0h1m4 0h1m5 0h1m3 0h1m4 0h1m83 0h1m98 0h1m13 0h6M452 569.5h1m9 0h2m4 0h2m93 0h1m85 0h1m10 0h2m10 0h1m2 0h3M463 570.5h1m3 0h3m1 0h4m1 0h3m112 0h2M462 571.5h2m3 0h2m3 0h1m1 0h1m1 0h1m93 0h1m46 0h1m5 0h1m37 0h1m10 0h1M456 572.5h1m4 0h3m8 0h2m3 0h1m8 0h2m84 0h1m55 0h2m31 0h1m22 0h1M455 573.5h1m1 0h1m4 0h4m19 0h1m97 0h1m6 0h1m74 0h1M456 574.5h1m6 0h3m14 0h1m4 0h1M465 575.5h1m5 0h1m6 0h1m6 0h1m142 0h1m36 0h1M465 576.5h2m10 0h1M461 577.5h6m3 0h1m7 0h1m8 0h1M465 578.5h1m1 0h1m9 0h1m7 0h1m127 0h1m1 0h2M463 579.5h2m4 0h1m6 0h2m6 0h1M623 580.5h1M475 581.5h1m137 0h2M580 582.5h1m32 0h1M566 583.5h1m6 0h1m22 0h1M485 584.5h1m87 0h2M573 585.5h2M480 586.5h2m91 0h1M572 587.5h2M480 588.5h1m2 0h1m88 0h1m1 0h1M487 589.5h1M486 590.5h2m84 0h1m1 0h1M481 591.5h2m90 0h1M481 592.5h1m4 0h1m87 0h1m1 0h1M485 593.5h4m92 0h1M486 594.5h1m1 0h1m89 0h2M486 595.5h4m3 0h1m73 0h1m9 0h4M486 596.5h1m1 0h1m78 0h2M489 597.5h1M485 599.5h1M483 600.5h2M575 601.5h1"/>
<path stroke="#99e619" d="M481 231.5h3m1 0h1M479 232.5h6M481 233.5h2m1 0h5m3 0h1m2 0h1M478 234.5h1m1 0h2m1 0h5m1 0h1m3 0h1m2 0h1M478 235.5h2m1 0h1m2 0h8m3 0h2m1 0h3m6 0h1m3 0h1M482 236.5h1m1 0h7m9 0h1m2 0h1M478 237.5h3m1 0h1m2 0h1m1 0h3m10 0h1m1 0h1m5 0h1M484 238.5h7m6 0h1m2 0h2M479 239.5h3m1 0h10m2 0h1m5 0h1m5 0h2m1 0h1M479 240.5h1m1 0h1m1 0h8m1 0h1m1 0h3m5 0h1m1 0h1m2 0h2m1 0h3M482 241.5h9m3 0h1m6 0h4m2 0h6m27 0h1M460 242.5h1m23 0h8m3 0h3m3 0h12m27 0h1M460 243.5h1m2 0h1m15 0h1m2 0h11m1 0h2m7 0h12m1 0h1m1 0h2m3 0h1m16 0h1M479 244.5h1m3 0h9m9 0h12m3 0h2m2 0h1m19 0h1M475 245.5h5m3 0h8m9 0h10m5 0h1m1 0h3m1 0h1m15 0h1m1 0h4M476 246.5h2m4 0h4m1 0h1m2 0h1m1 0h1m2 0h1m1 0h1m2 0h1m2 0h3m1 0h1m9 0h1m1 0h1m18 0h3M464 247.5h1m12 0h9m4 0h1m3 0h1m9 0h1m2 0h1m29 0h1m1 0h1m10 0h1m1 0h2M475 248.5h2m2 0h6m1 0h1m3 0h1m1 0h1m1 0h1m40 0h1m1 0h1M461 249.5h1m15 0h9m2 0h1m1 0h3m1 0h1m40 0h1M475 250.5h1m3 0h5m1 0h1m1 0h8m56 0h1M475 251.5h1m1 0h15m1 0h3m1 0h1m35 0h2m15 0h4M444 252.5h1m10 0h1m23 0h1m2 0h8m1 0h1m42 0h1m3 0h1m11 0h4m1 0h1M446 253.5h1m7 0h2m3 0h1m16 0h6m1 0h7m1 0h1m1 0h1m1 0h3m35 0h1m12 0h1m2 0h5M443 254.5h1m1 0h1m7 0h1m1 0h1m19 0h1m2 0h12m3 0h5m3 0h1m28 0h2m1 0h2m3 0h3m7 0h7M452 255.5h1m2 0h1m24 0h8m2 0h7m4 0h2m1 0h1m28 0h1m4 0h2m1 0h1m1 0h1m4 0h7M445 256.5h1m4 0h1m3 0h1m22 0h6m1 0h3m1 0h9m2 0h1m2 0h2m14 0h1m20 0h2m6 0h2m2 0h3M446 257.5h1m1 0h1m6 0h1m22 0h9m1 0h8m1 0h6m22 0h1m23 0h1m1 0h2m1 0h1m1 0h1M403 258.5h3m5 0h1m1 0h2m1 0h2m29 0h1m3 0h1m26 0h10m1 0h2m1 0h5m1 0h2m2 0h1M404 259.5h1m9 0h6m27 0h1m1 0h1m25 0h1m2 0h6m1 0h2m1 0h1m5 0h3m1 0h1m1 0h2m1 0h1m44 0h1m3 0h1M403 260.5h2m5 0h1m3 0h2m1 0h1m2 0h1m3 0h1m31 0h1m6 0h1m13 0h4m1 0h3m1 0h1m1 0h3m3 0h9m39 0h1m2 0h1m6 0h1M405 261.5h1m3 0h4m1 0h1m3 0h2m1 0h1m28 0h1m13 0h1m10 0h8m1 0h3m5 0h2m1 0h2m1 0h6m13 0h1m42 0h1M409 262.5h8m2 0h2m35 0h1m7 0h2m7 0h2m1 0h7m1 0h1m1 0h1m1 0h1m3 0h1m1 0h3m1 0h7m11 0h1m1 0h2m32 0h2m5 0h1M389 263.5h1m1 0h1m2 0h1m10 0h1m4 0h1m1 0h1m2 0h1m1 0h5m34 0h1m15 0h1m1 0h7m2 0h2m1 0h3m6 0h12m21 0h2m14 0h1m8 0h1m5 0h2M386 264.5h1m4 0h1m12 0h6m3 0h1m1 0h1m1 0h6m5 0h1m10 0h1m1 0h2m1 0h1m1 0h1m7 0h1m2 0h3m1 0h1m3 0h1m1 0h22m4 0h12m10 0h1m1 0h1m1 0h1m6 0h1m1 0h1m1 0h1m29 0h2M382 265.5h2m1 0h2m1 0h5m1 0h1m10 0h2m2 0h2m2 0h1m3 0h2m1 0h2m6 0h2m16 0h3m7 0h1m1 0h1m2 0h2m1 0h1m1 0h11m1 0h13m1 0h13m1 0h3m7 0h1m8 0h1m27 0h1m6 0h1M380 266.5h7m1 0h4m1 0h1m2 0h1m8 0h5m8 0h1m10 0h2m9 0h1m5 0h2m10 0h6m1 0h3m1 0h1m1 0h6m2 0h10m1 0h1m1 0h15m18 0h1m1 0h1m31 0h1m1 0h1M380 267.5h16m10 0h1m1 0h1m9 0h2m1 0h1m9 0h1m9 0h3m2 0h2m2 0h1m8 0h1m2 0h2m2 0h3m3 0h1m1 0h3m1 0h20m1 0h6m2 0h1m2 0h2m7 0h1m5 0h1m1 0h1m16 0h1M380 268.5h17m35 0h1m5 0h1m8 0h2m11 0h1m1 0h1m1 0h1m2 0h2m2 0h2m1 0h2m2 0h1m1 0h11m2 0h15m14 0h1m2 0h1m2 0h1m29 0h1m2 0h1M380 269.5h7m1 0h9m18 0h1m15 0h2m12 0h4m2 0h1m8 0h2m1 0h2m6 0h2m1 0h4m4 0h27m19 0h1m28 0h2m2 0h1M381 270.5h9m1 0h6m18 0h1m4 0h4m1 0h1m21 0h1m1 0h4m7 0h1m1 0h6m2 0h1m2 0h2m2 0h31m1 0h1m18 0h1m26 0h1m1 0h3m1 0h1M379 271.5h17m17 0h2m2 0h1m3 0h4m1 0h1m6 0h1m12 0h3m11 0h1m1 0h4m1 0h1m3 0h1m1 0h1m7 0h26m1 0h2m1 0h1m16 0h1m25 0h2m1 0h3m1 0h1M379 272.5h2m1 0h15m17 0h2m4 0h7m5 0h1m13 0h2m1 0h2m9 0h5m2 0h1m6 0h2m4 0h31m10 0h1m3 0h1m1 0h1m1 0h1m26 0h1M377 273.5h1m1 0h17m1 0h3m15 0h1m3 0h6m1 0h1m3 0h1m9 0h1m4 0h2m4 0h1m8 0h1m2 0h1m2 0h1m4 0h1m1 0h31m1 0h2m1 0h10m9 0h1m27 0h1m1 0h2M379 274.5h9m1 0h2m1 0h8m2 0h1m17 0h5m21 0h1m12 0h2m1 0h1m1 0h2m9 0h30m1 0h8m1 0h1m6 0h1m5 0h1m2 0h1m30 0h1M379 275.5h4m4 0h4m1 0h6m1 0h4m1 0h1m11 0h2m2 0h1m1 0h2m2 0h1m12 0h1m20 0h1m1 0h8m3 0h1m1 0h17m1 0h1m1 0h8m1 0h7m2 0h2m5 0h1m15 0h1m20 0h2m3 0h1M379 276.5h5m1 0h1m2 0h3m1 0h2m3 0h1m1 0h3m2 0h1m7 0h1m1 0h1m4 0h6m14 0h1m7 0h1m9 0h1m2 0h1m1 0h3m1 0h2m2 0h1m1 0h1m1 0h5m1 0h25m2 0h8m3 0h1m2 0h1m15 0h3M376 277.5h1m1 0h6m2 0h2m1 0h1m1 0h5m4 0h2m2 0h1m12 0h2m3 0h3m17 0h1m6 0h2m7 0h1m2 0h2m1 0h1m1 0h2m2 0h1m2 0h39m2 0h1m12 0h1m1 0h1m5 0h4m1 0h2m14 0h2M374 278.5h1m4 0h14m6 0h2m11 0h1m2 0h1m4 0h3m1 0h1m38 0h1m1 0h47m1 0h1m16 0h1m1 0h1m1 0h5m1 0h2m1 0h1M374 279.5h1m1 0h1m1 0h3m1 0h2m1 0h3m3 0h2m1 0h3m1 0h1m1 0h1m3 0h1m6 0h2m4 0h3m1 0h2m1 0h4m27 0h3m3 0h2m1 0h40m1 0h9m1 0h1m1 0h1m16 0h4m1 0h3m15 0h1m4 0h2m3 0h1M376 280.5h5m1 0h6m1 0h3m1 0h4m2 0h2m3 0h2m2 0h1m1 0h2m1 0h1m2 0h3m1 0h1m1 0h2m35 0h2m1 0h1m2 0h7m1 0h39m1 0h2m4 0h1m1 0h1m9 0h1m2 0h8m15 0h1m2 0h4M372 281.5h1m2 0h1m2 0h3m2 0h2m1 0h2m1 0h2m2 0h4m1 0h4m6 0h5m1 0h2m1 0h3m2 0h3m23 0h1m3 0h1m11 0h8m1 0h37m2 0h2m1 0h2m1 0h1m2 0h1m7 0h5m1 0h6m19 0h1M369 282.5h2m6 0h5m4 0h6m1 0h9m6 0h1m1 0h7m5 0h2m1 0h1m22 0h1m6 0h1m8 0h27m1 0h16m7 0h1m2 0h2m3 0h1m2 0h2m2 0h1m5 0h4M366 283.5h2m1 0h3m1 0h1m2 0h9m1 0h5m1 0h6m2 0h3m2 0h1m3 0h8m34 0h3m9 0h30m2 0h11m1 0h1m7 0h2m4 0h3m2 0h1m2 0h2m4 0h1m2 0h3M369 284.5h15m2 0h2m1 0h2m1 0h5m4 0h4m6 0h1m1 0h4m34 0h1m11 0h38m1 0h2m2 0h3m1 0h1m10 0h3m1 0h6m5 0h4m2 0h1M368 285.5h16m1 0h12m1 0h1m2 0h2m1 0h3m6 0h2m1 0h1m20 0h1m12 0h2m13 0h40m2 0h1m8 0h2m4 0h1m2 0h7m5 0h4M369 286.5h3m1 0h9m1 0h14m3 0h1m2 0h4m6 0h1m1 0h2m2 0h1m30 0h3m8 0h1m1 0h2m1 0h16m1 0h14m1 0h7m3 0h1m1 0h2m11 0h4m3 0h1m2 0h1m4 0h2M369 287.5h2m3 0h5m1 0h9m1 0h1m3 0h1m1 0h3m1 0h8m4 0h5m16 0h3m2 0h1m8 0h1m2 0h1m13 0h19m1 0h20m1 0h8m8 0h1m2 0h1m4 0h3m2 0h3M375 288.5h1m1 0h2m2 0h1m1 0h6m1 0h2m3 0h1m1 0h13m3 0h4m17 0h2m8 0h1m17 0h10m2 0h8m3 0h22m1 0h5m17 0h1m1 0h1m1 0h3m29 0h1m20 0h1M374 289.5h1m1 0h6m2 0h8m3 0h1m2 0h2m1 0h2m1 0h1m1 0h6m1 0h1m2 0h2m3 0h1m1 0h1m8 0h1m1 0h1m1 0h1m6 0h2m16 0h2m1 0h18m1 0h19m1 0h1m2 0h1m1 0h5m20 0h2M376 290.5h7m2 0h5m1 0h1m2 0h1m2 0h5m2 0h1m1 0h10m1 0h1m1 0h1m14 0h1m8 0h3m1 0h1m14 0h9m1 0h2m1 0h8m1 0h21m1 0h1m1 0h5M367 291.5h1m3 0h2m1 0h1m2 0h1m2 0h12m1 0h3m2 0h8m1 0h7m2 0h4m14 0h1m6 0h1m1 0h3m14 0h1m1 0h11m1 0h38m21 0h1M366 292.5h1m1 0h1m1 0h1m1 0h2m7 0h1m1 0h5m1 0h3m2 0h3m1 0h2m1 0h19m13 0h1m4 0h2m1 0h4m12 0h9m1 0h5m1 0h6m1 0h2m1 0h15m1 0h13m27 0h1M365 293.5h3m1 0h4m1 0h1m5 0h7m1 0h4m1 0h2m1 0h20m1 0h1m1 0h1m20 0h2m2 0h3m11 0h8m1 0h2m1 0h7m3 0h6m1 0h24m24 0h2M363 294.5h2m3 0h1m2 0h1m8 0h5m1 0h1m2 0h6m1 0h7m1 0h14m1 0h1m1 0h1m17 0h2m3 0h2m1 0h2m12 0h6m1 0h9m1 0h1m1 0h32m22 0h6m15 0h1M363 295.5h3m3 0h3m1 0h1m4 0h1m1 0h6m1 0h16m1 0h8m1 0h6m11 0h1m2 0h1m9 0h3m11 0h1m2 0h5m2 0h10m3 0h10m1 0h19m23 0h1m1 0h2m2 0h1M366 296.5h1m2 0h5m2 0h1m3 0h6m1 0h2m1 0h12m1 0h18m7 0h3m1 0h1m9 0h1m1 0h5m1 0h2m3 0h1m4 0h1m3 0h1m1 0h10m4 0h2m1 0h5m1 0h21m22 0h3m2 0h1m1 0h3M368 297.5h4m5 0h1m1 0h8m1 0h7m1 0h1m1 0h5m3 0h14m11 0h2m8 0h1m1 0h5m1 0h1m3 0h1m1 0h1m3 0h2m2 0h2m1 0h11m1 0h31m1 0h1m2 0h1m16 0h4m1 0h1m4 0h1m1 0h1M366 298.5h1m2 0h5m1 0h1m4 0h2m1 0h1m1 0h12m1 0h22m8 0h2m1 0h1m10 0h7m1 0h6m4 0h2m2 0h1m1 0h3m1 0h6m3 0h31m2 0h1m10 0h1m1 0h1m6 0h1m5 0h1m2 0h1M352 299.5h1m3 0h1m9 0h1m4 0h2m2 0h1m1 0h1m9 0h10m2 0h6m1 0h12m1 0h1m7 0h1m14 0h9m1 0h7m4 0h2m1 0h11m3 0h17m2 0h12m12 0h1m3 0h1m1 0h2m3 0h1m1 0h1m4 0h1M371 300.5h1m13 0h1m1 0h10m1 0h7m1 0h13m5 0h1m3 0h2m12 0h7m1 0h2m1 0h8m1 0h14m1 0h34m19 0h2m1 0h6m3 0h1M370 301.5h1m16 0h29m1 0h1m10 0h2m10 0h13m1 0h7m2 0h32m1 0h9m1 0h5m18 0h2m2 0h5m1 0h1m1 0h2M350 302.5h2m33 0h1m1 0h12m1 0h17m2 0h1m11 0h1m7 0h1m1 0h4m2 0h6m1 0h5m1 0h1m2 0h10m2 0h7m6 0h1m1 0h21m1 0h1m16 0h2m2 0h5m3 0h1M351 303.5h2m17 0h2m12 0h15m1 0h15m19 0h1m6 0h3m2 0h4m2 0h1m1 0h7m2 0h24m1 0h2m1 0h5m1 0h13m19 0h1m1 0h1m1 0h5M352 304.5h1m12 0h3m1 0h2m11 0h33m12 0h1m1 0h2m3 0h3m1 0h7m1 0h3m1 0h3m3 0h16m3 0h9m1 0h1m2 0h1m2 0h18m2 0h1m2 0h1m1 0h1m11 0h7m1 0h1m87 0h1M385 305.5h5m1 0h24m12 0h1m2 0h1m4 0h1m2 0h2m1 0h7m2 0h1m2 0h1m1 0h2m5 0h11m1 0h3m1 0h5m1 0h15m2 0h9m1 0h5m15 0h2m1 0h2m1 0h3M367 306.5h1m1 0h2m9 0h1m3 0h31m12 0h2m1 0h1m6 0h6m1 0h1m1 0h2m6 0h1m4 0h1m1 0h2m1 0h7m1 0h1m1 0h3m1 0h8m6 0h1m1 0h6m1 0h1m1 0h7m2 0h1m3 0h1m11 0h1m4 0h4m1 0h1M363 307.5h1m3 0h1m1 0h3m7 0h3m4 0h28m1 0h1m9 0h1m1 0h2m1 0h1m6 0h12m4 0h1m1 0h1m3 0h1m1 0h1m1 0h14m1 0h12m1 0h1m1 0h9m1 0h6m5 0h1m13 0h2m1 0h5m1 0h2m1 0h1M349 308.5h1m21 0h1m5 0h1m1 0h2m4 0h11m1 0h19m9 0h1m1 0h2m1 0h1m7 0h1m1 0h2m1 0h4m1 0h1m2 0h8m1 0h1m3 0h2m1 0h9m2 0h14m2 0h5m4 0h1m1 0h7m2 0h1m13 0h2m1 0h5m1 0h3m2 0h1M368 309.5h1m2 0h3m1 0h2m2 0h5m1 0h12m2 0h10m1 0h5m10 0h1m1 0h2m1 0h1m6 0h2m1 0h1m1 0h5m4 0h1m2 0h2m1 0h20m1 0h9m1 0h1m1 0h1m1 0h1m10 0h9m1 0h1m15 0h4m1 0h3m1 0h1m3 0h1m71 0h1M361 310.5h1m4 0h1m1 0h1m1 0h1m6 0h1m1 0h3m2 0h5m1 0h3m1 0h1m4 0h1m1 0h15m12 0h1m1 0h1m2 0h1m2 0h2m1 0h3m1 0h5m5 0h12m1 0h10m1 0h2m1 0h7m4 0h1m5 0h1m6 0h9m1 0h2m6 0h1m8 0h2m1 0h1m2 0h4m2 0h1M357 311.5h2m2 0h2m7 0h2m13 0h2m1 0h1m3 0h1m4 0h17m1 0h1m12 0h2m1 0h1m1 0h3m2 0h1m1 0h8m3 0h2m2 0h4m1 0h2m1 0h2m1 0h11m5 0h5m1 0h1m11 0h2m1 0h8m17 0h3m1 0h1m1 0h6m67 0h1M363 312.5h1m1 0h1m2 0h3m5 0h10m2 0h1m4 0h2m2 0h1m1 0h1m1 0h15m12 0h11m3 0h2m1 0h1m1 0h3m2 0h1m5 0h3m4 0h1m2 0h11m5 0h3m10 0h1m2 0h2m1 0h9m17 0h1m2 0h1m2 0h6m66 0h1m1 0h1m10 0h1m2 0h1M357 313.5h3m5 0h1m4 0h3m1 0h3m1 0h9m7 0h3m4 0h8m1 0h2m1 0h1m1 0h1m1 0h1m1 0h1m5 0h1m2 0h9m3 0h2m1 0h1m1 0h6m10 0h1m6 0h3m1 0h2m1 0h4m21 0h9m1 0h1m24 0h5m75 0h1m1 0h1M359 314.5h1m8 0h5m1 0h3m6 0h4m5 0h2m3 0h3m2 0h7m10 0h1m5 0h1m2 0h13m1 0h2m1 0h1m1 0h6m1 0h1m8 0h1m4 0h6m1 0h4m4 0h1m15 0h12m25 0h3m69 0h1M368 315.5h4m1 0h2m1 0h2m1 0h1m2 0h1m1 0h3m6 0h1m1 0h3m1 0h1m13 0h1m14 0h11m2 0h1m3 0h6m9 0h1m7 0h1m1 0h2m1 0h1m2 0h4m1 0h8m10 0h1m1 0h7m1 0h2m23 0h5m1 0h1m7 0h1m47 0h1m1 0h1m9 0h1M368 316.5h4m2 0h2m1 0h1m1 0h1m1 0h5m5 0h1m1 0h1m1 0h1m1 0h6m1 0h3m20 0h3m1 0h1m1 0h10m1 0h2m2 0h4m2 0h2m5 0h2m5 0h1m1 0h1m1 0h7m1 0h1m1 0h6m1 0h2m1 0h1m3 0h1m1 0h9m1 0h1m26 0h4m2 0h1m6 0h1m1 0h1m66 0h1M372 317.5h8m1 0h6m9 0h1m1 0h4m2 0h4m2 0h2m12 0h8m1 0h6m2 0h4m4 0h1m1 0h3m1 0h1m1 0h1m12 0h1m1 0h3m1 0h1m2 0h18m3 0h7m1 0h3m1 0h3m14 0h1m6 0h4m6 0h2m2 0h2m4 0h1m1 0h1m40 0h1M375 318.5h1m1 0h1m1 0h2m1 0h3m1 0h1m4 0h2m3 0h1m1 0h3m1 0h2m2 0h2m1 0h2m14 0h2m1 0h3m3 0h9m4 0h8m3 0h2m12 0h1m1 0h4m1 0h9m1 0h2m1 0h5m1 0h10m2 0h1m1 0h1m23 0h1m1 0h1m1 0h1m7 0h2m6 0h1m57 0h1m2 0h1M382 319.5h1m1 0h1m14 0h2m1 0h2m3 0h1m2 0h1m17 0h2m1 0h1m1 0h1m2 0h1m1 0h2m6 0h4m1 0h2m7 0h3m2 0h2m6 0h5m1 0h12m1 0h2m2 0h2m1 0h10m1 0h3m1 0h1m15 0h1m4 0h6m5 0h5m57 0h2m6 0h2M381 320.5h3m3 0h2m8 0h1m1 0h1m6 0h3m1 0h1m2 0h2m13 0h4m2 0h8m1 0h1m2 0h10m1 0h1m1 0h1m2 0h1m10 0h5m1 0h2m1 0h1m2 0h1m6 0h1m1 0h14m1 0h1m1 0h3m1 0h1m2 0h2m10 0h1m3 0h7m3 0h2m2 0h2m51 0h1m5 0h1m2 0h2m2 0h2m1 0h1M379 321.5h3m9 0h1m2 0h1m9 0h4m2 0h1m17 0h5m1 0h6m1 0h4m1 0h10m3 0h1m3 0h1m10 0h9m3 0h1m2 0h2m1 0h6m2 0h22m7 0h4m1 0h5m4 0h2m3 0h1m1 0h1m51 0h1m5 0h3m1 0h1M388 322.5h1m4 0h2m13 0h1m19 0h14m1 0h2m1 0h12m1 0h2m6 0h1m1 0h2m2 0h11m1 0h2m1 0h3m1 0h3m2 0h1m2 0h10m1 0h5m2 0h1m1 0h2m10 0h7m6 0h3m1 0h1m57 0h1m1 0h1M351 323.5h1m15 0h1m15 0h1m8 0h4m13 0h1m18 0h3m1 0h4m1 0h1m1 0h2m1 0h1m1 0h5m2 0h5m1 0h1m1 0h1m5 0h2m1 0h2m4 0h3m5 0h3m5 0h5m1 0h1m3 0h16m3 0h5m8 0h7m7 0h2m61 0h1M351 324.5h1m38 0h1m2 0h2m1 0h2m7 0h2m2 0h1m19 0h1m3 0h1m5 0h3m1 0h14m1 0h3m1 0h1m3 0h1m1 0h1m5 0h2m5 0h6m1 0h1m1 0h7m4 0h14m4 0h1m2 0h4m2 0h1m1 0h7m6 0h1m2 0h2m1 0h1M350 325.5h2m15 0h1m18 0h1m2 0h1m4 0h4m1 0h1m2 0h1m12 0h1m11 0h3m2 0h4m1 0h1m1 0h1m3 0h5m1 0h12m1 0h1m5 0h2m2 0h3m5 0h17m2 0h1m1 0h14m5 0h1m1 0h7m1 0h7m9 0h3m2 0h1M354 326.5h3m11 0h1m21 0h1m3 0h2m1 0h2m1 0h2m3 0h1m1 0h1m1 0h1m2 0h2m1 0h1m11 0h2m5 0h1m1 0h1m3 0h9m1 0h10m8 0h5m4 0h2m3 0h1m1 0h1m1 0h11m4 0h14m2 0h2m1 0h8m1 0h6m1 0h1m9 0h3m2 0h1m1 0h1M354 327.5h1m38 0h6m2 0h2m1 0h1m2 0h2m1 0h2m2 0h2m13 0h1m2 0h5m7 0h3m1 0h12m1 0h2m5 0h1m1 0h3m1 0h2m11 0h1m1 0h9m1 0h16m3 0h1m3 0h5m1 0h6m1 0h1m8 0h1m1 0h2m65 0h3M362 328.5h1m23 0h2m7 0h1m2 0h2m1 0h5m2 0h1m1 0h3m2 0h1m1 0h1m7 0h2m1 0h9m5 0h9m1 0h3m1 0h5m7 0h1m1 0h5m3 0h1m2 0h1m5 0h1m1 0h9m1 0h1m1 0h13m7 0h13m2 0h1m8 0h5m60 0h1m3 0h1M388 329.5h1m7 0h9m2 0h1m2 0h2m2 0h2m1 0h2m1 0h1m7 0h10m5 0h5m1 0h10m9 0h1m1 0h3m2 0h1m5 0h1m5 0h1m1 0h2m2 0h21m9 0h11m3 0h1m2 0h1m1 0h7m59 0h1m1 0h1m3 0h1M395 330.5h1m1 0h7m2 0h1m4 0h4m1 0h2m1 0h2m5 0h1m1 0h10m4 0h7m1 0h9m1 0h5m2 0h6m1 0h3m3 0h1m3 0h1m1 0h4m1 0h22m7 0h1m2 0h9m1 0h1m8 0h7m4 0h1m52 0h1m2 0h2M398 331.5h4m4 0h1m20 0h12m4 0h3m2 0h1m1 0h3m1 0h1m1 0h5m1 0h4m1 0h5m1 0h2m1 0h1m1 0h1m2 0h5m1 0h2m2 0h22m1 0h1m4 0h1m3 0h5m2 0h3m7 0h2m1 0h6m2 0h1M398 332.5h1m1 0h3m5 0h1m1 0h1m1 0h1m5 0h1m7 0h8m1 0h1m1 0h6m1 0h2m1 0h1m2 0h1m5 0h2m3 0h1m1 0h2m3 0h3m3 0h1m1 0h2m2 0h10m1 0h1m2 0h20m5 0h1m4 0h4m3 0h3m6 0h6m1 0h5m55 0h2M400 333.5h3m2 0h2m4 0h1m2 0h1m12 0h8m3 0h1m2 0h1m2 0h1m3 0h3m3 0h2m4 0h1m1 0h5m4 0h8m1 0h1m2 0h8m1 0h1m1 0h12m2 0h5m2 0h2m2 0h1m6 0h1m1 0h1m1 0h4m9 0h4m1 0h2M398 334.5h1m3 0h1m4 0h2m1 0h1m2 0h1m3 0h1m7 0h5m1 0h1m1 0h1m4 0h1m11 0h1m2 0h4m3 0h2m1 0h4m1 0h8m7 0h2m7 0h1m2 0h8m2 0h1m1 0h6m3 0h1m9 0h3m2 0h1m1 0h1m3 0h1m2 0h1m1 0h1m3 0h4M396 335.5h1m1 0h1m1 0h2m6 0h1m15 0h7m18 0h1m2 0h3m10 0h5m1 0h5m1 0h2m1 0h1m10 0h1m1 0h11m1 0h1m1 0h5m3 0h2m9 0h1m1 0h1m6 0h1m6 0h1m1 0h9M398 336.5h5m1 0h1m3 0h2m14 0h11m1 0h1m11 0h4m1 0h5m2 0h1m1 0h2m1 0h4m1 0h7m14 0h5m1 0h7m1 0h1m1 0h7m3 0h1m6 0h6m3 0h1m6 0h1m1 0h1m1 0h6M396 337.5h1m1 0h4m1 0h2m2 0h1m1 0h1m15 0h13m10 0h2m1 0h4m2 0h2m1 0h2m3 0h4m3 0h4m15 0h3m1 0h11m1 0h1m1 0h1m2 0h1m11 0h6m3 0h10m3 0h4M352 338.5h2m1 0h1m37 0h1m1 0h1m1 0h6m4 0h1m18 0h2m22 0h5m3 0h4m2 0h1m1 0h8m18 0h4m1 0h7m1 0h1m3 0h1m2 0h2m10 0h4m7 0h5m1 0h2m2 0h2m1 0h1M354 339.5h2m40 0h4m1 0h3m1 0h1m1 0h2m24 0h1m11 0h1m1 0h1m2 0h5m1 0h3m1 0h2m1 0h10m3 0h1m20 0h8m1 0h1m1 0h3m1 0h3m8 0h3m2 0h1m1 0h1m1 0h6m2 0h7m3 0h1M354 340.5h3m41 0h4m1 0h1m1 0h1m39 0h1m2 0h11m1 0h1m1 0h1m1 0h10m1 0h1m1 0h1m15 0h1m3 0h15m10 0h8m3 0h6m1 0h4M399 341.5h1m1 0h1m38 0h1m9 0h8m1 0h1m3 0h10m1 0h1m1 0h1m20 0h7m1 0h4m1 0h2m9 0h4m5 0h1m2 0h3m2 0h1m2 0h3m1 0h1M450 342.5h1m1 0h1m1 0h3m2 0h16m1 0h3m13 0h1m1 0h1m1 0h1m1 0h15m20 0h4m4 0h1m1 0h3m4 0h2M447 343.5h1m2 0h4m1 0h4m2 0h18m1 0h1m15 0h16m22 0h3m5 0h6m2 0h2M451 344.5h2m2 0h4m1 0h1m1 0h14m1 0h1m2 0h1m14 0h2m1 0h15m2 0h1m17 0h4m6 0h1m1 0h2m1 0h1m1 0h1M445 345.5h1m5 0h1m1 0h1m4 0h1m4 0h1m1 0h13m1 0h1m1 0h1m15 0h14m1 0h1m8 0h1m11 0h3m9 0h3m1 0h1M447 346.5h1m2 0h4m8 0h1m2 0h1m1 0h5m1 0h4m2 0h1m12 0h1m4 0h16m3 0h1m2 0h1m2 0h1m3 0h1m3 0h1m5 0h1m7 0h1m6 0h1M448 347.5h1m2 0h5m11 0h3m1 0h7m1 0h1m17 0h14M453 348.5h4m10 0h2m3 0h5m17 0h14m11 0h1m1 0h1m10 0h1m5 0h2m1 0h1m5 0h1M452 349.5h4m11 0h2m2 0h1m1 0h3m18 0h14m13 0h1m18 0h4M452 350.5h6m3 0h1m9 0h1m2 0h1m19 0h9m9 0h2m25 0h1M447 351.5h1m5 0h7m13 0h1m22 0h3m14 0h1m5 0h1m18 0h1m2 0h1M447 352.5h1m2 0h1m2 0h10m1 0h1m12 0h1m2 0h1m16 0h2m1 0h1m1 0h1m10 0h1m25 0h1M453 353.5h13m30 0h1m11 0h2m7 0h3m2 0h3M451 354.5h14m38 0h1m4 0h2m9 0h1m3 0h1M449 355.5h1m1 0h10m40 0h1M449 356.5h1m2 0h2m1 0h6m1 0h1m15 0h1M449 357.5h1m1 0h7m1 0h2m16 0h3M449 358.5h1m1 0h10m1 0h1m11 0h6M448 359.5h2m1 0h10m4 0h4m5 0h1m1 0h5M449 360.5h1m1 0h3m2 0h1m2 0h5m1 0h6m4 0h7m1 0h4M451 361.5h3m1 0h1m1 0h2m1 0h2m2 0h1m1 0h6m1 0h1m1 0h6m2 0h2m1 0h1M451 362.5h2m5 0h1m4 0h9m2 0h6m1 0h1m2 0h2m1 0h1M451 363.5h1m8 0h3m2 0h6m6 0h3m1 0h1M451 364.5h1m9 0h6m1 0h1m6 0h3m1 0h3M466 365.5h2m1 0h2m3 0h8M460 366.5h1m3 0h1m1 0h1m2 0h1m4 0h2m1 0h4M463 367.5h1m1 0h3m3 0h1m6 0h3M456 368.5h2m7 0h3m7 0h1m1 0h3M464 369.5h3m3 0h1m4 0h1m3 0h1M455 370.5h1m1 0h1m2 0h5m1 0h2m6 0h1m11 0h1M453 371.5h1m2 0h1m5 0h2m1 0h3m6 0h5M474 372.5h4M464 373.5h1m12 0h1M487 374.5h2m1 0h1M475 376.5h3M471 377.5h1m4 0h1M469 378.5h2m2 0h1M473 379.5h1m4 0h2M473 380.5h1m3 0h2m3 0h1M472 381.5h2m2 0h1M476 382.5h1M465 383.5h3M465 384.5h2"/>
</g>
<g fill="none" stroke="#000" stroke-width="1" shape-rendering="crispEdges"><polyline points="206.7,206.7 208.9,213.3 205.0,234.0 204.4,255.6 208.9,277.8 213.3,308.9 224.4,320.0 245.6,331.0 295.6,307.8"/><polyline points="323.3,241.0 315.6,257.8 306.7,268.9 317.8,273.3 315.6,284.4 308.9,295.6 295.6,307.8"/><polyline points="295.6,307.8 297.8,315.6 308.9,325.6 320.0,326.7 322.2,337.8 333.3,337.8 353.3,348.9 357.8,352.0 357.8,370.0 353.0,380.0 353.0,419.0"/><polyline points="366.7,241.5 377.8,244.4 368.9,258.9 386.7,260.0 392.2,261.0 403.3,278.9 423.3,298.9 427.8,334.4 445.6,338.9 454.4,370.0 460.0,381.0 478.0,384.4 484.4,374.4 491.0,374.4"/><polyline points="427.8,334.4 416.7,334.4 396.7,350.0 385.6,365.6 377.0,380.0 376.7,385.6 383.6,407.8 376.7,425.8 351.7,420.3"/><polyline points="493.3,214.4 493.3,233.3"/><polyline points="477.3,232.0 549.3,246.7 570.7,280.0 590.7,263.2 604.4,268.9 611.0,297.8 629.0,306.7 623.3,329.0 634.4,329.0"/><polyline points="477.3,232.0 469.3,241.3 470.7,252.0 461.3,268.0 465.3,289.3 470.0,314.4 478.9,330.0 481.0,354.0 489.0,372.0 502.0,389.0 518.0,399.0 531.0,416.7 553.0,461.0"/><polyline points="433.0,427.8 451.0,427.8 457.8,445.6 477.8,445.6 484.4,436.7 509.0,455.6 553.0,461.0"/><polyline points="462.0,450.0 506.0,474.4 506.0,489.0 498.7,499.0 501.0,513.6 476.7,525.8 464.5,534.4 440.0,536.8"/><polyline points="221.0,409.0 315.6,400.8 321.0,403.6 353.0,404.4"/><polyline points="351.7,420.3 354.4,435.6 365.6,452.0 385.0,467.5 421.0,470.3 424.0,457.8 432.0,446.7 433.6,428.6"/><polyline points="553.0,459.0 620.0,459.0 653.0,460.0 702.0,467.8 729.0,461.0 757.8,452.0"/><polyline points="584.3,459.8 579.4,473.2 583.0,477.0 573.3,486.7 581.8,521.0 584.3,538.0 574.5,547.8 572.0,567.4 555.0,574.7 559.8,587.0"/><polyline points="724.0,531.0 757.8,520.0 780.0,512.0 782.0,516.0 789.0,519.0 787.0,527.0 791.0,536.0"/></g>

<polyline points="370.0,239.0 383.3,221.0 387.8,216.7 417.8,216.7 417.8,194.4 425.6,191.0 445.6,182.0 461.0,191.0 481.0,203.0 493.3,214.4 500.0,216.7 528.9,214.4 546.7,194.4 564.4,172.2 568.9,161.0 584.4,150.0 601.0,135.6 597.8,126.7 596.7,94.4 580.0,78.9 618.9,78.9 617.8,61.0 652.2,62.2 648.9,72.2 644.4,98.9 648.9,143.3 650.0,155.6 662.2,158.9 675.6,172.2 684.4,181.1 693.3,192.2 696.7,196.7 696.7,207.8 693.5,209.4 695.4,214.0 692.2,215.6 692.3,218.2 692.4,220.9 692.2,223.5 691.5,226.0 692.3,228.7 690.0,231.0 692.9,229.7 695.8,229.2 698.6,232.9 701.5,232.3 704.4,231.0 704.4,233.5 705.0,236.0 705.9,238.4 706.9,240.9 706.6,243.4 705.4,246.0 705.8,248.5 705.6,251.0 704.5,253.5 705.3,256.0 705.4,258.5 703.6,261.0 703.9,263.5 705.4,266.0 705.7,268.5 705.0,271.0 703.6,273.5 705.0,276.0 705.6,278.5 704.3,281.0 706.1,283.5 706.2,286.0 704.8,288.5 705.6,291.0 702.4,290.5 699.6,291.7 696.6,291.8 694.4,295.6 691.0,294.4 688.6,296.1 687.3,299.1 685.7,301.7 682.2,302.2 678.6,301.1 675.6,298.9 673.0,298.1 670.4,298.8 667.7,299.9 665.1,298.9 662.6,298.4 660.0,297.8 656.7,296.8 653.6,297.2 650.6,298.3 647.8,300.0 645.3,302.1 646.0,304.8 647.0,307.7 645.6,310.0 644.9,312.9 643.9,315.8 644.4,318.9 642.1,320.7 640.6,323.5 637.9,324.9 635.6,326.7 637.2,329.4 635.1,331.7 634.1,334.1 634.4,336.7 637.6,335.8 639.9,337.6 642.8,337.6 645.0,340.1 648.2,339.0 650.9,339.8 653.0,342.4 655.6,343.3 658.7,344.4 661.2,340.6 664.4,342.2 667.6,341.6 669.9,343.6 672.8,344.0 674.6,347.3 677.8,346.7 680.4,347.6 682.2,349.7 685.2,350.1 686.0,353.6 688.6,354.6 691.1,355.6 692.9,357.4 695.9,358.2 695.2,362.2 697.8,363.3 696.8,366.4 697.2,369.2 697.5,372.0 700.0,374.4 701.5,377.0 704.5,377.1 707.3,377.7 708.9,380.0 711.2,382.2 709.4,385.5 711.1,387.8 714.2,387.4 716.8,388.2 719.3,389.5 721.6,391.2 723.9,393.0 726.7,393.3 728.8,395.3 730.3,397.6 730.3,400.3 729.2,403.5 731.1,405.6 733.3,408.1 736.3,408.8 739.4,409.0 742.2,410.0 744.8,411.5 747.8,412.1 750.2,414.2 753.3,414.4 755.9,416.3 757.8,418.8 760.0,421.1 760.0,425.6 759.4,428.6 757.9,431.3 757.8,434.4 757.8,437.6 757.0,440.9 757.5,444.0 760.0,446.7 758.0,449.5 761.7,452.2 761.3,455.0 760.0,457.8 762.8,459.2 763.4,462.2 766.6,463.3 766.7,466.7 766.9,469.8 766.6,473.0 768.9,475.6 771.6,476.4 774.3,477.3 776.6,478.7 778.3,481.0 780.0,483.3 779.6,486.3 778.0,489.2 780.0,492.2 783.0,491.8 786.1,491.3 788.6,489.7 791.1,487.8 793.6,490.0 796.3,490.2 798.9,490.4 801.8,488.3 804.4,488.9 807.1,489.6 809.9,489.9 811.4,493.4 814.4,493.3 812.6,495.7 813.4,498.3 813.9,501.0 812.7,503.4 813.5,506.1 814.1,508.7 812.2,511.1 812.4,513.9 810.2,516.7 811.5,519.5 812.6,522.2 813.9,525.0 812.2,527.8 815.4,528.9 815.8,532.1 816.5,535.1 818.9,536.7 722.2,537.1 666.7,592.2 664.1,593.1 661.6,593.9 659.1,593.1 656.7,591.8 654.3,590.1 651.7,590.5 649.2,591.5 646.7,591.1 643.8,590.6 642.4,587.8 640.0,586.7 639.0,583.4 635.6,583.2 632.9,582.4 630.9,585.2 628.6,586.4 625.5,584.1 623.1,584.9 621.2,588.1 618.5,587.8 616.3,589.2 613.8,589.6 611.2,589.9 608.8,590.5 606.0,589.4 603.6,590.2 601.2,590.9 598.9,592.3 596.3,592.1 593.5,591.8 591.9,595.1 589.0,594.3 588.8,597.4 588.2,600.4 586.3,602.8 584.0,605.0 580.5,606.0 577.7,604.2 574.9,603.0 572.0,601.6 569.0,599.6 567.0,596.7 563.9,595.6 562.4,593.2 560.1,591.4 559.8,588.0 558.2,591.0 555.2,591.1 553.3,593.3 549.7,592.4 547.0,593.1 546.0,597.2 542.7,596.7 540.1,596.5 537.3,596.7 535.1,595.1 532.8,593.8 529.9,594.5 527.6,593.0 525.3,591.9 523.4,589.5 520.7,589.4 518.8,591.6 515.6,591.5 513.9,594.2 511.4,595.2 509.2,596.9 506.0,596.7 503.6,598.6 501.9,600.9 499.8,603.0 500.0,606.5 498.9,603.4 496.7,601.6 494.5,599.9 491.2,599.6 488.9,598.0 485.8,599.8 482.8,601.6 484.1,598.5 482.3,595.8 482.0,593.0 481.3,590.2 481.6,587.2 480.3,584.5 477.5,583.3 474.7,582.2 472.1,580.6 469.3,579.6 466.2,579.2 463.0,580.2 460.0,579.0 458.9,576.5 455.6,575.6 453.5,573.8 451.9,571.7 452.0,568.2 449.8,566.5 447.3,565.0 446.8,562.0 443.6,562.0 442.4,559.2 439.7,558.6 437.4,557.3 436.4,554.3 434.5,552.6 433.2,549.3 433.9,546.1 435.4,543.1 433.1,541.6 431.0,539.9 429.8,537.4 427.2,537.3 425.1,534.7 422.3,535.5 419.4,536.5 416.8,536.2 414.7,533.7 414.7,536.5 413.4,538.7 411.5,540.6 410.8,543.1 409.0,545.0 407.4,547.6 405.4,549.9 403.1,551.7 400.3,552.9 397.7,554.4 395.1,554.1 392.9,552.7 391.3,549.8 388.8,549.2 385.4,550.9 384.1,547.3 381.6,546.7 378.8,546.9 376.0,546.2 374.1,543.6 371.2,543.1 368.8,544.0 367.1,546.1 365.2,547.9 363.3,549.8 360.6,550.2 358.0,550.7 355.3,551.1 353.6,553.2 351.1,553.9 348.2,554.0 347.3,557.5 344.8,558.2 342.3,556.9 339.6,556.0 336.6,555.9 333.9,554.9 331.8,552.8 329.7,550.7 327.9,548.1 325.4,546.0 324.0,543.1 321.4,542.1 319.3,539.9 316.8,538.6 314.6,536.7 312.0,535.6 308.9,535.6 308.5,532.6 307.5,530.0 305.8,527.8 303.7,525.9 301.3,524.2 300.0,521.2 296.5,520.8 294.1,519.1 292.7,516.1 290.0,514.8 289.6,511.9 288.9,509.2 286.6,507.4 284.4,505.6 281.9,504.1 283.5,500.2 282.3,498.0 279.0,496.9 279.5,493.7 277.6,491.8 275.6,490.0 273.3,487.7 273.3,485.0 273.0,482.4 275.4,479.4 273.3,477.1 273.3,474.4 271.4,471.7 269.8,468.8 268.9,465.6 266.0,465.2 263.1,464.8 260.9,462.7 259.0,460.1 256.4,458.7 253.3,458.9 251.3,457.3 248.7,456.1 247.8,453.5 246.7,451.1 243.9,452.2 241.2,452.1 238.5,452.4 236.1,448.7 233.3,450.0 231.2,446.8 227.2,447.3 224.4,445.6 227.4,444.1 228.9,441.1 229.7,437.1 226.7,434.4 223.1,434.4 220.8,432.5 218.5,430.6 216.7,427.8 216.5,424.8 215.9,421.9 215.6,418.9 217.0,416.2 218.7,413.8 222.2,412.5 222.2,408.9 220.5,405.9 217.2,406.0 214.0,405.9 212.7,402.0 209.1,402.7 206.7,401.1 203.8,399.5 202.0,396.9 200.0,394.4 198.7,391.9 197.9,389.1 196.0,387.0 193.3,385.6 190.8,384.8 189.1,382.7 186.9,381.4 185.4,378.9 182.7,378.5 179.4,379.2 176.9,378.5 175.6,375.6 173.4,373.7 170.4,373.6 167.2,374.0 164.7,372.7 162.5,370.8 160.8,367.9 157.8,367.8 155.1,366.6 153.7,363.9 151.9,361.5 148.8,360.9 146.7,358.9 145.6,356.4 147.0,353.1 144.4,351.1 148.6,351.2 151.1,347.8 152.5,344.6 151.4,342.0 151.4,339.1 148.9,336.7 148.5,334.0 146.7,332.0 143.8,331.4 140.7,332.3 137.8,331.0 135.3,329.7 133.2,328.0 132.4,324.5 129.0,324.4 128.5,321.5 128.4,318.5 125.5,316.7 123.5,314.1 120.6,314.5 117.8,314.4 115.4,312.1 112.3,315.5 109.8,314.0 107.4,312.1 104.3,314.3 102.0,312.0 100.0,309.0 97.3,310.7 94.8,308.2 92.2,308.5 89.5,309.7 86.9,309.2 84.4,307.8 81.4,305.6 80.5,302.0 81.3,299.5 82.2,297.1 82.0,294.4 84.4,291.7 86.7,289.0 84.4,286.7 85.6,284.2 87.7,282.6 91.0,282.1 92.6,280.1 94.7,278.4 95.5,275.5 98.7,274.8 100.9,271.8 104.4,272.0 107.8,269.0 105.4,266.4 106.3,263.0 105.5,260.0 105.9,257.5 105.0,254.9 104.5,252.3 106.7,250.0 106.7,247.2 107.5,244.7 108.3,242.2 110.0,240.0 118.0,227.0 117.0,216.0 123.0,209.0 134.7,199.5 137.0,189.0 140.0,180.5 157.0,177.0 190.5,173.0 191.0,176.0 192.0,190.0 200.0,193.0 208.0,204.0 211.0,211.0 213.0,220.0 218.0,225.5 227.0,229.0 238.0,232.0 247.0,230.0 258.0,225.5 275.5,225.0 290.0,224.4 316.7,225.6 323.3,237.8 324.4,241.5" fill="none" stroke="#000" stroke-width="2" stroke-linejoin="round"/>
<polyline points="110.0,240.0 118.0,227.0 117.0,216.0 123.0,209.0 134.7,199.5 137.0,189.0 140.0,180.5 157.0,177.0 190.5,173.0 191.0,176.0 192.0,190.0 200.0,193.0 208.0,204.0 211.0,211.0 213.0,220.0 218.0,225.5 227.0,229.0 238.0,232.0 247.0,230.0 258.0,225.5 275.5,225.0 290.0,224.4 316.7,225.6 323.3,237.8 324.4,241.5 366.7,241.5 370.0,239.0 383.3,221.0 387.8,216.7 417.8,216.7 417.8,194.4 425.6,191.0 445.6,182.0 461.0,191.0 481.0,203.0 493.3,214.4 500.0,216.7 528.9,214.4 546.7,194.4 564.4,172.2 568.9,161.0 584.4,150.0 601.0,135.6 597.8,126.7 596.7,94.4 580.0,78.9 618.9,78.9 617.8,61.0 652.2,62.2 648.9,72.2 644.4,98.9 648.9,143.3 650.0,155.6 662.2,158.9 675.6,172.2 684.4,181.1 693.3,192.2 696.7,196.7 696.7,207.8" fill="none" stroke="#e6e6e6" stroke-width="2.4" stroke-dasharray="3,19"/>
<polygon points="309.6,191.8 331.0,191.8 332.0,193.3 383.3,193.9 383.3,217.0 371.0,238.0 368.5,241.5 324.2,241.5 323.3,237.8 310.6,213.3" fill="#cccccc" stroke="#000" stroke-width="2.4" stroke-dasharray="2.6,1.9"/>
</g>
<text x="20.8" y="47.6" textLength="183.5" lengthAdjust="spacingAndGlyphs" style="font-size:31px;font-weight:bold">South Sudan</text>
<text x="20" y="673" class="tx" style="font-weight:bold;letter-spacing:0.14px">Agricultural Stress Index (ASI)</text>
<text x="20" y="703" class="tx">% of grassland area affected by severe drought</text>
<text x="20" y="732" class="tx">per GAUL 2 region</text>
<text x="20" y="762" class="tx">from</text><text x="76" y="762" class="tx">: start of SEASON 1</text>
<text x="20" y="792" class="tx">to</text><text x="66" y="792" class="tx">: dekad 1 January 2026</text>
<text x="20" y="852" class="tx">METOP-AVHRR</text>
<text x="20" y="882" class="tx">WGS84, Geographic Lat/Lon</text>
<text x="470" y="664.7" style="font-size:13.6px;font-weight:bold;letter-spacing:-0.1px">ASI (%)</text>
<rect x="470" y="665.6" width="50" height="1.2" fill="#000"/>
<rect x="470" y="671" width="28" height="14" fill="#33cc00"/><text x="510" y="682" class="lg">&lt; 10</text>
<rect x="470" y="688" width="28" height="14" fill="#99e619"/><text x="510" y="699" class="lg">10 - 25</text>
<rect x="470" y="705" width="28" height="14" fill="#ffff33"/><text x="510" y="716" class="lg">25 - 40</text>
<rect x="470" y="722" width="28" height="14" fill="#ffb326"/><text x="510" y="733" class="lg">40 - 55</text>
<rect x="470" y="739" width="28" height="14" fill="#ff751a"/><text x="510" y="750" class="lg">55 - 70</text>
<rect x="470" y="756" width="28" height="14" fill="#ff2b0a"/><text x="510" y="767" class="lg">70 - 85</text>
<rect x="470" y="773" width="28" height="14" fill="#c00000"/><text x="510" y="784" class="lg">&gt;= 85</text>
<rect x="470" y="801" width="28" height="14" fill="#6666ff"/><text x="510" y="812" class="lg">off season</text>
<rect x="470" y="818" width="28" height="14" fill="#000000"/><text x="510" y="829" class="lg">no data</text>
<rect x="470" y="835" width="28" height="14" fill="#666666"/><text x="510" y="846" class="lg">no seasons</text>
<rect x="470" y="852" width="28" height="14" fill="#cccccc"/><text x="510" y="863" class="lg">no grassland</text>

<g id="fao" fill="#231f20" stroke="none">
<circle cx="701.3" cy="758.9" r="26.9" fill="none" stroke="#231f20" stroke-width="2.3"/>
<text x="682.9" y="760.8" text-anchor="middle" style="font-size:14.5px;font-weight:bold;fill:#231f20">F</text>
<text x="718.8" y="760.8" text-anchor="middle" style="font-size:14.5px;font-weight:bold;fill:#231f20">O</text>
<text x="701.3" y="747.9" text-anchor="middle" style="font-size:14.5px;font-weight:bold;fill:#231f20">A</text>
<path d="M686 739.3 L700.6 770.5 L715.6 739.3" fill="none" stroke="#231f20" stroke-width="2"/>
<path d="M689.6 739.3 L700.6 763.5 L712 739.3" fill="none" stroke="#231f20" stroke-width="1.8"/>
<path d="M696.2 765 Q700.6 771 705 765 Q707.5 773 700.6 775.6 Q693.8 773 696.2 765Z"/>
<path d="M697.2 757 Q700.6 763 704 757 L704.5 760 Q700.6 766 696.7 760Z"/>
<path d="M700.6 747.8 Q703.3 752 702.8 754 Q700.6 757 698.4 754 Q698 752 700.6 747.8Z"/>
<rect x="700" y="774" width="1.4" height="11.5"/>
<path id="arcL" d="M680.5 766 A22.5 22.5 0 0 0 698.5 781.3" fill="none"/>
<path id="arcR" d="M703.5 781.5 A22.5 22.5 0 0 0 722.8 763" fill="none"/>
<text style="font-size:7px;font-weight:bold;fill:#231f20;letter-spacing:1.1px"><textPath href="#arcL">FIAT</textPath></text>
<text style="font-size:7px;font-weight:bold;fill:#231f20;letter-spacing:0.6px"><textPath href="#arcR">PANIS</textPath></text>
</g>
<text x="739.5" y="748.3" textLength="137.7" lengthAdjust="spacingAndGlyphs" style="font-size:14.4px;font-weight:bold;fill:#231f20">Food and Agriculture</text>
<text x="739.5" y="765.8" textLength="127.5" lengthAdjust="spacingAndGlyphs" style="font-size:14.4px;font-weight:bold;fill:#231f20">Organization of the</text>
<text x="739.5" y="783.3" textLength="98.3" lengthAdjust="spacingAndGlyphs" style="font-size:14.4px;font-weight:bold;fill:#231f20">United Nations</text>
<rect x="672.7" y="801.2" width="215.1" height="2" fill="#231f20"/>
<text x="673" y="827" textLength="185.5" lengthAdjust="spacingAndGlyphs" style="font-size:14.3px;fill:#231f20">Global Information and Early</text>
<text x="673" y="844.8" textLength="161.4" lengthAdjust="spacingAndGlyphs" style="font-size:14.3px;fill:#231f20">Warning System – GIEWS</text>
<g style="font-size:12px;font-style:italic">
<text x="25" y="900" textLength="854" lengthAdjust="spacingAndGlyphs">Disclaimer: The boundaries and names shown and the designations used on this map do not imply the expression of any opinion whatsoever on the part of FAO concerning the legal</text>
<text x="25" y="914.3" textLength="836" lengthAdjust="spacingAndGlyphs">status of any country, territory, city or area or of its authorities, or concerning the delimitation of its frontiers and boundaries. Dashed lines represent approximate border lines for</text>
<text x="25" y="929" textLength="842" lengthAdjust="spacingAndGlyphs">which there may not yet be full agreement.  Final boundary between the Republic of Sudan and the Republic of South Sudan has not yet been determined. Final status of the Abyei</text>
<text x="25" y="943.3" textLength="125" lengthAdjust="spacingAndGlyphs">area is not yet determined.</text>
</g>
<rect x="0" y="0" width="900" height="2" fill="#000"/>
<rect x="0" y="948" width="900" height="2" fill="#000"/>
<rect x="0" y="0" width="2" height="950" fill="#000"/>
<rect x="898" y="0" width="2" height="950" fill="#000"/>
</svg>
</body></html>
